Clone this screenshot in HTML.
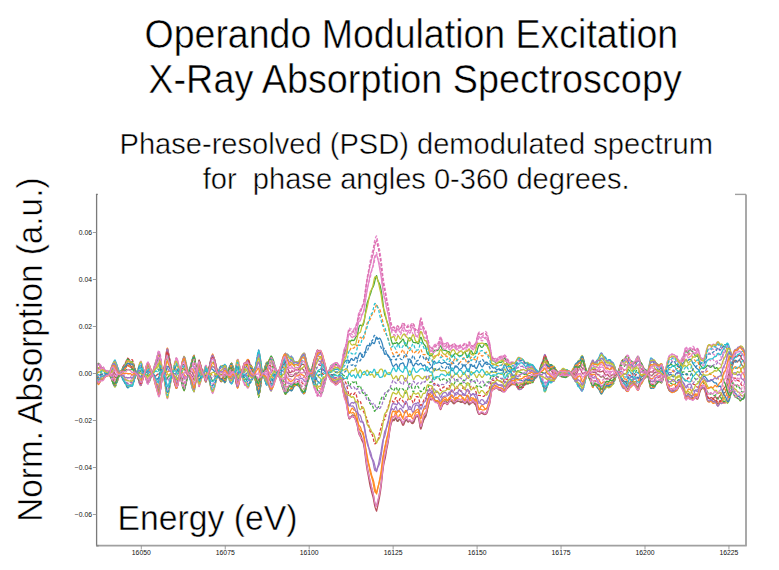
<!DOCTYPE html><html><head><meta charset="utf-8"><style>html,body{margin:0;padding:0;background:#fff;width:779px;height:570px;overflow:hidden}svg{display:block}</style></head><body><svg width="779" height="570" viewBox="0 0 779 570"><rect width="779" height="570" fill="#fff"/><g fill="none" stroke-width="1.25" stroke-linejoin="round" opacity="0.9"><path d="M96.6,378.8 97.1,380.1 97.6,381.4 98.1,382.3 98.6,382.5 99.1,382.1 99.6,381.5 100.1,381.1 100.6,380.9 101.1,380.6 101.6,380.2 102.1,379.8 102.6,379.5 103.1,379.1 103.6,378.5 104.1,377.9 104.6,377.3 105.1,376.9 105.6,376.6 106.1,376.3 106.6,376.1 107.1,375.8 107.6,375.6 108.1,375.3 108.6,375.0 109.1,374.6 109.6,374.0 110.1,373.1 110.6,372.0 111.1,370.9 111.6,370.0 112.1,369.4 112.6,369.3 113.1,369.8 113.6,370.7 114.1,371.9 114.6,373.0 115.1,373.8 115.6,374.4 116.1,374.7 116.6,375.1 117.1,375.3 117.6,375.3 118.1,375.0 118.6,374.7 119.1,374.5 119.6,374.2 120.1,374.0 120.6,373.8 121.1,373.4 121.6,372.9 122.1,372.2 122.6,371.4 123.1,370.6 123.6,369.9 124.1,369.5 124.6,369.1 125.1,368.6 125.6,368.0 126.1,367.1 126.6,366.3 127.1,365.6 127.6,365.2 128.1,365.2 128.6,365.7 129.1,366.2 129.6,366.6 130.1,366.8 130.6,367.1 131.1,367.5 131.6,367.9 132.1,368.1 132.6,368.2 133.1,368.5 133.6,368.9 134.1,369.6 134.6,370.5 135.1,371.4 135.6,372.2 136.1,373.1 136.6,374.0 137.1,375.1 137.6,376.4 138.1,377.8 138.6,379.3 139.1,380.6 139.6,381.9 140.1,382.9 140.6,383.6 141.1,383.9 141.6,382.7 142.1,381.2 142.6,379.7 143.1,378.0 143.6,376.4 144.1,374.8 144.6,373.2 145.1,371.3 145.6,369.1 146.1,367.0 146.6,365.3 147.1,364.2 147.6,363.7 148.1,363.8 148.6,364.9 149.1,366.0 149.6,367.2 150.1,368.5 150.6,369.7 151.1,370.8 151.6,371.8 152.1,372.8 152.6,373.9 153.1,375.1 153.6,376.6 154.1,378.3 154.6,380.2 155.1,382.2 155.6,384.2 156.1,386.1 156.6,388.0 157.1,389.8 157.6,391.5 158.1,393.3 158.6,395.2 159.1,395.8 159.6,394.7 160.1,392.5 160.6,389.1 161.1,385.1 161.6,381.1 162.1,377.5 162.6,374.6 163.1,372.2 163.6,370.1 164.1,367.9 164.6,365.4 165.1,362.6 165.6,359.5 166.1,356.5 166.6,353.9 167.1,352.3 167.6,352.6 168.1,355.0 168.6,357.5 169.1,359.8 169.6,361.8 170.1,363.8 170.6,365.8 171.1,368.2 171.6,370.9 172.1,373.3 172.6,375.4 173.1,377.6 173.6,379.7 174.1,381.6 174.6,383.4 175.1,384.9 175.6,386.5 176.1,388.0 176.6,388.2 177.1,387.1 177.6,385.5 178.1,383.4 178.6,381.0 179.1,378.4 179.6,375.8 180.1,373.4 180.6,371.1 181.1,368.7 181.6,366.7 182.1,365.3 182.6,364.5 183.1,364.3 183.6,364.4 184.1,364.7 184.6,366.0 185.1,367.6 185.6,369.3 186.1,371.1 186.6,372.7 187.1,373.8 187.6,374.3 188.1,374.3 188.6,373.9 189.1,373.5 189.6,373.4 190.1,373.6 190.6,374.2 191.1,375.0 191.6,375.6 192.1,376.2 192.6,376.8 193.1,377.8 193.6,379.0 194.1,380.0 194.6,379.9 195.1,379.4 195.6,378.5 196.1,377.3 196.6,375.4 197.1,372.9 197.6,369.4 198.1,365.3 198.6,361.7 199.1,359.9 199.6,361.2 200.1,363.0 200.6,364.9 201.1,366.8 201.6,368.9 202.1,370.8 202.6,372.5 203.1,374.0 203.6,375.3 204.1,376.9 204.6,378.5 205.1,380.0 205.6,381.1 206.1,380.9 206.6,379.2 207.1,377.2 207.6,375.2 208.1,373.3 208.6,371.3 209.1,369.1 209.6,366.8 210.1,364.2 210.6,361.6 211.1,359.3 211.6,357.6 212.1,356.4 212.6,355.5 213.1,356.2 213.6,357.2 214.1,358.3 214.6,359.9 215.1,361.8 215.6,363.9 216.1,366.0 216.6,368.1 217.1,370.2 217.6,372.2 218.1,374.0 218.6,375.4 219.1,376.8 219.6,377.8 220.1,378.3 220.6,378.5 221.1,378.5 221.6,378.4 222.1,378.3 222.6,377.9 223.1,377.0 223.6,375.8 224.1,374.9 224.6,374.6 225.1,374.8 225.6,375.1 226.1,375.1 226.6,374.8 227.1,374.3 227.6,373.9 228.1,373.7 228.6,373.5 229.1,373.4 229.6,373.4 230.1,373.1 230.6,372.5 231.1,371.6 231.6,370.6 232.1,370.1 232.6,370.0 233.1,370.3 233.6,371.1 234.1,372.3 234.6,373.9 235.1,376.0 235.6,378.6 236.1,381.3 236.6,383.8 237.1,385.7 237.6,387.0 238.1,386.4 238.6,384.7 239.1,382.7 239.6,380.4 240.1,377.9 240.6,375.5 241.1,373.4 241.6,371.6 242.1,370.0 242.6,368.6 243.1,367.0 243.6,365.3 244.1,363.8 244.6,362.9 245.1,362.9 245.6,362.9 246.1,362.5 246.6,361.9 247.1,361.2 247.6,360.9 248.1,361.2 248.6,362.2 249.1,364.3 249.6,366.1 250.1,367.3 250.6,368.0 251.1,368.6 251.6,369.4 252.1,370.6 252.6,371.8 253.1,373.0 253.6,374.0 254.1,375.0 254.6,375.7 255.1,376.1 255.6,376.3 256.1,376.5 256.6,376.9 257.1,377.4 257.6,378.2 258.1,379.1 258.6,380.3 259.1,381.3 259.6,381.9 260.1,381.9 260.6,381.0 261.1,379.1 261.6,376.8 262.1,374.7 262.6,373.3 263.1,372.9 263.6,372.6 264.1,372.3 264.6,371.8 265.1,371.3 265.6,370.9 266.1,370.7 266.6,370.7 267.1,371.3 267.6,372.6 268.1,374.5 268.6,376.6 269.1,378.4 269.6,379.7 270.1,380.8 270.6,381.9 271.1,383.1 271.6,383.7 272.1,384.0 272.6,384.1 273.1,384.0 273.6,383.3 274.1,382.1 274.6,380.5 275.1,379.0 275.6,377.6 276.1,376.5 276.6,375.7 277.1,374.9 277.6,374.0 278.1,372.9 278.6,371.6 279.1,370.1 279.6,368.7 280.1,367.3 280.6,366.0 281.1,365.0 281.6,364.0 282.1,363.0 282.6,362.0 283.1,361.0 283.6,360.2 284.1,359.7 284.6,359.9 285.1,360.8 285.6,362.5 286.1,364.6 286.6,366.3 287.1,367.4 287.6,368.2 288.1,369.2 288.6,370.4 289.1,371.6 289.6,372.5 290.1,372.7 290.6,372.4 291.1,372.1 291.6,371.8 292.1,371.6 292.6,371.5 293.1,371.5 293.6,371.5 294.1,371.2 294.6,370.8 295.1,370.2 295.6,369.9 296.1,369.8 296.6,369.9 297.1,370.0 297.6,370.0 298.1,370.0 298.6,369.6 299.1,369.0 299.6,368.2 300.1,367.1 300.6,366.0 301.1,365.2 301.6,364.7 302.1,364.5 302.6,364.4 303.1,364.3 303.6,364.3 304.1,364.9 304.6,365.8 305.1,367.0 305.6,368.5 306.1,370.0 306.6,371.3 307.1,372.3 307.6,373.2 308.1,374.0 308.6,374.4 309.1,374.5 309.6,374.3 310.1,374.0 310.6,373.6 311.1,373.0 311.6,372.1 312.1,370.7 312.6,368.8 313.1,366.4 313.6,363.9 314.1,361.5 314.6,359.5 315.1,357.7 315.6,355.8 316.1,353.8 316.6,351.9 317.1,350.4 317.6,349.9 318.1,350.5 318.6,351.1 319.1,351.2 319.6,350.7 320.1,350.3 320.6,350.6 321.1,351.9 321.6,354.0 322.1,356.1 322.6,358.0 323.1,359.9 323.6,361.3 324.1,362.6 324.6,363.9 325.1,365.7 325.6,367.8 326.1,370.0 326.6,372.0 327.1,373.5 327.6,374.4 328.1,375.0 328.6,375.7 329.1,376.7 329.6,378.0 330.1,379.3 330.6,380.3 331.1,380.9 331.6,381.1 332.1,381.2 332.6,381.3 333.1,381.6 333.6,381.8 334.1,382.3 334.6,383.1 335.1,383.9 335.6,384.4 336.1,384.6 336.6,384.5 337.1,384.3 337.6,383.9 338.1,383.1 338.6,382.4 339.1,382.0 339.6,381.8 340.1,381.7 340.6,381.5 341.1,381.7 341.6,383.5 342.1,385.8 342.6,388.4 343.1,391.1 343.6,393.7 344.1,395.8 344.6,397.4 345.1,398.7 345.6,400.0 346.1,401.8 346.6,404.3 347.1,407.4 347.6,410.8 348.1,414.5 348.6,417.3 349.1,418.7 349.6,419.0 350.1,418.0 350.6,417.6 351.1,417.3 351.6,417.0 352.1,416.6 352.6,416.5 353.1,416.6 353.6,417.3 354.1,417.5 354.6,417.8 355.1,418.7 355.6,420.2 356.1,421.8 356.6,423.3 357.1,424.8 357.6,427.4 358.1,430.3 358.6,432.8 359.1,434.5 359.6,435.4 360.1,436.2 360.6,437.3 361.1,438.5 361.6,439.7 362.1,440.9 362.6,441.8 363.1,442.7 363.6,444.7 364.1,447.2 364.6,450.6 365.1,454.8 365.6,459.2 366.1,463.2 366.6,466.6 367.1,469.8 367.6,472.5 368.1,475.0 368.6,477.6 369.1,480.4 369.6,483.3 370.1,486.0 370.6,487.8 371.1,489.8 371.6,492.0 372.1,493.9 372.6,495.5 373.1,497.3 373.6,499.8 374.1,502.7 374.6,505.4 375.1,507.4 375.6,508.8 376.1,510.2 376.6,511.2 377.1,508.8 377.6,506.5 378.1,504.3 378.6,502.0 379.1,499.5 379.6,496.8 380.1,493.8 380.6,490.6 381.1,487.0 381.6,482.4 382.1,477.5 382.6,472.9 383.1,468.8 383.6,465.5 384.1,462.9 384.6,460.7 385.1,458.8 385.6,456.2 386.1,453.1 386.6,450.0 387.1,447.4 387.6,445.0 388.1,442.4 388.6,439.1 389.1,435.3 389.6,431.9 390.1,428.7 390.6,426.1 391.1,424.1 391.6,422.5 392.1,421.3 392.6,420.5 393.1,420.3 393.6,420.6 394.1,420.7 394.6,420.1 395.1,419.0 395.6,418.2 396.1,418.6 396.6,419.9 397.1,421.0 397.6,421.3 398.1,420.7 398.6,419.9 399.1,419.4 399.6,419.3 400.1,419.5 400.6,420.2 401.1,421.2 401.6,422.5 402.1,423.8 402.6,424.9 403.1,425.3 403.6,424.9 404.1,423.9 404.6,422.5 405.1,421.3 405.6,420.4 406.1,419.8 406.6,419.9 407.1,420.7 407.6,421.7 408.1,422.1 408.6,421.9 409.1,421.1 409.6,420.7 410.1,420.8 410.6,421.5 411.1,422.4 411.6,423.2 412.1,423.5 412.6,423.5 413.1,423.3 413.6,422.7 414.1,421.7 414.6,420.3 415.1,418.8 415.6,417.7 416.1,417.0 416.6,416.7 417.1,416.4 417.6,416.4 418.1,416.9 418.6,418.4 419.1,421.0 419.6,424.3 420.1,427.3 420.6,429.0 421.1,428.8 421.6,427.1 422.1,424.9 422.6,423.0 423.1,421.6 423.6,420.3 424.1,419.1 424.6,418.1 425.1,417.5 425.6,416.9 426.1,415.0 426.6,412.6 427.1,410.1 427.6,408.0 428.1,406.4 428.6,404.3 429.1,402.2 429.6,400.4 430.1,399.2 430.6,399.0 431.1,399.7 431.6,399.9 432.1,399.7 432.6,399.4 433.1,399.3 433.6,399.7 434.1,400.3 434.6,400.9 435.1,401.4 435.6,401.9 436.1,402.2 436.6,402.4 437.1,402.6 437.6,402.9 438.1,403.5 438.6,404.5 439.1,406.0 439.6,407.7 440.1,409.1 440.6,409.6 441.1,408.9 441.6,407.4 442.1,405.9 442.6,404.9 443.1,404.2 443.6,403.8 444.1,403.5 444.6,403.2 445.1,403.0 445.6,403.1 446.1,403.5 446.6,404.1 447.1,404.6 447.6,404.5 448.1,403.8 448.6,402.8 449.1,401.8 449.6,401.2 450.1,401.0 450.6,401.0 451.1,401.1 451.6,401.4 452.1,401.9 452.6,402.5 453.1,403.2 453.6,403.7 454.1,403.8 454.6,403.5 455.1,402.9 455.6,402.3 456.1,401.9 456.6,401.7 457.1,401.6 457.6,401.5 458.1,401.4 458.6,401.4 459.1,401.4 459.6,401.5 460.1,401.8 460.6,402.2 461.1,402.4 461.6,402.4 462.1,402.1 462.6,401.9 463.1,402.0 463.6,402.4 464.1,403.1 464.6,403.7 465.1,403.8 465.6,403.3 466.1,402.2 466.6,401.1 467.1,400.6 467.6,400.9 468.1,401.9 468.6,403.2 469.1,404.0 469.6,404.1 470.1,403.7 470.6,403.2 471.1,403.1 471.6,403.1 472.1,402.7 472.6,402.1 473.1,401.9 473.6,402.2 474.1,403.1 474.6,404.1 475.1,404.5 475.6,404.5 476.1,405.8 476.6,407.6 477.1,409.8 477.6,411.8 478.1,413.0 478.6,414.0 479.1,414.4 479.6,414.4 480.1,414.0 480.6,413.3 481.1,413.0 481.6,413.1 482.1,413.4 482.6,413.7 483.1,413.9 483.6,414.1 484.1,414.4 484.6,414.5 485.1,414.5 485.6,414.4 486.1,414.2 486.6,413.6 487.1,412.7 487.6,411.2 488.1,409.1 488.6,407.1 489.1,405.6 489.6,404.4 490.1,401.7 490.6,398.1 491.1,394.3 491.6,391.5 492.1,390.5 492.6,389.9 493.1,389.7 493.6,389.7 494.1,389.5 494.6,389.0 495.1,388.6 495.6,388.1 496.1,387.8 496.6,387.8 497.1,388.1 497.6,388.6 498.1,389.1 498.6,389.6 499.1,389.9 499.6,390.0 500.1,390.2 500.6,390.5 501.1,390.7 501.6,391.0 502.1,391.4 502.6,391.7 503.1,391.8 503.6,391.7 504.1,391.5 504.6,391.4 505.1,391.1 505.6,390.7 506.1,390.0 506.6,389.2 507.1,388.5 507.6,387.9 508.1,387.5 508.6,387.1 509.1,386.7 509.6,386.2 510.1,385.7 510.6,385.2 511.1,384.7 511.6,384.2 512.1,383.9 512.6,383.7 513.1,383.7 513.6,384.0 514.1,384.4 514.6,384.5 515.1,384.3 515.6,383.9 516.1,383.8 516.6,384.2 517.1,385.0 517.6,386.0 518.1,386.6 518.6,386.6 519.1,386.2 519.6,385.7 520.1,385.1 520.6,384.8 521.1,384.7 521.6,384.6 522.1,384.6 522.6,384.5 523.1,384.3 523.6,383.6 524.1,382.7 524.6,381.8 525.1,381.0 525.6,380.5 526.1,380.1 526.6,379.8 527.1,379.4 527.6,378.8 528.1,378.3 528.6,378.1 529.1,378.1 529.6,378.2 530.1,378.2 530.6,377.8 531.1,377.4 531.6,376.9 532.1,376.7 532.6,376.7 533.1,376.8 533.6,376.9 534.1,376.9 534.6,376.7 535.1,376.2 535.6,375.8 536.1,375.5 536.6,375.1 537.1,374.7 537.6,374.3 538.1,374.1 538.6,373.9 539.1,373.4 539.6,372.6 540.1,371.3 540.6,369.8 541.1,368.5 541.6,367.4 542.1,366.5 542.6,365.5 543.1,364.3 543.6,362.9 544.1,361.7 544.6,360.8 545.1,361.2 545.6,362.4 546.1,363.8 546.6,365.1 547.1,366.2 547.6,366.9 548.1,367.5 548.6,368.1 549.1,368.7 549.6,369.2 550.1,369.5 550.6,369.9 551.1,370.4 551.6,371.1 552.1,371.9 552.6,372.8 553.1,373.6 553.6,374.3 554.1,374.8 554.6,375.0 555.1,374.8 555.6,374.5 556.1,374.2 556.6,373.8 557.1,373.3 557.6,373.0 558.1,372.7 558.6,372.6 559.1,372.6 559.6,372.7 560.1,372.7 560.6,372.7 561.1,372.8 561.6,372.9 562.1,372.9 562.6,372.9 563.1,372.8 563.6,372.8 564.1,372.8 564.6,372.9 565.1,373.0 565.6,373.2 566.1,373.4 566.6,373.5 567.1,373.2 567.6,372.7 568.1,372.1 568.6,371.7 569.1,371.5 569.6,371.5 570.1,371.5 570.6,371.6 571.1,371.8 571.6,372.2 572.1,372.6 572.6,373.1 573.1,373.6 573.6,374.1 574.1,374.5 574.6,374.9 575.1,375.2 575.6,375.4 576.1,375.0 576.6,374.1 577.1,372.7 577.6,371.4 578.1,370.4 578.6,369.7 579.1,369.2 579.6,368.8 580.1,368.8 580.6,369.3 581.1,370.5 581.6,371.8 582.1,373.0 582.6,373.7 583.1,374.0 583.6,373.7 584.1,373.2 584.6,372.7 585.1,372.4 585.6,372.6 586.1,373.1 586.6,373.8 587.1,374.2 587.6,374.2 588.1,374.0 588.6,373.7 589.1,373.1 589.6,372.3 590.1,371.3 590.6,370.3 591.1,369.5 591.6,369.1 592.1,369.0 592.6,369.1 593.1,369.4 593.6,369.8 594.1,369.9 594.6,369.8 595.1,369.6 595.6,369.8 596.1,370.2 596.6,370.6 597.1,371.0 597.6,371.2 598.1,371.3 598.6,371.5 599.1,371.7 599.6,371.9 600.1,371.9 600.6,371.8 601.1,371.7 601.6,371.6 602.1,371.4 602.6,371.2 603.1,371.3 603.6,371.8 604.1,372.8 604.6,373.9 605.1,374.8 605.6,375.3 606.1,375.3 606.6,375.1 607.1,374.7 607.6,374.6 608.1,375.0 608.6,375.7 609.1,376.4 609.6,376.8 610.1,376.7 610.6,376.2 611.1,375.6 611.6,375.1 612.1,374.9 612.6,374.8 613.1,374.8 613.6,374.8 614.1,374.5 614.6,374.0 615.1,373.4 615.6,372.9 616.1,372.8 616.6,373.1 617.1,373.7 617.6,374.3 618.1,374.7 618.6,375.1 619.1,375.3 619.6,375.9 620.1,376.7 620.6,378.0 621.1,379.2 621.6,380.3 622.1,381.0 622.6,381.3 623.1,381.8 623.6,382.6 624.1,383.4 624.6,384.1 625.1,384.8 625.6,385.5 626.1,386.3 626.6,387.2 627.1,388.1 627.6,388.9 628.1,389.5 628.6,389.7 629.1,389.0 629.6,387.9 630.1,386.8 630.6,385.8 631.1,385.0 631.6,384.4 632.1,384.0 632.6,383.8 633.1,384.1 633.6,384.4 634.1,384.7 634.6,385.0 635.1,385.4 635.6,385.8 636.1,386.4 636.6,387.2 637.1,388.0 637.6,388.7 638.1,388.6 638.6,387.4 639.1,385.6 639.6,383.5 640.1,381.7 640.6,380.4 641.1,379.7 641.6,379.3 642.1,379.0 642.6,378.6 643.1,378.2 643.6,377.8 644.1,377.3 644.6,376.8 645.1,376.3 645.6,375.9 646.1,375.5 646.6,375.0 647.1,374.4 647.6,373.8 648.1,373.1 648.6,372.6 649.1,372.4 649.6,372.3 650.1,372.1 650.6,371.9 651.1,371.9 651.6,372.0 652.1,372.0 652.6,371.8 653.1,371.3 653.6,370.6 654.1,369.8 654.6,369.2 655.1,369.1 655.6,369.3 656.1,369.6 656.6,369.8 657.1,369.8 657.6,369.8 658.1,369.9 658.6,370.0 659.1,370.0 659.6,369.7 660.1,368.9 660.6,368.2 661.1,367.6 661.6,367.3 662.1,367.8 662.6,368.6 663.1,369.8 663.6,371.2 664.1,372.7 664.6,374.2 665.1,375.9 665.6,377.9 666.1,380.2 666.6,382.6 667.1,384.9 667.6,386.8 668.1,388.2 668.6,389.2 669.1,390.0 669.6,390.6 670.1,390.7 670.6,391.1 671.1,391.3 671.6,391.3 672.1,391.1 672.6,390.9 673.1,390.6 673.6,390.6 674.1,390.7 674.6,390.6 675.1,390.2 675.6,389.8 676.1,389.7 676.6,389.6 677.1,389.4 677.6,388.5 678.1,387.3 678.6,385.9 679.1,385.0 679.6,384.8 680.1,385.2 680.6,385.6 681.1,386.8 681.6,387.7 682.1,388.3 682.6,389.0 683.1,389.8 683.6,391.0 684.1,392.8 684.6,395.1 685.1,397.5 685.6,399.1 686.1,399.7 686.6,399.3 687.1,398.1 687.6,397.1 688.1,396.7 688.6,397.2 689.1,397.9 689.6,398.3 690.1,398.2 690.6,398.0 691.1,397.9 691.6,398.1 692.1,398.5 692.6,398.9 693.1,399.1 693.6,399.2 694.1,399.0 694.6,398.4 695.1,397.8 695.6,397.7 696.1,398.0 696.6,398.7 697.1,399.2 697.6,399.1 698.1,398.2 698.6,396.6 699.1,394.3 699.6,392.0 700.1,390.3 700.6,389.4 701.1,389.0 701.6,388.6 702.1,388.0 702.6,387.3 703.1,387.2 703.6,387.7 704.1,388.4 704.6,389.1 705.1,389.9 705.6,391.0 706.1,392.5 706.6,394.1 707.1,395.7 707.6,396.9 708.1,397.8 708.6,398.3 709.1,398.7 709.6,398.8 710.1,398.3 710.6,397.8 711.1,397.5 711.6,397.6 712.1,398.0 712.6,398.4 713.1,398.6 713.6,398.3 714.1,397.7 714.6,397.0 715.1,396.7 715.6,396.9 716.1,397.7 716.6,398.5 717.1,399.0 717.6,398.9 718.1,398.4 718.6,397.7 719.1,396.9 719.6,396.0 720.1,395.4 720.6,395.0 721.1,394.6 721.6,393.8 722.1,392.5 722.6,391.1 723.1,389.7 723.6,388.7 724.1,388.0 724.6,387.5 725.1,386.8 725.6,385.6 726.1,383.9 726.6,382.0 727.1,380.0 727.6,377.9 728.1,375.8 728.6,373.7 729.1,371.6 729.6,369.5 730.1,367.7 730.6,366.1 731.1,364.9 731.6,364.1 732.1,363.4 732.6,362.5 733.1,360.8 733.6,359.4 734.1,358.3 734.6,357.4 735.1,356.7 735.6,356.2 736.1,356.2 736.6,356.5 737.1,356.6 737.6,356.3 738.1,355.8 738.6,355.6 739.1,355.3 739.6,355.1 740.1,355.3 740.6,356.2 741.1,357.4 741.6,358.7 742.1,359.6 742.6,360.0 743.1,360.2 743.6,360.8 744.1,362.3 744.6,364.5 745.1,366.6 745.6,368.1" stroke="#b03a48"/><path d="M96.6,376.9 97.1,377.9 97.6,379.0 98.1,379.7 98.6,379.8 99.1,379.4 99.6,379.0 100.1,378.9 100.6,379.3 101.1,379.5 101.6,379.5 102.1,379.5 102.6,379.3 103.1,379.0 103.6,378.5 104.1,377.8 104.6,377.1 105.1,376.4 105.6,375.9 106.1,375.4 106.6,375.1 107.1,375.0 107.6,375.1 108.1,375.4 108.6,375.5 109.1,375.3 109.6,374.7 110.1,373.8 110.6,372.8 111.1,372.2 111.6,371.8 112.1,371.8 112.6,372.1 113.1,372.7 113.6,373.8 114.1,375.1 114.6,376.4 115.1,377.3 115.6,377.7 116.1,377.7 116.6,377.4 117.1,377.0 117.6,376.5 118.1,376.0 118.6,375.6 119.1,375.2 119.6,374.8 120.1,374.2 120.6,373.7 121.1,372.9 121.6,372.0 122.1,371.0 122.6,370.2 123.1,369.5 123.6,368.8 124.1,368.2 124.6,367.6 125.1,366.9 125.6,366.0 126.1,365.0 126.6,364.1 127.1,363.4 127.6,363.0 128.1,363.1 128.6,363.6 129.1,364.3 129.6,364.8 130.1,365.3 130.6,365.7 131.1,366.1 131.6,366.4 132.1,366.6 132.6,366.6 133.1,367.1 133.6,367.6 134.1,368.3 134.6,369.2 135.1,370.2 135.6,371.1 136.1,372.1 136.6,373.1 137.1,374.3 137.6,376.1 138.1,378.1 138.6,380.1 139.1,382.0 139.6,383.5 140.1,384.5 140.6,385.2 141.1,385.2 141.6,383.5 142.1,381.7 142.6,380.0 143.1,378.4 143.6,377.0 144.1,375.5 144.6,374.0 145.1,372.3 145.6,370.5 146.1,368.7 146.6,367.1 147.1,366.0 147.6,365.4 148.1,365.4 148.6,366.4 149.1,367.3 149.6,368.3 150.1,369.5 150.6,370.8 151.1,372.0 151.6,373.2 152.1,374.2 152.6,374.9 153.1,375.7 153.6,376.9 154.1,378.4 154.6,380.0 155.1,381.5 155.6,382.8 156.1,384.1 156.6,385.3 157.1,386.5 157.6,387.5 158.1,388.7 158.6,390.5 159.1,391.9 159.6,392.2 160.1,391.4 160.6,389.2 161.1,385.8 161.6,382.0 162.1,378.2 162.6,374.9 163.1,372.3 163.6,370.1 164.1,368.0 164.6,365.4 165.1,362.2 165.6,358.4 166.1,354.7 166.6,351.5 167.1,349.3 167.6,349.3 168.1,351.7 168.6,354.2 169.1,356.6 169.6,359.0 170.1,361.4 170.6,364.1 171.1,367.0 171.6,369.9 172.1,372.6 172.6,374.7 173.1,376.9 173.6,379.1 174.1,381.1 174.6,383.0 175.1,384.7 175.6,386.4 176.1,388.0 176.6,388.3 177.1,387.3 177.6,385.8 178.1,383.8 178.6,381.4 179.1,378.9 179.6,376.5 180.1,374.4 180.6,372.5 181.1,370.8 181.6,369.5 182.1,368.8 182.6,368.5 183.1,368.6 183.6,368.8 184.1,369.0 184.6,369.6 185.1,370.4 185.6,371.4 186.1,372.5 186.6,373.6 187.1,374.5 187.6,374.8 188.1,374.6 188.6,373.9 189.1,373.1 189.6,372.4 190.1,371.9 190.6,371.7 191.1,371.8 191.6,372.0 192.1,372.4 192.6,373.1 193.1,374.1 193.6,375.3 194.1,376.4 194.6,376.8 195.1,376.8 195.6,376.5 196.1,375.6 196.6,374.2 197.1,372.1 197.6,369.1 198.1,365.7 198.6,362.5 199.1,360.6 199.6,361.6 200.1,363.0 200.6,364.6 201.1,366.4 201.6,368.3 202.1,370.2 202.6,372.0 203.1,373.5 203.6,375.0 204.1,376.7 204.6,378.7 205.1,380.7 205.6,382.1 206.1,382.1 206.6,380.2 207.1,377.8 207.6,375.2 208.1,373.0 208.6,370.7 209.1,368.3 209.6,365.9 210.1,363.4 210.6,361.0 211.1,358.9 211.6,357.4 212.1,356.4 212.6,355.5 213.1,356.2 213.6,357.1 214.1,358.1 214.6,359.7 215.1,361.7 215.6,364.1 216.1,366.4 216.6,368.5 217.1,370.5 217.6,372.5 218.1,374.2 218.6,375.7 219.1,376.9 219.6,377.9 220.1,378.4 220.6,378.7 221.1,378.9 221.6,379.1 222.1,379.1 222.6,378.8 223.1,378.1 223.6,377.3 224.1,376.9 224.6,377.1 225.1,377.3 225.6,377.2 226.1,376.6 226.6,375.7 227.1,374.6 227.6,373.7 228.1,373.1 228.6,372.4 229.1,371.8 229.6,371.2 230.1,370.4 230.6,369.5 231.1,368.3 231.6,367.1 232.1,366.8 232.6,367.0 233.1,367.9 233.6,369.6 234.1,371.9 234.6,374.4 235.1,377.1 235.6,380.0 236.1,382.7 236.6,385.0 237.1,386.6 237.6,387.6 238.1,386.6 238.6,384.5 239.1,382.3 239.6,380.0 240.1,377.5 240.6,375.1 241.1,373.0 241.6,371.2 242.1,369.6 242.6,368.2 243.1,366.6 243.6,365.0 244.1,363.7 244.6,362.9 245.1,362.9 245.6,362.8 246.1,362.3 246.6,361.4 247.1,360.3 247.6,359.5 248.1,359.6 248.6,360.5 249.1,362.8 249.6,365.0 250.1,366.4 250.6,367.1 251.1,367.4 251.6,367.9 252.1,368.8 252.6,370.1 253.1,371.3 253.6,372.5 254.1,374.0 254.6,375.5 255.1,376.9 255.6,378.2 256.1,379.4 256.6,380.6 257.1,381.9 257.6,383.3 258.1,384.7 258.6,386.2 259.1,386.7 259.6,386.5 260.1,385.6 260.6,383.9 261.1,381.3 261.6,378.3 262.1,375.5 262.6,373.4 263.1,372.5 263.6,371.9 264.1,371.3 264.6,370.7 265.1,369.9 265.6,369.3 266.1,368.9 266.6,368.9 267.1,369.6 267.6,370.8 268.1,372.3 268.6,373.9 269.1,375.2 269.6,376.1 270.1,376.8 270.6,377.7 271.1,378.8 271.6,379.6 272.1,380.2 272.6,380.8 273.1,381.2 273.6,381.2 274.1,380.6 274.6,379.6 275.1,378.3 275.6,377.1 276.1,376.2 276.6,375.6 277.1,375.1 277.6,374.4 278.1,373.6 278.6,372.6 279.1,371.3 279.6,369.9 280.1,368.4 280.6,367.2 281.1,366.4 281.6,366.1 282.1,365.9 282.6,365.6 283.1,364.9 283.6,364.1 284.1,363.6 284.6,363.9 285.1,365.2 285.6,367.3 286.1,369.8 286.6,371.5 287.1,372.5 287.6,372.9 288.1,373.5 288.6,374.5 289.1,375.5 289.6,376.2 290.1,376.4 290.6,376.4 291.1,376.5 291.6,376.6 292.1,376.5 292.6,376.3 293.1,375.9 293.6,375.5 294.1,374.8 294.6,374.1 295.1,373.5 295.6,373.1 296.1,373.0 296.6,373.0 297.1,373.0 297.6,373.0 298.1,372.8 298.6,372.5 299.1,372.1 299.6,371.3 300.1,370.3 300.6,369.3 301.1,368.7 301.6,368.5 302.1,368.6 302.6,369.0 303.1,369.4 303.6,370.0 304.1,370.9 304.6,371.8 305.1,372.8 305.6,373.8 306.1,375.0 306.6,376.2 307.1,377.1 307.6,377.7 308.1,377.7 308.6,377.4 309.1,376.7 309.6,375.7 310.1,374.6 310.6,373.4 311.1,372.1 311.6,370.6 312.1,368.8 312.6,366.6 313.1,364.1 313.6,361.6 314.1,359.5 314.6,358.0 315.1,356.7 315.6,355.3 316.1,353.8 316.6,352.4 317.1,351.4 317.6,351.3 318.1,352.2 318.6,353.0 319.1,353.2 319.6,352.7 320.1,352.2 320.6,352.4 321.1,353.7 321.6,355.7 322.1,357.9 322.6,359.7 323.1,361.5 323.6,362.9 324.1,364.1 324.6,365.4 325.1,367.0 325.6,369.1 326.1,371.2 326.6,373.1 327.1,374.3 327.6,375.0 328.1,375.5 328.6,375.9 329.1,376.5 329.6,377.1 330.1,377.8 330.6,378.4 331.1,378.9 331.6,379.4 332.1,380.0 332.6,380.8 333.1,381.8 333.6,382.3 334.1,382.7 334.6,383.2 335.1,383.6 335.6,383.9 336.1,383.9 336.6,383.9 337.1,383.8 337.6,383.5 338.1,382.7 338.6,381.8 339.1,381.1 339.6,380.6 340.1,380.3 340.6,380.1 341.1,380.2 341.6,381.8 342.1,383.7 342.6,386.2 343.1,388.8 343.6,391.5 344.1,393.7 344.6,395.3 345.1,396.5 345.6,397.7 346.1,399.7 346.6,402.5 347.1,405.9 347.6,409.6 348.1,413.4 348.6,416.3 349.1,417.9 349.6,418.2 350.1,417.2 350.6,416.8 351.1,416.5 351.6,416.0 352.1,415.4 352.6,414.9 353.1,414.8 353.6,415.4 354.1,415.5 354.6,415.6 355.1,416.2 355.6,417.4 356.1,419.0 356.6,420.7 357.1,422.7 357.6,425.6 358.1,428.6 358.6,430.8 359.1,432.1 359.6,432.6 360.1,433.0 360.6,434.0 361.1,435.6 361.6,437.3 362.1,438.9 362.6,439.9 363.1,440.8 363.6,442.5 364.1,444.8 364.6,447.9 365.1,451.5 365.6,455.3 366.1,458.9 366.6,462.3 367.1,465.7 367.6,468.5 368.1,471.1 368.6,473.6 369.1,476.4 369.6,479.4 370.1,482.2 370.6,484.0 371.1,485.9 371.6,487.8 372.1,489.5 372.6,491.2 373.1,493.3 373.6,496.2 374.1,499.4 374.6,502.1 375.1,503.8 375.6,504.7 376.1,505.6 376.6,506.3 377.1,504.2 377.6,502.5 378.1,500.6 378.6,498.3 379.1,495.6 379.6,492.5 380.1,489.4 380.6,486.3 381.1,483.0 381.6,478.7 382.1,474.2 382.6,469.8 383.1,465.8 383.6,462.4 384.1,459.7 384.6,457.4 385.1,455.3 385.6,452.8 386.1,449.9 386.6,447.1 387.1,444.8 387.6,442.7 388.1,440.2 388.6,436.9 389.1,433.0 389.6,429.7 390.1,426.5 390.6,424.0 391.1,422.1 391.6,420.6 392.1,419.5 392.6,419.1 393.1,419.1 393.6,419.6 394.1,419.9 394.6,419.4 395.1,418.5 395.6,417.9 396.1,418.2 396.6,419.5 397.1,420.8 397.6,421.4 398.1,421.1 398.6,420.5 399.1,419.9 399.6,419.4 400.1,419.3 400.6,419.5 401.1,420.1 401.6,421.0 402.1,422.0 402.6,422.7 403.1,423.2 403.6,423.1 404.1,422.5 404.6,421.7 405.1,420.9 405.6,420.3 406.1,419.9 406.6,419.9 407.1,420.4 407.6,421.0 408.1,421.4 408.6,421.0 409.1,420.4 409.6,420.0 410.1,420.2 410.6,420.9 411.1,421.7 411.6,422.3 412.1,422.7 412.6,422.7 413.1,422.5 413.6,421.9 414.1,420.7 414.6,419.0 415.1,417.2 415.6,415.8 416.1,415.2 416.6,415.1 417.1,415.0 417.6,415.0 418.1,415.3 418.6,416.4 419.1,418.7 419.6,422.0 420.1,425.2 420.6,427.2 421.1,427.5 421.6,426.3 422.1,424.6 422.6,422.9 423.1,421.3 423.6,419.5 424.1,417.8 424.6,416.6 425.1,416.2 425.6,416.2 426.1,415.1 426.6,413.4 427.1,411.2 427.6,408.9 428.1,406.7 428.6,403.9 429.1,401.1 429.6,399.0 430.1,398.0 430.6,398.0 431.1,398.9 431.6,399.3 432.1,398.9 432.6,398.3 433.1,397.9 433.6,398.1 434.1,398.7 434.6,399.4 435.1,400.1 435.6,400.7 436.1,401.0 436.6,401.0 437.1,401.0 437.6,401.2 438.1,401.6 438.6,402.3 439.1,403.7 439.6,405.7 440.1,407.5 440.6,408.4 441.1,408.0 441.6,406.6 442.1,404.8 442.6,403.5 443.1,402.6 443.6,402.1 444.1,401.6 444.6,401.2 445.1,400.8 445.6,400.8 446.1,401.2 446.6,402.1 447.1,402.8 447.6,402.9 448.1,402.2 448.6,401.0 449.1,399.9 449.6,399.4 450.1,399.5 450.6,400.0 451.1,400.6 451.6,401.2 452.1,401.8 452.6,402.4 453.1,402.8 453.6,402.9 454.1,402.6 454.6,401.8 455.1,400.8 455.6,400.0 456.1,399.7 456.6,400.0 457.1,400.4 457.6,400.9 458.1,401.2 458.6,401.4 459.1,401.5 459.6,401.6 460.1,401.7 460.6,402.0 461.1,402.1 461.6,401.9 462.1,401.4 462.6,400.9 463.1,400.8 463.6,401.2 464.1,402.0 464.6,402.8 465.1,403.2 465.6,403.1 466.1,402.5 466.6,402.0 467.1,401.8 467.6,402.3 468.1,403.3 468.6,404.4 469.1,404.9 469.6,404.6 470.1,403.7 470.6,402.9 471.1,402.3 471.6,401.8 472.1,401.0 472.6,400.1 473.1,399.7 473.6,400.0 474.1,401.1 474.6,402.3 475.1,403.1 475.6,403.6 476.1,405.3 476.6,407.3 477.1,409.4 477.6,411.3 478.1,412.4 478.6,413.4 479.1,413.7 479.6,413.6 480.1,413.1 480.6,412.5 481.1,412.3 481.6,412.5 482.1,412.9 482.6,413.2 483.1,413.4 483.6,413.5 484.1,413.6 484.6,413.5 485.1,413.4 485.6,413.2 486.1,412.8 486.6,412.1 487.1,411.1 487.6,409.5 488.1,407.3 488.6,405.2 489.1,403.6 489.6,402.1 490.1,399.2 490.6,395.6 491.1,391.8 491.6,389.1 492.1,388.3 492.6,388.2 493.1,388.4 493.6,388.7 494.1,388.7 494.6,388.4 495.1,388.2 495.6,387.8 496.1,387.5 496.6,387.5 497.1,387.7 497.6,388.2 498.1,388.9 498.6,389.6 499.1,389.9 499.6,389.9 500.1,389.7 500.6,389.7 501.1,389.9 501.6,390.3 502.1,390.7 502.6,390.9 503.1,390.6 503.6,390.2 504.1,389.7 504.6,389.5 505.1,389.2 505.6,388.7 506.1,388.1 506.6,387.5 507.1,386.9 507.6,386.6 508.1,386.4 508.6,386.1 509.1,385.8 509.6,385.4 510.1,385.1 510.6,384.9 511.1,384.8 511.6,384.6 512.1,384.6 512.6,384.5 513.1,384.3 513.6,384.3 514.1,384.3 514.6,384.4 515.1,384.6 515.6,384.7 516.1,385.1 516.6,385.8 517.1,386.8 517.6,387.8 518.1,388.4 518.6,388.5 519.1,388.2 519.6,388.0 520.1,387.5 520.6,387.3 521.1,387.1 521.6,386.7 522.1,386.2 522.6,385.5 523.1,384.8 523.6,384.0 524.1,383.4 524.6,383.1 525.1,383.0 525.6,383.0 526.1,382.7 526.6,382.4 527.1,381.8 527.6,381.1 528.1,380.5 528.6,380.1 529.1,380.3 529.6,380.6 530.1,380.7 530.6,380.2 531.1,379.5 531.6,378.8 532.1,378.3 532.6,378.1 533.1,378.1 533.6,378.0 534.1,377.9 534.6,377.5 535.1,377.1 535.6,376.5 536.1,376.1 536.6,375.6 537.1,375.1 537.6,374.7 538.1,374.2 538.6,373.5 539.1,372.5 539.6,371.3 540.1,369.9 540.6,368.5 541.1,367.2 541.6,366.1 542.1,365.1 542.6,363.9 543.1,362.4 543.6,360.7 544.1,359.0 544.6,357.6 545.1,357.8 545.6,358.9 546.1,360.4 546.6,361.8 547.1,363.1 547.6,364.2 548.1,365.2 548.6,366.2 549.1,367.0 549.6,367.7 550.1,368.1 550.6,368.6 551.1,369.2 551.6,369.8 552.1,370.5 552.6,371.2 553.1,371.8 553.6,372.4 554.1,372.9 554.6,373.2 555.1,373.3 555.6,373.2 556.1,372.9 556.6,372.6 557.1,372.3 557.6,372.1 558.1,372.0 558.6,372.3 559.1,372.6 559.6,372.9 560.1,373.1 560.6,373.3 561.1,373.6 561.6,373.9 562.1,374.2 562.6,374.2 563.1,374.1 563.6,373.9 564.1,373.7 564.6,373.5 565.1,373.3 565.6,373.2 566.1,373.2 566.6,373.3 567.1,373.3 567.6,373.3 568.1,373.0 568.6,372.7 569.1,372.4 569.6,372.2 570.1,372.1 570.6,372.0 571.1,372.0 571.6,372.1 572.1,372.3 572.6,372.6 573.1,372.8 573.6,373.0 574.1,373.1 574.6,373.1 575.1,372.9 575.6,372.6 576.1,372.0 576.6,371.0 577.1,369.8 577.6,368.5 578.1,367.4 578.6,366.6 579.1,366.0 579.6,365.6 580.1,365.6 580.6,365.8 581.1,366.4 581.6,367.1 582.1,367.8 582.6,368.4 583.1,368.7 583.6,368.9 584.1,369.0 584.6,369.4 585.1,370.0 585.6,370.8 586.1,371.7 586.6,372.5 587.1,373.0 587.6,373.4 588.1,373.7 588.6,374.0 589.1,374.3 589.6,374.3 590.1,374.0 590.6,373.4 591.1,372.7 591.6,372.2 592.1,372.0 592.6,372.0 593.1,372.2 593.6,372.3 594.1,372.3 594.6,372.1 595.1,372.1 595.6,372.4 596.1,373.0 596.6,373.7 597.1,374.1 597.6,374.3 598.1,374.4 598.6,374.7 599.1,375.2 599.6,375.8 600.1,376.4 600.6,376.9 601.1,377.2 601.6,377.1 602.1,376.7 602.6,376.5 603.1,376.5 603.6,376.8 604.1,377.4 604.6,378.1 605.1,378.7 605.6,379.0 606.1,378.9 606.6,378.5 607.1,378.2 607.6,378.1 608.1,378.4 608.6,378.9 609.1,379.4 609.6,379.7 610.1,379.5 610.6,379.0 611.1,378.5 611.6,377.9 612.1,377.5 612.6,377.4 613.1,377.3 613.6,377.1 614.1,376.6 614.6,375.8 615.1,374.9 615.6,374.2 616.1,374.0 616.6,374.1 617.1,374.5 617.6,374.9 618.1,375.1 618.6,375.1 619.1,375.2 619.6,375.5 620.1,376.0 620.6,376.7 621.1,377.6 621.6,378.4 622.1,379.2 622.6,379.7 623.1,380.1 623.6,380.7 624.1,381.1 624.6,381.4 625.1,381.7 625.6,382.0 626.1,382.7 626.6,383.6 627.1,384.7 627.6,385.7 628.1,386.4 628.6,386.5 629.1,386.0 629.6,385.2 630.1,384.4 630.6,383.5 631.1,382.7 631.6,382.0 632.1,381.5 632.6,381.6 633.1,382.1 633.6,382.7 634.1,383.3 634.6,383.8 635.1,384.3 635.6,384.6 636.1,385.0 636.6,385.6 637.1,386.3 637.6,386.9 638.1,386.8 638.6,385.7 639.1,384.0 639.6,382.0 640.1,379.9 640.6,378.3 641.1,377.2 641.6,376.7 642.1,376.4 642.6,376.2 643.1,375.9 643.6,375.5 644.1,375.1 644.6,374.7 645.1,374.4 645.6,374.1 646.1,373.8 646.6,373.4 647.1,373.0 647.6,372.7 648.1,372.6 648.6,372.8 649.1,373.5 649.6,374.3 650.1,375.1 650.6,375.6 651.1,375.8 651.6,375.7 652.1,375.4 652.6,374.9 653.1,374.4 653.6,373.7 654.1,373.1 654.6,372.6 655.1,372.5 655.6,372.7 656.1,372.8 656.6,372.5 657.1,372.0 657.6,371.7 658.1,371.6 658.6,371.8 659.1,372.1 659.6,372.2 660.1,371.9 660.6,371.4 661.1,370.9 661.6,370.4 662.1,370.4 662.6,370.6 663.1,371.0 663.6,371.7 664.1,372.6 664.6,373.8 665.1,375.3 665.6,377.2 666.1,379.4 666.6,381.8 667.1,384.1 667.6,386.2 668.1,387.9 668.6,389.3 669.1,390.4 669.6,391.1 670.1,391.2 670.6,391.5 671.1,391.9 671.6,392.1 672.1,392.0 672.6,391.7 673.1,391.3 673.6,391.3 674.1,391.6 674.6,391.7 675.1,391.5 675.6,391.1 676.1,390.8 676.6,390.6 677.1,390.1 677.6,389.3 678.1,388.3 678.6,387.2 679.1,386.5 679.6,386.3 680.1,386.3 680.6,386.1 681.1,386.6 681.6,386.7 682.1,386.9 682.6,387.2 683.1,387.9 683.6,389.0 684.1,390.5 684.6,392.5 685.1,394.6 685.6,396.2 686.1,396.7 686.6,396.4 687.1,395.2 687.6,394.1 688.1,393.6 688.6,393.8 689.1,394.4 689.6,394.8 690.1,394.9 690.6,395.0 691.1,395.4 691.6,396.2 692.1,397.0 692.6,397.7 693.1,398.0 693.6,397.9 694.1,397.4 694.6,396.7 695.1,396.1 695.6,396.0 696.1,396.3 696.6,396.9 697.1,397.3 697.6,397.4 698.1,397.2 698.6,396.4 699.1,394.9 699.6,393.0 700.1,391.3 700.6,390.2 701.1,389.6 701.6,389.1 702.1,388.4 702.6,387.6 703.1,387.4 703.6,387.9 704.1,388.7 704.6,389.7 705.1,390.9 705.6,392.6 706.1,394.7 706.6,396.9 707.1,398.8 707.6,400.3 708.1,401.2 708.6,401.6 709.1,401.8 709.6,401.6 710.1,401.1 710.6,400.4 711.1,400.1 711.6,400.2 712.1,400.6 712.6,401.3 713.1,401.8 713.6,401.8 714.1,401.4 714.6,400.9 715.1,400.6 715.6,400.8 716.1,401.6 716.6,402.7 717.1,403.6 717.6,404.0 718.1,403.9 718.6,403.3 719.1,402.4 719.6,401.4 720.1,400.9 720.6,400.7 721.1,400.5 721.6,399.8 722.1,398.4 722.6,396.7 723.1,395.0 723.6,393.7 724.1,392.9 724.6,392.6 725.1,392.3 725.6,391.5 726.1,390.1 726.6,388.4 727.1,386.5 727.6,384.7 728.1,382.6 728.6,380.3 729.1,377.8 729.6,375.3 730.1,372.8 730.6,370.7 731.1,369.0 731.6,367.7 732.1,366.6 732.6,365.4 733.1,363.9 733.6,362.5 734.1,361.6 734.6,360.8 735.1,360.4 735.6,360.3 736.1,360.8 736.6,361.6 737.1,362.1 737.6,361.9 738.1,361.2 738.6,360.6 739.1,360.2 739.6,360.3 740.1,360.9 740.6,362.0 741.1,363.3 741.6,364.5 742.1,365.4 742.6,365.8 743.1,366.2 743.6,367.0 744.1,368.6 744.6,370.9 745.1,373.1 745.6,374.5" stroke="#8c564b"/><path d="M96.6,374.2 97.1,375.3 97.6,376.6 98.1,377.7 98.6,378.3 99.1,378.4 99.6,378.4 100.1,378.3 100.6,378.4 101.1,378.4 101.6,378.3 102.1,378.3 102.6,378.3 103.1,378.0 103.6,377.4 104.1,376.5 104.6,375.7 105.1,375.2 105.6,374.8 106.1,374.5 106.6,374.1 107.1,373.9 107.6,373.8 108.1,374.1 108.6,374.4 109.1,374.7 109.6,374.9 110.1,374.8 110.6,374.6 111.1,374.5 111.6,374.5 112.1,374.8 112.6,375.4 113.1,376.1 113.6,377.1 114.1,378.1 114.6,379.2 115.1,379.9 115.6,379.9 116.1,379.7 116.6,379.4 117.1,379.0 117.6,378.3 118.1,377.4 118.6,376.6 119.1,375.8 119.6,375.1 120.1,374.3 120.6,373.7 121.1,372.8 121.6,371.7 122.1,370.4 122.6,369.1 123.1,367.9 123.6,366.9 124.1,366.3 124.6,365.9 125.1,365.6 125.6,364.9 126.1,364.0 126.6,362.9 127.1,362.0 127.6,361.3 128.1,360.9 128.6,361.2 129.1,361.6 129.6,362.0 130.1,362.5 130.6,363.0 131.1,363.5 131.6,363.8 132.1,364.0 132.6,364.1 133.1,364.9 133.6,365.9 134.1,367.0 134.6,368.1 135.1,369.3 135.6,370.4 136.1,371.5 136.6,372.7 137.1,374.0 137.6,375.7 138.1,377.7 138.6,380.0 139.1,382.1 139.6,383.8 140.1,385.0 140.6,385.6 141.1,385.5 141.6,383.8 142.1,382.0 142.6,380.2 143.1,378.6 143.6,377.1 144.1,375.8 144.6,374.5 145.1,373.2 145.6,371.6 146.1,370.1 146.6,368.8 147.1,368.0 147.6,367.7 148.1,367.9 148.6,368.9 149.1,370.0 149.6,371.1 150.1,372.2 150.6,373.0 151.1,373.5 151.6,373.9 152.1,374.1 152.6,374.3 153.1,374.8 153.6,375.7 154.1,376.9 154.6,378.1 155.1,379.4 155.6,380.6 156.1,381.9 156.6,383.0 157.1,383.8 157.6,384.5 158.1,385.3 158.6,387.1 159.1,388.7 159.6,389.6 160.1,389.5 160.6,387.9 161.1,385.2 161.6,381.9 162.1,378.3 162.6,375.0 163.1,372.3 163.6,370.0 164.1,367.6 164.6,364.9 165.1,361.6 165.6,357.7 166.1,353.8 166.6,350.5 167.1,348.2 167.6,348.2 168.1,350.7 168.6,353.4 169.1,356.2 169.6,359.1 170.1,362.0 170.6,365.1 171.1,368.1 171.6,371.1 172.1,373.7 172.6,375.6 173.1,377.5 173.6,379.3 174.1,381.1 174.6,382.8 175.1,384.6 175.6,386.5 176.1,388.1 176.6,388.2 177.1,386.8 177.6,384.9 178.1,382.6 178.6,380.2 179.1,377.8 179.6,375.6 180.1,374.0 180.6,372.9 181.1,372.2 181.6,371.9 182.1,371.9 182.6,372.4 183.1,373.0 183.6,373.8 184.1,374.5 184.6,375.2 185.1,375.7 185.6,376.2 186.1,376.5 186.6,376.7 187.1,376.7 187.6,376.2 188.1,375.3 188.6,374.1 189.1,372.8 189.6,371.6 190.1,370.6 190.6,369.9 191.1,369.3 191.6,368.9 192.1,368.7 192.6,368.9 193.1,369.6 193.6,370.6 194.1,371.6 194.6,372.6 195.1,373.3 195.6,373.8 196.1,373.9 196.6,373.4 197.1,372.0 197.6,369.7 198.1,366.8 198.6,364.0 199.1,362.2 199.6,362.8 200.1,364.0 200.6,365.4 201.1,367.1 201.6,368.8 202.1,370.4 202.6,371.7 203.1,372.9 203.6,374.0 204.1,375.5 204.6,377.5 205.1,379.5 205.6,381.2 206.1,381.3 206.6,379.5 207.1,377.4 207.6,375.2 208.1,373.2 208.6,371.0 209.1,368.5 209.6,366.0 210.1,363.4 210.6,360.7 211.1,358.3 211.6,356.3 212.1,355.0 212.6,354.0 213.1,354.9 213.6,356.2 214.1,357.7 214.6,359.4 215.1,361.4 215.6,363.6 216.1,365.9 216.6,368.3 217.1,370.8 217.6,373.1 218.1,374.9 218.6,376.3 219.1,377.6 219.6,378.5 220.1,379.1 220.6,379.5 221.1,379.9 221.6,380.2 222.1,380.5 222.6,380.4 223.1,379.9 223.6,379.2 224.1,378.8 224.6,379.1 225.1,379.1 225.6,378.9 226.1,378.1 226.6,376.7 227.1,375.0 227.6,373.5 228.1,372.3 228.6,371.1 229.1,370.1 229.6,369.1 230.1,368.1 230.6,367.2 231.1,366.2 231.6,365.4 232.1,365.8 232.6,366.4 233.1,367.5 233.6,369.2 234.1,371.3 234.6,373.6 235.1,376.2 235.6,379.3 236.1,382.5 236.6,385.4 237.1,387.3 237.6,388.3 238.1,387.2 238.6,385.0 239.1,382.6 239.6,380.2 240.1,377.5 240.6,375.0 241.1,372.9 241.6,371.3 242.1,369.9 242.6,368.7 243.1,367.4 243.6,366.1 244.1,364.8 244.6,363.8 245.1,363.4 245.6,362.8 246.1,362.0 246.6,361.1 247.1,360.1 247.6,359.5 248.1,359.4 248.6,359.9 249.1,361.7 249.6,363.5 250.1,364.9 250.6,365.6 251.1,366.2 251.6,367.0 252.1,368.3 252.6,369.9 253.1,371.6 253.6,373.3 254.1,375.4 254.6,377.4 255.1,379.2 255.6,380.7 256.1,382.1 256.6,383.7 257.1,385.4 257.6,387.2 258.1,388.9 258.6,390.7 259.1,390.6 259.6,389.7 260.1,388.1 260.6,385.5 261.1,382.1 261.6,378.3 262.1,374.8 262.6,372.4 263.1,371.6 263.6,371.1 264.1,370.6 264.6,369.8 265.1,368.6 265.6,367.3 266.1,366.4 266.6,366.2 267.1,366.9 267.6,368.4 268.1,370.2 268.6,371.8 269.1,372.8 269.6,373.2 270.1,373.6 270.6,374.2 271.1,375.1 271.6,376.0 272.1,376.7 272.6,377.4 273.1,378.0 273.6,378.5 274.1,378.5 274.6,378.1 275.1,377.4 275.6,376.8 276.1,376.4 276.6,376.3 277.1,376.0 277.6,375.4 278.1,374.5 278.6,373.4 279.1,372.2 279.6,370.9 280.1,369.8 280.6,368.9 281.1,368.4 281.6,368.1 282.1,367.9 282.6,367.6 283.1,367.3 283.6,367.1 284.1,367.5 284.6,368.8 285.1,370.9 285.6,373.6 286.1,376.0 286.6,377.6 287.1,378.3 287.6,378.6 288.1,378.9 288.6,379.6 289.1,380.4 289.6,380.9 290.1,381.2 290.6,381.3 291.1,381.3 291.6,381.2 292.1,380.9 292.6,380.5 293.1,380.0 293.6,379.5 294.1,378.8 294.6,378.0 295.1,377.1 295.6,376.4 296.1,376.0 296.6,375.9 297.1,375.8 297.6,375.8 298.1,375.5 298.6,375.2 299.1,374.7 299.6,374.2 300.1,373.8 300.6,373.8 301.1,374.1 301.6,374.5 302.1,374.9 302.6,375.1 303.1,375.2 303.6,375.5 304.1,376.0 304.6,376.7 305.1,377.4 305.6,378.0 306.1,378.4 306.6,378.8 307.1,379.1 307.6,379.3 308.1,379.2 308.6,378.7 309.1,377.5 309.6,375.9 310.1,374.1 310.6,372.3 311.1,370.6 311.6,369.0 312.1,367.4 312.6,365.6 313.1,363.6 313.6,361.6 314.1,360.0 314.6,358.8 315.1,358.0 315.6,357.1 316.1,356.1 316.6,354.9 317.1,354.1 317.6,354.1 318.1,355.1 318.6,356.1 319.1,356.8 319.6,356.8 320.1,356.6 320.6,357.0 321.1,358.6 321.6,361.0 322.1,363.4 322.6,365.1 323.1,366.4 323.6,367.0 324.1,367.5 324.6,368.0 325.1,368.8 325.6,370.1 326.1,371.7 326.6,373.1 327.1,374.0 327.6,374.5 328.1,374.7 328.6,375.0 329.1,375.4 329.6,376.0 330.1,376.5 330.6,377.1 331.1,377.6 331.6,378.0 332.1,378.5 332.6,378.9 333.1,379.4 333.6,379.8 334.1,380.3 334.6,380.9 335.1,381.5 335.6,382.0 336.1,382.2 336.6,382.2 337.1,382.1 337.6,381.7 338.1,380.9 338.6,379.9 339.1,379.1 339.6,378.6 340.1,378.4 340.6,378.5 341.1,379.1 341.6,380.8 342.1,382.8 342.6,384.9 343.1,387.2 343.6,389.4 344.1,391.2 344.6,392.5 345.1,393.3 345.6,394.2 346.1,395.6 346.6,397.9 347.1,400.9 347.6,404.4 348.1,408.3 348.6,411.4 349.1,413.1 349.6,413.3 350.1,412.0 350.6,410.8 351.1,409.8 351.6,408.8 352.1,408.2 352.6,408.2 353.1,408.8 353.6,409.8 354.1,410.1 354.6,410.0 355.1,410.1 355.6,410.9 356.1,412.6 356.6,414.7 357.1,417.1 357.6,420.0 358.1,422.6 358.6,424.5 359.1,425.6 359.6,426.0 360.1,426.4 360.6,427.5 361.1,429.0 361.6,430.7 362.1,432.4 362.6,433.7 363.1,434.9 363.6,436.8 364.1,439.2 364.6,441.9 365.1,445.0 365.6,447.9 366.1,450.4 366.6,452.7 367.1,455.4 367.6,458.0 368.1,460.7 368.6,463.5 369.1,466.5 369.6,469.5 370.1,472.1 370.6,473.6 371.1,475.2 371.6,477.0 372.1,478.7 372.6,480.4 373.1,482.6 373.6,485.5 374.1,488.5 374.6,490.9 375.1,492.1 375.6,492.4 376.1,492.6 376.6,492.6 377.1,490.3 377.6,488.5 378.1,486.7 378.6,484.7 379.1,482.2 379.6,479.6 380.1,476.9 380.6,474.2 381.1,471.0 381.6,466.9 382.1,462.6 382.6,458.8 383.1,455.7 383.6,453.4 384.1,451.6 384.6,449.7 385.1,447.6 385.6,444.8 386.1,441.8 386.6,439.0 387.1,436.8 387.6,434.9 388.1,432.8 388.6,430.1 389.1,426.9 389.6,424.2 390.1,421.6 390.6,419.5 391.1,417.9 391.6,416.8 392.1,416.3 392.6,416.3 393.1,416.7 393.6,417.1 394.1,416.7 394.6,415.5 395.1,413.8 395.6,412.7 396.1,412.8 396.6,414.5 397.1,416.4 397.6,417.6 398.1,417.7 398.6,417.0 399.1,415.9 399.6,415.0 400.1,414.5 400.6,414.6 401.1,415.3 401.6,416.3 402.1,417.3 402.6,418.2 403.1,418.9 403.6,419.3 404.1,419.4 404.6,419.0 405.1,418.5 405.6,417.9 406.1,417.2 406.6,416.7 407.1,416.6 407.6,416.8 408.1,416.5 408.6,415.7 409.1,414.6 409.6,413.9 410.1,414.0 410.6,414.7 411.1,415.8 411.6,416.9 412.1,418.0 412.6,418.6 413.1,418.9 413.6,418.5 414.1,417.3 414.6,415.7 415.1,414.0 415.6,412.9 416.1,412.5 416.6,412.3 417.1,412.2 417.6,411.9 418.1,412.0 418.6,412.9 419.1,415.0 419.6,418.1 420.1,421.2 420.6,423.3 421.1,423.6 421.6,422.6 422.1,420.9 422.6,419.2 423.1,417.6 423.6,415.8 424.1,414.2 424.6,413.2 425.1,413.0 425.6,413.3 426.1,412.5 426.6,411.0 427.1,409.0 427.6,407.0 428.1,405.2 428.6,402.8 429.1,400.3 429.6,398.1 430.1,396.7 430.6,396.3 431.1,396.8 431.6,396.9 432.1,396.2 432.6,394.9 433.1,393.7 433.6,393.0 434.1,393.0 434.6,393.5 435.1,394.5 435.6,395.7 436.1,396.6 436.6,397.1 437.1,397.3 437.6,397.5 438.1,397.8 438.6,398.6 439.1,399.9 439.6,401.7 440.1,403.2 440.6,404.0 441.1,403.5 441.6,402.0 442.1,400.4 442.6,399.1 443.1,398.4 443.6,398.0 444.1,397.9 444.6,397.7 445.1,397.6 445.6,397.6 446.1,398.2 446.6,399.2 447.1,400.3 447.6,400.7 448.1,400.1 448.6,398.8 449.1,397.7 449.6,397.2 450.1,397.6 450.6,398.4 451.1,399.3 451.6,400.0 452.1,400.5 452.6,400.8 453.1,400.9 453.6,400.8 454.1,400.3 454.6,399.5 455.1,398.4 455.6,397.6 456.1,397.4 456.6,397.7 457.1,398.1 457.6,398.5 458.1,398.7 458.6,399.0 459.1,399.3 459.6,399.6 460.1,399.9 460.6,400.1 461.1,400.0 461.6,399.4 462.1,398.4 462.6,397.7 463.1,397.6 463.6,398.2 464.1,399.1 464.6,400.1 465.1,400.6 465.6,400.6 466.1,400.1 466.6,399.6 467.1,399.5 467.6,400.0 468.1,400.9 468.6,401.7 469.1,401.7 469.6,400.8 470.1,399.3 470.6,398.0 471.1,397.6 471.6,397.8 472.1,398.0 472.6,398.0 473.1,398.0 473.6,398.5 474.1,399.3 474.6,400.1 475.1,400.6 475.6,400.9 476.1,402.5 476.6,404.4 477.1,406.4 477.6,408.0 478.1,408.8 478.6,409.4 479.1,409.8 479.6,409.7 480.1,409.5 480.6,409.2 481.1,409.2 481.6,409.5 482.1,409.8 482.6,410.0 483.1,410.0 483.6,409.9 484.1,409.8 484.6,409.6 485.1,409.3 485.6,409.1 486.1,408.7 486.6,408.2 487.1,407.6 487.6,406.6 488.1,405.1 488.6,403.4 489.1,401.8 489.6,400.1 490.1,397.1 490.6,393.5 491.1,390.0 491.6,387.7 492.1,387.1 492.6,386.9 493.1,386.8 493.6,386.6 494.1,386.1 494.6,385.6 495.1,385.4 495.6,385.4 496.1,385.7 496.6,386.0 497.1,386.4 497.6,386.8 498.1,387.1 498.6,387.5 499.1,387.6 499.6,387.6 500.1,387.7 500.6,387.8 501.1,388.1 501.6,388.4 502.1,388.7 502.6,388.6 503.1,388.1 503.6,387.3 504.1,386.6 504.6,386.4 505.1,386.3 505.6,386.4 506.1,386.2 506.6,385.8 507.1,385.2 507.6,384.7 508.1,384.4 508.6,384.3 509.1,384.2 509.6,383.9 510.1,383.6 510.6,383.4 511.1,383.5 511.6,383.6 512.1,384.1 512.6,384.5 513.1,384.6 513.6,384.7 514.1,384.6 514.6,384.7 515.1,384.8 515.6,385.1 516.1,385.5 516.6,386.2 517.1,387.0 517.6,388.0 518.1,388.9 518.6,389.3 519.1,389.4 519.6,389.5 520.1,389.3 520.6,389.1 521.1,388.9 521.6,388.5 522.1,388.0 522.6,387.5 523.1,386.9 523.6,386.2 524.1,385.4 524.6,384.7 525.1,384.3 525.6,383.9 526.1,383.6 526.6,383.4 527.1,383.1 527.6,382.8 528.1,382.4 528.6,382.0 529.1,381.8 529.6,381.8 530.1,381.8 530.6,381.4 531.1,380.9 531.6,380.4 532.1,380.1 532.6,379.9 533.1,379.8 533.6,379.5 534.1,379.1 534.6,378.6 535.1,378.1 535.6,377.7 536.1,377.2 536.6,376.6 537.1,375.8 537.6,374.9 538.1,374.1 538.6,373.6 539.1,372.8 539.6,371.8 540.1,370.3 540.6,368.6 541.1,366.9 541.6,365.5 542.1,364.2 542.6,362.7 543.1,361.0 543.6,359.0 544.1,356.9 544.6,355.3 545.1,355.3 545.6,356.3 546.1,357.7 546.6,359.4 547.1,361.1 547.6,362.7 548.1,364.1 548.6,365.3 549.1,366.2 549.6,366.8 550.1,366.9 550.6,367.2 551.1,367.6 551.6,368.2 552.1,369.0 552.6,369.8 553.1,370.6 553.6,371.1 554.1,371.6 554.6,372.1 555.1,372.6 555.6,372.9 556.1,373.1 556.6,373.2 557.1,373.1 557.6,373.2 558.1,373.2 558.6,373.3 559.1,373.3 559.6,373.3 560.1,373.3 560.6,373.4 561.1,373.6 561.6,374.0 562.1,374.3 562.6,374.5 563.1,374.5 563.6,374.3 564.1,374.1 564.6,373.9 565.1,373.9 565.6,374.2 566.1,374.4 566.6,374.3 567.1,373.9 567.6,373.4 568.1,372.9 568.6,372.6 569.1,372.5 569.6,372.6 570.1,372.6 570.6,372.5 571.1,372.3 571.6,372.1 572.1,371.9 572.6,371.8 573.1,371.7 573.6,371.7 574.1,371.7 574.6,371.6 575.1,371.3 575.6,370.9 576.1,370.2 576.6,369.0 577.1,367.5 577.6,365.9 578.1,364.5 578.6,363.6 579.1,363.0 579.6,362.7 580.1,362.8 580.6,363.1 581.1,363.6 581.6,363.9 582.1,364.2 582.6,364.8 583.1,365.2 583.6,365.7 584.1,366.4 584.6,367.3 585.1,368.5 585.6,369.7 586.1,370.9 586.6,372.0 587.1,372.9 587.6,373.6 588.1,374.2 588.6,374.7 589.1,375.0 589.6,375.0 590.1,374.9 590.6,374.7 591.1,374.4 591.6,374.3 592.1,374.3 592.6,374.3 593.1,374.4 593.6,374.4 594.1,374.3 594.6,374.3 595.1,374.7 595.6,375.6 596.1,376.8 596.6,378.0 597.1,378.6 597.6,378.8 598.1,378.9 598.6,379.3 599.1,380.1 599.6,381.1 600.1,382.2 600.6,383.0 601.1,383.5 601.6,383.6 602.1,383.1 602.6,382.5 603.1,382.0 603.6,381.8 604.1,381.9 604.6,382.1 605.1,382.4 605.6,382.4 606.1,382.1 606.6,381.7 607.1,381.4 607.6,381.4 608.1,381.8 608.6,382.3 609.1,382.8 609.6,383.0 610.1,382.9 610.6,382.7 611.1,382.4 611.6,381.9 612.1,381.5 612.6,381.1 613.1,380.5 613.6,379.7 614.1,378.7 614.6,377.5 615.1,376.2 615.6,375.1 616.1,374.3 616.6,373.9 617.1,373.8 617.6,373.8 618.1,373.6 618.6,373.2 619.1,372.8 619.6,372.6 620.1,372.6 620.6,372.9 621.1,373.5 621.6,374.1 622.1,374.7 622.6,375.3 623.1,376.2 623.6,377.3 624.1,378.4 624.6,379.0 625.1,379.1 625.6,379.0 626.1,379.1 626.6,379.7 627.1,380.6 627.6,381.7 628.1,382.7 628.6,383.3 629.1,383.4 629.6,383.0 630.1,382.2 630.6,381.2 631.1,380.3 631.6,379.7 632.1,379.4 632.6,379.7 633.1,380.4 633.6,381.1 634.1,381.6 634.6,381.8 635.1,381.7 635.6,381.5 636.1,381.4 636.6,381.3 637.1,381.3 637.6,381.3 638.1,381.1 638.6,380.3 639.1,379.1 639.6,377.5 640.1,376.1 640.6,375.2 641.1,374.9 641.6,375.0 642.1,375.2 642.6,375.2 643.1,375.0 643.6,374.4 644.1,373.7 644.6,373.1 645.1,372.7 645.6,372.6 646.1,372.9 646.6,373.3 647.1,373.7 647.6,374.2 648.1,374.8 648.6,375.6 649.1,376.4 649.6,377.2 650.1,377.9 650.6,378.5 651.1,378.6 651.6,378.6 652.1,378.5 652.6,378.4 653.1,378.1 653.6,377.6 654.1,376.8 654.6,376.2 655.1,375.8 655.6,375.6 656.1,375.5 656.6,375.1 657.1,374.5 657.6,373.9 658.1,373.6 658.6,373.6 659.1,373.6 659.6,373.4 660.1,372.8 660.6,372.1 661.1,371.5 661.6,371.0 662.1,370.8 662.6,371.0 663.1,371.4 663.6,372.2 664.1,373.3 664.6,374.5 665.1,375.9 665.6,377.5 666.1,379.2 666.6,381.2 667.1,383.2 667.6,385.2 668.1,387.0 668.6,388.5 669.1,389.6 669.6,390.5 670.1,390.7 670.6,391.3 671.1,392.0 671.6,392.5 672.1,392.7 672.6,392.4 673.1,392.1 673.6,392.0 674.1,392.1 674.6,391.8 675.1,391.3 675.6,390.7 676.1,390.3 676.6,390.1 677.1,389.6 677.6,388.6 678.1,387.3 678.6,386.1 679.1,385.4 679.6,385.2 680.1,385.2 680.6,384.9 681.1,385.0 681.6,384.9 682.1,384.9 682.6,385.1 683.1,385.6 683.6,386.3 684.1,387.3 684.6,388.9 685.1,390.9 685.6,392.5 686.1,393.3 686.6,393.0 687.1,391.8 687.6,390.3 688.1,389.4 688.6,389.1 689.1,389.2 689.6,389.3 690.1,389.4 690.6,389.7 691.1,390.6 691.6,391.8 692.1,393.2 692.6,394.3 693.1,395.0 693.6,395.2 694.1,394.9 694.6,394.4 695.1,394.0 695.6,394.2 696.1,394.8 696.6,395.5 697.1,395.7 697.6,395.5 698.1,395.0 698.6,394.0 699.1,392.7 699.6,391.1 700.1,389.8 700.6,388.9 701.1,388.4 701.6,388.1 702.1,387.8 702.6,387.5 703.1,387.8 703.6,388.5 704.1,389.3 704.6,390.2 705.1,391.6 705.6,393.5 706.1,395.9 706.6,398.1 707.1,399.9 707.6,401.1 708.1,401.7 708.6,401.8 709.1,401.9 709.6,401.9 710.1,401.6 710.6,401.3 711.1,401.4 711.6,401.8 712.1,402.4 712.6,403.0 713.1,403.4 713.6,403.4 714.1,403.2 714.6,402.9 715.1,402.5 715.6,402.5 716.1,403.1 716.6,404.1 717.1,405.2 717.6,405.8 718.1,405.7 718.6,405.1 719.1,404.0 719.6,402.8 720.1,402.0 720.6,401.9 721.1,402.0 721.6,401.9 722.1,401.3 722.6,400.4 723.1,399.4 723.6,398.6 724.1,398.0 724.6,397.5 725.1,397.0 725.6,396.3 726.1,395.2 726.6,393.9 727.1,392.6 727.6,391.1 728.1,389.2 728.6,387.0 729.1,384.5 729.6,381.7 730.1,378.7 730.6,376.0 731.1,373.7 731.6,372.1 732.1,370.9 732.6,370.0 733.1,369.0 733.6,368.1 734.1,367.5 734.6,367.0 735.1,366.7 735.6,366.8 736.1,367.3 736.6,368.1 737.1,368.6 737.6,368.4 738.1,367.8 738.6,367.3 739.1,367.0 739.6,367.3 740.1,368.0 740.6,369.2 741.1,370.5 741.6,371.7 742.1,372.7 742.6,373.3 743.1,373.7 743.6,374.1 744.1,375.3 744.6,377.1 745.1,378.9 745.6,380.1" stroke="#ff7f0e"/><path d="M96.6,371.6 97.1,372.6 97.6,373.8 98.1,374.7 98.6,375.1 99.1,375.1 99.6,375.2 100.1,375.6 100.6,376.1 101.1,376.3 101.6,376.3 102.1,376.3 102.6,376.3 103.1,376.4 103.6,376.3 104.1,376.0 104.6,375.5 105.1,375.0 105.6,374.7 106.1,374.5 106.6,374.4 107.1,374.4 107.6,374.5 108.1,374.7 108.6,375.0 109.1,375.2 109.6,375.4 110.1,375.5 110.6,375.4 111.1,375.3 111.6,375.5 112.1,376.0 112.6,377.0 113.1,378.3 113.6,379.8 114.1,381.2 114.6,382.3 115.1,382.9 115.6,382.3 116.1,381.4 116.6,380.4 117.1,379.5 117.6,378.6 118.1,377.5 118.6,376.3 119.1,375.1 119.6,373.7 120.1,372.6 120.6,371.8 121.1,371.0 121.6,370.0 122.1,369.0 122.6,367.9 123.1,366.9 123.6,365.9 124.1,365.1 124.6,364.5 125.1,363.9 125.6,363.1 126.1,362.0 126.6,360.8 127.1,359.7 127.6,358.9 128.1,358.7 128.6,359.2 129.1,359.8 129.6,360.3 130.1,360.9 130.6,361.4 131.1,361.8 131.6,362.0 132.1,362.2 132.6,362.5 133.1,363.6 133.6,365.0 134.1,366.5 134.6,368.0 135.1,369.4 135.6,370.6 136.1,371.8 136.6,373.0 137.1,374.3 137.6,376.1 138.1,378.2 138.6,380.3 139.1,382.3 139.6,383.9 140.1,385.0 140.6,385.4 141.1,385.1 141.6,383.0 142.1,380.8 142.6,378.9 143.1,377.3 143.6,376.0 144.1,375.0 144.6,374.1 145.1,373.5 145.6,372.8 146.1,372.0 146.6,371.3 147.1,370.8 147.6,370.5 148.1,370.6 148.6,371.1 149.1,371.7 149.6,372.3 150.1,372.8 150.6,373.3 151.1,373.7 151.6,373.9 152.1,374.0 152.6,374.0 153.1,374.1 153.6,374.5 154.1,375.2 154.6,376.0 155.1,377.0 155.6,377.9 156.1,378.7 156.6,379.0 157.1,379.1 157.6,379.2 158.1,379.8 158.6,381.6 159.1,384.0 159.6,385.7 160.1,386.4 160.6,385.5 161.1,383.5 161.6,380.8 162.1,378.0 162.6,375.4 163.1,373.2 163.6,371.2 164.1,369.0 164.6,366.5 165.1,363.3 165.6,359.4 166.1,355.3 166.6,351.7 167.1,349.2 167.6,349.0 168.1,351.3 168.6,353.7 169.1,356.2 169.6,358.8 170.1,361.6 170.6,364.7 171.1,367.7 171.6,370.6 172.1,372.9 172.6,374.6 173.1,376.4 173.6,378.0 174.1,379.6 174.6,381.2 175.1,382.9 175.6,384.5 176.1,385.9 176.6,385.7 177.1,384.4 177.6,382.8 178.1,381.1 178.6,379.4 179.1,377.6 179.6,376.0 180.1,374.6 180.6,373.8 181.1,373.5 181.6,373.5 182.1,373.9 182.6,374.7 183.1,376.0 183.6,377.4 184.1,378.7 184.6,379.1 185.1,378.9 185.6,378.6 186.1,378.2 186.6,377.8 187.1,377.1 187.6,376.2 188.1,374.9 188.6,373.5 189.1,372.1 189.6,370.9 190.1,369.7 190.6,368.7 191.1,367.7 191.6,366.7 192.1,366.0 192.6,365.7 193.1,365.9 193.6,366.3 194.1,366.9 194.6,368.3 195.1,369.8 195.6,371.2 196.1,372.3 196.6,372.6 197.1,371.9 197.6,370.3 198.1,368.0 198.6,365.6 199.1,363.9 199.6,364.2 200.1,365.1 200.6,366.3 201.1,367.6 201.6,369.0 202.1,370.3 202.6,371.6 203.1,372.9 203.6,374.1 204.1,375.6 204.6,377.4 205.1,379.2 205.6,380.7 206.1,381.0 206.6,379.5 207.1,377.4 207.6,375.0 208.1,372.7 208.6,370.3 209.1,367.6 209.6,365.0 210.1,362.4 210.6,360.0 211.1,358.0 211.6,356.6 212.1,355.7 212.6,355.1 213.1,356.1 213.6,357.3 214.1,358.5 214.6,359.8 215.1,361.4 215.6,363.5 216.1,365.9 216.6,368.3 217.1,370.8 217.6,373.0 218.1,374.9 218.6,376.6 219.1,378.1 219.6,379.3 220.1,380.0 220.6,380.3 221.1,380.4 221.6,380.7 222.1,380.9 222.6,380.9 223.1,380.6 223.6,380.2 224.1,380.2 224.6,380.8 225.1,380.8 225.6,380.1 226.1,378.7 226.6,376.8 227.1,374.6 227.6,372.8 228.1,371.5 228.6,370.3 229.1,369.1 229.6,367.8 230.1,366.5 230.6,365.3 231.1,364.3 231.6,363.8 232.1,364.7 232.6,365.7 233.1,367.0 233.6,368.8 234.1,370.9 234.6,373.1 235.1,375.7 235.6,378.8 236.1,382.1 236.6,384.7 237.1,386.2 237.6,386.5 238.1,384.7 238.6,382.2 239.1,380.0 239.6,378.1 240.1,376.2 240.6,374.4 241.1,372.8 241.6,371.5 242.1,370.4 242.6,369.3 243.1,368.3 243.6,367.2 244.1,366.2 244.6,365.3 245.1,364.9 245.6,364.3 246.1,363.6 246.6,362.6 247.1,361.6 247.6,360.8 248.1,360.4 248.6,360.5 249.1,361.8 249.6,363.1 250.1,364.2 250.6,364.9 251.1,365.6 251.6,366.4 252.1,367.6 252.6,368.9 253.1,370.3 253.6,371.7 254.1,373.7 254.6,375.8 255.1,378.1 255.6,380.3 256.1,382.5 256.6,384.7 257.1,387.0 257.6,389.4 258.1,391.8 258.6,394.0 259.1,393.7 259.6,392.1 260.1,389.7 260.6,386.4 261.1,382.6 261.6,378.7 262.1,375.3 262.6,372.9 263.1,372.0 263.6,371.0 264.1,369.7 264.6,368.2 265.1,366.8 265.6,365.5 266.1,364.6 266.6,364.1 267.1,364.2 267.6,365.0 268.1,366.1 268.6,367.2 269.1,368.0 269.6,368.5 270.1,369.1 270.6,370.0 271.1,371.1 271.6,372.2 272.1,373.1 272.6,374.0 273.1,374.9 273.6,375.8 274.1,376.3 274.6,376.4 275.1,376.1 275.6,375.8 276.1,375.7 276.6,375.9 277.1,375.9 277.6,375.5 278.1,374.7 278.6,373.8 279.1,372.6 279.6,371.3 280.1,370.2 280.6,369.6 281.1,369.5 281.6,369.8 282.1,370.4 282.6,371.0 283.1,371.5 283.6,371.8 284.1,372.3 284.6,373.4 285.1,375.5 285.6,378.1 286.1,380.4 286.6,382.0 287.1,382.7 287.6,382.8 288.1,382.9 288.6,383.1 289.1,383.3 289.6,383.6 290.1,383.9 290.6,384.4 291.1,384.9 291.6,385.2 292.1,385.0 292.6,384.4 293.1,383.6 293.6,382.8 294.1,381.9 294.6,380.8 295.1,379.9 295.6,379.2 296.1,378.9 296.6,379.0 297.1,379.3 297.6,379.4 298.1,379.3 298.6,379.3 299.1,379.2 299.6,379.0 300.1,378.6 300.6,378.3 301.1,378.2 301.6,378.3 302.1,378.6 302.6,378.9 303.1,379.4 303.6,380.2 304.1,380.8 304.6,381.4 305.1,381.8 305.6,381.8 306.1,381.3 306.6,380.7 307.1,380.1 307.6,379.7 308.1,379.2 308.6,378.4 309.1,377.2 309.6,375.7 310.1,374.0 310.6,372.4 311.1,370.8 311.6,369.3 312.1,367.7 312.6,365.8 313.1,363.8 313.6,362.0 314.1,360.9 314.6,360.3 315.1,360.0 315.6,359.7 316.1,359.2 316.6,358.7 317.1,358.4 317.6,358.8 318.1,359.9 318.6,360.9 319.1,361.4 319.6,361.3 320.1,361.1 320.6,361.5 321.1,363.0 321.6,365.3 322.1,367.5 322.6,369.1 323.1,370.1 323.6,370.5 324.1,370.7 324.6,371.1 325.1,371.7 325.6,372.6 326.1,373.5 326.6,374.3 327.1,374.8 327.6,375.1 328.1,375.5 328.6,375.8 329.1,376.0 329.6,376.3 330.1,376.5 330.6,376.6 331.1,376.7 331.6,376.7 332.1,376.9 332.6,377.3 333.1,377.7 333.6,377.9 334.1,378.2 334.6,378.5 335.1,378.9 335.6,379.3 336.1,379.7 336.6,380.1 337.1,380.2 337.6,380.1 338.1,379.4 338.6,378.6 339.1,378.0 339.6,377.7 340.1,377.5 340.6,377.3 341.1,377.5 341.6,378.5 342.1,379.9 342.6,381.6 343.1,383.3 343.6,385.0 344.1,386.4 344.6,387.4 345.1,388.2 345.6,389.1 346.1,390.5 346.6,392.6 347.1,395.2 347.6,398.1 348.1,401.3 348.6,404.0 349.1,405.5 349.6,405.8 350.1,404.8 350.6,403.9 351.1,403.1 351.6,402.6 352.1,402.5 352.6,402.6 353.1,402.9 353.6,403.3 354.1,402.9 354.6,402.1 355.1,401.8 355.6,402.5 356.1,404.2 356.6,406.5 357.1,408.9 357.6,411.4 358.1,413.3 358.6,414.4 359.1,414.8 359.6,414.8 360.1,415.2 360.6,416.2 361.1,417.8 361.6,419.7 362.1,421.3 362.6,422.2 363.1,422.9 363.6,424.4 364.1,426.6 364.6,429.5 365.1,432.6 365.6,435.2 366.1,437.2 366.6,438.8 367.1,440.8 367.6,442.7 368.1,444.7 368.6,446.9 369.1,449.2 369.6,451.9 370.1,454.3 370.6,455.7 371.1,456.9 371.6,458.0 372.1,459.2 372.6,460.6 373.1,462.5 373.6,465.1 374.1,467.8 374.6,469.8 375.1,470.6 375.6,470.6 376.1,470.5 376.6,470.5 377.1,468.7 377.6,467.3 378.1,465.8 378.6,463.6 379.1,461.0 379.6,458.3 380.1,455.9 380.6,453.7 381.1,451.2 381.6,447.9 382.1,444.6 382.6,441.8 383.1,439.7 383.6,438.5 384.1,437.6 384.6,436.5 385.1,434.9 385.6,432.4 386.1,429.5 386.6,426.7 387.1,424.5 387.6,422.7 388.1,420.9 388.6,418.8 389.1,416.3 389.6,414.3 390.1,412.5 390.6,411.1 391.1,409.9 391.6,409.1 392.1,408.7 392.6,408.9 393.1,409.5 393.6,410.0 394.1,409.8 394.6,408.8 395.1,407.5 395.6,406.5 396.1,406.7 396.6,408.1 397.1,410.0 397.6,411.3 398.1,411.6 398.6,411.0 399.1,410.0 399.6,409.0 400.1,408.4 400.6,408.4 401.1,408.8 401.6,409.5 402.1,410.2 402.6,410.9 403.1,411.6 403.6,412.2 404.1,412.6 404.6,412.8 405.1,412.7 405.6,412.3 406.1,411.7 406.6,411.1 407.1,410.6 407.6,410.1 408.1,409.4 408.6,408.3 409.1,407.1 409.6,406.4 410.1,406.5 410.6,407.2 411.1,408.3 411.6,409.6 412.1,411.0 412.6,412.0 413.1,412.4 413.6,411.9 414.1,410.5 414.6,408.4 415.1,406.5 415.6,405.2 416.1,404.9 416.6,405.1 417.1,405.2 417.6,405.3 418.1,405.6 418.6,406.7 419.1,408.8 419.6,411.5 420.1,414.2 420.6,415.8 421.1,415.8 421.6,414.8 422.1,413.4 422.6,412.0 423.1,410.6 423.6,408.9 424.1,407.3 424.6,406.3 425.1,406.0 425.6,406.4 426.1,406.0 426.6,405.3 427.1,403.9 427.6,402.2 428.1,400.6 428.6,398.3 429.1,395.9 429.6,393.9 430.1,392.7 430.6,392.5 431.1,393.0 431.6,393.1 432.1,392.5 432.6,391.2 433.1,389.9 433.6,389.1 434.1,388.9 434.6,389.3 435.1,390.2 435.6,391.2 436.1,392.1 436.6,392.5 437.1,392.4 437.6,392.3 438.1,392.5 438.6,393.0 439.1,394.0 439.6,395.4 440.1,396.8 440.6,397.5 441.1,397.2 441.6,396.1 442.1,394.8 442.6,393.7 443.1,393.1 443.6,392.8 444.1,392.7 444.6,392.5 445.1,392.4 445.6,392.5 446.1,393.0 446.6,394.0 447.1,394.9 447.6,395.1 448.1,394.3 448.6,393.1 449.1,392.2 449.6,392.1 450.1,392.9 450.6,394.2 451.1,395.6 451.6,396.6 452.1,397.2 452.6,397.3 453.1,397.2 453.6,396.8 454.1,396.3 454.6,395.4 455.1,394.4 455.6,393.3 456.1,392.7 456.6,392.5 457.1,392.6 457.6,392.9 458.1,393.4 458.6,393.9 459.1,394.3 459.6,394.5 460.1,394.8 460.6,395.1 461.1,395.5 461.6,395.5 462.1,394.9 462.6,394.1 463.1,393.6 463.6,393.6 464.1,394.2 464.6,394.9 465.1,395.4 465.6,395.4 466.1,395.3 466.6,395.3 467.1,395.8 467.6,396.8 468.1,398.1 468.6,399.1 469.1,399.4 469.6,398.6 470.1,397.1 470.6,395.7 471.1,394.9 471.6,394.6 472.1,394.3 472.6,393.9 473.1,393.6 473.6,393.9 474.1,394.7 474.6,395.6 475.1,396.4 475.6,397.0 476.1,398.5 476.6,400.1 477.1,401.7 477.6,402.8 478.1,403.0 478.6,403.2 479.1,403.1 479.6,403.1 480.1,403.2 480.6,403.4 481.1,403.8 481.6,404.2 482.1,404.5 482.6,404.6 483.1,404.6 483.6,404.5 484.1,404.1 484.6,403.5 485.1,402.8 485.6,402.2 486.1,401.6 486.6,400.9 487.1,400.1 487.6,399.1 488.1,397.9 488.6,396.7 489.1,395.7 489.6,394.5 490.1,392.3 490.6,389.3 491.1,386.2 491.6,384.0 492.1,383.2 492.6,383.1 493.1,383.2 493.6,383.3 494.1,383.0 494.6,382.6 495.1,382.4 495.6,382.5 496.1,382.7 496.6,383.3 497.1,383.9 497.6,384.5 498.1,384.8 498.6,384.9 499.1,385.0 499.6,385.1 500.1,385.3 500.6,385.5 501.1,385.8 501.6,386.1 502.1,386.2 502.6,386.0 503.1,385.2 503.6,384.1 504.1,383.0 504.6,382.3 505.1,382.1 505.6,382.3 506.1,382.5 506.6,382.5 507.1,382.3 507.6,382.2 508.1,382.1 508.6,382.0 509.1,381.8 509.6,381.6 510.1,381.3 510.6,381.1 511.1,381.3 511.6,381.7 512.1,382.5 512.6,383.2 513.1,383.5 513.6,383.5 514.1,383.5 514.6,383.6 515.1,384.0 515.6,384.7 516.1,385.4 516.6,386.2 517.1,387.1 517.6,388.0 518.1,388.8 518.6,389.4 519.1,389.6 519.6,389.7 520.1,389.4 520.6,389.3 521.1,389.2 521.6,388.8 522.1,388.2 522.6,387.4 523.1,386.6 523.6,385.8 524.1,385.2 524.6,384.7 525.1,384.4 525.6,384.2 526.1,384.1 526.6,384.2 527.1,384.1 527.6,383.8 528.1,383.4 528.6,382.9 529.1,382.7 529.6,382.8 530.1,382.9 530.6,382.6 531.1,382.3 531.6,382.0 532.1,381.8 532.6,381.7 533.1,381.3 533.6,380.6 534.1,379.7 534.6,379.0 535.1,378.5 535.6,378.2 536.1,377.9 536.6,377.5 537.1,376.9 537.6,376.1 538.1,375.0 538.6,373.6 539.1,371.9 539.6,370.0 540.1,368.1 540.6,366.3 541.1,364.7 541.6,363.5 542.1,362.5 542.6,361.4 543.1,359.9 543.6,358.1 544.1,356.1 544.6,354.5 545.1,354.6 545.6,355.7 546.1,357.2 546.6,358.6 547.1,360.0 547.6,361.3 548.1,362.6 548.6,363.7 549.1,364.8 549.6,365.5 550.1,365.6 550.6,365.7 551.1,365.9 551.6,366.3 552.1,366.8 552.6,367.4 553.1,367.9 553.6,368.3 554.1,369.0 554.6,369.7 555.1,370.4 555.6,370.9 556.1,371.2 556.6,371.2 557.1,371.1 557.6,371.3 558.1,371.5 558.6,372.1 559.1,372.8 559.6,373.3 560.1,373.6 560.6,373.8 561.1,374.1 561.6,374.7 562.1,375.3 562.6,375.7 563.1,375.9 563.6,375.9 564.1,375.9 564.6,375.7 565.1,375.4 565.6,375.2 566.1,375.1 566.6,375.0 567.1,375.0 567.6,374.8 568.1,374.4 568.6,374.1 569.1,373.8 569.6,373.7 570.1,373.6 570.6,373.4 571.1,373.1 571.6,372.7 572.1,372.2 572.6,371.7 573.1,371.2 573.6,370.8 574.1,370.4 574.6,370.1 575.1,369.8 575.6,369.2 576.1,368.4 576.6,367.1 577.1,365.5 577.6,363.8 578.1,362.5 578.6,361.6 579.1,361.0 579.6,360.8 580.1,360.6 580.6,360.5 581.1,360.3 581.6,360.0 582.1,360.2 582.6,361.2 583.1,362.2 583.6,363.4 584.1,364.8 584.6,366.3 585.1,367.9 585.6,369.5 586.1,370.7 586.6,371.6 587.1,372.4 587.6,373.1 588.1,373.8 588.6,374.6 589.1,375.3 589.6,375.8 590.1,376.0 590.6,376.2 591.1,376.3 591.6,376.6 592.1,377.1 592.6,377.6 593.1,378.0 593.6,377.8 594.1,377.3 594.6,376.8 595.1,376.6 595.6,377.0 596.1,377.9 596.6,379.2 597.1,380.4 597.6,381.2 598.1,381.9 598.6,382.6 599.1,383.5 599.6,384.6 600.1,385.8 600.6,386.7 601.1,387.1 601.6,387.0 602.1,386.1 602.6,385.5 603.1,385.1 603.6,384.9 604.1,384.8 604.6,384.9 605.1,384.9 605.6,384.8 606.1,384.4 606.6,383.9 607.1,383.6 607.6,383.6 608.1,383.9 608.6,384.4 609.1,384.7 609.6,384.7 610.1,384.4 610.6,384.0 611.1,383.5 611.6,382.8 612.1,382.3 612.6,382.0 613.1,381.7 613.6,381.0 614.1,380.0 614.6,378.7 615.1,377.2 615.6,375.9 616.1,374.9 616.6,374.5 617.1,374.4 617.6,374.2 618.1,373.9 618.6,373.4 619.1,372.8 619.6,372.2 620.1,371.7 620.6,371.3 621.1,371.1 621.6,371.4 622.1,371.9 622.6,372.5 623.1,373.2 623.6,373.9 624.1,374.4 624.6,374.5 625.1,374.2 625.6,373.9 626.1,374.0 626.6,374.7 627.1,375.8 627.6,376.9 628.1,377.9 628.6,378.4 629.1,378.6 629.6,378.4 630.1,377.8 630.6,377.2 631.1,376.7 631.6,376.4 632.1,376.5 632.6,377.1 633.1,378.0 633.6,378.6 634.1,378.9 634.6,378.8 635.1,378.4 635.6,378.1 636.1,377.9 636.6,378.0 637.1,378.4 637.6,378.7 638.1,378.7 638.6,378.0 639.1,376.8 639.6,375.2 640.1,373.7 640.6,372.5 641.1,371.6 641.6,371.2 642.1,371.2 642.6,371.5 643.1,371.8 643.6,372.2 644.1,372.4 644.6,372.4 645.1,372.4 645.6,372.3 646.1,372.5 646.6,372.8 647.1,373.1 647.6,373.7 648.1,374.6 648.6,375.9 649.1,377.3 649.6,378.7 650.1,379.8 650.6,380.9 651.1,381.1 651.6,381.5 652.1,381.7 652.6,381.9 653.1,381.8 653.6,381.3 654.1,380.4 654.6,379.4 655.1,378.5 655.6,377.9 656.1,377.6 656.6,377.3 657.1,376.9 657.6,376.4 658.1,376.1 658.6,376.0 659.1,376.0 659.6,375.8 660.1,375.4 660.6,374.9 661.1,374.4 661.6,373.9 662.1,373.2 662.6,372.5 663.1,372.1 663.6,372.1 664.1,372.6 664.6,373.4 665.1,374.3 665.6,375.4 666.1,376.9 666.6,378.8 667.1,380.9 667.6,383.3 668.1,385.4 668.6,387.2 669.1,388.6 669.6,389.6 670.1,389.8 670.6,390.2 671.1,390.7 671.6,391.2 672.1,391.4 672.6,391.3 673.1,391.1 673.6,390.9 674.1,390.8 674.6,390.3 675.1,389.5 675.6,388.6 676.1,388.1 676.6,387.9 677.1,387.6 677.6,387.0 678.1,386.1 678.6,385.3 679.1,384.8 679.6,384.6 680.1,384.2 680.6,383.3 681.1,382.7 681.6,382.0 682.1,381.6 682.6,381.8 683.1,382.3 683.6,382.9 684.1,383.6 684.6,384.6 685.1,386.0 685.6,387.2 686.1,387.8 686.6,387.6 687.1,386.5 687.6,385.2 688.1,384.4 688.6,384.3 689.1,384.4 689.6,384.2 690.1,383.9 690.6,384.0 691.1,384.8 691.6,386.3 692.1,388.1 692.6,389.7 693.1,390.7 693.6,391.1 694.1,391.1 694.6,390.7 695.1,390.3 695.6,390.3 696.1,390.6 696.6,391.2 697.1,391.6 697.6,391.7 698.1,391.5 698.6,391.1 699.1,390.2 699.6,389.2 700.1,388.4 700.6,388.1 701.1,388.2 701.6,388.1 702.1,387.8 702.6,387.3 703.1,387.4 703.6,387.9 704.1,388.4 704.6,389.2 705.1,390.5 705.6,392.4 706.1,394.7 706.6,396.9 707.1,398.6 707.6,399.9 708.1,400.7 708.6,400.9 709.1,401.0 709.6,400.8 710.1,400.3 710.6,399.8 711.1,399.6 711.6,399.8 712.1,400.4 712.6,401.2 713.1,401.8 713.6,402.0 714.1,401.9 714.6,401.8 715.1,401.8 715.6,402.2 716.1,403.1 716.6,404.4 717.1,405.4 717.6,406.0 718.1,406.0 718.6,405.5 719.1,404.6 719.6,403.6 720.1,403.0 720.6,403.0 721.1,403.4 721.6,403.6 722.1,403.4 722.6,402.9 723.1,402.2 723.6,401.7 724.1,401.3 724.6,401.1 725.1,401.0 725.6,400.8 726.1,400.3 726.6,399.5 727.1,398.5 727.6,397.2 728.1,395.4 728.6,393.2 729.1,390.6 729.6,387.6 730.1,384.5 730.6,381.6 731.1,378.9 731.6,376.8 732.1,375.2 732.6,374.2 733.1,373.5 733.6,373.1 734.1,372.9 734.6,372.8 735.1,372.7 735.6,372.8 736.1,373.2 736.6,374.0 737.1,374.9 737.6,375.3 738.1,375.0 738.6,374.5 739.1,374.2 739.6,374.2 740.1,374.9 740.6,375.9 741.1,377.2 741.6,378.4 742.1,379.2 742.6,379.6 743.1,379.7 743.6,379.8 744.1,380.6 744.6,382.3 745.1,384.1 745.6,385.5" stroke="#9467bd"/><path d="M96.6,370.2 97.1,370.9 97.6,371.6 98.1,372.0 98.6,372.3 99.1,372.6 99.6,373.2 100.1,373.9 100.6,374.6 101.1,374.9 101.6,374.8 102.1,374.6 102.6,374.4 103.1,374.4 103.6,374.4 104.1,374.2 104.6,374.0 105.1,373.8 105.6,373.6 106.1,373.5 106.6,373.4 107.1,373.3 107.6,373.3 108.1,373.6 108.6,374.1 109.1,374.8 109.6,375.4 110.1,376.0 110.6,376.3 111.1,376.6 111.6,377.1 112.1,377.9 112.6,379.0 113.1,380.4 113.6,381.8 114.1,382.9 114.6,383.7 115.1,384.0 115.6,383.2 116.1,382.5 116.6,381.9 117.1,381.2 117.6,380.4 118.1,379.2 118.6,377.8 119.1,376.4 119.6,375.0 120.1,373.8 120.6,372.8 121.1,371.6 121.6,370.3 122.1,369.0 122.6,367.9 123.1,366.9 123.6,366.0 124.1,365.2 124.6,364.4 125.1,363.6 125.6,362.6 126.1,361.3 126.6,359.9 127.1,358.8 127.6,358.2 128.1,358.3 128.6,358.9 129.1,359.4 129.6,359.7 130.1,359.8 130.6,359.9 131.1,359.8 131.6,359.7 132.1,359.7 132.6,360.1 133.1,361.6 133.6,363.4 134.1,365.3 134.6,367.2 135.1,369.1 135.6,370.7 136.1,372.2 136.6,373.5 137.1,374.7 137.6,376.2 138.1,377.7 138.6,379.3 139.1,380.8 139.6,382.0 140.1,383.0 140.6,383.6 141.1,383.5 141.6,381.8 142.1,380.2 142.6,378.6 143.1,377.2 143.6,375.9 144.1,374.8 144.6,374.0 145.1,373.5 145.6,373.1 146.1,372.8 146.6,372.7 147.1,372.7 147.6,373.0 148.1,373.4 148.6,373.9 149.1,374.2 149.6,374.5 150.1,374.7 150.6,374.8 151.1,374.8 151.6,374.6 152.1,374.4 152.6,374.0 153.1,373.9 153.6,374.0 154.1,374.4 154.6,374.8 155.1,375.3 155.6,375.6 156.1,375.6 156.6,375.3 157.1,374.7 157.6,374.2 158.1,374.3 158.6,375.7 159.1,378.2 159.6,380.7 160.1,382.2 160.6,382.3 161.1,381.1 161.6,379.3 162.1,377.2 162.6,375.2 163.1,373.4 163.6,371.6 164.1,369.5 164.6,367.2 165.1,364.5 165.6,361.2 166.1,357.6 166.6,354.2 167.1,351.7 167.6,351.3 168.1,353.3 168.6,355.5 169.1,357.7 169.6,359.9 170.1,362.1 170.6,364.5 171.1,367.0 171.6,369.7 172.1,372.1 172.6,373.9 173.1,375.7 173.6,377.5 174.1,379.1 174.6,380.6 175.1,382.0 175.6,383.0 176.1,383.5 176.6,382.6 177.1,380.8 177.6,379.2 178.1,377.8 178.6,376.9 179.1,376.1 179.6,375.4 180.1,375.0 180.6,375.2 181.1,375.8 181.6,376.7 182.1,377.8 182.6,379.1 183.1,380.5 183.6,381.8 184.1,383.0 184.6,382.8 185.1,382.2 185.6,381.5 186.1,380.7 186.6,379.7 187.1,378.5 187.6,377.0 188.1,375.2 188.6,373.3 189.1,371.4 189.6,369.7 190.1,368.0 190.6,366.6 191.1,365.3 191.6,364.2 192.1,363.1 192.6,362.3 193.1,361.9 193.6,361.7 194.1,361.9 194.6,363.7 195.1,365.9 195.6,368.4 196.1,370.6 196.6,372.1 197.1,372.4 197.6,371.7 198.1,370.3 198.6,368.3 199.1,366.6 199.6,366.2 200.1,366.4 200.6,367.0 201.1,367.9 201.6,369.1 202.1,370.4 202.6,371.9 203.1,373.2 203.6,374.4 204.1,375.7 204.6,377.2 205.1,378.6 205.6,379.7 206.1,379.7 206.6,378.2 207.1,376.2 207.6,373.9 208.1,371.9 208.6,369.8 209.1,367.5 209.6,365.5 210.1,363.6 210.6,361.9 211.1,360.5 211.6,359.3 212.1,358.4 212.6,357.5 213.1,358.2 213.6,359.3 214.1,360.6 214.6,362.1 215.1,363.8 215.6,365.6 216.1,367.3 216.6,368.9 217.1,370.5 217.6,372.2 218.1,373.8 218.6,375.5 219.1,377.4 219.6,379.1 220.1,380.4 220.6,381.3 221.1,381.7 221.6,382.0 222.1,381.9 222.6,381.7 223.1,381.2 223.6,380.7 224.1,380.7 224.6,381.4 225.1,381.4 225.6,380.6 226.1,379.4 226.6,377.6 227.1,375.7 227.6,373.9 228.1,372.4 228.6,370.8 229.1,369.1 229.6,367.4 230.1,365.9 230.6,364.7 231.1,363.7 231.6,363.1 232.1,364.0 232.6,365.0 233.1,366.3 233.6,368.1 234.1,370.4 234.6,372.7 235.1,375.3 235.6,378.1 236.1,380.9 236.6,383.0 237.1,384.1 237.6,384.0 238.1,382.4 238.6,380.4 239.1,378.9 239.6,377.6 240.1,376.2 240.6,374.6 241.1,373.2 241.6,372.2 242.1,371.4 242.6,370.8 243.1,370.1 243.6,369.4 244.1,368.6 244.6,367.8 245.1,367.1 245.6,366.2 246.1,365.2 246.6,364.1 247.1,363.0 247.6,361.9 248.1,361.1 248.6,360.7 249.1,361.6 249.6,362.7 250.1,363.9 250.6,364.8 251.1,365.5 251.6,366.4 252.1,367.6 252.6,369.1 253.1,370.8 253.6,372.6 254.1,374.6 254.6,376.7 255.1,378.8 255.6,381.0 256.1,383.4 256.6,386.0 257.1,388.7 257.6,391.4 258.1,393.9 258.6,395.9 259.1,395.0 259.6,392.7 260.1,389.8 260.6,386.4 261.1,382.7 261.6,379.0 262.1,375.6 262.6,373.2 263.1,372.3 263.6,371.3 264.1,370.1 264.6,368.5 265.1,366.7 265.6,364.9 266.1,363.5 266.6,362.8 267.1,362.7 267.6,363.2 268.1,364.0 268.6,364.6 269.1,365.1 269.6,365.3 270.1,365.6 270.6,366.0 271.1,366.6 271.6,367.8 272.1,369.0 272.6,370.3 273.1,371.6 273.6,373.0 274.1,374.1 274.6,374.6 275.1,374.4 275.6,374.1 276.1,374.0 276.6,374.2 277.1,374.7 277.6,374.9 278.1,374.7 278.6,374.3 279.1,373.5 279.6,372.6 280.1,372.1 280.6,372.1 281.1,372.6 281.6,373.7 282.1,374.8 282.6,375.7 283.1,376.4 283.6,376.8 284.1,377.5 284.6,378.8 285.1,380.9 285.6,383.4 286.1,385.3 286.6,386.5 287.1,386.9 287.6,386.9 288.1,386.9 288.6,386.9 289.1,386.8 289.6,386.7 290.1,386.9 290.6,387.3 291.1,387.9 291.6,388.3 292.1,388.2 292.6,387.6 293.1,386.7 293.6,385.7 294.1,384.6 294.6,383.6 295.1,382.8 295.6,382.2 296.1,382.0 296.6,382.0 297.1,381.9 297.6,381.7 298.1,381.2 298.6,381.1 299.1,380.9 299.6,380.8 300.1,380.9 300.6,381.2 301.1,381.6 301.6,382.2 302.1,382.8 302.6,383.4 303.1,384.0 303.6,384.7 304.1,385.1 304.6,385.4 305.1,385.5 305.6,385.1 306.1,384.2 306.6,383.2 307.1,382.2 307.6,381.2 308.1,380.1 308.6,378.8 309.1,377.3 309.6,375.7 310.1,374.1 310.6,372.8 311.1,371.5 311.6,370.1 312.1,368.6 312.6,366.8 313.1,365.2 313.6,364.0 314.1,363.5 314.6,363.7 315.1,364.1 315.6,364.2 316.1,363.8 316.6,363.2 317.1,362.7 317.6,362.9 318.1,363.7 318.6,364.6 319.1,365.1 319.6,365.2 320.1,365.2 320.6,366.0 321.1,367.8 321.6,370.4 322.1,372.6 322.6,374.0 323.1,374.4 323.6,374.3 324.1,373.9 324.6,373.7 325.1,373.7 325.6,373.8 326.1,373.9 326.6,374.0 327.1,374.0 327.6,374.0 328.1,374.2 328.6,374.5 329.1,374.8 329.6,374.9 330.1,374.9 330.6,374.8 331.1,374.6 331.6,374.5 332.1,374.7 332.6,375.1 333.1,375.8 333.6,376.3 334.1,376.8 334.6,377.1 335.1,377.4 335.6,377.6 336.1,377.8 336.6,377.9 337.1,378.0 337.6,378.0 338.1,377.6 338.6,377.0 339.1,376.5 339.6,376.1 340.1,375.9 340.6,375.6 341.1,375.4 341.6,375.9 342.1,376.5 342.6,377.3 343.1,378.2 343.6,379.2 344.1,380.1 344.6,380.9 345.1,381.7 345.6,382.5 346.1,383.6 346.6,385.1 347.1,387.0 347.6,389.2 348.1,391.8 348.6,394.0 349.1,395.3 349.6,395.6 350.1,394.8 350.6,394.1 351.1,393.6 351.6,393.3 352.1,393.3 352.6,393.6 353.1,394.0 353.6,394.4 354.1,394.1 354.6,393.3 355.1,392.7 355.6,392.9 356.1,394.1 356.6,396.1 357.1,398.2 357.6,400.2 358.1,401.5 358.6,402.0 359.1,401.8 359.6,401.2 360.1,401.1 360.6,402.0 361.1,403.9 361.6,406.3 362.1,408.5 362.6,409.8 363.1,410.6 363.6,411.6 364.1,412.9 364.6,414.2 365.1,415.4 365.6,416.2 366.1,416.9 366.6,417.7 367.1,419.3 367.6,421.1 368.1,423.0 368.6,424.9 369.1,427.0 369.6,429.3 370.1,431.3 370.6,432.4 371.1,433.1 371.6,433.8 372.1,434.6 372.6,435.8 373.1,437.6 373.6,439.9 374.1,442.1 374.6,443.6 375.1,443.8 375.6,443.1 376.1,442.5 376.6,442.2 377.1,441.1 377.6,440.5 378.1,439.4 378.6,437.5 379.1,435.0 379.6,432.5 380.1,430.6 380.6,429.1 381.1,427.7 381.6,425.6 382.1,423.5 382.6,421.7 383.1,420.6 383.6,420.2 384.1,420.1 384.6,419.7 385.1,418.5 385.6,416.4 386.1,414.0 386.6,411.9 387.1,410.2 387.6,408.8 388.1,407.3 388.6,405.5 389.1,403.6 389.6,402.0 390.1,400.8 390.6,400.0 391.1,399.8 391.6,400.0 392.1,400.6 392.6,401.3 393.1,402.0 393.6,402.2 394.1,401.7 394.6,400.5 395.1,399.0 395.6,397.8 396.1,397.6 396.6,398.7 397.1,400.5 397.6,402.0 398.1,402.5 398.6,401.9 399.1,400.7 399.6,399.4 400.1,398.5 400.6,398.3 401.1,398.7 401.6,399.3 402.1,400.0 402.6,400.7 403.1,401.5 403.6,402.4 404.1,403.4 404.6,404.1 405.1,404.2 405.6,403.7 406.1,402.8 406.6,401.8 407.1,401.0 407.6,400.1 408.1,399.0 408.6,397.7 409.1,396.6 409.6,396.0 410.1,396.1 410.6,396.6 411.1,397.5 411.6,398.8 412.1,400.4 412.6,401.8 413.1,402.9 413.6,403.0 414.1,402.0 414.6,400.2 415.1,398.4 415.6,397.2 416.1,396.7 416.6,396.6 417.1,396.6 417.6,396.7 418.1,397.1 418.6,398.0 419.1,399.7 419.6,401.9 420.1,404.0 420.6,405.3 421.1,405.4 421.6,404.6 422.1,403.6 422.6,402.8 423.1,401.9 423.6,400.6 424.1,399.3 424.6,398.2 425.1,398.0 425.6,398.5 426.1,398.8 426.6,398.9 427.1,398.0 427.6,396.5 428.1,394.8 428.6,392.6 429.1,390.4 429.6,388.8 430.1,388.1 430.6,388.2 431.1,388.8 431.6,389.0 432.1,388.2 432.6,386.7 433.1,385.1 433.6,383.9 434.1,383.4 434.6,383.6 435.1,384.2 435.6,384.9 436.1,385.4 436.6,385.5 437.1,385.3 437.6,385.3 438.1,385.4 438.6,385.9 439.1,386.8 439.6,388.2 440.1,389.6 440.6,390.4 441.1,390.5 441.6,389.7 442.1,388.8 442.6,388.0 443.1,387.4 443.6,387.1 444.1,386.9 444.6,386.8 445.1,386.8 445.6,387.0 446.1,387.5 446.6,388.3 447.1,388.8 447.6,388.8 448.1,387.8 448.6,386.5 449.1,385.6 449.6,385.7 450.1,386.8 450.6,388.5 451.1,390.1 451.6,391.3 452.1,391.9 452.6,391.9 453.1,391.7 453.6,391.2 454.1,390.5 454.6,389.6 455.1,388.4 455.6,387.3 456.1,386.6 456.6,386.4 457.1,386.8 457.6,387.6 458.1,388.5 458.6,389.4 459.1,390.1 459.6,390.5 460.1,390.8 460.6,391.2 461.1,391.4 461.6,391.0 462.1,389.8 462.6,388.5 463.1,387.4 463.6,387.1 464.1,387.4 464.6,388.3 465.1,389.2 465.6,389.8 466.1,390.2 466.6,390.6 467.1,391.2 467.6,392.0 468.1,392.9 468.6,393.3 469.1,392.9 469.6,391.4 470.1,389.3 470.6,387.3 471.1,386.2 471.6,386.0 472.1,386.3 472.6,386.7 473.1,387.1 473.6,387.8 474.1,388.8 474.6,389.8 475.1,390.5 475.6,391.0 476.1,392.3 476.6,393.7 477.1,394.7 477.6,395.3 478.1,395.3 478.6,395.4 479.1,395.4 479.6,395.5 480.1,395.6 480.6,395.5 481.1,395.6 481.6,395.8 482.1,396.1 482.6,396.3 483.1,396.4 483.6,396.3 484.1,396.1 484.6,395.7 485.1,395.0 485.6,394.3 486.1,393.4 486.6,392.7 487.1,392.1 487.6,391.7 488.1,391.0 488.6,390.0 489.1,388.9 489.6,387.6 490.1,385.5 490.6,383.1 491.1,381.0 491.6,379.8 492.1,379.8 492.6,380.2 493.1,380.6 493.6,380.5 494.1,380.0 494.6,379.2 495.1,378.5 495.6,378.2 496.1,378.4 496.6,379.0 497.1,379.7 497.6,380.3 498.1,380.4 498.6,380.4 499.1,380.5 499.6,380.8 500.1,381.2 500.6,381.6 501.1,382.0 501.6,382.5 502.1,382.9 502.6,382.7 503.1,381.9 503.6,380.5 504.1,379.1 504.6,378.3 505.1,378.2 505.6,378.6 506.1,379.2 506.6,379.5 507.1,379.6 507.6,379.6 508.1,379.7 508.6,379.8 509.1,379.8 509.6,379.7 510.1,379.5 510.6,379.5 511.1,379.8 511.6,380.2 512.1,380.8 512.6,381.3 513.1,381.5 513.6,381.5 514.1,381.7 514.6,382.1 515.1,382.8 515.6,383.8 516.1,384.7 516.6,385.4 517.1,386.0 517.6,386.6 518.1,387.3 518.6,387.9 519.1,388.2 519.6,388.2 520.1,387.7 520.6,387.3 521.1,387.2 521.6,387.3 522.1,387.4 522.6,387.5 523.1,387.4 523.6,387.1 524.1,386.3 524.6,385.4 525.1,384.6 525.6,383.9 526.1,383.7 526.6,383.8 527.1,384.1 527.6,384.2 528.1,383.9 528.6,383.3 529.1,382.8 529.6,382.8 530.1,383.1 530.6,383.1 531.1,383.0 531.6,382.7 532.1,382.3 532.6,382.0 533.1,381.5 533.6,380.8 534.1,379.9 534.6,379.1 535.1,378.3 535.6,377.6 536.1,376.9 536.6,376.2 537.1,375.5 537.6,374.9 538.1,374.2 538.6,373.4 539.1,372.0 539.6,370.3 540.1,368.4 540.6,366.5 541.1,365.0 541.6,363.7 542.1,362.7 542.6,361.5 543.1,360.1 543.6,358.4 544.1,356.7 544.6,355.3 545.1,355.5 545.6,356.6 546.1,357.8 546.6,359.1 547.1,360.3 547.6,361.5 548.1,362.8 548.6,363.9 549.1,364.8 549.6,365.2 550.1,365.0 550.6,364.7 551.1,364.7 551.6,365.0 552.1,365.5 552.6,366.2 553.1,366.8 553.6,367.4 554.1,368.1 554.6,368.9 555.1,369.6 555.6,370.2 556.1,370.6 556.6,371.0 557.1,371.4 557.6,371.9 558.1,372.3 558.6,372.8 559.1,373.6 559.6,374.2 560.1,374.6 560.6,374.9 561.1,375.2 561.6,375.6 562.1,376.0 562.6,376.0 563.1,375.9 563.6,375.6 564.1,375.5 564.6,375.4 565.1,375.4 565.6,375.4 566.1,375.4 566.6,375.3 567.1,375.2 567.6,374.9 568.1,374.5 568.6,374.1 569.1,373.7 569.6,373.3 570.1,373.0 570.6,372.8 571.1,372.5 571.6,372.1 572.1,371.6 572.6,371.0 573.1,370.3 573.6,369.5 574.1,368.7 574.6,367.9 575.1,367.3 575.6,366.8 576.1,366.2 576.6,365.4 577.1,364.2 577.6,362.8 578.1,361.6 578.6,360.7 579.1,360.3 579.6,360.0 580.1,359.6 580.6,359.1 581.1,358.4 581.6,357.7 582.1,357.6 582.6,358.4 583.1,359.4 583.6,360.7 584.1,362.2 584.6,364.0 585.1,366.0 585.6,367.9 586.1,369.6 586.6,371.2 587.1,372.6 587.6,373.8 588.1,374.9 588.6,376.1 589.1,377.2 589.6,378.0 590.1,378.5 590.6,378.7 591.1,379.1 591.6,379.7 592.1,380.5 592.6,381.2 593.1,381.5 593.6,381.2 594.1,380.8 594.6,380.5 595.1,380.6 595.6,381.2 596.1,382.0 596.6,383.1 597.1,383.9 597.6,384.3 598.1,384.6 598.6,385.1 599.1,385.9 599.6,387.2 600.1,388.5 600.6,389.8 601.1,390.5 601.6,390.7 602.1,389.9 602.6,389.2 603.1,388.5 603.6,388.0 604.1,387.7 604.6,387.7 605.1,387.8 605.6,387.6 606.1,386.9 606.6,386.3 607.1,385.9 607.6,385.8 608.1,386.2 608.6,386.6 609.1,386.9 609.6,387.0 610.1,386.7 610.6,386.2 611.1,385.5 611.6,384.5 612.1,383.9 612.6,383.3 613.1,382.6 613.6,381.6 614.1,380.4 614.6,379.0 615.1,377.7 615.6,376.5 616.1,375.5 616.6,374.8 617.1,374.2 617.6,373.5 618.1,372.7 618.6,371.8 619.1,370.9 619.6,370.0 620.1,369.0 620.6,368.1 621.1,367.6 621.6,367.5 622.1,367.8 622.6,368.3 623.1,368.9 623.6,369.6 624.1,370.1 624.6,370.2 625.1,369.6 625.6,369.0 626.1,368.9 626.6,369.6 627.1,370.8 627.6,372.3 628.1,373.5 628.6,374.5 629.1,375.3 629.6,375.6 630.1,375.4 630.6,374.8 631.1,373.9 631.6,373.2 632.1,373.1 632.6,373.7 633.1,374.8 633.6,375.9 634.1,376.5 634.6,376.5 635.1,376.1 635.6,375.3 636.1,374.7 636.6,374.2 637.1,374.0 637.6,373.8 638.1,373.3 638.6,372.5 639.1,371.6 639.6,370.7 640.1,370.1 640.6,369.6 641.1,369.2 641.6,369.2 642.1,369.4 642.6,369.8 643.1,370.2 643.6,370.5 644.1,370.6 644.6,370.4 645.1,370.4 645.6,370.7 646.1,371.3 646.6,372.3 647.1,373.2 647.6,374.3 648.1,375.8 648.6,377.3 649.1,378.8 649.6,380.5 650.1,382.4 650.6,384.2 651.1,384.7 651.6,385.0 652.1,384.9 652.6,384.6 653.1,384.3 653.6,383.8 654.1,383.1 654.6,382.1 655.1,381.1 655.6,380.4 656.1,379.8 656.6,379.3 657.1,378.7 657.6,378.1 658.1,377.6 658.6,377.3 659.1,377.1 659.6,377.0 660.1,376.8 660.6,376.6 661.1,376.4 661.6,376.0 662.1,375.2 662.6,374.4 663.1,373.9 663.6,373.8 664.1,373.9 664.6,374.2 665.1,374.7 665.6,375.4 666.1,376.4 666.6,377.8 667.1,379.5 667.6,381.4 668.1,383.4 668.6,385.2 669.1,386.6 669.6,387.5 670.1,387.8 670.6,388.1 671.1,388.6 671.6,389.0 672.1,389.3 672.6,389.4 673.1,389.1 673.6,388.8 674.1,388.6 674.6,388.1 675.1,387.5 675.6,386.7 676.1,386.1 676.6,385.5 677.1,384.8 677.6,383.9 678.1,383.0 678.6,382.5 679.1,382.3 679.6,382.1 680.1,381.6 680.6,380.4 681.1,379.4 681.6,378.4 682.1,377.7 682.6,377.5 683.1,377.6 683.6,378.0 684.1,378.5 684.6,379.1 685.1,380.0 685.6,380.6 686.1,380.9 686.6,380.6 687.1,379.6 687.6,378.5 688.1,377.9 688.6,377.8 689.1,378.0 689.6,378.0 690.1,377.9 690.6,378.0 691.1,378.8 691.6,380.1 692.1,381.7 692.6,383.0 693.1,383.9 693.6,384.3 694.1,384.5 694.6,384.5 695.1,384.7 695.6,385.2 696.1,386.0 696.6,386.7 697.1,387.0 697.6,387.0 698.1,387.0 698.6,386.9 699.1,386.6 699.6,386.0 700.1,385.7 700.6,385.7 701.1,385.9 701.6,385.9 702.1,385.7 702.6,385.4 703.1,385.5 703.6,386.0 704.1,386.4 704.6,387.1 705.1,388.1 705.6,389.6 706.1,391.4 706.6,393.2 707.1,394.8 707.6,396.1 708.1,397.1 708.6,397.7 709.1,398.2 709.6,398.5 710.1,398.6 710.6,398.4 711.1,398.2 711.6,398.2 712.1,398.5 712.6,398.9 713.1,399.4 713.6,399.6 714.1,399.6 714.6,399.4 715.1,399.2 715.6,399.1 716.1,399.6 716.6,400.6 717.1,401.7 717.6,402.4 718.1,402.5 718.6,402.2 719.1,401.6 719.6,401.0 720.1,400.7 720.6,401.1 721.1,401.9 721.6,402.6 722.1,403.0 722.6,403.0 723.1,402.9 723.6,402.8 724.1,402.8 724.6,402.8 725.1,402.9 725.6,403.0 726.1,403.1 726.6,403.1 727.1,402.8 727.6,402.0 728.1,400.4 728.6,398.3 729.1,395.9 729.6,393.2 730.1,390.3 730.6,387.4 731.1,384.5 731.6,382.0 732.1,380.1 732.6,378.8 733.1,378.2 733.6,378.0 734.1,378.0 734.6,378.2 735.1,378.2 735.6,378.2 736.1,378.5 736.6,379.2 737.1,380.0 737.6,380.5 738.1,380.7 738.6,380.7 739.1,381.1 739.6,381.8 740.1,382.8 740.6,383.7 741.1,384.4 741.6,385.1 742.1,385.7 742.6,386.0 743.1,386.1 743.6,386.1 744.1,386.6 744.6,387.7 745.1,388.9 745.6,389.8" stroke="#d62728" stroke-dasharray="3.2,1.8"/><path d="M96.6,368.3 97.1,368.4 97.6,368.5 98.1,368.6 98.6,368.8 99.1,369.3 99.6,370.2 100.1,371.4 100.6,372.4 101.1,373.0 101.6,373.0 102.1,372.9 102.6,372.7 103.1,372.6 103.6,372.5 104.1,372.4 104.6,372.5 105.1,372.7 105.6,372.9 106.1,372.9 106.6,372.7 107.1,372.4 107.6,372.1 108.1,372.1 108.6,372.7 109.1,373.5 109.6,374.5 110.1,375.3 110.6,376.0 111.1,376.6 111.6,377.3 112.1,378.4 112.6,379.8 113.1,381.4 113.6,383.1 114.1,384.6 114.6,386.0 115.1,386.8 115.6,386.1 116.1,385.1 116.6,383.8 117.1,382.4 117.6,380.9 118.1,379.3 118.6,377.6 119.1,375.7 119.6,374.0 120.1,372.6 120.6,371.8 121.1,370.9 121.6,370.1 122.1,369.2 122.6,368.3 123.1,367.5 123.6,366.7 124.1,365.9 124.6,365.2 125.1,364.5 125.6,363.5 126.1,362.2 126.6,360.8 127.1,359.7 127.6,359.2 128.1,359.2 128.6,359.9 129.1,360.6 129.6,361.2 130.1,361.8 130.6,362.1 131.1,362.1 131.6,361.9 132.1,361.7 132.6,361.8 133.1,363.1 133.6,364.8 134.1,366.6 134.6,368.3 135.1,369.9 135.6,371.3 136.1,372.5 136.6,373.8 137.1,375.0 137.6,376.5 138.1,377.9 138.6,379.2 139.1,380.2 139.6,380.9 140.1,381.4 140.6,381.5 141.1,380.8 141.6,379.0 142.1,377.3 142.6,375.9 143.1,375.0 143.6,374.6 144.1,374.4 144.6,374.2 145.1,374.2 145.6,374.1 146.1,374.2 146.6,374.3 147.1,374.6 147.6,375.1 148.1,375.8 148.6,376.2 149.1,376.6 149.6,376.7 150.1,376.5 150.6,376.2 151.1,375.6 151.6,374.9 152.1,374.3 152.6,373.5 153.1,373.0 153.6,372.5 154.1,372.1 154.6,371.7 155.1,371.5 155.6,371.3 156.1,370.9 156.6,370.4 157.1,369.7 157.6,369.0 158.1,369.0 158.6,370.1 159.1,372.6 159.6,375.4 160.1,377.4 160.6,378.3 161.1,378.2 161.6,377.4 162.1,376.2 162.6,374.8 163.1,373.6 163.6,372.4 164.1,371.1 164.6,369.6 165.1,367.6 165.6,365.1 166.1,362.0 166.6,359.0 167.1,356.5 167.6,355.7 168.1,357.0 168.6,358.5 169.1,360.2 169.6,362.1 170.1,364.1 170.6,366.2 171.1,368.2 171.6,370.2 172.1,371.9 172.6,373.3 173.1,374.7 173.6,376.0 174.1,377.2 174.6,378.1 175.1,378.8 175.6,379.4 176.1,379.7 176.6,379.1 177.1,378.0 177.6,377.0 178.1,376.3 178.6,375.9 179.1,375.6 179.6,375.4 180.1,375.2 180.6,375.5 181.1,376.5 181.6,377.9 182.1,379.5 182.6,381.3 183.1,382.9 183.6,384.5 184.1,385.8 184.6,385.5 185.1,384.6 185.6,383.5 186.1,382.3 186.6,380.9 187.1,379.3 187.6,377.6 188.1,375.7 188.6,373.9 189.1,372.0 189.6,370.2 190.1,368.4 190.6,366.5 191.1,364.5 191.6,362.5 192.1,360.6 192.6,359.3 193.1,358.7 193.6,358.5 194.1,358.8 194.6,361.0 195.1,363.4 195.6,366.1 196.1,368.8 196.6,371.0 197.1,372.3 197.6,372.9 198.1,372.7 198.6,371.7 199.1,370.3 199.6,369.5 200.1,369.2 200.6,369.4 201.1,369.8 201.6,370.3 202.1,371.0 202.6,371.9 203.1,372.8 203.6,373.8 204.1,375.2 204.6,376.7 205.1,378.1 205.6,379.1 206.1,379.3 206.6,378.2 207.1,376.5 207.6,374.6 208.1,372.7 208.6,370.7 209.1,368.6 209.6,366.6 210.1,364.9 210.6,363.5 211.1,362.4 211.6,361.6 212.1,361.2 212.6,361.0 213.1,362.0 213.6,363.3 214.1,364.4 214.6,365.4 215.1,366.4 215.6,367.4 216.1,368.5 216.6,369.7 217.1,371.0 217.6,372.5 218.1,373.8 218.6,375.2 219.1,376.8 219.6,378.3 220.1,379.5 220.6,380.3 221.1,380.8 221.6,381.0 222.1,380.9 222.6,380.6 223.1,380.2 223.6,380.2 224.1,380.7 224.6,381.9 225.1,382.2 225.6,381.7 226.1,380.4 226.6,378.4 227.1,376.1 227.6,373.9 228.1,372.1 228.6,370.3 229.1,368.4 229.6,366.8 230.1,365.3 230.6,364.2 231.1,363.5 231.6,363.2 232.1,364.2 232.6,365.1 233.1,366.3 233.6,368.1 234.1,370.4 234.6,372.6 235.1,374.9 235.6,377.5 236.1,379.8 236.6,381.5 237.1,382.2 237.6,381.9 238.1,380.2 238.6,378.4 239.1,377.2 239.6,376.2 240.1,375.2 240.6,374.2 241.1,373.2 241.6,372.4 242.1,371.8 242.6,371.4 243.1,371.2 243.6,370.9 244.1,370.3 244.6,369.5 245.1,368.7 245.6,367.8 246.1,366.9 246.6,366.2 247.1,365.3 247.6,364.5 248.1,363.8 248.6,363.5 249.1,364.2 249.6,365.0 250.1,365.6 250.6,366.0 251.1,366.1 251.6,366.4 252.1,367.0 252.6,368.2 253.1,369.7 253.6,371.3 254.1,373.4 254.6,375.8 255.1,378.4 255.6,381.2 256.1,384.2 256.6,387.2 257.1,390.0 257.6,392.7 258.1,395.3 258.6,397.4 259.1,396.3 259.6,393.7 260.1,390.3 260.6,386.5 261.1,382.5 261.6,378.8 262.1,375.6 262.6,373.2 263.1,372.2 263.6,371.1 264.1,369.7 264.6,368.1 265.1,366.5 265.6,364.9 266.1,363.4 266.6,362.4 267.1,362.0 267.6,362.0 268.1,362.4 268.6,362.8 269.1,363.0 269.6,362.9 270.1,362.7 270.6,362.5 271.1,362.8 271.6,363.9 272.1,365.3 272.6,366.6 273.1,367.9 273.6,369.3 274.1,370.6 274.6,371.5 275.1,371.9 275.6,372.2 276.1,372.8 276.6,373.7 277.1,374.6 277.6,375.0 278.1,375.1 278.6,375.0 279.1,374.6 279.6,374.1 280.1,373.8 280.6,374.0 281.1,374.8 281.6,376.1 282.1,377.6 282.6,379.0 283.1,380.2 283.6,381.1 284.1,382.0 284.6,383.3 285.1,385.2 285.6,387.3 286.1,388.7 286.6,389.4 287.1,389.5 287.6,389.2 288.1,388.9 288.6,388.7 289.1,388.5 289.6,388.7 290.1,389.1 290.6,389.7 291.1,390.1 291.6,390.1 292.1,389.5 292.6,388.5 293.1,387.4 293.6,386.4 294.1,385.6 294.6,384.9 295.1,384.4 295.6,384.0 296.1,383.9 296.6,383.9 297.1,383.7 297.6,383.4 298.1,382.9 298.6,382.9 299.1,383.0 299.6,383.3 300.1,384.0 300.6,384.9 301.1,385.8 301.6,386.6 302.1,387.2 302.6,387.7 303.1,388.2 303.6,388.9 304.1,389.0 304.6,388.9 305.1,388.4 305.6,387.4 306.1,386.1 306.6,384.8 307.1,383.5 307.6,382.2 308.1,380.7 308.6,379.0 309.1,377.3 309.6,375.3 310.1,373.4 310.6,371.5 311.1,369.8 311.6,368.3 312.1,367.1 312.6,365.9 313.1,365.0 313.6,364.4 314.1,364.6 314.6,365.3 315.1,366.3 315.6,367.2 316.1,367.8 316.6,368.2 317.1,368.6 317.6,369.4 318.1,370.4 318.6,371.2 319.1,371.7 319.6,371.7 320.1,371.6 320.6,372.1 321.1,373.6 321.6,375.6 322.1,377.6 322.6,378.6 323.1,378.5 323.6,377.8 324.1,377.0 324.6,376.2 325.1,375.7 325.6,375.3 326.1,375.0 326.6,374.7 327.1,374.4 327.6,374.2 328.1,374.0 328.6,373.7 329.1,373.5 329.6,373.1 330.1,372.6 330.6,372.2 331.1,371.9 331.6,371.8 332.1,372.0 332.6,372.4 333.1,373.0 333.6,373.6 334.1,374.2 334.6,374.6 335.1,374.9 335.6,375.0 336.1,375.2 336.6,375.5 337.1,375.7 337.6,375.8 338.1,375.6 338.6,375.2 339.1,374.6 339.6,374.2 340.1,373.9 340.6,373.8 341.1,373.9 341.6,374.1 342.1,374.4 342.6,374.6 343.1,375.0 343.6,375.3 344.1,375.7 344.6,375.9 345.1,375.9 345.6,375.8 346.1,375.9 346.6,376.6 347.1,377.9 347.6,379.8 348.1,382.2 348.6,384.4 349.1,385.7 349.6,385.9 350.1,385.0 350.6,384.0 351.1,383.0 351.6,382.2 352.1,381.9 352.6,382.0 353.1,382.3 353.6,382.6 354.1,382.4 354.6,381.7 355.1,381.0 355.6,380.9 356.1,381.9 356.6,383.6 357.1,385.4 357.6,386.7 358.1,387.1 358.6,386.7 359.1,386.2 359.6,385.6 360.1,385.7 360.6,386.6 361.1,388.2 361.6,390.2 362.1,391.9 362.6,392.8 363.1,393.1 363.6,393.5 364.1,394.2 364.6,395.0 365.1,395.5 365.6,395.4 366.1,395.0 366.6,394.7 367.1,395.1 367.6,396.0 368.1,397.2 368.6,398.6 369.1,400.3 369.6,402.2 370.1,403.7 370.6,404.3 371.1,404.5 371.6,404.6 372.1,405.1 372.6,406.0 373.1,407.4 373.6,409.1 374.1,410.6 374.6,411.3 375.1,410.8 375.6,409.7 376.1,408.6 376.6,408.0 377.1,407.6 377.6,407.7 378.1,407.5 378.6,406.7 379.1,405.0 379.6,403.2 380.1,401.6 380.6,400.3 381.1,399.1 381.6,397.8 382.1,396.7 382.6,396.3 383.1,396.6 383.6,397.7 384.1,398.8 384.6,399.2 385.1,398.5 385.6,396.9 386.1,394.9 386.6,393.2 387.1,392.0 387.6,391.2 388.1,390.7 388.6,390.2 389.1,389.5 389.6,388.8 390.1,388.3 390.6,388.0 391.1,388.2 391.6,388.6 392.1,389.3 392.6,390.2 393.1,390.7 393.6,390.8 394.1,390.2 394.6,389.1 395.1,387.9 395.6,387.1 396.1,387.0 396.6,388.0 397.1,389.6 397.6,390.9 398.1,391.4 398.6,390.8 399.1,389.7 399.6,388.8 400.1,388.3 400.6,388.3 401.1,388.6 401.6,388.9 402.1,388.8 402.6,388.8 403.1,389.0 403.6,389.9 404.1,391.2 404.6,392.3 405.1,393.1 405.6,393.2 406.1,392.7 406.6,391.9 407.1,390.7 407.6,389.2 408.1,387.3 408.6,385.4 409.1,384.0 409.6,383.5 410.1,383.7 410.6,384.6 411.1,385.8 411.6,387.3 412.1,389.0 412.6,390.7 413.1,391.8 413.6,391.8 414.1,390.8 414.6,389.1 415.1,387.3 415.6,386.1 416.1,385.6 416.6,385.5 417.1,385.7 417.6,386.1 418.1,386.7 418.6,387.5 419.1,388.6 419.6,389.9 420.1,391.0 420.6,391.6 421.1,391.6 421.6,391.4 422.1,391.2 422.6,390.9 423.1,390.3 423.6,389.2 424.1,388.1 424.6,387.5 425.1,387.8 425.6,388.9 426.1,390.0 426.6,390.7 427.1,390.4 427.6,389.3 428.1,387.9 428.6,386.2 429.1,384.4 429.6,382.9 430.1,382.1 430.6,381.9 431.1,382.1 431.6,381.9 432.1,380.9 432.6,379.3 433.1,377.6 433.6,376.4 434.1,376.1 434.6,376.5 435.1,377.2 435.6,377.8 436.1,378.0 436.6,377.8 437.1,377.6 437.6,377.5 438.1,377.5 438.6,377.9 439.1,378.5 439.6,379.3 440.1,380.2 440.6,380.9 441.1,381.0 441.6,380.7 442.1,380.0 442.6,379.4 443.1,379.0 443.6,378.9 444.1,378.9 444.6,378.8 445.1,378.7 445.6,378.8 446.1,379.2 446.6,380.1 447.1,381.0 447.6,381.4 448.1,380.9 448.6,379.8 449.1,378.9 449.6,378.8 450.1,379.9 450.6,381.5 451.1,383.2 451.6,384.5 452.1,385.1 452.6,385.2 453.1,385.1 453.6,384.7 454.1,384.0 454.6,383.0 455.1,381.8 455.6,380.7 456.1,379.9 456.6,379.6 457.1,379.9 457.6,380.5 458.1,381.4 458.6,382.3 459.1,383.0 459.6,383.2 460.1,383.3 460.6,383.4 461.1,383.5 461.6,383.3 462.1,382.6 462.6,381.6 463.1,380.6 463.6,380.0 464.1,380.0 464.6,380.7 465.1,381.8 465.6,382.8 466.1,383.6 466.6,384.3 467.1,385.0 467.6,385.7 468.1,386.2 468.6,386.4 469.1,386.0 469.6,384.6 470.1,382.7 470.6,380.9 471.1,379.9 471.6,379.7 472.1,379.9 472.6,380.1 473.1,380.2 473.6,380.4 474.1,380.9 474.6,381.6 475.1,382.4 475.6,383.4 476.1,384.8 476.6,386.1 477.1,386.7 477.6,386.5 478.1,385.8 478.6,385.3 479.1,385.3 479.6,385.7 480.1,386.4 480.6,387.0 481.1,387.3 481.6,387.3 482.1,387.3 482.6,387.1 483.1,386.8 483.6,386.3 484.1,385.7 484.6,384.9 485.1,384.2 485.6,383.6 486.1,382.9 486.6,382.4 487.1,382.1 487.6,382.1 488.1,382.2 488.6,381.9 489.1,381.3 489.6,380.4 490.1,379.0 490.6,377.4 491.1,375.9 491.6,375.1 492.1,375.2 492.6,375.7 493.1,376.2 493.6,376.4 494.1,376.2 494.6,375.8 495.1,375.6 495.6,375.6 496.1,375.7 496.6,376.0 497.1,376.4 497.6,376.7 498.1,376.9 498.6,377.1 499.1,377.3 499.6,377.6 500.1,377.9 500.6,378.2 501.1,378.6 501.6,379.0 502.1,379.1 502.6,378.5 503.1,377.4 503.6,375.8 504.1,374.5 504.6,373.7 505.1,373.7 505.6,374.1 506.1,374.8 506.6,375.5 507.1,375.9 507.6,376.1 508.1,376.1 508.6,376.2 509.1,376.2 509.6,376.2 510.1,376.1 510.6,376.3 511.1,376.8 511.6,377.5 512.1,378.4 512.6,378.9 513.1,379.0 513.6,378.7 514.1,378.6 514.6,379.0 515.1,380.1 515.6,381.5 516.1,383.0 516.6,384.1 517.1,384.9 517.6,385.6 518.1,386.4 518.6,387.1 519.1,387.5 519.6,387.6 520.1,387.4 520.6,387.3 521.1,387.2 521.6,387.0 522.1,386.7 522.6,386.2 523.1,385.7 523.6,385.2 524.1,384.5 524.6,383.7 525.1,383.0 525.6,382.4 526.1,382.3 526.6,382.7 527.1,383.3 527.6,383.8 528.1,384.0 528.6,383.7 529.1,383.3 529.6,383.0 530.1,382.9 530.6,382.7 531.1,382.6 531.6,382.6 532.1,382.7 532.6,382.7 533.1,382.2 533.6,381.3 534.1,380.1 534.6,378.9 535.1,377.8 535.6,377.0 536.1,376.3 536.6,375.8 537.1,375.4 537.6,374.9 538.1,374.2 538.6,373.3 539.1,372.0 539.6,370.5 540.1,368.8 540.6,367.1 541.1,365.5 541.6,364.3 542.1,363.5 542.6,362.8 543.1,361.8 543.6,360.6 544.1,359.2 544.6,357.8 545.1,357.6 545.6,358.0 546.1,358.5 546.6,359.1 547.1,359.8 547.6,360.9 548.1,362.2 548.6,363.6 549.1,364.7 549.6,365.2 550.1,365.0 550.6,364.7 551.1,364.6 551.6,364.8 552.1,365.2 552.6,365.6 553.1,366.0 553.6,366.1 554.1,366.6 554.6,367.5 555.1,368.8 555.6,370.1 556.1,371.2 556.6,372.0 557.1,372.6 557.6,373.3 558.1,373.8 558.6,374.4 559.1,374.9 559.6,375.4 560.1,375.6 560.6,375.9 561.1,376.2 561.6,376.6 562.1,376.9 562.6,377.1 563.1,377.2 563.6,377.2 564.1,377.2 564.6,377.1 565.1,376.9 565.6,376.7 566.1,376.5 566.6,376.4 567.1,376.2 567.6,375.9 568.1,375.4 568.6,374.8 569.1,374.3 569.6,373.8 570.1,373.4 570.6,373.0 571.1,372.5 571.6,371.8 572.1,371.2 572.6,370.5 573.1,369.9 573.6,369.2 574.1,368.5 574.6,367.7 575.1,366.7 575.6,365.8 576.1,365.0 576.6,364.2 577.1,363.2 577.6,362.2 578.1,361.3 578.6,360.6 579.1,360.0 579.6,359.5 580.1,358.9 580.6,358.1 581.1,357.1 581.6,356.1 582.1,355.8 582.6,356.7 583.1,358.0 583.6,359.7 584.1,361.7 584.6,363.8 585.1,366.0 585.6,368.0 586.1,369.7 586.6,371.0 587.1,372.2 587.6,373.4 588.1,374.9 588.6,376.6 589.1,378.2 589.6,379.4 590.1,380.0 590.6,380.4 591.1,381.0 591.6,381.9 592.1,382.9 592.6,383.9 593.1,384.4 593.6,383.9 594.1,383.4 594.6,383.1 595.1,383.1 595.6,383.5 596.1,384.1 596.6,385.0 597.1,385.4 597.6,385.4 598.1,385.5 598.6,386.1 599.1,387.2 599.6,388.8 600.1,390.6 600.6,392.1 601.1,392.8 601.6,392.9 602.1,391.9 602.6,391.1 603.1,390.6 603.6,390.2 604.1,389.8 604.6,389.5 605.1,389.0 605.6,388.2 606.1,387.1 606.6,386.3 607.1,386.0 607.6,386.2 608.1,386.6 608.6,387.0 609.1,387.0 609.6,386.7 610.1,386.5 610.6,386.2 611.1,385.9 611.6,385.4 612.1,384.9 612.6,384.6 613.1,384.2 613.6,383.6 614.1,382.6 614.6,381.2 615.1,379.5 615.6,377.7 616.1,376.1 616.6,374.9 617.1,374.0 617.6,373.1 618.1,372.2 618.6,371.1 619.1,369.8 619.6,368.6 620.1,367.4 620.6,366.4 621.1,365.7 621.6,365.3 622.1,365.1 622.6,365.3 623.1,365.6 623.6,366.0 624.1,366.3 624.6,366.1 625.1,365.1 625.6,364.1 626.1,363.5 626.6,363.8 627.1,365.1 627.6,366.7 628.1,368.3 628.6,369.6 629.1,370.5 629.6,371.0 630.1,371.1 630.6,370.8 631.1,370.4 631.6,370.0 632.1,369.9 632.6,370.4 633.1,371.2 633.6,372.2 634.1,372.9 634.6,373.1 635.1,372.8 635.6,372.1 636.1,371.2 636.6,370.4 637.1,369.8 637.6,369.4 638.1,369.0 638.6,368.7 639.1,368.2 639.6,367.7 640.1,367.2 640.6,366.9 641.1,366.9 641.6,367.3 642.1,368.1 642.6,369.1 643.1,370.0 643.6,370.6 644.1,370.9 644.6,370.6 645.1,370.2 645.6,370.0 646.1,370.3 646.6,371.1 647.1,372.3 647.6,373.9 648.1,376.0 648.6,378.3 649.1,380.5 649.6,382.8 650.1,385.1 650.6,387.0 651.1,387.3 651.6,387.2 652.1,386.8 652.6,386.2 653.1,385.8 653.6,385.4 654.1,384.8 654.6,384.1 655.1,383.3 655.6,382.5 656.1,381.7 656.6,381.2 657.1,380.7 657.6,380.3 658.1,380.0 658.6,379.8 659.1,379.7 659.6,379.5 660.1,379.3 660.6,378.9 661.1,378.6 661.6,378.1 662.1,377.1 662.6,376.1 663.1,375.2 663.6,374.5 664.1,374.2 664.6,374.1 665.1,374.1 665.6,374.3 666.1,374.8 666.6,375.6 667.1,377.0 667.6,378.8 668.1,380.5 668.6,382.0 669.1,383.0 669.6,383.4 670.1,383.2 670.6,383.1 671.1,383.2 671.6,383.6 672.1,384.1 672.6,384.5 673.1,384.8 673.6,385.0 674.1,385.0 674.6,384.6 675.1,383.9 675.6,383.0 676.1,382.3 676.6,381.7 677.1,381.1 677.6,380.4 678.1,379.8 678.6,379.6 679.1,379.7 679.6,379.6 680.1,379.0 680.6,377.6 681.1,375.9 681.6,374.1 682.1,372.8 682.6,372.1 683.1,371.8 683.6,371.9 684.1,372.0 684.6,372.4 685.1,373.0 685.6,373.9 686.1,374.6 686.6,374.8 687.1,374.2 687.6,373.1 688.1,372.1 688.6,371.6 689.1,371.3 689.6,371.3 690.1,371.3 690.6,371.4 691.1,372.0 691.6,373.1 692.1,374.4 692.6,375.7 693.1,376.7 693.6,377.4 694.1,377.8 694.6,378.1 695.1,378.6 695.6,379.4 696.1,380.3 696.6,381.0 697.1,381.4 697.6,381.6 698.1,381.9 698.6,382.1 699.1,382.1 699.6,381.9 700.1,381.8 700.6,381.8 701.1,381.9 701.6,381.9 702.1,381.9 702.6,382.0 703.1,382.5 703.6,383.3 704.1,383.8 704.6,384.3 705.1,385.0 705.6,386.2 706.1,387.7 706.6,389.3 707.1,390.7 707.6,392.0 708.1,393.1 708.6,393.7 709.1,394.2 709.6,394.4 710.1,394.2 710.6,393.9 711.1,393.5 711.6,393.4 712.1,393.6 712.6,394.2 713.1,394.9 713.6,395.4 714.1,395.6 714.6,395.5 715.1,395.2 715.6,394.9 716.1,395.1 716.6,396.0 717.1,397.2 717.6,398.3 718.1,398.9 718.6,398.9 719.1,398.4 719.6,397.5 720.1,397.0 720.6,397.2 721.1,398.1 721.6,399.2 722.1,400.1 722.6,400.8 723.1,401.1 723.6,401.4 724.1,401.5 724.6,401.6 725.1,401.7 725.6,402.0 726.1,402.5 726.6,402.9 727.1,403.3 727.6,403.0 728.1,402.0 728.6,400.4 729.1,398.4 729.6,396.1 730.1,393.6 730.6,391.0 731.1,388.3 731.6,385.8 732.1,384.0 732.6,382.8 733.1,382.9 733.6,383.4 734.1,384.0 734.6,384.4 735.1,384.7 735.6,384.9 736.1,385.5 736.6,386.4 737.1,387.4 737.6,387.9 738.1,387.7 738.6,387.1 739.1,387.1 739.6,387.7 740.1,388.7 740.6,389.8 741.1,390.7 741.6,391.4 742.1,391.8 742.6,392.0 743.1,391.8 743.6,391.4 744.1,391.5 744.6,392.1 745.1,393.0 745.6,393.6" stroke="#2ca02c" stroke-dasharray="3.2,1.8"/><path d="M96.6,367.2 97.1,367.4 97.6,367.5 98.1,367.6 98.6,367.5 99.1,367.7 99.6,368.1 100.1,368.8 100.6,369.5 101.1,370.0 101.6,370.2 102.1,370.3 102.6,370.5 103.1,370.8 103.6,371.1 104.1,371.4 104.6,371.6 105.1,371.9 105.6,372.3 106.1,372.7 106.6,373.0 107.1,373.0 107.6,372.9 108.1,372.9 108.6,373.3 109.1,373.9 109.6,374.7 110.1,375.5 110.6,376.3 111.1,377.4 111.6,378.7 112.1,380.2 112.6,381.9 113.1,383.6 113.6,385.0 114.1,386.1 114.6,386.8 115.1,386.9 115.6,385.6 116.1,384.0 116.6,382.3 117.1,380.7 117.6,379.2 118.1,377.7 118.6,376.3 119.1,374.8 119.6,373.4 120.1,372.2 120.6,371.4 121.1,370.6 121.6,369.9 122.1,369.3 122.6,368.8 123.1,368.2 123.6,367.5 124.1,366.7 124.6,366.0 125.1,365.3 125.6,364.5 126.1,363.4 126.6,362.2 127.1,361.3 127.6,360.8 128.1,360.6 128.6,360.9 129.1,361.1 129.6,361.4 130.1,361.6 130.6,361.9 131.1,362.0 131.6,362.0 132.1,362.2 132.6,362.8 133.1,364.3 133.6,365.9 134.1,367.4 134.6,368.7 135.1,370.0 135.6,371.2 136.1,372.4 136.6,373.5 137.1,374.4 137.6,375.6 138.1,376.8 138.6,378.0 139.1,378.9 139.6,379.4 140.1,379.4 140.6,379.0 141.1,378.1 141.6,376.4 142.1,375.1 142.6,374.3 143.1,373.8 143.6,373.6 144.1,373.5 144.6,373.6 145.1,374.1 145.6,375.0 146.1,376.1 146.6,377.1 147.1,377.9 147.6,378.6 148.1,379.0 148.6,378.7 149.1,378.4 149.6,378.0 150.1,377.4 150.6,376.5 151.1,375.5 151.6,374.5 152.1,373.5 152.6,372.6 153.1,371.9 153.6,371.3 154.1,370.9 154.6,370.4 155.1,369.9 155.6,369.2 156.1,368.1 156.6,366.8 157.1,365.2 157.6,363.8 158.1,363.1 158.6,363.6 159.1,365.9 159.6,369.0 160.1,371.7 160.6,373.7 161.1,375.0 161.6,375.5 162.1,375.4 162.6,375.1 163.1,374.5 163.6,373.7 164.1,372.8 164.6,371.6 165.1,370.1 165.6,368.0 166.1,365.5 166.6,362.8 167.1,360.7 167.6,359.8 168.1,360.6 168.6,361.9 169.1,363.6 169.6,365.6 170.1,367.6 170.6,369.4 171.1,370.9 171.6,372.1 172.1,373.1 172.6,373.7 173.1,374.3 173.6,375.0 174.1,375.6 174.6,376.3 175.1,376.9 175.6,377.2 176.1,377.0 176.6,375.9 177.1,374.5 177.6,373.3 178.1,372.8 178.6,372.9 179.1,373.5 179.6,374.3 180.1,375.1 180.6,376.6 181.1,378.5 181.6,380.6 182.1,382.4 182.6,384.0 183.1,385.4 183.6,386.8 184.1,388.1 184.6,387.7 185.1,386.5 185.6,385.0 186.1,383.2 186.6,381.1 187.1,379.0 187.6,376.9 188.1,374.8 188.6,372.9 189.1,371.1 189.6,369.4 190.1,367.7 190.6,365.9 191.1,364.0 191.6,362.1 192.1,360.2 192.6,358.6 193.1,357.3 193.6,356.4 194.1,356.1 194.6,358.3 195.1,361.3 195.6,364.7 196.1,368.3 196.6,371.4 197.1,373.5 197.6,374.7 198.1,375.2 198.6,374.8 199.1,373.5 199.6,372.1 200.1,371.3 200.6,371.0 201.1,371.1 201.6,371.5 202.1,372.1 202.6,372.7 203.1,373.4 203.6,374.0 204.1,374.7 204.6,375.4 205.1,376.1 205.6,376.7 206.1,376.9 206.6,376.1 207.1,375.0 207.6,373.7 208.1,372.4 208.6,371.0 209.1,369.4 209.6,368.0 210.1,367.0 210.6,366.5 211.1,366.3 211.6,366.3 212.1,366.1 212.6,365.9 213.1,366.4 213.6,367.0 214.1,367.5 214.6,367.9 215.1,368.4 215.6,368.9 216.1,369.7 216.6,370.6 217.1,371.6 217.6,372.6 218.1,373.6 218.6,374.8 219.1,376.2 219.6,377.7 220.1,379.1 220.6,380.1 221.1,380.6 221.6,380.9 222.1,380.8 222.6,380.7 223.1,380.7 223.6,381.0 224.1,381.7 224.6,382.8 225.1,382.7 225.6,381.6 226.1,379.7 226.6,377.3 227.1,374.5 227.6,372.2 228.1,370.5 228.6,369.0 229.1,367.8 229.6,366.6 230.1,365.7 230.6,364.9 231.1,364.4 231.6,364.1 232.1,365.1 232.6,365.9 233.1,366.8 233.6,368.3 234.1,370.2 234.6,372.1 235.1,374.0 235.6,375.8 236.1,377.2 236.6,378.0 237.1,377.9 237.6,377.0 238.1,375.3 238.6,373.7 239.1,372.9 239.6,372.5 240.1,372.3 240.6,372.1 241.1,372.0 241.6,371.8 242.1,371.7 242.6,371.9 243.1,372.3 243.6,372.7 244.1,372.7 244.6,372.3 245.1,371.6 245.6,370.9 246.1,370.3 246.6,369.8 247.1,369.2 247.6,368.3 248.1,367.2 248.6,366.1 249.1,365.7 249.6,365.6 250.1,365.8 250.6,366.0 251.1,366.3 251.6,366.6 252.1,367.3 252.6,368.6 253.1,370.3 253.6,372.4 254.1,374.7 254.6,377.0 255.1,379.3 255.6,381.5 256.1,383.9 256.6,386.4 257.1,389.0 257.6,391.6 258.1,394.0 258.6,395.8 259.1,394.5 259.6,391.6 260.1,388.2 260.6,384.6 261.1,381.0 261.6,377.6 262.1,374.6 262.6,372.3 263.1,371.5 263.6,370.7 264.1,369.7 264.6,368.4 265.1,366.9 265.6,365.4 266.1,364.0 266.6,363.1 267.1,362.5 267.6,362.3 268.1,362.0 268.6,361.6 269.1,361.0 269.6,360.4 270.1,359.8 270.6,359.6 271.1,359.8 271.6,361.0 272.1,362.5 272.6,363.8 273.1,365.2 273.6,366.6 274.1,368.0 274.6,369.3 275.1,370.1 275.6,370.9 276.1,371.6 276.6,372.5 277.1,373.5 277.6,374.3 278.1,375.1 278.6,375.8 279.1,376.3 279.6,376.5 280.1,376.7 280.6,377.1 281.1,378.0 281.6,379.3 282.1,381.0 282.6,382.7 283.1,384.2 283.6,385.3 284.1,386.4 284.6,387.8 285.1,389.7 285.6,391.5 286.1,392.3 286.6,392.4 287.1,392.1 287.6,391.6 288.1,391.2 288.6,390.7 289.1,390.2 289.6,389.8 290.1,389.9 290.6,390.3 291.1,390.6 291.6,390.6 292.1,390.1 292.6,389.2 293.1,388.3 293.6,387.3 294.1,386.6 294.6,386.0 295.1,385.7 295.6,385.5 296.1,385.4 296.6,385.2 297.1,385.0 297.6,384.5 298.1,384.1 298.6,384.5 299.1,385.0 299.6,385.7 300.1,386.6 300.6,387.6 301.1,388.5 301.6,389.3 302.1,390.0 302.6,390.6 303.1,391.4 303.6,392.4 304.1,392.6 304.6,392.4 305.1,391.6 305.6,389.9 306.1,387.6 306.6,385.5 307.1,383.7 307.6,382.4 308.1,381.2 308.6,379.8 309.1,378.2 309.6,376.3 310.1,374.4 310.6,372.6 311.1,371.0 311.6,369.7 312.1,368.7 312.6,368.0 313.1,367.7 313.6,367.8 314.1,368.6 314.6,369.7 315.1,371.2 315.6,372.6 316.1,373.8 316.6,374.5 317.1,375.1 317.6,375.5 318.1,376.1 318.6,376.8 319.1,377.3 319.6,377.7 320.1,378.0 320.6,378.6 321.1,379.8 321.6,381.3 322.1,382.5 322.6,383.0 323.1,382.2 323.6,381.1 324.1,379.9 324.6,378.9 325.1,378.0 325.6,377.1 326.1,376.0 326.6,374.9 327.1,373.8 327.6,373.2 328.1,372.9 328.6,372.4 329.1,371.9 329.6,371.5 330.1,371.2 330.6,371.0 331.1,370.7 331.6,370.5 332.1,370.3 332.6,370.3 333.1,370.5 333.6,370.8 334.1,371.0 334.6,371.3 335.1,371.5 335.6,371.9 336.1,372.4 336.6,372.7 337.1,372.9 337.6,372.9 338.1,372.6 338.6,372.3 339.1,371.9 339.6,371.6 340.1,371.5 340.6,371.5 341.1,371.4 341.6,371.1 342.1,370.7 342.6,370.4 343.1,370.1 343.6,370.0 344.1,369.8 344.6,369.6 345.1,369.3 345.6,368.9 346.1,368.7 346.6,368.8 347.1,369.4 347.6,370.3 348.1,371.5 348.6,372.7 349.1,373.5 349.6,373.7 350.1,373.1 350.6,372.2 351.1,371.2 351.6,370.6 352.1,370.3 352.6,370.4 353.1,370.7 353.6,370.7 354.1,370.4 354.6,369.5 355.1,368.5 355.6,368.1 356.1,368.9 356.6,370.7 357.1,372.5 357.6,373.6 358.1,373.6 358.6,372.7 359.1,371.5 359.6,370.5 360.1,370.0 360.6,370.2 361.1,371.1 361.6,372.5 362.1,373.7 362.6,374.3 363.1,374.5 363.6,374.5 364.1,374.5 364.6,374.3 365.1,373.7 365.6,372.6 366.1,371.3 366.6,370.5 367.1,370.2 367.6,370.6 368.1,371.3 368.6,372.2 369.1,373.3 369.6,374.4 370.1,375.1 370.6,375.0 371.1,374.5 371.6,374.1 372.1,374.1 372.6,374.5 373.1,375.4 373.6,376.5 374.1,377.3 374.6,377.3 375.1,376.2 375.6,374.6 376.1,373.0 376.6,372.3 377.1,372.4 377.6,372.9 378.1,373.1 378.6,372.4 379.1,371.3 379.6,370.2 380.1,369.5 380.6,369.2 381.1,369.1 381.6,369.1 382.1,369.5 382.6,370.4 383.1,372.1 383.6,374.1 384.1,375.9 384.6,376.7 385.1,376.3 385.6,375.2 386.1,374.1 386.6,373.5 387.1,373.1 387.6,373.0 388.1,373.0 388.6,372.8 389.1,372.7 389.6,372.7 390.1,373.1 390.6,373.7 391.1,374.5 391.6,375.5 392.1,376.6 392.6,377.8 393.1,378.6 393.6,378.8 394.1,378.5 394.6,377.8 395.1,377.1 395.6,376.3 396.1,375.9 396.6,376.3 397.1,377.7 397.6,379.4 398.1,380.5 398.6,380.4 399.1,379.3 399.6,377.8 400.1,376.5 400.6,375.8 401.1,375.5 401.6,375.4 402.1,375.5 402.6,375.6 403.1,376.1 403.6,377.2 404.1,378.7 404.6,380.1 405.1,381.0 405.6,381.2 406.1,380.8 406.6,379.9 407.1,378.6 407.6,376.9 408.1,374.9 408.6,372.9 409.1,371.4 409.6,370.8 410.1,371.0 410.6,371.7 411.1,372.8 411.6,374.2 412.1,375.9 412.6,377.6 413.1,378.9 413.6,379.5 414.1,379.2 414.6,378.3 415.1,377.2 415.6,376.4 416.1,376.0 416.6,375.8 417.1,375.7 417.6,375.7 418.1,375.6 418.6,375.7 419.1,375.9 419.6,376.4 420.1,377.0 420.6,377.5 421.1,378.0 421.6,378.3 422.1,378.7 422.6,378.9 423.1,378.7 423.6,377.9 424.1,376.9 424.6,376.3 425.1,376.3 425.6,377.1 426.1,378.4 426.6,379.7 427.1,380.2 427.6,379.8 428.1,379.0 428.6,377.9 429.1,376.8 429.6,375.9 430.1,375.5 430.6,375.5 431.1,375.7 431.6,375.6 432.1,374.7 432.6,373.0 433.1,370.9 433.6,369.3 434.1,368.5 434.6,368.6 435.1,369.2 435.6,369.8 436.1,370.2 436.6,370.3 437.1,370.1 437.6,369.8 438.1,369.5 438.6,369.3 439.1,369.3 439.6,369.6 440.1,370.1 440.6,370.5 441.1,370.7 441.6,370.8 442.1,370.8 442.6,370.7 443.1,370.6 443.6,370.5 444.1,370.5 444.6,370.6 445.1,370.7 445.6,371.1 446.1,371.7 446.6,372.6 447.1,373.4 447.6,373.7 448.1,373.2 448.6,372.4 449.1,371.9 449.6,372.1 450.1,373.3 450.6,375.0 451.1,376.6 451.6,377.6 452.1,377.7 452.6,377.4 453.1,376.7 453.6,376.0 454.1,375.4 454.6,374.7 455.1,374.0 455.6,373.5 456.1,373.2 456.6,373.3 457.1,373.7 457.6,374.3 458.1,375.3 458.6,376.4 459.1,377.2 459.6,377.4 460.1,377.3 460.6,377.0 461.1,376.7 461.6,376.1 462.1,375.1 462.6,373.8 463.1,372.8 463.6,372.3 464.1,372.4 464.6,373.1 465.1,374.0 465.6,374.9 466.1,375.8 466.6,376.7 467.1,377.4 467.6,378.1 468.1,378.5 468.6,378.4 469.1,377.7 469.6,376.2 470.1,374.4 470.6,372.7 471.1,371.7 471.6,371.8 472.1,372.5 472.6,373.1 473.1,373.4 473.6,373.5 474.1,373.8 474.6,374.3 475.1,375.2 475.6,376.1 476.1,377.1 476.6,377.7 477.1,377.5 477.6,376.6 478.1,375.5 478.6,374.6 479.1,374.2 479.6,374.4 480.1,375.0 480.6,375.8 481.1,376.5 481.6,377.1 482.1,377.4 482.6,377.2 483.1,376.6 483.6,375.8 484.1,374.9 484.6,374.0 485.1,373.3 485.6,372.6 486.1,371.9 486.6,371.3 487.1,371.3 487.6,372.0 488.1,372.9 488.6,373.6 489.1,373.8 489.6,373.5 490.1,373.0 490.6,372.2 491.1,371.6 491.6,371.3 492.1,371.4 492.6,371.9 493.1,372.3 493.6,372.4 494.1,372.3 494.6,372.2 495.1,372.2 495.6,372.4 496.1,372.8 496.6,373.2 497.1,373.6 497.6,373.8 498.1,373.7 498.6,373.4 499.1,373.3 499.6,373.4 500.1,373.8 500.6,374.1 501.1,374.3 501.6,374.4 502.1,374.2 502.6,373.5 503.1,372.3 503.6,370.8 504.1,369.5 504.6,368.8 505.1,369.1 505.6,370.0 506.1,371.1 506.6,372.1 507.1,372.8 507.6,373.2 508.1,373.5 508.6,373.8 509.1,373.9 509.6,373.8 510.1,373.9 510.6,374.2 511.1,375.0 511.6,375.9 512.1,376.9 512.6,377.5 513.1,377.6 513.6,377.2 514.1,377.0 514.6,377.3 515.1,378.4 515.6,380.0 516.1,381.4 516.6,382.3 517.1,382.7 517.6,383.0 518.1,383.4 518.6,383.9 519.1,384.1 519.6,384.1 520.1,383.8 520.6,383.6 521.1,383.7 521.6,383.8 522.1,383.7 522.6,383.4 523.1,383.0 523.6,382.4 524.1,381.8 524.6,381.1 525.1,380.5 525.6,380.1 526.1,379.9 526.6,380.4 527.1,381.2 527.6,382.0 528.1,382.5 528.6,382.4 529.1,382.0 529.6,381.9 530.1,382.2 530.6,382.3 531.1,382.3 531.6,382.0 532.1,381.6 532.6,381.1 533.1,380.4 533.6,379.6 534.1,378.7 534.6,377.9 535.1,377.3 535.6,376.7 536.1,376.1 536.6,375.4 537.1,374.8 537.6,374.3 538.1,374.0 538.6,373.6 539.1,372.7 539.6,371.7 540.1,370.3 540.6,368.9 541.1,367.5 541.6,366.6 542.1,365.9 542.6,365.4 543.1,364.7 543.6,363.7 544.1,362.5 544.6,361.4 545.1,361.3 545.6,361.8 546.1,362.3 546.6,362.7 547.1,363.1 547.6,363.8 548.1,364.7 548.6,365.6 549.1,366.3 549.6,366.5 550.1,366.2 550.6,366.0 551.1,366.0 551.6,366.2 552.1,366.4 552.6,366.4 553.1,366.3 553.6,366.1 554.1,366.4 554.6,367.1 555.1,368.0 555.6,369.0 556.1,369.8 556.6,370.5 557.1,371.2 557.6,372.0 558.1,372.6 558.6,373.3 559.1,374.1 559.6,374.8 560.1,375.3 560.6,375.6 561.1,375.9 561.6,376.2 562.1,376.6 562.6,376.9 563.1,377.0 563.6,376.9 564.1,376.9 564.6,376.9 565.1,376.9 565.6,376.9 566.1,376.9 566.6,376.9 567.1,376.8 567.6,376.4 568.1,375.7 568.6,374.9 569.1,374.4 569.6,374.0 570.1,373.7 570.6,373.2 571.1,372.5 571.6,371.6 572.1,370.6 572.6,369.6 573.1,368.6 573.6,367.7 574.1,366.7 574.6,365.8 575.1,365.1 575.6,364.8 576.1,364.6 576.6,364.1 577.1,363.3 577.6,362.2 578.1,361.2 578.6,360.6 579.1,360.3 579.6,360.1 580.1,359.6 580.6,358.8 581.1,357.5 581.6,356.1 582.1,355.4 582.6,356.1 583.1,357.4 583.6,359.2 584.1,361.3 584.6,363.6 585.1,365.8 585.6,367.8 586.1,369.6 586.6,371.2 587.1,372.6 587.6,373.8 588.1,374.9 588.6,376.3 589.1,377.8 589.6,379.2 590.1,380.4 590.6,381.5 591.1,382.7 591.6,383.9 592.1,385.0 592.6,385.8 593.1,386.1 593.6,385.5 594.1,384.8 594.6,384.4 595.1,384.4 595.6,384.7 596.1,385.2 596.6,386.2 597.1,386.9 597.6,387.5 598.1,388.0 598.6,388.6 599.1,389.4 599.6,390.6 600.1,391.9 600.6,393.1 601.1,393.9 601.6,394.0 602.1,393.1 602.6,392.2 603.1,391.3 603.6,390.5 604.1,389.8 604.6,389.3 605.1,389.0 605.6,388.4 606.1,387.6 606.6,387.1 607.1,386.9 607.6,387.2 608.1,387.6 608.6,387.8 609.1,387.8 609.6,387.5 610.1,387.3 610.6,387.0 611.1,386.5 611.6,385.8 612.1,385.1 612.6,384.4 613.1,383.6 613.6,382.6 614.1,381.2 614.6,379.8 615.1,378.5 615.6,377.3 616.1,376.3 616.6,375.5 617.1,374.6 617.6,373.8 618.1,372.7 618.6,371.4 619.1,369.9 619.6,368.2 620.1,366.6 620.6,365.1 621.1,363.9 621.6,363.0 622.1,362.6 622.6,362.5 623.1,362.7 623.6,362.9 624.1,363.3 624.6,363.3 625.1,362.7 625.6,361.8 626.1,361.3 626.6,361.3 627.1,362.1 627.6,363.2 628.1,364.4 628.6,365.8 629.1,367.0 629.6,367.8 630.1,367.8 630.6,367.4 631.1,366.8 631.6,366.6 632.1,367.0 632.6,367.8 633.1,368.8 633.6,369.8 634.1,370.4 634.6,370.3 635.1,369.6 635.6,368.5 636.1,367.4 636.6,366.4 637.1,365.8 637.6,365.2 638.1,364.8 638.6,364.6 639.1,364.5 639.6,364.7 640.1,365.0 640.6,365.3 641.1,365.6 641.6,366.0 642.1,366.6 642.6,367.4 643.1,368.2 643.6,369.1 644.1,369.7 644.6,370.0 645.1,370.0 645.6,370.2 646.1,370.7 646.6,371.6 647.1,372.7 647.6,374.1 648.1,376.2 648.6,378.6 649.1,381.3 649.6,383.9 650.1,386.4 650.6,388.3 651.1,388.5 651.6,388.2 652.1,387.7 652.6,387.3 653.1,387.1 653.6,387.0 654.1,386.8 654.6,386.2 655.1,385.4 655.6,384.6 656.1,383.8 656.6,383.1 657.1,382.5 657.6,381.9 658.1,381.5 658.6,381.3 659.1,381.2 659.6,381.1 660.1,381.0 660.6,380.8 661.1,380.4 661.6,380.0 662.1,378.7 662.6,377.4 663.1,376.1 663.6,375.1 664.1,374.5 664.6,374.2 665.1,374.0 665.6,373.9 666.1,373.8 666.6,374.0 667.1,374.7 667.6,375.6 668.1,376.8 668.6,377.9 669.1,378.8 669.6,379.1 670.1,379.0 670.6,379.0 671.1,379.3 671.6,379.8 672.1,380.5 672.6,381.1 673.1,381.5 673.6,381.6 674.1,381.3 674.6,380.6 675.1,379.6 675.6,378.6 676.1,377.9 676.6,377.3 677.1,376.7 677.6,376.2 678.1,375.8 678.6,375.8 679.1,376.0 679.6,375.9 680.1,375.2 680.6,373.6 681.1,371.6 681.6,369.5 682.1,368.0 682.6,367.2 683.1,366.8 683.6,366.5 684.1,366.0 684.6,365.6 685.1,365.5 685.6,365.9 686.1,366.4 686.6,366.5 687.1,366.2 687.6,365.5 688.1,365.0 688.6,364.6 689.1,364.3 689.6,364.1 690.1,364.0 690.6,364.3 691.1,365.3 691.6,366.6 692.1,368.0 692.6,369.2 693.1,370.0 693.6,370.6 694.1,371.1 694.6,371.6 695.1,372.3 695.6,373.0 696.1,373.8 696.6,374.3 697.1,374.6 697.6,374.9 698.1,375.4 698.6,376.2 699.1,376.9 699.6,377.3 700.1,377.5 700.6,377.7 701.1,378.0 701.6,378.5 702.1,379.0 702.6,379.5 703.1,380.0 703.6,380.3 704.1,380.2 704.6,380.3 705.1,380.9 705.6,381.9 706.1,383.1 706.6,384.3 707.1,385.4 707.6,386.4 708.1,387.2 708.6,387.6 709.1,387.8 709.6,387.7 710.1,387.6 710.6,387.5 711.1,387.5 711.6,387.7 712.1,387.9 712.6,388.4 713.1,389.0 713.6,389.6 714.1,390.2 714.6,390.5 715.1,390.5 715.6,390.3 716.1,390.3 716.6,390.8 717.1,391.8 717.6,392.7 718.1,393.3 718.6,393.5 719.1,393.3 719.6,392.7 720.1,392.4 720.6,392.7 721.1,393.6 721.6,394.8 722.1,395.8 722.6,396.7 723.1,397.4 723.6,398.0 724.1,398.5 724.6,398.9 725.1,399.5 725.6,400.3 726.1,401.3 726.6,402.2 727.1,402.9 727.6,403.0 728.1,402.3 728.6,401.2 729.1,399.8 729.6,398.1 730.1,396.2 730.6,394.2 731.1,391.9 731.6,389.6 732.1,387.8 732.6,386.6 733.1,386.8 733.6,387.4 734.1,388.1 734.6,388.8 735.1,389.2 735.6,389.4 736.1,389.7 736.6,390.3 737.1,391.2 737.6,391.9 738.1,392.2 738.6,392.1 739.1,392.4 739.6,393.1 740.1,394.0 740.6,394.7 741.1,395.1 741.6,395.5 742.1,395.9 742.6,396.1 743.1,395.9 743.6,395.3 744.1,394.8 744.6,394.6 745.1,394.6 745.6,394.8" stroke="#bcbd22"/><path d="M96.6,365.7 97.1,365.4 97.6,365.0 98.1,364.5 98.6,364.3 99.1,364.8 99.6,365.7 100.1,366.7 100.6,367.5 101.1,368.1 101.6,368.4 102.1,368.6 102.6,368.9 103.1,369.3 103.6,369.9 104.1,370.4 104.6,370.8 105.1,371.1 105.6,371.4 106.1,371.7 106.6,371.9 107.1,372.0 107.6,372.0 108.1,372.2 108.6,372.6 109.1,373.4 109.6,374.5 110.1,375.6 110.6,376.7 111.1,377.8 111.6,379.0 112.1,380.4 112.6,382.1 113.1,383.6 113.6,384.7 114.1,385.4 114.6,385.7 115.1,385.7 115.6,384.6 116.1,383.3 116.6,382.0 117.1,380.5 117.6,378.9 118.1,377.4 118.6,376.0 119.1,374.7 119.6,373.6 120.1,372.6 120.6,371.9 121.1,371.2 121.6,370.7 122.1,370.2 122.6,369.6 123.1,368.8 123.6,368.1 124.1,367.4 124.6,366.9 125.1,366.5 125.6,366.1 126.1,365.4 126.6,364.6 127.1,363.9 127.6,363.5 128.1,363.3 128.6,363.4 129.1,363.5 129.6,363.6 130.1,363.9 130.6,364.2 131.1,364.3 131.6,364.0 132.1,363.9 132.6,364.3 133.1,365.7 133.6,367.2 134.1,368.5 134.6,369.5 135.1,370.4 135.6,371.2 136.1,372.1 136.6,373.0 137.1,373.8 137.6,374.7 138.1,375.5 138.6,376.2 139.1,376.7 139.6,376.9 140.1,377.0 140.6,376.7 141.1,376.0 141.6,374.9 142.1,374.0 142.6,373.4 143.1,373.2 143.6,373.5 144.1,374.2 144.6,375.0 145.1,376.2 145.6,377.5 146.1,378.8 146.6,379.8 147.1,380.5 147.6,381.0 148.1,381.4 148.6,381.0 149.1,380.5 149.6,379.8 150.1,378.8 150.6,377.8 151.1,376.8 151.6,375.8 152.1,374.9 152.6,373.8 153.1,372.5 153.6,371.1 154.1,369.5 154.6,368.2 155.1,367.1 155.6,366.1 156.1,364.9 156.6,363.5 157.1,361.7 157.6,359.9 158.1,358.7 158.6,358.4 159.1,360.1 159.6,363.3 160.1,366.4 160.6,369.3 161.1,371.4 161.6,372.8 162.1,373.5 162.6,373.8 163.1,373.8 163.6,373.7 164.1,373.7 164.6,373.7 165.1,373.4 165.6,372.5 166.1,371.0 166.6,369.2 167.1,367.5 167.6,366.4 168.1,366.3 168.6,366.6 169.1,367.3 169.6,368.3 170.1,369.4 170.6,370.3 171.1,370.9 171.6,371.5 172.1,372.1 172.6,372.6 173.1,373.1 173.6,373.4 174.1,373.7 174.6,373.9 175.1,374.0 175.6,373.8 176.1,372.9 176.6,371.7 177.1,370.5 177.6,369.8 178.1,370.0 178.6,371.0 179.1,372.4 179.6,373.8 180.1,374.9 180.6,376.5 181.1,378.7 181.6,380.9 182.1,383.0 182.6,384.9 183.1,386.7 183.6,388.4 184.1,389.9 184.6,389.1 185.1,387.5 185.6,385.5 186.1,383.4 186.6,381.1 187.1,378.9 187.6,376.8 188.1,374.9 188.6,373.1 189.1,371.4 189.6,369.5 190.1,367.6 190.6,365.7 191.1,363.8 191.6,361.8 192.1,360.0 192.6,358.3 193.1,357.0 193.6,355.8 194.1,355.2 194.6,357.3 195.1,360.0 195.6,363.3 196.1,366.9 196.6,370.4 197.1,373.0 197.6,375.0 198.1,376.3 198.6,376.5 199.1,375.8 199.6,374.4 200.1,373.5 200.6,372.9 201.1,372.6 201.6,372.4 202.1,372.3 202.6,372.3 203.1,372.6 203.6,372.9 204.1,373.6 204.6,374.3 205.1,375.0 205.6,375.5 206.1,375.7 206.6,375.5 207.1,374.9 207.6,374.2 208.1,373.6 208.6,372.8 209.1,371.8 209.6,370.7 210.1,369.7 210.6,369.1 211.1,368.9 211.6,368.9 212.1,369.1 212.6,369.3 213.1,369.9 213.6,370.6 214.1,371.1 214.6,371.3 215.1,371.2 215.6,370.9 216.1,370.8 216.6,371.0 217.1,371.7 217.6,372.7 218.1,374.0 218.6,375.4 219.1,376.9 219.6,378.0 220.1,378.7 220.6,379.0 221.1,379.2 221.6,379.4 222.1,379.6 222.6,379.9 223.1,380.3 223.6,380.8 224.1,381.5 224.6,382.5 225.1,382.2 225.6,381.0 226.1,379.3 226.6,377.3 227.1,375.1 227.6,373.1 228.1,371.4 228.6,369.7 229.1,368.0 229.6,366.5 230.1,365.3 230.6,364.6 231.1,364.3 231.6,364.5 232.1,365.9 232.6,367.2 233.1,368.3 233.6,369.6 234.1,370.8 234.6,371.8 235.1,372.7 235.6,373.9 236.1,375.1 236.6,375.9 237.1,375.8 237.6,374.9 238.1,373.4 238.6,372.3 239.1,371.8 239.6,371.8 240.1,372.0 240.6,372.1 241.1,372.2 241.6,372.5 242.1,373.0 242.6,373.8 243.1,374.8 243.6,375.6 244.1,375.9 244.6,375.6 245.1,375.0 245.6,374.3 246.1,373.8 246.6,373.5 247.1,373.1 247.6,372.2 248.1,370.9 248.6,369.3 249.1,368.3 249.6,367.8 250.1,367.8 250.6,368.1 251.1,368.3 251.6,368.4 252.1,368.5 252.6,369.1 253.1,370.2 253.6,371.6 254.1,373.5 254.6,375.5 255.1,377.6 255.6,379.9 256.1,382.4 256.6,384.8 257.1,387.4 257.6,389.9 258.1,392.2 258.6,394.0 259.1,392.7 259.6,389.8 260.1,386.2 260.6,382.7 261.1,379.7 261.6,377.2 262.1,375.1 262.6,373.4 263.1,372.7 263.6,371.9 264.1,370.9 264.6,369.7 265.1,368.3 265.6,366.6 266.1,365.0 266.6,363.9 267.1,363.2 267.6,362.7 268.1,362.2 268.6,361.6 269.1,360.8 269.6,360.0 270.1,359.3 270.6,358.6 271.1,358.2 271.6,358.9 272.1,360.0 272.6,361.2 273.1,362.7 273.6,364.6 274.1,366.7 274.6,368.3 275.1,369.3 275.6,370.0 276.1,370.8 276.6,371.9 277.1,373.0 277.6,374.0 278.1,374.8 278.6,375.6 279.1,376.3 279.6,377.0 280.1,377.8 280.6,378.8 281.1,380.2 281.6,381.8 282.1,383.5 282.6,385.1 283.1,386.5 283.6,387.7 284.1,388.9 284.6,390.4 285.1,391.9 285.6,393.1 286.1,393.2 286.6,392.9 287.1,392.5 287.6,392.1 288.1,391.5 288.6,390.8 289.1,390.1 289.6,389.7 290.1,389.8 290.6,390.3 291.1,390.8 291.6,390.9 292.1,390.4 292.6,389.4 293.1,388.4 293.6,387.3 294.1,386.3 294.6,385.5 295.1,385.0 295.6,384.8 296.1,384.8 296.6,385.0 297.1,385.3 297.6,385.6 298.1,385.7 298.6,386.1 299.1,386.6 299.6,387.3 300.1,388.3 300.6,389.6 301.1,390.8 301.6,391.7 302.1,392.4 302.6,392.9 303.1,393.3 303.6,393.8 304.1,393.6 304.6,393.1 305.1,392.2 305.6,390.5 306.1,388.3 306.6,385.9 307.1,383.8 307.6,381.9 308.1,380.2 308.6,378.5 309.1,376.8 309.6,375.1 310.1,373.5 310.6,372.1 311.1,370.9 311.6,370.0 312.1,369.4 312.6,369.2 313.1,369.6 313.6,370.6 314.1,372.1 314.6,373.8 315.1,375.6 315.6,377.3 316.1,378.6 316.6,379.7 317.1,380.5 317.6,381.2 318.1,381.6 318.6,382.0 319.1,382.5 319.6,382.9 320.1,383.3 320.6,383.8 321.1,384.5 321.6,385.5 322.1,386.3 322.6,386.5 323.1,385.5 323.6,383.9 324.1,382.3 324.6,380.6 325.1,379.0 325.6,377.5 326.1,376.2 326.6,375.0 327.1,374.0 327.6,373.2 328.1,372.6 328.6,371.9 329.1,371.0 329.6,370.1 330.1,369.1 330.6,368.2 331.1,367.7 331.6,367.5 332.1,367.6 332.6,368.0 333.1,368.5 333.6,369.0 334.1,369.4 334.6,369.5 335.1,369.3 335.6,369.2 336.1,369.2 336.6,369.3 337.1,369.3 337.6,369.2 338.1,369.1 338.6,369.1 339.1,369.2 339.6,369.4 340.1,369.7 340.6,369.9 341.1,369.9 341.6,369.1 342.1,367.9 342.6,366.5 343.1,365.1 343.6,363.8 344.1,362.8 344.6,362.0 345.1,361.4 345.6,361.0 346.1,360.6 346.6,360.4 347.1,360.1 347.6,360.1 348.1,360.2 348.6,360.8 349.1,361.3 349.6,361.3 350.1,360.9 350.6,359.9 351.1,358.9 351.6,358.6 352.1,358.9 352.6,359.6 353.1,360.3 353.6,360.4 354.1,360.1 354.6,359.2 355.1,358.0 355.6,357.3 356.1,357.4 356.6,358.3 357.1,359.0 357.6,358.7 358.1,357.4 358.6,355.8 359.1,354.4 359.6,353.4 360.1,352.9 360.6,353.1 361.1,354.0 361.6,355.5 362.1,356.7 362.6,357.4 363.1,357.4 363.6,356.9 364.1,356.1 364.6,354.9 365.1,353.1 365.6,350.7 366.1,348.5 366.6,346.7 367.1,345.7 367.6,345.4 368.1,345.5 368.6,345.6 369.1,345.8 369.6,346.0 370.1,345.9 370.6,345.3 371.1,344.2 371.6,343.1 372.1,342.5 372.6,342.5 373.1,342.9 373.6,343.5 374.1,343.6 374.6,343.0 375.1,341.6 375.6,339.7 376.1,338.0 376.6,337.1 377.1,337.7 377.6,338.5 378.1,339.0 378.6,338.8 379.1,338.4 379.6,338.2 380.1,338.7 380.6,339.5 381.1,340.5 381.6,341.7 382.1,343.1 382.6,345.0 383.1,347.5 383.6,350.3 384.1,352.8 384.6,354.2 385.1,354.4 385.6,354.0 386.1,353.7 386.6,353.8 387.1,354.2 387.6,354.7 388.1,355.3 388.6,356.1 389.1,356.9 389.6,357.7 390.1,358.8 390.6,360.2 391.1,361.6 391.6,363.1 392.1,364.5 392.6,365.7 393.1,366.3 393.6,366.3 394.1,365.9 394.6,365.4 395.1,364.9 395.6,364.4 396.1,364.0 396.6,364.2 397.1,365.2 397.6,366.7 398.1,367.8 398.6,367.7 399.1,366.5 399.6,365.1 400.1,364.1 400.6,363.6 401.1,363.6 401.6,363.5 402.1,363.2 402.6,362.9 403.1,362.9 403.6,363.6 404.1,365.0 404.6,366.5 405.1,367.6 405.6,368.2 406.1,368.1 406.6,367.4 407.1,366.0 407.6,364.1 408.1,362.1 408.6,360.3 409.1,359.3 409.6,359.0 410.1,359.3 410.6,360.0 411.1,361.0 411.6,362.2 412.1,363.7 412.6,365.0 413.1,365.9 413.6,366.1 414.1,365.5 414.6,364.5 415.1,363.7 415.6,363.2 416.1,363.1 416.6,363.4 417.1,363.9 417.6,364.5 418.1,364.9 418.6,364.9 419.1,364.5 419.6,363.9 420.1,363.5 420.6,363.3 421.1,363.5 421.6,364.2 422.1,365.1 422.6,365.8 423.1,366.0 423.6,365.6 424.1,365.1 424.6,364.8 425.1,365.2 425.6,366.1 426.1,367.9 426.6,369.8 427.1,370.8 427.6,370.9 428.1,370.5 428.6,369.9 429.1,369.3 429.6,368.8 430.1,368.4 430.6,368.1 431.1,367.8 431.6,367.5 432.1,366.7 432.6,365.1 433.1,363.3 433.6,361.8 434.1,361.1 434.6,361.4 435.1,362.2 435.6,362.8 436.1,363.2 436.6,363.2 437.1,363.0 437.6,362.8 438.1,362.6 438.6,362.4 439.1,362.3 439.6,362.3 440.1,362.5 440.6,362.9 441.1,363.3 441.6,363.6 442.1,363.5 442.6,363.2 443.1,362.9 443.6,362.7 444.1,362.5 444.6,362.4 445.1,362.4 445.6,362.5 446.1,362.8 446.6,363.4 447.1,364.1 447.6,364.5 448.1,364.4 448.6,364.0 449.1,363.9 449.6,364.4 450.1,365.7 450.6,367.5 451.1,369.1 451.6,370.2 452.1,370.7 452.6,370.7 453.1,370.2 453.6,369.4 454.1,368.4 454.6,367.4 455.1,366.6 455.6,366.1 456.1,366.0 456.6,366.2 457.1,366.6 457.6,367.2 458.1,368.0 458.6,368.9 459.1,369.4 459.6,369.5 460.1,369.2 460.6,368.9 461.1,368.6 461.6,368.2 462.1,367.5 462.6,366.5 463.1,365.5 463.6,364.9 464.1,364.8 464.6,365.1 465.1,365.7 465.6,366.6 466.1,367.7 466.6,369.0 467.1,370.2 467.6,371.2 468.1,371.6 468.6,371.3 469.1,370.3 469.6,368.7 470.1,366.8 470.6,365.2 471.1,364.4 471.6,364.7 472.1,365.5 472.6,366.3 473.1,366.5 473.6,366.4 474.1,366.4 474.6,366.6 475.1,367.3 475.6,368.1 476.1,368.5 476.6,368.4 477.1,367.7 477.6,366.6 478.1,365.3 478.6,364.2 479.1,363.5 479.6,363.3 480.1,363.9 480.6,364.8 481.1,365.8 481.6,366.4 482.1,366.8 482.6,366.6 483.1,365.9 483.6,365.0 484.1,364.0 484.6,363.1 485.1,362.6 485.6,362.3 486.1,362.1 486.6,362.1 487.1,362.4 487.6,363.0 488.1,363.7 488.6,364.1 489.1,364.1 489.6,364.0 490.1,364.4 490.6,365.1 491.1,365.9 491.6,366.6 492.1,367.1 492.6,367.6 493.1,368.0 493.6,368.0 494.1,367.9 494.6,367.9 495.1,368.1 495.6,368.6 496.1,369.1 496.6,369.6 497.1,369.8 497.6,369.7 498.1,369.3 498.6,368.9 499.1,368.8 499.6,369.3 500.1,369.9 500.6,370.3 501.1,370.5 501.6,370.4 502.1,370.1 502.6,369.3 503.1,368.1 503.6,366.6 504.1,365.3 504.6,364.4 505.1,364.4 505.6,365.1 506.1,366.2 506.6,367.6 507.1,368.9 507.6,369.8 508.1,370.5 508.6,371.1 509.1,371.4 509.6,371.6 510.1,371.6 510.6,371.7 511.1,372.3 511.6,373.2 512.1,374.3 512.6,375.1 513.1,375.4 513.6,375.3 514.1,375.0 514.6,375.1 515.1,375.9 515.6,377.1 516.1,378.1 516.6,378.6 517.1,378.7 517.6,378.6 518.1,378.8 518.6,379.4 519.1,379.9 519.6,380.2 520.1,380.1 520.6,380.1 521.1,380.2 521.6,380.4 522.1,380.6 522.6,380.8 523.1,381.0 523.6,381.1 524.1,381.0 524.6,380.6 525.1,380.0 525.6,379.4 526.1,379.2 526.6,379.4 527.1,379.9 527.6,380.4 528.1,380.4 528.6,380.1 529.1,379.6 529.6,379.6 530.1,380.0 530.6,380.5 531.1,380.8 531.6,380.9 532.1,380.8 532.6,380.5 533.1,380.0 533.6,379.3 534.1,378.5 534.6,377.8 535.1,377.2 535.6,376.6 536.1,376.1 536.6,375.5 537.1,375.1 537.6,374.8 538.1,374.5 538.6,374.0 539.1,373.1 539.6,372.0 540.1,370.7 540.6,369.4 541.1,368.2 541.6,367.5 542.1,367.2 542.6,367.0 543.1,366.6 543.6,366.0 544.1,365.4 544.6,364.7 545.1,364.8 545.6,365.1 546.1,365.2 546.6,365.1 547.1,365.1 547.6,365.4 548.1,365.9 548.6,366.5 549.1,366.8 549.6,366.7 550.1,366.1 550.6,365.6 551.1,365.4 551.6,365.7 552.1,366.2 552.6,366.7 553.1,367.0 553.6,367.0 554.1,367.1 554.6,367.7 555.1,368.4 555.6,369.3 556.1,370.1 556.6,371.0 557.1,372.1 557.6,373.3 558.1,374.0 558.6,374.6 559.1,375.1 559.6,375.4 560.1,375.8 560.6,376.0 561.1,376.2 561.6,376.4 562.1,376.6 562.6,376.8 563.1,377.0 563.6,377.2 564.1,377.4 564.6,377.5 565.1,377.4 565.6,377.1 566.1,376.9 566.6,376.7 567.1,376.4 567.6,376.1 568.1,375.7 568.6,375.3 569.1,374.9 569.6,374.5 570.1,374.1 570.6,373.5 571.1,372.9 571.6,372.1 572.1,371.4 572.6,370.7 573.1,369.9 573.6,368.9 574.1,367.7 574.6,366.3 575.1,364.9 575.6,363.9 576.1,363.4 576.6,363.1 577.1,362.7 577.6,362.2 578.1,361.7 578.6,361.3 579.1,361.2 579.6,361.2 580.1,360.9 580.6,360.1 581.1,358.8 581.6,357.3 582.1,356.3 582.6,356.6 583.1,357.6 583.6,359.4 584.1,361.7 584.6,364.3 585.1,366.8 585.6,368.9 586.1,370.5 586.6,371.8 587.1,372.9 587.6,373.9 588.1,375.0 588.6,376.3 589.1,377.6 589.6,378.7 590.1,379.6 590.6,380.6 591.1,381.9 591.6,383.5 592.1,385.1 592.6,386.3 593.1,386.6 593.6,385.9 594.1,385.2 594.6,385.0 595.1,385.1 595.6,385.4 596.1,385.8 596.6,386.7 597.1,387.4 597.6,388.1 598.1,388.6 598.6,389.2 599.1,389.8 599.6,390.7 600.1,391.9 600.6,393.0 601.1,393.6 601.6,393.8 602.1,393.0 602.6,392.3 603.1,391.5 603.6,390.5 604.1,389.3 604.6,388.2 605.1,387.3 605.6,386.6 606.1,385.8 606.6,385.4 607.1,385.4 607.6,385.6 608.1,385.8 608.6,385.7 609.1,385.4 609.6,385.1 610.1,384.8 610.6,384.7 611.1,384.5 611.6,384.1 612.1,383.6 612.6,383.3 613.1,382.8 613.6,382.0 614.1,381.0 614.6,379.9 615.1,378.6 615.6,377.4 616.1,376.2 616.6,375.1 617.1,374.0 617.6,372.8 618.1,371.4 618.6,370.0 619.1,368.7 619.6,367.4 620.1,366.0 620.6,364.5 621.1,363.1 621.6,362.1 622.1,361.5 622.6,361.2 623.1,361.1 623.6,361.0 624.1,361.0 624.6,360.8 625.1,360.1 625.6,359.3 626.1,358.8 626.6,358.8 627.1,359.3 627.6,360.1 628.1,360.9 628.6,362.0 629.1,363.3 629.6,364.4 630.1,364.9 630.6,364.9 631.1,364.8 631.6,364.9 632.1,365.2 632.6,365.8 633.1,366.4 633.6,367.1 634.1,367.4 634.6,367.2 635.1,366.5 635.6,365.3 636.1,364.0 636.6,362.9 637.1,362.0 637.6,361.3 638.1,360.9 638.6,361.0 639.1,361.4 639.6,362.1 640.1,362.7 640.6,363.2 641.1,363.5 641.6,364.0 642.1,364.8 642.6,365.9 643.1,367.0 643.6,368.0 644.1,368.7 644.6,369.2 645.1,369.4 645.6,369.7 646.1,370.3 646.6,371.2 647.1,372.4 647.6,374.0 648.1,376.4 648.6,378.9 649.1,381.4 649.6,383.8 650.1,386.1 650.6,388.0 651.1,388.3 651.6,388.3 652.1,388.1 652.6,388.1 653.1,388.2 653.6,388.3 654.1,388.0 654.6,387.3 655.1,386.2 655.6,385.0 656.1,383.9 656.6,383.0 657.1,382.3 657.6,381.6 658.1,381.1 658.6,380.7 659.1,380.7 659.6,380.8 660.1,381.2 660.6,381.5 661.1,381.8 661.6,381.7 662.1,380.8 662.6,379.5 663.1,378.3 663.6,377.1 664.1,376.1 664.6,375.1 665.1,374.0 665.6,372.8 666.1,371.7 666.6,371.0 667.1,371.0 667.6,371.7 668.1,372.8 668.6,374.0 669.1,374.9 669.6,375.1 670.1,374.7 670.6,374.4 671.1,374.4 671.6,374.9 672.1,375.7 672.6,376.4 673.1,376.9 673.6,376.9 674.1,376.6 674.6,375.9 675.1,375.1 675.6,374.2 676.1,373.4 676.6,372.9 677.1,372.5 677.6,372.3 678.1,372.4 678.6,372.8 679.1,373.2 679.6,373.2 680.1,372.2 680.6,370.5 681.1,368.2 681.6,366.0 682.1,364.4 682.6,363.6 683.1,363.1 683.6,362.7 684.1,361.9 684.6,360.9 685.1,360.2 685.6,360.0 686.1,360.4 686.6,360.8 687.1,361.0 687.6,360.7 688.1,360.3 688.6,359.9 689.1,359.7 689.6,359.4 690.1,359.3 690.6,359.3 691.1,359.7 691.6,360.5 692.1,361.6 692.6,362.6 693.1,363.6 693.6,364.4 694.1,365.1 694.6,365.7 695.1,366.2 695.6,366.9 696.1,367.6 696.6,368.2 697.1,368.6 697.6,368.9 698.1,369.4 698.6,370.1 699.1,370.9 699.6,371.9 700.1,372.9 700.6,373.9 701.1,374.5 701.6,374.9 702.1,375.1 702.6,375.5 703.1,375.9 703.6,376.3 704.1,376.4 704.6,376.4 705.1,376.7 705.6,377.3 706.1,378.0 706.6,378.7 707.1,379.4 707.6,380.0 708.1,380.5 708.6,380.9 709.1,381.0 709.6,381.1 710.1,381.0 710.6,380.7 711.1,380.5 711.6,380.4 712.1,380.5 712.6,380.9 713.1,381.4 713.6,382.0 714.1,382.5 714.6,382.8 715.1,382.9 715.6,382.8 716.1,382.9 716.6,383.6 717.1,384.7 717.6,385.7 718.1,386.4 718.6,386.6 719.1,386.4 719.6,386.1 720.1,386.0 720.6,386.6 721.1,387.7 721.6,389.1 722.1,390.3 722.6,391.3 723.1,392.4 723.6,393.5 724.1,394.5 724.6,395.4 725.1,396.3 725.6,397.2 726.1,398.3 726.6,399.5 727.1,400.7 727.6,401.6 728.1,401.8 728.6,401.5 729.1,400.6 729.6,399.2 730.1,397.3 730.6,395.2 731.1,392.9 731.6,390.7 732.1,389.0 732.6,388.2 733.1,389.0 733.6,390.1 734.1,391.3 734.6,392.4 735.1,393.1 735.6,393.6 736.1,394.0 736.6,394.6 737.1,395.5 737.6,396.3 738.1,396.6 738.6,396.3 739.1,396.4 739.6,397.0 740.1,397.7 740.6,398.2 741.1,398.4 741.6,398.6 742.1,398.9 742.6,399.1 743.1,399.1 743.6,398.6 744.1,397.9 744.6,397.2 745.1,396.9 745.6,396.7" stroke="#1f77b4"/><path d="M96.6,365.8 97.1,365.0 97.6,364.3 98.1,363.6 98.6,363.5 99.1,364.1 99.6,365.3 100.1,366.6 100.6,367.7 101.1,368.6 101.6,369.1 102.1,369.3 102.6,369.5 103.1,369.7 103.6,370.1 104.1,370.6 104.6,370.9 105.1,371.2 105.6,371.6 106.1,372.0 106.6,372.4 107.1,372.7 107.6,372.7 108.1,372.6 108.6,372.8 109.1,373.5 109.6,374.7 110.1,376.2 110.6,377.6 111.1,378.8 111.6,379.8 112.1,380.9 112.6,381.9 113.1,382.9 113.6,383.8 114.1,384.4 114.6,384.8 115.1,384.7 115.6,383.4 116.1,381.9 116.6,380.3 117.1,378.9 117.6,377.7 118.1,376.7 118.6,375.7 119.1,374.6 119.6,373.5 120.1,372.6 120.6,371.9 121.1,371.4 121.6,371.0 122.1,370.7 122.6,370.4 123.1,370.0 123.6,369.5 124.1,369.1 124.6,368.7 125.1,368.3 125.6,368.0 126.1,367.4 126.6,366.8 127.1,366.2 127.6,366.0 128.1,365.9 128.6,366.1 129.1,366.1 129.6,366.3 130.1,366.6 130.6,366.8 131.1,366.6 131.6,366.2 132.1,366.0 132.6,366.2 133.1,367.5 133.6,369.0 134.1,370.4 134.6,371.4 135.1,372.1 135.6,372.7 136.1,373.0 136.6,373.3 137.1,373.6 137.6,373.9 138.1,374.1 138.6,374.1 139.1,373.8 139.6,373.5 140.1,373.1 140.6,372.5 141.1,371.8 141.6,371.2 142.1,371.1 142.6,371.3 143.1,371.9 143.6,372.8 144.1,373.7 144.6,374.6 145.1,375.8 145.6,377.3 146.1,378.8 146.6,380.1 147.1,381.0 147.6,381.6 148.1,381.9 148.6,381.2 149.1,380.6 149.6,379.9 150.1,379.1 150.6,378.0 151.1,376.9 151.6,375.6 152.1,374.3 152.6,372.9 153.1,371.6 153.6,370.2 154.1,368.7 154.6,367.2 155.1,365.7 155.6,364.2 156.1,362.6 156.6,360.8 157.1,359.0 157.6,357.2 158.1,355.9 158.6,355.4 159.1,356.8 159.6,359.7 160.1,362.8 160.6,365.9 161.1,368.6 161.6,370.7 162.1,372.2 162.6,373.2 163.1,374.1 163.6,374.8 164.1,375.6 164.6,376.3 165.1,376.8 165.6,376.6 166.1,375.7 166.6,374.3 167.1,372.9 167.6,371.8 168.1,371.2 168.6,371.0 169.1,371.4 169.6,372.1 170.1,372.8 170.6,373.2 171.1,373.3 171.6,373.2 172.1,373.1 172.6,373.0 173.1,372.8 173.6,372.5 174.1,372.1 174.6,371.6 175.1,371.1 175.6,370.2 176.1,368.8 176.6,367.5 177.1,366.7 177.6,366.5 178.1,367.2 178.6,368.7 179.1,370.6 179.6,372.7 180.1,374.7 180.6,376.9 181.1,379.5 181.6,381.9 182.1,384.0 182.6,385.9 183.1,387.7 183.6,389.3 184.1,390.6 184.6,389.6 185.1,387.7 185.6,385.4 186.1,383.0 186.6,380.5 187.1,378.3 187.6,376.3 188.1,374.6 188.6,372.9 189.1,371.3 189.6,369.8 190.1,368.3 190.6,366.7 191.1,365.0 191.6,363.1 192.1,361.1 192.6,359.2 193.1,357.5 193.6,356.0 194.1,355.5 194.6,357.7 195.1,360.5 195.6,363.9 196.1,367.5 196.6,371.0 197.1,374.0 197.6,376.7 198.1,378.8 198.6,379.9 199.1,379.7 199.6,378.1 200.1,376.7 200.6,375.6 201.1,374.7 201.6,373.9 202.1,373.2 202.6,372.6 203.1,372.2 203.6,371.8 204.1,371.5 204.6,371.4 205.1,371.4 205.6,371.8 206.1,372.3 206.6,372.7 207.1,372.9 207.6,372.8 208.1,372.6 208.6,372.4 209.1,372.1 209.6,372.1 210.1,372.4 210.6,373.1 211.1,374.0 211.6,374.7 212.1,375.1 212.6,375.3 213.1,375.3 213.6,375.2 214.1,375.1 214.6,374.8 215.1,374.3 215.6,373.7 216.1,373.3 216.6,373.3 217.1,373.4 217.6,373.8 218.1,374.2 218.6,374.6 219.1,375.1 219.6,375.6 220.1,375.9 220.6,376.2 221.1,376.3 221.6,376.3 222.1,376.3 222.6,376.4 223.1,376.9 223.6,377.9 224.1,379.2 224.6,380.5 225.1,380.5 225.6,379.6 226.1,378.1 226.6,376.1 227.1,374.1 227.6,372.3 228.1,371.0 228.6,369.6 229.1,368.2 229.6,367.0 230.1,366.0 230.6,365.4 231.1,365.4 231.6,366.0 232.1,367.5 232.6,368.7 233.1,369.7 233.6,370.6 234.1,371.5 234.6,372.2 235.1,372.7 235.6,373.3 236.1,373.6 236.6,373.4 237.1,372.5 237.6,371.0 238.1,369.6 238.6,368.9 239.1,369.2 239.6,370.0 240.1,371.2 240.6,372.2 241.1,373.0 241.6,373.7 242.1,374.3 242.6,375.1 243.1,376.1 243.6,377.0 244.1,377.6 244.6,377.6 245.1,377.0 245.6,376.3 246.1,375.9 246.6,375.7 247.1,375.6 247.6,375.1 248.1,374.2 248.6,372.9 249.1,371.6 249.6,370.7 250.1,369.9 250.6,369.5 251.1,369.1 251.6,369.0 252.1,369.1 252.6,369.6 253.1,370.5 253.6,371.7 254.1,373.2 254.6,374.9 255.1,376.7 255.6,378.6 256.1,380.5 256.6,382.5 257.1,384.5 257.6,386.5 258.1,388.1 258.6,389.1 259.1,387.5 259.6,384.8 260.1,382.1 260.6,379.6 261.1,377.5 261.6,375.7 262.1,374.1 262.6,372.7 263.1,372.1 263.6,371.3 264.1,370.5 264.6,369.7 265.1,368.9 265.6,367.9 266.1,366.7 266.6,365.6 267.1,364.6 267.6,363.5 268.1,362.3 268.6,360.9 269.1,359.6 269.6,358.5 270.1,357.7 270.6,357.1 271.1,356.8 271.6,357.8 272.1,358.9 272.6,360.1 273.1,361.4 273.6,363.1 274.1,365.0 274.6,366.7 275.1,367.9 275.6,368.9 276.1,370.0 276.6,371.2 277.1,372.4 277.6,373.5 278.1,374.7 278.6,376.0 279.1,377.4 279.6,378.6 280.1,379.8 280.6,381.1 281.1,382.5 281.6,384.1 282.1,385.8 282.6,387.5 283.1,389.0 283.6,390.2 284.1,391.4 284.6,392.6 285.1,393.8 285.6,394.4 286.1,393.9 286.6,393.0 287.1,392.2 287.6,391.3 288.1,390.4 288.6,389.4 289.1,388.4 289.6,387.8 290.1,388.0 290.6,388.5 291.1,388.9 291.6,388.8 292.1,388.3 292.6,387.5 293.1,386.6 293.6,385.9 294.1,385.5 294.6,385.4 295.1,385.4 295.6,385.6 296.1,385.7 296.6,385.7 297.1,385.5 297.6,385.3 298.1,385.0 298.6,385.4 299.1,385.9 299.6,386.6 300.1,387.5 300.6,388.6 301.1,389.7 301.6,390.5 302.1,391.2 302.6,391.9 303.1,392.7 303.6,393.6 304.1,393.5 304.6,392.9 305.1,391.7 305.6,389.6 306.1,386.9 306.6,384.3 307.1,382.1 307.6,380.2 308.1,378.5 308.6,377.1 309.1,375.7 309.6,374.6 310.1,373.5 310.6,372.4 311.1,371.5 311.6,370.8 312.1,370.5 312.6,370.8 313.1,371.8 313.6,373.3 314.1,375.1 314.6,377.1 315.1,379.0 315.6,380.7 316.1,382.2 316.6,383.5 317.1,384.8 317.6,385.8 318.1,386.5 318.6,387.2 319.1,387.8 319.6,388.3 320.1,388.7 320.6,389.1 321.1,389.6 321.6,390.0 322.1,390.1 322.6,389.7 323.1,388.2 323.6,386.4 324.1,384.7 324.6,383.1 325.1,381.4 325.6,379.7 326.1,377.8 326.6,375.9 327.1,374.2 327.6,373.1 328.1,372.4 328.6,371.8 329.1,371.1 329.6,370.2 330.1,369.1 330.6,368.2 331.1,367.5 331.6,367.0 332.1,366.8 332.6,366.6 333.1,366.5 333.6,366.7 334.1,366.9 334.6,366.9 335.1,366.7 335.6,366.6 336.1,366.5 336.6,366.6 337.1,366.8 337.6,367.1 338.1,367.6 338.6,368.0 339.1,368.3 339.6,368.5 340.1,368.8 340.6,368.9 341.1,368.8 341.6,367.6 342.1,366.0 342.6,364.2 343.1,362.2 343.6,360.2 344.1,358.4 344.6,356.9 345.1,355.9 345.6,354.9 346.1,354.0 346.6,353.1 347.1,352.1 347.6,351.4 348.1,350.9 348.6,350.7 349.1,350.6 349.6,350.3 350.1,349.9 350.6,348.9 351.1,348.0 351.6,347.5 352.1,347.6 352.6,348.0 353.1,348.3 353.6,348.2 354.1,347.9 354.6,347.1 355.1,346.1 355.6,345.2 356.1,345.0 356.6,345.5 357.1,346.0 357.6,345.3 358.1,343.6 358.6,341.6 359.1,339.8 359.6,338.5 360.1,337.6 360.6,337.2 361.1,337.5 361.6,338.3 362.1,339.0 362.6,339.5 363.1,339.4 363.6,338.6 364.1,337.6 364.6,336.1 365.1,333.9 365.6,331.1 366.1,328.2 366.6,325.6 367.1,323.5 367.6,322.2 368.1,321.5 368.6,321.0 369.1,320.6 369.6,320.1 370.1,319.3 370.6,318.5 371.1,317.0 371.6,315.4 372.1,314.4 372.6,313.9 373.1,313.8 373.6,313.5 374.1,312.6 374.6,311.1 375.1,309.2 375.6,307.2 376.1,305.3 376.6,304.1 377.1,305.3 377.6,306.7 378.1,307.8 378.6,308.2 379.1,308.4 379.6,308.9 380.1,310.2 380.6,312.1 381.1,314.0 381.6,316.1 382.1,318.2 382.6,320.7 383.1,323.7 383.6,327.2 384.1,330.3 384.6,332.3 385.1,333.1 385.6,333.6 386.1,334.2 386.6,335.0 387.1,336.0 387.6,337.1 388.1,338.4 388.6,340.2 389.1,342.2 389.6,344.0 390.1,345.8 390.6,347.6 391.1,349.2 391.6,350.7 392.1,352.1 392.6,353.4 393.1,354.1 393.6,354.2 394.1,353.9 394.6,353.7 395.1,353.5 395.6,353.0 396.1,352.4 396.6,351.9 397.1,352.4 397.6,353.8 398.1,355.2 398.6,355.7 399.1,355.2 399.6,354.2 400.1,353.3 400.6,352.7 401.1,352.4 401.6,351.7 402.1,350.7 402.6,349.7 403.1,349.5 403.6,350.4 404.1,352.3 404.6,354.4 405.1,356.0 405.6,356.8 406.1,356.7 406.6,355.8 407.1,354.2 407.6,352.2 408.1,350.2 408.6,348.8 409.1,348.0 409.6,347.7 410.1,347.8 410.6,348.0 411.1,348.5 411.6,349.5 412.1,350.8 412.6,352.2 413.1,353.2 413.6,353.5 414.1,353.2 414.6,352.6 415.1,352.1 415.6,351.7 416.1,351.5 416.6,351.6 417.1,352.0 417.6,352.5 418.1,353.0 418.6,352.9 419.1,352.1 419.6,350.9 420.1,349.8 420.6,349.4 421.1,349.8 421.6,351.0 422.1,352.5 422.6,353.8 423.1,354.5 423.6,354.7 424.1,354.6 424.6,354.5 425.1,354.7 425.6,355.4 426.1,357.2 426.6,359.4 427.1,361.0 427.6,362.0 428.1,362.4 428.6,362.7 429.1,362.8 429.6,362.7 430.1,362.5 430.6,362.2 431.1,361.8 431.6,361.5 432.1,361.0 432.6,360.1 433.1,358.8 433.6,357.4 434.1,356.4 434.6,355.9 435.1,355.9 435.6,356.0 436.1,356.2 436.6,356.4 437.1,356.4 437.6,356.2 438.1,355.8 438.6,355.2 439.1,354.5 439.6,353.7 440.1,353.4 440.6,353.6 441.1,354.3 441.6,355.3 442.1,356.0 442.6,356.4 443.1,356.6 443.6,356.7 444.1,356.7 444.6,356.5 445.1,356.1 445.6,355.9 446.1,355.9 446.6,356.2 447.1,356.8 447.6,357.2 448.1,357.4 448.6,357.3 449.1,357.4 449.6,358.0 450.1,359.2 450.6,361.0 451.1,362.6 451.6,363.7 452.1,363.9 452.6,363.3 453.1,362.4 453.6,361.1 454.1,359.8 454.6,358.7 455.1,358.0 455.6,358.0 456.1,358.5 456.6,359.4 457.1,360.3 457.6,361.2 458.1,362.0 458.6,362.6 459.1,362.9 459.6,362.8 460.1,362.2 460.6,361.7 461.1,361.2 461.6,360.7 462.1,360.1 462.6,359.2 463.1,358.4 463.6,357.8 464.1,357.6 464.6,357.9 465.1,358.7 465.6,360.0 466.1,361.4 466.6,362.7 467.1,363.4 467.6,363.4 468.1,362.9 468.6,362.1 469.1,361.2 469.6,360.2 470.1,359.1 470.6,357.9 471.1,357.2 471.6,357.3 472.1,357.9 472.6,358.6 473.1,359.0 473.6,359.1 474.1,359.0 474.6,359.2 475.1,359.7 475.6,360.5 476.1,360.6 476.6,360.2 477.1,359.1 477.6,357.5 478.1,355.8 478.6,354.2 479.1,353.1 479.6,353.0 480.1,353.6 480.6,354.6 481.1,355.4 481.6,355.9 482.1,356.1 482.6,356.0 483.1,355.5 483.6,354.8 484.1,354.1 484.6,353.5 485.1,353.0 485.6,352.6 486.1,352.3 486.6,352.2 487.1,352.7 487.6,353.7 488.1,355.0 488.6,355.9 489.1,356.2 489.6,356.4 490.1,357.4 490.6,358.9 491.1,360.7 491.6,362.2 492.1,363.1 492.6,363.9 493.1,364.3 493.6,364.4 494.1,364.2 494.6,364.2 495.1,364.3 495.6,364.7 496.1,365.1 496.6,365.4 497.1,365.7 497.6,365.8 498.1,365.8 498.6,365.8 499.1,365.9 499.6,366.0 500.1,366.0 500.6,365.7 501.1,365.4 501.6,365.1 502.1,364.7 502.6,363.9 503.1,362.9 503.6,361.7 504.1,360.7 504.6,360.3 505.1,360.7 505.6,361.8 506.1,363.2 506.6,364.6 507.1,365.8 507.6,366.5 508.1,367.0 508.6,367.5 509.1,367.8 509.6,368.0 510.1,367.9 510.6,368.0 511.1,368.3 511.6,369.1 512.1,370.0 512.6,370.9 513.1,371.4 513.6,371.4 514.1,371.2 514.6,371.4 515.1,372.2 515.6,373.3 516.1,374.2 516.6,374.4 517.1,373.9 517.6,373.4 518.1,373.4 518.6,374.0 519.1,374.9 519.6,375.7 520.1,376.2 520.6,376.4 521.1,376.6 521.6,376.7 522.1,376.8 522.6,376.9 523.1,377.1 523.6,377.2 524.1,377.1 524.6,376.7 525.1,376.2 525.6,375.8 526.1,375.9 526.6,376.4 527.1,377.0 527.6,377.6 528.1,377.8 528.6,377.7 529.1,377.4 529.6,377.4 530.1,377.9 530.6,378.5 531.1,378.9 531.6,379.1 532.1,379.0 532.6,378.7 533.1,378.2 533.6,377.5 534.1,376.9 534.6,376.5 535.1,376.3 535.6,376.0 536.1,375.6 536.6,375.1 537.1,374.5 537.6,374.2 538.1,374.0 538.6,373.8 539.1,373.5 539.6,373.0 540.1,372.4 540.6,371.8 541.1,371.2 541.6,370.8 542.1,370.6 542.6,370.5 543.1,370.3 543.6,369.9 544.1,369.2 544.6,368.5 545.1,368.3 545.6,368.4 546.1,368.5 546.6,368.4 547.1,368.2 547.6,368.1 548.1,368.1 548.6,368.1 549.1,368.1 549.6,368.0 550.1,367.5 550.6,367.1 551.1,366.8 551.6,366.7 552.1,366.7 552.6,366.8 553.1,366.8 553.6,366.7 554.1,366.8 554.6,367.3 555.1,368.1 555.6,369.2 556.1,370.3 556.6,371.4 557.1,372.3 557.6,373.1 558.1,373.6 558.6,374.0 559.1,374.4 559.6,375.0 560.1,375.6 560.6,376.2 561.1,376.6 561.6,376.7 562.1,376.8 562.6,376.7 563.1,376.7 563.6,376.5 564.1,376.3 564.6,376.2 565.1,376.2 565.6,376.2 566.1,376.2 566.6,376.3 567.1,376.2 567.6,376.1 568.1,376.0 568.6,375.9 569.1,375.6 569.6,375.2 570.1,374.5 570.6,373.7 571.1,372.7 571.6,371.5 572.1,370.5 572.6,369.7 573.1,369.0 573.6,368.4 574.1,367.7 574.6,366.8 575.1,365.9 575.6,365.3 576.1,365.1 576.6,365.1 577.1,365.1 577.6,364.9 578.1,364.4 578.6,363.8 579.1,363.4 579.6,363.0 580.1,362.5 580.6,361.8 581.1,360.8 581.6,359.6 582.1,358.7 582.6,359.0 583.1,359.8 583.6,361.1 584.1,362.9 584.6,364.9 585.1,366.8 585.6,368.4 586.1,369.8 586.6,371.2 587.1,372.6 587.6,374.0 588.1,375.2 588.6,376.4 589.1,377.6 589.6,378.9 590.1,380.2 590.6,381.7 591.1,383.3 591.6,385.0 592.1,386.5 592.6,387.3 593.1,387.5 593.6,386.5 594.1,385.6 594.6,385.0 595.1,384.9 595.6,385.1 596.1,385.3 596.6,386.0 597.1,386.5 597.6,387.0 598.1,387.6 598.6,388.1 599.1,388.7 599.6,389.5 600.1,390.6 600.6,391.7 601.1,392.3 601.6,392.4 602.1,391.4 602.6,390.4 603.1,389.5 603.6,388.6 604.1,387.6 604.6,386.8 605.1,386.1 605.6,385.5 606.1,384.8 606.6,384.4 607.1,384.3 607.6,384.5 608.1,384.5 608.6,384.3 609.1,383.8 609.6,383.4 610.1,383.3 610.6,383.5 611.1,383.7 611.6,383.5 612.1,383.3 612.6,382.8 613.1,382.1 613.6,381.2 614.1,380.3 614.6,379.5 615.1,378.6 615.6,377.7 616.1,376.6 616.6,375.5 617.1,374.3 617.6,373.1 618.1,371.6 618.6,370.2 619.1,368.7 619.6,367.2 620.1,365.5 620.6,363.7 621.1,362.2 621.6,361.1 622.1,360.4 622.6,360.0 623.1,359.6 623.6,359.2 624.1,359.2 624.6,358.9 625.1,358.2 625.6,357.3 626.1,356.6 626.6,356.4 627.1,356.8 627.6,357.5 628.1,358.2 628.6,359.0 629.1,360.2 629.6,361.3 630.1,362.2 630.6,362.6 631.1,362.8 631.6,363.1 632.1,363.5 632.6,363.9 633.1,364.2 633.6,364.3 634.1,364.2 634.6,363.9 635.1,363.3 635.6,362.4 636.1,361.4 636.6,360.4 637.1,359.5 637.6,358.8 638.1,358.7 638.6,359.1 639.1,359.7 639.6,360.6 640.1,361.4 640.6,362.2 641.1,362.9 641.6,363.7 642.1,364.6 642.6,365.7 643.1,366.7 643.6,367.7 644.1,368.4 644.6,368.9 645.1,369.4 645.6,370.1 646.1,371.0 646.6,372.1 647.1,373.2 647.6,374.5 648.1,376.5 648.6,378.6 649.1,380.8 649.6,383.2 650.1,385.5 650.6,387.5 651.1,387.7 651.6,387.6 652.1,387.3 652.6,387.1 653.1,387.2 653.6,387.3 654.1,387.3 654.6,387.0 655.1,386.3 655.6,385.4 656.1,384.6 656.6,383.8 657.1,383.0 657.6,382.3 658.1,381.8 658.6,381.5 659.1,381.4 659.6,381.7 660.1,382.1 660.6,382.5 661.1,382.8 661.6,382.7 662.1,381.6 662.6,380.2 663.1,378.6 663.6,377.0 664.1,375.5 664.6,373.9 665.1,372.3 665.6,370.7 666.1,369.2 666.6,368.2 667.1,367.8 667.6,368.0 668.1,368.5 668.6,369.1 669.1,369.6 669.6,369.7 670.1,369.7 670.6,369.6 671.1,369.6 671.6,370.0 672.1,370.6 672.6,371.3 673.1,371.8 673.6,371.9 674.1,371.6 674.6,371.0 675.1,370.3 675.6,369.7 676.1,369.2 676.6,368.7 677.1,368.5 677.6,368.6 678.1,369.1 678.6,369.9 679.1,370.5 679.6,370.5 680.1,369.7 680.6,368.2 681.1,366.0 681.6,364.0 682.1,362.5 682.6,361.4 683.1,360.4 683.6,359.3 684.1,357.9 684.6,356.4 685.1,355.2 685.6,354.8 686.1,354.9 686.6,355.1 687.1,355.3 687.6,355.3 688.1,355.1 688.6,354.8 689.1,354.5 689.6,354.0 690.1,353.7 690.6,353.7 691.1,354.1 691.6,355.0 692.1,356.1 692.6,357.0 693.1,357.7 693.6,358.3 694.1,359.0 694.6,359.8 695.1,360.7 695.6,361.3 696.1,361.7 696.6,361.6 697.1,361.3 697.6,361.5 698.1,362.3 698.6,363.9 699.1,365.8 699.6,367.6 700.1,369.1 700.6,370.0 701.1,370.7 701.6,371.2 702.1,371.8 702.6,372.5 703.1,372.9 703.6,373.0 704.1,372.6 704.6,372.2 705.1,372.2 705.6,372.2 706.1,372.1 706.6,371.7 707.1,371.3 707.6,371.2 708.1,371.6 708.6,372.3 709.1,373.0 709.6,373.7 710.1,374.2 710.6,374.5 711.1,374.4 711.6,374.3 712.1,374.4 712.6,374.6 713.1,375.0 713.6,375.6 714.1,376.2 714.6,376.6 715.1,376.7 715.6,376.4 716.1,376.0 716.6,376.1 717.1,376.7 717.6,377.6 718.1,378.4 718.6,379.1 719.1,379.3 719.6,379.1 720.1,378.9 720.6,379.3 721.1,380.3 721.6,381.8 722.1,383.5 722.6,385.0 723.1,386.3 723.6,387.3 724.1,388.1 724.6,388.7 725.1,389.6 725.6,390.8 726.1,392.3 726.6,394.0 727.1,395.6 727.6,396.8 728.1,397.4 728.6,397.6 729.1,397.6 729.6,397.2 730.1,396.3 730.6,395.0 731.1,393.3 731.6,391.6 732.1,390.6 732.6,390.4 733.1,391.7 733.6,393.2 734.1,394.4 734.6,395.3 735.1,395.8 735.6,396.0 736.1,396.2 736.6,396.6 737.1,397.2 737.6,397.9 738.1,398.2 738.6,398.3 739.1,398.8 739.6,399.7 740.1,400.6 740.6,400.9 741.1,400.7 741.6,400.1 742.1,399.6 742.6,399.2 743.1,398.6 743.6,397.9 744.1,397.0 744.6,396.3 745.1,395.8 745.6,395.6" stroke="#ff7f0e" stroke-dasharray="3.2,1.8"/><path d="M96.6,365.2 97.1,364.6 97.6,364.0 98.1,363.5 98.6,363.3 99.1,363.7 99.6,364.5 100.1,365.5 100.6,366.2 101.1,366.9 101.6,367.3 102.1,367.5 102.6,367.6 103.1,367.9 103.6,368.4 104.1,369.2 104.6,369.9 105.1,370.5 105.6,371.0 106.1,371.2 106.6,371.4 107.1,371.4 107.6,371.5 108.1,371.8 108.6,372.4 109.1,373.4 109.6,374.6 110.1,375.9 110.6,377.2 111.1,378.4 111.6,379.6 112.1,380.7 112.6,382.0 113.1,383.1 113.6,383.8 114.1,384.0 114.6,383.8 115.1,383.4 115.6,382.2 116.1,380.9 116.6,379.5 117.1,378.3 117.6,377.3 118.1,376.3 118.6,375.4 119.1,374.5 119.6,373.6 120.1,372.9 120.6,372.4 121.1,372.1 121.6,372.1 122.1,372.2 122.6,372.2 123.1,372.1 123.6,371.7 124.1,371.2 124.6,370.7 125.1,370.4 125.6,370.2 126.1,369.9 126.6,369.7 127.1,369.5 127.6,369.5 128.1,369.6 128.6,369.7 129.1,369.8 129.6,369.9 130.1,370.1 130.6,370.1 131.1,369.7 131.6,369.1 132.1,368.8 132.6,369.1 133.1,370.1 133.6,371.1 134.1,371.9 134.6,372.3 135.1,372.7 135.6,373.0 136.1,373.4 136.6,373.6 137.1,373.6 137.6,373.4 138.1,373.2 138.6,372.9 139.1,372.7 139.6,372.3 140.1,371.8 140.6,370.9 141.1,369.9 141.6,369.4 142.1,369.4 142.6,369.9 143.1,370.8 143.6,371.9 144.1,373.0 144.6,374.2 145.1,375.8 145.6,377.5 146.1,379.3 146.6,380.8 147.1,382.0 147.6,382.8 148.1,383.2 148.6,382.6 149.1,382.0 149.6,381.3 150.1,380.2 150.6,378.7 151.1,377.1 151.6,375.5 152.1,374.0 152.6,372.4 153.1,370.7 153.6,368.9 154.1,367.0 154.6,365.3 155.1,363.7 155.6,362.3 156.1,360.6 156.6,358.8 157.1,356.8 157.6,354.8 158.1,353.3 158.6,352.2 159.1,353.1 159.6,355.7 160.1,358.9 160.6,362.5 161.1,366.1 161.6,369.2 162.1,371.6 162.6,373.4 163.1,374.7 163.6,375.8 164.1,376.9 164.6,378.0 165.1,379.1 165.6,379.7 166.1,379.7 166.6,379.3 167.1,378.7 167.6,377.9 168.1,376.8 168.6,376.2 169.1,375.9 169.6,375.8 170.1,375.6 170.6,375.2 171.1,374.6 171.6,374.0 172.1,373.4 172.6,372.8 173.1,372.0 173.6,371.0 174.1,369.9 174.6,369.0 175.1,368.0 175.6,366.9 176.1,365.4 176.6,364.4 177.1,364.0 177.6,364.3 178.1,365.3 178.6,367.1 179.1,369.5 179.6,372.1 180.1,374.5 180.6,377.1 181.1,380.0 181.6,382.7 182.1,385.0 182.6,387.0 183.1,388.6 183.6,389.8 184.1,390.7 184.6,389.3 185.1,387.2 185.6,384.7 186.1,382.2 186.6,379.8 187.1,377.7 187.6,375.9 188.1,374.3 188.6,373.0 189.1,371.8 189.6,370.6 190.1,369.3 190.6,367.9 191.1,366.4 191.6,364.9 192.1,363.4 192.6,361.6 193.1,359.7 193.6,357.8 194.1,356.7 194.6,358.3 195.1,360.8 195.6,364.0 196.1,367.6 196.6,371.3 197.1,374.5 197.6,377.7 198.1,380.4 198.6,382.3 199.1,382.5 199.6,380.7 200.1,379.1 200.6,377.7 201.1,376.5 201.6,375.3 202.1,374.4 202.6,373.8 203.1,373.3 203.6,372.8 204.1,372.2 204.6,371.6 205.1,371.1 205.6,370.9 206.1,371.2 206.6,371.9 207.1,372.4 207.6,372.7 208.1,372.9 208.6,373.2 209.1,373.6 209.6,374.3 210.1,375.2 210.6,376.5 211.1,377.8 211.6,379.0 212.1,380.0 212.6,380.8 213.1,380.9 213.6,380.6 214.1,380.0 214.6,378.9 215.1,377.5 215.6,376.0 216.1,374.8 216.6,374.0 217.1,373.6 217.6,373.5 218.1,373.6 218.6,373.7 219.1,373.9 219.6,374.1 220.1,374.2 220.6,374.3 221.1,374.3 221.6,374.3 222.1,374.3 222.6,374.5 223.1,375.1 223.6,376.1 224.1,377.3 224.6,378.6 225.1,378.8 225.6,378.2 226.1,377.0 226.6,375.5 227.1,373.9 227.6,372.4 228.1,371.2 228.6,370.1 229.1,369.2 229.6,368.5 230.1,368.1 230.6,368.0 231.1,368.2 231.6,368.8 232.1,369.9 232.6,370.7 233.1,371.3 233.6,371.9 234.1,372.3 234.6,372.5 235.1,372.2 235.6,371.6 236.1,370.7 236.6,369.5 237.1,368.1 237.6,366.6 238.1,365.9 238.6,366.2 239.1,367.1 239.6,368.6 240.1,370.4 240.6,372.0 241.1,373.3 241.6,374.2 242.1,375.1 242.6,376.2 243.1,377.5 243.6,378.9 244.1,379.9 244.6,380.0 245.1,379.4 245.6,378.9 246.1,378.8 246.6,379.1 247.1,379.3 247.6,378.9 248.1,377.7 248.6,375.9 249.1,373.9 249.6,372.5 250.1,371.8 250.6,371.6 251.1,371.5 251.6,371.2 252.1,371.0 252.6,371.0 253.1,371.4 253.6,372.1 254.1,372.8 254.6,373.8 255.1,374.9 255.6,376.3 256.1,377.8 256.6,379.3 257.1,380.8 257.6,382.3 258.1,383.4 258.6,383.8 259.1,382.1 259.6,379.6 260.1,377.1 260.6,375.2 261.1,374.0 261.6,373.2 262.1,372.7 262.6,372.1 263.1,371.9 263.6,371.5 264.1,370.9 264.6,370.3 265.1,369.7 265.6,369.0 266.1,368.2 266.6,367.5 267.1,366.6 267.6,365.5 268.1,364.1 268.6,362.5 269.1,360.9 269.6,359.4 270.1,358.0 270.6,356.8 271.1,356.0 271.6,356.5 272.1,357.4 272.6,358.3 273.1,359.4 273.6,360.8 274.1,362.6 274.6,364.5 275.1,366.2 275.6,367.7 276.1,369.2 276.6,370.5 277.1,371.8 277.6,373.1 278.1,374.3 278.6,375.7 279.1,377.1 279.6,378.4 280.1,379.8 280.6,381.3 281.1,382.8 281.6,384.5 282.1,386.2 282.6,387.8 283.1,389.1 283.6,390.4 284.1,391.8 284.6,393.0 285.1,394.0 285.6,394.2 286.1,393.2 286.6,392.1 287.1,391.0 287.6,390.0 288.1,388.9 288.6,387.6 289.1,386.3 289.6,385.7 290.1,385.8 290.6,386.4 291.1,387.0 291.6,387.0 292.1,386.6 292.6,385.9 293.1,385.1 293.6,384.5 294.1,384.1 294.6,384.0 295.1,384.2 295.6,384.5 296.1,384.6 296.6,384.6 297.1,384.5 297.6,384.1 298.1,383.7 298.6,383.9 299.1,384.5 299.6,385.6 300.1,386.9 300.6,388.2 301.1,389.3 301.6,390.1 302.1,390.7 302.6,391.3 303.1,391.8 303.6,392.4 304.1,392.0 304.6,391.1 305.1,389.8 305.6,387.7 306.1,385.1 306.6,382.6 307.1,380.5 307.6,379.0 308.1,377.7 308.6,376.5 309.1,375.5 309.6,374.5 310.1,373.6 310.6,372.7 311.1,372.2 311.6,371.9 312.1,372.1 312.6,372.9 313.1,374.4 313.6,376.3 314.1,378.4 314.6,380.4 315.1,382.3 315.6,384.2 316.1,386.0 316.6,387.8 317.1,389.4 317.6,390.3 318.1,390.7 318.6,391.1 319.1,391.7 319.6,392.5 320.1,393.2 320.6,393.6 321.1,393.5 321.6,393.2 322.1,392.7 322.6,391.9 323.1,390.1 323.6,388.1 324.1,386.2 324.6,384.3 325.1,382.2 325.6,380.1 326.1,377.9 326.6,375.9 327.1,374.1 327.6,372.9 328.1,372.0 328.6,371.2 329.1,370.1 329.6,368.9 330.1,367.5 330.6,366.4 331.1,365.6 331.6,365.2 332.1,365.0 332.6,364.8 333.1,364.7 333.6,365.0 334.1,365.2 334.6,365.1 335.1,364.9 335.6,364.6 336.1,364.7 336.6,364.9 337.1,365.3 337.6,365.8 338.1,366.4 338.6,366.9 339.1,367.3 339.6,367.6 340.1,367.7 340.6,367.8 341.1,367.5 341.6,366.0 342.1,364.0 342.6,361.7 343.1,359.3 343.6,357.0 344.1,354.9 344.6,353.3 345.1,351.9 345.6,350.5 346.1,349.1 346.6,347.4 347.1,345.6 347.6,344.0 348.1,342.4 348.6,341.5 349.1,341.2 349.6,341.2 350.1,341.7 350.6,341.3 351.1,340.6 351.6,340.2 352.1,340.2 352.6,340.4 353.1,340.6 353.6,340.4 354.1,340.2 354.6,339.7 355.1,338.6 355.6,337.3 356.1,336.6 356.6,336.3 357.1,335.8 357.6,333.9 358.1,331.3 358.6,328.7 359.1,326.8 359.6,325.8 360.1,325.3 360.6,325.1 361.1,325.3 361.6,325.7 362.1,325.9 362.6,325.8 363.1,325.1 363.6,323.5 364.1,321.5 364.6,318.9 365.1,315.7 365.6,312.2 366.1,308.8 366.6,305.8 367.1,303.3 367.6,301.7 368.1,300.3 368.6,299.1 369.1,297.8 369.6,296.4 370.1,294.9 370.6,293.6 371.1,291.9 371.6,290.0 372.1,288.6 372.6,287.7 373.1,286.9 373.6,285.7 374.1,284.0 374.6,282.0 375.1,279.9 375.6,278.0 376.1,276.4 376.6,275.6 377.1,277.6 377.6,279.6 378.1,281.2 378.6,282.2 379.1,282.9 379.6,284.0 380.1,285.5 380.6,287.6 381.1,290.0 381.6,293.1 382.1,296.4 382.6,300.0 383.1,304.0 383.6,308.0 384.1,311.7 384.6,314.3 385.1,315.8 385.6,317.1 386.1,318.5 386.6,320.2 387.1,321.7 387.6,323.2 388.1,324.8 388.6,326.9 389.1,329.3 389.6,331.7 390.1,334.4 390.6,337.0 391.1,339.4 391.6,341.4 392.1,342.9 392.6,343.9 393.1,344.2 393.6,343.8 394.1,343.3 394.6,343.1 395.1,343.3 395.6,343.4 396.1,343.0 396.6,342.5 397.1,342.5 397.6,343.2 398.1,344.0 398.6,344.2 399.1,343.7 399.6,343.1 400.1,342.5 400.6,342.0 401.1,341.5 401.6,340.8 402.1,340.0 402.6,339.3 403.1,339.2 403.6,339.9 404.1,341.5 404.6,343.3 405.1,344.7 405.6,345.7 406.1,346.0 406.6,345.4 407.1,344.0 407.6,342.0 408.1,340.0 408.6,338.6 409.1,338.0 409.6,337.9 410.1,338.0 410.6,338.2 411.1,338.5 411.6,339.1 412.1,340.1 412.6,341.3 413.1,342.1 413.6,342.4 414.1,342.5 414.6,342.6 415.1,342.7 415.6,342.8 416.1,342.7 416.6,342.7 417.1,342.9 417.6,343.4 418.1,343.7 418.6,343.4 419.1,342.2 419.6,340.3 420.1,338.5 420.6,337.3 421.1,337.4 421.6,338.6 422.1,340.2 422.6,341.8 423.1,342.9 423.6,343.8 424.1,344.4 424.6,345.0 425.1,345.6 425.6,346.4 426.1,348.4 426.6,350.9 427.1,352.8 427.6,353.9 428.1,354.2 428.6,354.6 429.1,355.1 429.6,355.5 430.1,355.8 430.6,355.9 431.1,355.7 431.6,355.6 432.1,355.4 432.6,354.7 433.1,353.4 433.6,351.9 434.1,350.8 434.6,350.3 435.1,350.3 435.6,350.4 436.1,350.6 436.6,350.7 437.1,350.7 437.6,350.5 438.1,350.1 438.6,349.4 439.1,348.2 439.6,346.9 440.1,346.0 440.6,345.8 441.1,346.6 441.6,348.0 442.1,349.3 442.6,350.0 443.1,350.2 443.6,350.2 444.1,350.2 444.6,350.3 445.1,350.5 445.6,350.6 446.1,350.7 446.6,350.9 447.1,351.2 447.6,351.5 448.1,351.7 448.6,351.7 449.1,351.8 449.6,352.2 450.1,353.3 450.6,354.7 451.1,356.1 451.6,356.9 452.1,357.0 452.6,356.6 453.1,355.9 453.6,355.1 454.1,354.4 454.6,353.8 455.1,353.5 455.6,353.4 456.1,353.6 456.6,353.8 457.1,354.2 457.6,354.7 458.1,355.2 458.6,355.7 459.1,355.9 459.6,355.9 460.1,355.8 460.6,355.6 461.1,355.5 461.6,355.4 462.1,355.1 462.6,354.4 463.1,353.6 463.6,352.9 464.1,352.4 464.6,352.2 465.1,352.4 465.6,353.3 466.1,354.7 466.6,356.1 467.1,357.2 467.6,357.5 468.1,356.9 468.6,355.5 469.1,354.0 469.6,352.8 470.1,351.8 470.6,351.1 471.1,350.8 471.6,351.3 472.1,352.3 472.6,353.4 473.1,354.0 473.6,354.0 474.1,353.6 474.6,353.2 475.1,353.3 475.6,353.7 476.1,353.3 476.6,352.3 477.1,350.7 477.6,348.9 478.1,347.2 478.6,345.7 479.1,344.8 479.6,344.9 480.1,345.5 480.6,346.5 481.1,347.0 481.6,347.3 482.1,347.3 482.6,347.0 483.1,346.3 483.6,345.5 484.1,344.6 484.6,344.0 485.1,343.7 485.6,343.6 486.1,343.6 486.6,344.0 487.1,344.8 487.6,346.1 488.1,347.8 488.6,349.2 489.1,350.0 489.6,350.8 490.1,352.5 490.6,354.8 491.1,357.3 491.6,359.2 492.1,360.0 492.6,360.6 493.1,360.9 493.6,361.0 494.1,361.2 494.6,361.6 495.1,362.1 495.6,362.7 496.1,363.2 496.6,363.4 497.1,363.5 497.6,363.3 498.1,362.9 498.6,362.4 499.1,362.2 499.6,362.3 500.1,362.4 500.6,362.5 501.1,362.4 501.6,362.2 502.1,361.7 502.6,360.9 503.1,359.9 503.6,359.0 504.1,358.3 504.6,358.0 505.1,358.5 505.6,359.4 506.1,360.7 506.6,362.1 507.1,363.2 507.6,364.2 508.1,364.9 508.6,365.5 509.1,366.1 509.6,366.5 510.1,366.7 510.6,366.9 511.1,367.4 511.6,368.0 512.1,368.6 512.6,369.1 513.1,369.2 513.6,368.9 514.1,368.7 514.6,368.9 515.1,369.6 515.6,370.7 516.1,371.6 516.6,371.8 517.1,371.4 517.6,370.8 518.1,370.7 518.6,371.1 519.1,371.7 519.6,372.1 520.1,372.3 520.6,372.4 521.1,372.6 521.6,372.8 522.1,373.1 522.6,373.3 523.1,373.7 523.6,374.0 524.1,374.3 524.6,374.3 525.1,374.2 525.6,373.9 526.1,373.9 526.6,374.1 527.1,374.7 527.6,375.4 528.1,376.0 528.6,376.1 529.1,375.8 529.6,375.6 530.1,375.8 530.6,376.4 531.1,377.0 531.6,377.2 532.1,376.9 532.6,376.2 533.1,375.3 533.6,374.5 534.1,374.0 534.6,373.8 535.1,373.9 535.6,374.1 536.1,374.1 536.6,374.0 537.1,373.9 537.6,373.7 538.1,373.4 538.6,373.0 539.1,372.4 539.6,372.0 540.1,371.9 540.6,372.0 541.1,372.2 541.6,372.4 542.1,372.5 542.6,372.7 543.1,372.9 543.6,373.2 544.1,373.4 544.6,373.5 545.1,373.5 545.6,373.1 546.1,372.4 546.6,371.6 547.1,371.0 547.6,370.7 548.1,370.9 548.6,371.1 549.1,371.1 549.6,370.8 550.1,370.1 550.6,369.5 551.1,369.0 551.6,368.8 552.1,368.8 552.6,369.0 553.1,369.0 553.6,368.8 554.1,368.7 554.6,368.9 555.1,369.3 555.6,369.9 556.1,370.5 556.6,371.3 557.1,372.1 557.6,373.0 558.1,373.6 558.6,374.2 559.1,374.8 559.6,375.3 560.1,375.7 560.6,375.9 561.1,376.2 561.6,376.4 562.1,376.5 562.6,376.6 563.1,376.6 563.6,376.6 564.1,376.9 564.6,377.2 565.1,377.5 565.6,377.5 566.1,377.3 566.6,377.0 567.1,376.6 567.6,376.1 568.1,375.5 568.6,375.0 569.1,374.4 569.6,373.9 570.1,373.5 570.6,373.2 571.1,372.8 571.6,372.3 572.1,371.9 572.6,371.5 573.1,371.0 573.6,370.4 574.1,369.4 574.6,368.3 575.1,367.4 575.6,366.8 576.1,366.7 576.6,366.9 577.1,367.0 577.6,367.1 578.1,367.1 578.6,367.2 579.1,367.3 579.6,367.1 580.1,366.3 580.6,364.9 581.1,363.1 581.6,361.2 582.1,360.1 582.6,360.3 583.1,361.3 583.6,362.9 584.1,364.7 584.6,366.5 585.1,368.0 585.6,369.3 586.1,370.3 586.6,371.1 587.1,372.0 587.6,373.0 588.1,374.1 588.6,375.4 589.1,376.7 589.6,378.1 590.1,379.6 590.6,381.1 591.1,382.6 591.6,384.0 592.1,385.1 592.6,385.6 593.1,385.6 593.6,384.8 594.1,384.2 594.6,383.9 595.1,383.8 595.6,383.8 596.1,383.9 596.6,384.2 597.1,384.5 597.6,384.7 598.1,385.0 598.6,385.1 599.1,385.4 599.6,386.1 600.1,387.0 600.6,388.1 601.1,388.8 601.6,389.2 602.1,388.7 602.6,388.0 603.1,387.2 603.6,386.3 604.1,385.3 604.6,384.3 605.1,383.3 605.6,382.4 606.1,381.7 606.6,381.3 607.1,381.4 607.6,381.7 608.1,381.9 608.6,381.7 609.1,381.2 609.6,380.7 610.1,380.4 610.6,380.4 611.1,380.6 611.6,380.6 612.1,380.4 612.6,380.1 613.1,379.7 613.6,379.2 614.1,378.7 614.6,378.3 615.1,377.7 615.6,377.2 616.1,376.5 616.6,375.7 617.1,374.7 617.6,373.5 618.1,372.1 618.6,370.7 619.1,369.4 619.6,368.0 620.1,366.6 620.6,364.9 621.1,363.3 621.6,361.8 622.1,360.8 622.6,360.1 623.1,359.7 623.6,359.4 624.1,359.4 624.6,359.2 625.1,358.5 625.6,357.5 626.1,356.6 626.6,356.0 627.1,355.8 627.6,356.0 628.1,356.2 628.6,356.9 629.1,358.1 629.6,359.3 630.1,360.2 630.6,360.7 631.1,360.9 631.6,361.1 632.1,361.5 632.6,362.0 633.1,362.5 633.6,363.0 634.1,363.3 634.6,362.9 635.1,361.9 635.6,360.7 636.1,359.4 636.6,358.3 637.1,357.3 637.6,356.5 638.1,356.3 638.6,357.0 639.1,358.1 639.6,359.5 640.1,361.0 640.6,362.1 641.1,362.8 641.6,363.5 642.1,364.4 642.6,365.6 643.1,367.0 643.6,368.2 644.1,369.1 644.6,369.6 645.1,369.7 645.6,370.0 646.1,370.6 646.6,371.7 647.1,373.0 647.6,374.6 648.1,376.7 648.6,378.6 649.1,380.3 649.6,381.8 650.1,383.3 650.6,384.9 651.1,385.2 651.6,385.6 652.1,385.7 652.6,385.8 653.1,386.0 653.6,386.2 654.1,386.3 654.6,386.0 655.1,385.4 655.6,384.6 656.1,383.9 656.6,383.4 657.1,383.2 657.6,382.9 658.1,382.4 658.6,381.8 659.1,381.4 659.6,381.3 660.1,381.7 660.6,382.2 661.1,382.6 661.6,382.9 662.1,382.2 662.6,381.0 663.1,379.5 663.6,377.9 664.1,376.3 664.6,374.7 665.1,373.0 665.6,371.1 666.1,369.2 666.6,367.5 667.1,366.4 667.6,365.8 668.1,365.7 668.6,365.7 669.1,365.6 669.6,365.2 670.1,364.7 670.6,364.2 671.1,364.1 671.6,364.4 672.1,365.1 672.6,365.8 673.1,366.3 673.6,366.3 674.1,366.0 674.6,365.6 675.1,365.2 675.6,365.0 676.1,364.7 676.6,364.5 677.1,364.6 677.6,365.0 678.1,365.7 678.6,366.6 679.1,367.3 679.6,367.3 680.1,366.5 680.6,365.0 681.1,362.8 681.6,360.8 682.1,359.2 682.6,358.0 683.1,357.0 683.6,355.9 684.1,354.7 684.6,353.3 685.1,351.9 685.6,351.2 686.1,351.2 686.6,351.7 687.1,352.3 687.6,352.6 688.1,352.3 688.6,351.5 689.1,350.4 689.6,349.7 690.1,349.5 690.6,349.8 691.1,350.4 691.6,351.0 692.1,351.4 692.6,351.8 693.1,352.2 693.6,352.7 694.1,353.6 694.6,354.6 695.1,355.6 695.6,356.1 696.1,356.4 696.6,356.2 697.1,355.8 697.6,355.9 698.1,356.8 698.6,358.4 699.1,360.6 699.6,362.7 700.1,364.4 700.6,365.5 701.1,366.2 701.6,366.7 702.1,367.4 702.6,368.2 703.1,368.7 703.6,368.7 704.1,368.3 704.6,367.9 705.1,367.6 705.6,367.3 706.1,366.8 706.6,366.1 707.1,365.6 707.6,365.4 708.1,365.5 708.6,365.9 709.1,366.3 709.6,366.7 710.1,367.2 710.6,367.3 711.1,367.1 711.6,366.5 712.1,365.9 712.6,365.5 713.1,365.6 713.6,366.1 714.1,367.1 714.6,368.1 715.1,368.6 715.6,368.5 716.1,367.9 716.6,367.6 717.1,367.8 717.6,368.4 718.1,369.2 718.6,369.9 719.1,370.4 719.6,370.9 720.1,371.3 720.6,372.0 721.1,373.0 721.6,374.4 722.1,376.0 722.6,377.7 723.1,379.4 723.6,380.9 724.1,381.9 724.6,382.7 725.1,383.6 725.6,384.9 726.1,386.6 726.6,388.7 727.1,390.6 727.6,392.3 728.1,393.4 728.6,394.3 729.1,395.0 729.6,395.3 730.1,395.2 730.6,394.6 731.1,393.5 731.6,392.1 732.1,391.2 732.6,391.1 733.1,392.6 733.6,394.1 734.1,395.4 734.6,396.3 735.1,397.0 735.6,397.3 736.1,397.5 736.6,397.7 737.1,398.0 737.6,398.4 738.1,398.7 738.6,398.7 739.1,399.1 739.6,399.9 740.1,400.6 740.6,400.7 741.1,400.2 741.6,399.6 742.1,399.2 742.6,399.1 743.1,398.9 743.6,398.3 744.1,397.1 744.6,395.5 745.1,394.1 745.6,393.1" stroke="#2ca02c"/><path d="M96.6,366.0 97.1,365.1 97.6,364.1 98.1,363.1 98.6,362.7 99.1,363.1 99.6,363.9 100.1,364.9 100.6,365.6 101.1,366.1 101.6,366.5 102.1,366.7 102.6,366.9 103.1,367.3 103.6,367.9 104.1,368.7 104.6,369.5 105.1,370.1 105.6,370.5 106.1,370.8 106.6,370.8 107.1,370.7 107.6,370.5 108.1,370.7 108.6,371.3 109.1,372.2 109.6,373.5 110.1,375.0 110.6,376.5 111.1,377.8 111.6,378.9 112.1,379.8 112.6,380.6 113.1,381.3 113.6,381.5 114.1,381.3 114.6,380.9 115.1,380.3 115.6,379.0 116.1,377.7 116.6,376.6 117.1,375.7 117.6,375.1 118.1,374.7 118.6,374.1 119.1,373.4 119.6,372.6 120.1,371.9 120.6,371.5 121.1,371.5 121.6,371.9 122.1,372.5 122.6,373.2 123.1,373.7 123.6,374.0 124.1,374.1 124.6,374.0 125.1,373.8 125.6,373.8 126.1,373.8 126.6,373.9 127.1,374.0 127.6,374.1 128.1,374.2 128.6,374.0 129.1,373.8 129.6,373.6 130.1,373.5 130.6,373.4 131.1,373.0 131.6,372.6 132.1,372.3 132.6,372.4 133.1,372.9 133.6,373.4 134.1,373.6 134.6,373.6 135.1,373.5 135.6,373.4 136.1,373.2 136.6,372.8 137.1,372.3 137.6,371.5 138.1,370.8 138.6,370.1 139.1,369.5 139.6,368.8 140.1,368.1 140.6,367.3 141.1,366.4 141.6,366.5 142.1,367.1 142.6,368.1 143.1,369.6 143.6,371.1 144.1,372.7 144.6,374.3 145.1,376.0 145.6,377.8 146.1,379.8 146.6,381.6 147.1,383.0 147.6,384.0 148.1,384.2 148.6,383.1 149.1,381.9 149.6,380.6 150.1,379.1 150.6,377.6 151.1,376.2 151.6,375.1 152.1,374.0 152.6,372.8 153.1,371.4 153.6,369.6 154.1,367.5 154.6,365.5 155.1,363.7 155.6,361.9 156.1,359.9 156.6,357.6 157.1,355.4 157.6,353.4 158.1,351.8 158.6,350.5 159.1,351.1 159.6,353.4 160.1,356.5 160.6,360.2 161.1,364.0 161.6,367.6 162.1,370.5 162.6,372.9 163.1,374.7 163.6,376.4 164.1,378.1 164.6,380.0 165.1,382.1 165.6,383.9 166.1,385.3 166.6,386.0 167.1,386.1 167.6,385.3 168.1,383.6 168.6,382.2 169.1,381.2 169.6,380.4 170.1,379.4 170.6,378.2 171.1,376.8 171.6,375.3 172.1,373.9 172.6,372.7 173.1,371.2 173.6,369.6 174.1,368.0 174.6,366.6 175.1,365.4 175.6,364.1 176.1,362.5 176.6,361.7 177.1,361.7 177.6,362.3 178.1,363.6 178.6,365.6 179.1,368.2 179.6,371.0 180.1,373.5 180.6,376.3 181.1,379.4 181.6,382.1 182.1,384.4 182.6,386.1 183.1,387.3 183.6,388.1 184.1,388.7 184.6,387.3 185.1,385.4 185.6,383.1 186.1,380.8 186.6,378.5 187.1,376.6 187.6,375.1 188.1,374.0 188.6,373.3 189.1,372.6 189.6,371.9 190.1,370.9 190.6,369.7 191.1,368.3 191.6,366.9 192.1,365.4 192.6,363.8 193.1,362.1 193.6,360.3 194.1,359.2 194.6,360.1 195.1,361.7 195.6,364.0 196.1,366.9 196.6,370.4 197.1,373.8 197.6,377.5 198.1,380.9 198.6,383.4 199.1,384.0 199.6,382.0 200.1,380.1 200.6,378.5 201.1,376.8 201.6,375.3 202.1,373.9 202.6,372.8 203.1,372.0 203.6,371.4 204.1,370.7 204.6,370.1 205.1,369.4 205.6,369.0 206.1,369.1 206.6,369.9 207.1,370.7 207.6,371.5 208.1,372.3 208.6,373.4 209.1,374.6 209.6,376.0 210.1,377.5 210.6,379.2 211.1,380.9 211.6,382.3 212.1,383.3 212.6,384.1 213.1,383.8 213.6,383.3 214.1,382.5 214.6,381.2 215.1,379.6 215.6,377.8 216.1,376.4 216.6,375.5 217.1,374.9 217.6,374.5 218.1,374.1 218.6,373.6 219.1,373.3 219.6,373.1 220.1,373.0 220.6,372.8 221.1,372.6 221.6,372.4 222.1,372.4 222.6,372.9 223.1,373.9 223.6,375.2 224.1,376.5 224.6,377.4 225.1,377.4 225.6,377.0 226.1,376.3 226.6,375.6 227.1,374.8 227.6,373.9 228.1,373.1 228.6,372.2 229.1,371.3 229.6,370.6 230.1,370.0 230.6,369.8 231.1,370.2 231.6,371.1 232.1,372.4 232.6,373.3 233.1,373.6 233.6,373.4 234.1,373.0 234.6,372.2 235.1,371.1 235.6,370.0 236.1,368.8 236.6,367.4 237.1,365.8 237.6,364.1 238.1,363.4 238.6,364.0 239.1,365.3 239.6,367.3 240.1,369.6 240.6,371.8 241.1,373.6 241.6,375.1 242.1,376.4 242.6,377.8 243.1,379.4 243.6,381.0 244.1,382.2 244.6,382.8 245.1,382.4 245.6,382.0 246.1,382.0 246.6,382.3 247.1,382.5 247.6,382.2 248.1,381.2 248.6,379.5 249.1,377.3 249.6,375.5 250.1,374.3 250.6,373.7 251.1,373.4 251.6,373.0 252.1,372.6 252.6,372.4 253.1,372.4 253.6,372.6 254.1,372.8 254.6,373.1 255.1,373.6 255.6,374.4 256.1,375.3 256.6,376.3 257.1,377.3 257.6,378.2 258.1,378.9 258.6,379.0 259.1,377.6 259.6,375.7 260.1,373.9 260.6,372.7 261.1,372.3 261.6,372.6 262.1,372.8 262.6,372.8 263.1,372.7 263.6,372.3 264.1,371.8 264.6,371.4 265.1,371.1 265.6,370.8 266.1,370.5 266.6,370.0 267.1,369.2 267.6,368.0 268.1,366.5 268.6,364.8 269.1,363.2 269.6,361.6 270.1,360.1 270.6,358.7 271.1,357.6 271.6,357.9 272.1,358.8 272.6,359.8 273.1,360.9 273.6,362.2 274.1,363.8 274.6,365.3 275.1,366.7 275.6,367.8 276.1,368.9 276.6,370.0 277.1,371.2 277.6,372.4 278.1,373.7 278.6,375.1 279.1,376.6 279.6,378.0 280.1,379.5 280.6,380.9 281.1,382.2 281.6,383.7 282.1,385.3 282.6,387.1 283.1,388.9 283.6,390.4 284.1,391.6 284.6,392.5 285.1,392.7 285.6,392.2 286.1,390.6 286.6,389.1 287.1,387.9 287.6,387.1 288.1,386.3 288.6,385.2 289.1,384.1 289.6,383.2 290.1,383.0 290.6,383.2 291.1,383.4 291.6,383.3 292.1,382.9 292.6,382.4 293.1,381.9 293.6,381.6 294.1,381.7 294.6,382.0 295.1,382.3 295.6,382.4 296.1,382.3 296.6,382.0 297.1,381.7 297.6,381.4 298.1,381.2 298.6,381.5 299.1,382.1 299.6,383.1 300.1,384.4 300.6,385.9 301.1,387.2 301.6,388.1 302.1,388.6 302.6,388.9 303.1,389.1 303.6,389.4 304.1,389.0 304.6,388.3 305.1,387.2 305.6,385.4 306.1,383.1 306.6,380.9 307.1,379.1 307.6,377.6 308.1,376.2 308.6,375.0 309.1,374.0 309.6,373.4 310.1,373.0 310.6,372.8 311.1,372.7 311.6,372.6 312.1,372.9 312.6,373.9 313.1,375.7 313.6,378.2 314.1,381.0 314.6,383.6 315.1,386.1 315.6,388.4 316.1,390.6 316.6,392.4 317.1,393.9 317.6,394.6 318.1,394.5 318.6,394.5 319.1,394.7 319.6,395.0 320.1,395.2 320.6,395.0 321.1,394.4 321.6,393.6 322.1,392.8 322.6,391.9 323.1,390.0 323.6,388.1 324.1,386.2 324.6,384.4 325.1,382.3 325.6,380.0 326.1,377.6 326.6,375.4 327.1,373.7 327.6,372.7 328.1,372.2 328.6,371.7 329.1,371.1 329.6,370.2 330.1,369.1 330.6,367.7 331.1,366.5 331.6,365.7 332.1,365.2 332.6,364.9 333.1,364.7 333.6,364.8 334.1,364.6 334.6,364.1 335.1,363.4 335.6,362.9 336.1,362.9 336.6,363.2 337.1,363.6 337.6,364.0 338.1,364.7 338.6,365.2 339.1,365.6 339.6,366.0 340.1,366.4 340.6,366.8 341.1,366.6 341.6,364.8 342.1,362.4 342.6,359.6 343.1,356.7 343.6,353.8 344.1,351.4 344.6,349.7 345.1,348.5 345.6,347.4 346.1,346.1 346.6,344.2 347.1,341.8 347.6,339.1 348.1,336.4 348.6,334.5 349.1,333.6 349.6,333.3 350.1,333.9 350.6,333.7 351.1,333.6 351.6,333.9 352.1,334.4 352.6,334.9 353.1,335.1 353.6,334.6 354.1,334.2 354.6,333.5 355.1,332.3 355.6,331.0 356.1,330.1 356.6,329.6 357.1,328.9 357.6,326.6 358.1,323.5 358.6,320.6 359.1,318.4 359.6,317.2 360.1,316.4 360.6,315.6 361.1,315.1 361.6,314.9 362.1,314.6 362.6,314.3 363.1,313.5 363.6,311.8 364.1,309.7 364.6,306.9 365.1,303.3 365.6,299.3 366.1,295.4 366.6,292.0 367.1,289.0 367.6,286.8 368.1,285.1 368.6,283.4 369.1,281.7 369.6,279.9 370.1,277.8 370.6,276.0 371.1,273.7 371.6,271.3 372.1,269.4 372.6,267.9 373.1,266.6 373.6,264.8 374.1,262.6 374.6,260.1 375.1,257.7 375.6,255.6 376.1,253.6 376.6,252.6 377.1,255.0 377.6,257.3 378.1,259.2 378.6,261.0 379.1,262.8 379.6,265.0 380.1,267.7 380.6,270.6 381.1,273.6 381.6,277.3 382.1,281.2 382.6,285.5 383.1,289.8 383.6,293.8 384.1,297.2 384.6,299.7 385.1,301.4 385.6,303.2 386.1,305.4 386.6,307.9 387.1,310.1 387.6,312.1 388.1,314.1 388.6,316.6 389.1,319.5 389.6,322.2 390.1,325.0 390.6,327.5 391.1,329.7 391.6,331.5 392.1,333.2 392.6,334.3 393.1,334.9 393.6,334.7 394.1,334.6 394.6,334.9 395.1,335.6 395.6,336.0 396.1,335.6 396.6,334.7 397.1,334.3 397.6,334.8 398.1,335.7 398.6,336.3 399.1,336.2 399.6,335.8 400.1,335.2 400.6,334.5 401.1,333.7 401.6,332.5 402.1,331.3 402.6,330.3 403.1,330.0 403.6,330.8 404.1,332.4 404.6,334.3 405.1,335.7 405.6,336.5 406.1,336.5 406.6,335.7 407.1,334.3 407.6,332.5 408.1,331.1 408.6,330.3 409.1,330.2 409.6,330.3 410.1,330.3 410.6,330.3 411.1,330.5 411.6,331.1 412.1,332.1 412.6,333.2 413.1,334.1 413.6,334.6 414.1,334.9 414.6,335.3 415.1,335.8 415.6,336.2 416.1,336.4 416.6,336.5 417.1,336.7 417.6,337.0 418.1,337.0 418.6,336.2 419.1,334.5 419.6,332.2 420.1,330.1 420.6,328.8 421.1,329.0 421.6,330.3 422.1,332.3 422.6,334.1 423.1,335.5 423.6,336.7 424.1,337.3 424.6,337.7 425.1,337.8 425.6,338.2 426.1,340.2 426.6,342.9 427.1,345.5 427.6,347.5 428.1,348.8 428.6,350.1 429.1,351.3 429.6,352.3 430.1,352.8 430.6,352.8 431.1,352.1 431.6,351.6 432.1,351.1 432.6,350.2 433.1,349.1 433.6,348.0 434.1,347.2 434.6,346.9 435.1,346.9 435.6,346.8 436.1,346.9 436.6,347.0 437.1,346.9 437.6,346.7 438.1,346.1 438.6,345.3 439.1,344.2 439.6,342.7 440.1,341.5 440.6,341.1 441.1,341.6 441.6,342.8 442.1,344.1 442.6,345.1 443.1,345.7 443.6,346.1 444.1,346.3 444.6,346.6 445.1,346.8 445.6,347.0 446.1,347.1 446.6,347.0 447.1,347.0 447.6,347.0 448.1,347.1 448.6,347.2 449.1,347.5 449.6,347.9 450.1,348.6 450.6,349.5 451.1,350.3 451.6,350.6 452.1,350.5 452.6,350.1 453.1,349.7 453.6,349.1 454.1,348.6 454.6,348.1 455.1,347.8 455.6,347.7 456.1,347.8 456.6,348.0 457.1,348.4 457.6,349.0 458.1,349.8 458.6,350.7 459.1,351.3 459.6,351.6 460.1,351.3 460.6,350.7 461.1,350.1 461.6,349.7 462.1,349.6 462.6,349.4 463.1,349.1 463.6,348.6 464.1,348.1 464.6,347.6 465.1,347.6 465.6,348.1 466.1,349.3 466.6,350.6 467.1,351.5 467.6,351.8 468.1,351.3 468.6,350.5 469.1,349.6 469.6,349.0 470.1,348.4 470.6,347.9 471.1,347.5 471.6,347.7 472.1,348.6 472.6,349.4 473.1,349.8 473.6,349.5 474.1,348.6 474.6,347.9 475.1,347.7 475.6,348.0 476.1,347.3 476.6,345.8 477.1,343.7 477.6,341.5 478.1,339.8 478.6,338.4 479.1,337.8 479.6,337.9 480.1,338.5 480.6,339.5 481.1,340.2 481.6,340.6 482.1,340.8 482.6,340.7 483.1,340.4 483.6,339.9 484.1,339.2 484.6,338.5 485.1,337.8 485.6,337.4 486.1,337.2 486.6,337.5 487.1,338.5 487.6,340.3 488.1,342.6 488.6,344.4 489.1,345.7 489.6,346.5 490.1,348.6 490.6,351.4 491.1,354.4 491.6,356.8 492.1,357.8 492.6,358.3 493.1,358.5 493.6,358.5 494.1,358.7 494.6,359.2 495.1,359.8 495.6,360.5 496.1,361.0 496.6,361.3 497.1,361.2 497.6,360.7 498.1,359.9 498.6,359.2 499.1,358.9 499.6,359.0 500.1,359.3 500.6,359.4 501.1,359.4 501.6,359.1 502.1,358.6 502.6,357.8 503.1,356.9 503.6,356.2 504.1,355.5 504.6,355.2 505.1,355.6 505.6,356.4 506.1,357.6 506.6,358.9 507.1,360.1 507.6,361.0 508.1,361.8 508.6,362.4 509.1,363.0 509.6,363.3 510.1,363.5 510.6,363.5 511.1,363.8 511.6,364.5 512.1,365.2 512.6,365.9 513.1,366.3 513.6,366.2 514.1,366.0 514.6,366.1 515.1,366.7 515.6,367.4 516.1,367.9 516.6,368.0 517.1,367.6 517.6,367.1 518.1,367.0 518.6,367.4 519.1,368.1 519.6,368.7 520.1,369.1 520.6,369.2 521.1,369.5 521.6,369.7 522.1,369.9 522.6,370.1 523.1,370.3 523.6,370.7 524.1,371.0 524.6,371.1 525.1,370.9 525.6,370.8 526.1,370.8 526.6,371.1 527.1,371.8 527.6,372.6 528.1,373.2 528.6,373.4 529.1,373.1 529.6,372.9 530.1,373.0 530.6,373.5 531.1,374.0 531.6,374.4 532.1,374.6 532.6,374.4 533.1,374.1 533.6,373.7 534.1,373.3 534.6,373.1 535.1,373.1 535.6,373.0 536.1,372.9 536.6,372.7 537.1,372.8 537.6,373.0 538.1,373.3 538.6,373.5 539.1,373.7 539.6,374.0 540.1,374.2 540.6,374.6 541.1,374.9 541.6,375.3 542.1,375.7 542.6,376.2 543.1,376.9 543.6,377.6 544.1,378.2 544.6,378.4 545.1,378.1 545.6,377.3 546.1,376.2 546.6,375.1 547.1,374.2 547.6,373.7 548.1,373.4 548.6,373.3 549.1,373.1 549.6,372.7 550.1,372.1 550.6,371.5 551.1,371.0 551.6,370.6 552.1,370.4 552.6,370.2 553.1,369.9 553.6,369.5 554.1,369.3 554.6,369.4 555.1,370.0 555.6,370.7 556.1,371.4 556.6,372.2 557.1,373.0 557.6,373.8 558.1,374.4 558.6,374.9 559.1,375.2 559.6,375.6 560.1,375.9 560.6,376.2 561.1,376.3 561.6,376.3 562.1,376.1 562.6,376.0 563.1,375.8 563.6,375.5 564.1,375.3 564.6,375.4 565.1,375.6 565.6,375.9 566.1,376.1 566.6,376.1 567.1,376.0 567.6,375.9 568.1,375.7 568.6,375.6 569.1,375.4 569.6,375.1 570.1,374.6 570.6,374.0 571.1,373.2 571.6,372.4 572.1,371.9 572.6,371.5 573.1,371.1 573.6,370.6 574.1,370.0 574.6,369.3 575.1,368.6 575.6,368.3 576.1,368.4 576.6,368.9 577.1,369.5 577.6,369.8 578.1,369.7 578.6,369.6 579.1,369.5 579.6,369.5 580.1,369.1 580.6,368.1 581.1,366.7 581.6,365.2 582.1,364.3 582.6,364.6 583.1,365.5 583.6,366.8 584.1,368.1 584.6,369.3 585.1,370.2 585.6,370.8 586.1,371.4 586.6,372.0 587.1,372.8 587.6,373.6 588.1,374.4 588.6,375.2 589.1,376.1 589.6,377.3 590.1,378.8 590.6,380.5 591.1,382.1 591.6,383.5 592.1,384.3 592.6,384.5 593.1,384.1 593.6,383.0 594.1,382.3 594.6,382.0 595.1,381.8 595.6,381.7 596.1,381.4 596.6,381.6 597.1,381.8 597.6,382.2 598.1,382.6 598.6,382.9 599.1,383.2 599.6,383.6 600.1,384.3 600.6,385.0 601.1,385.4 601.6,385.6 602.1,385.1 602.6,384.5 603.1,383.9 603.6,383.1 604.1,382.2 604.6,381.3 605.1,380.6 605.6,380.0 606.1,379.6 606.6,379.5 607.1,379.5 607.6,379.4 608.1,379.1 608.6,378.3 609.1,377.4 609.6,376.8 610.1,376.7 610.6,376.9 611.1,377.3 611.6,377.4 612.1,377.5 612.6,377.6 613.1,377.6 613.6,377.6 614.1,377.5 614.6,377.2 615.1,376.9 615.6,376.5 616.1,376.2 616.6,375.7 617.1,374.9 617.6,373.8 618.1,372.4 618.6,371.0 619.1,369.5 619.6,368.1 620.1,366.5 620.6,364.9 621.1,363.4 621.6,362.1 622.1,361.2 622.6,360.7 623.1,360.3 623.6,359.9 624.1,359.6 624.6,359.1 625.1,358.3 625.6,357.3 626.1,356.3 626.6,355.6 627.1,355.2 627.6,355.2 628.1,355.3 628.6,356.0 629.1,357.3 629.6,358.7 630.1,360.1 630.6,361.1 631.1,361.8 631.6,362.3 632.1,362.8 632.6,363.0 633.1,362.9 633.6,362.9 634.1,362.7 634.6,362.2 635.1,361.4 635.6,360.2 636.1,359.0 636.6,357.9 637.1,356.9 637.6,356.2 638.1,356.1 638.6,356.9 639.1,358.4 639.6,360.2 640.1,362.0 640.6,363.4 641.1,364.2 641.6,364.8 642.1,365.5 642.6,366.3 643.1,367.4 643.6,368.5 644.1,369.4 644.6,370.1 645.1,370.5 645.6,370.7 646.1,371.2 646.6,371.9 647.1,372.9 647.6,374.1 648.1,375.7 648.6,377.2 649.1,378.6 649.6,380.0 650.1,381.6 650.6,383.0 651.1,383.3 651.6,383.5 652.1,383.6 652.6,383.7 653.1,383.8 653.6,384.0 654.1,384.2 654.6,384.1 655.1,383.7 655.6,383.1 656.1,382.4 656.6,381.8 657.1,381.3 657.6,380.8 658.1,380.4 658.6,380.1 659.1,380.0 659.6,380.5 660.1,381.2 660.6,382.0 661.1,382.5 661.6,382.7 662.1,381.8 662.6,380.6 663.1,379.1 663.6,377.5 664.1,375.8 664.6,374.0 665.1,372.2 665.6,370.2 666.1,368.1 666.6,366.2 667.1,364.8 667.6,364.0 668.1,363.4 668.6,362.8 669.1,362.0 669.6,361.2 670.1,360.6 670.6,360.2 671.1,360.1 671.6,360.5 672.1,361.1 672.6,361.7 673.1,362.0 673.6,362.1 674.1,361.9 674.6,361.8 675.1,361.8 675.6,361.6 676.1,361.3 676.6,361.0 677.1,361.2 677.6,361.9 678.1,363.2 678.6,364.6 679.1,365.5 679.6,365.6 680.1,364.9 680.6,363.8 681.1,361.9 681.6,360.3 682.1,359.0 682.6,357.8 683.1,356.6 683.6,355.1 684.1,353.3 684.6,351.2 685.1,349.2 685.6,348.1 686.1,348.0 686.6,348.4 687.1,349.2 687.6,349.8 688.1,349.9 688.6,349.4 689.1,348.7 689.6,348.1 690.1,347.8 690.6,348.0 691.1,348.3 691.6,348.5 692.1,348.7 692.6,348.7 693.1,348.8 693.6,349.2 694.1,350.0 694.6,351.2 695.1,352.3 695.6,352.9 696.1,353.2 696.6,353.1 697.1,353.0 697.6,353.2 698.1,353.9 698.6,355.4 699.1,357.3 699.6,359.3 700.1,361.0 700.6,362.1 701.1,362.8 701.6,363.4 702.1,364.2 702.6,365.1 703.1,365.5 703.6,365.3 704.1,364.8 704.6,364.1 705.1,363.5 705.6,362.7 706.1,361.8 706.6,360.7 707.1,359.8 707.6,359.2 708.1,359.1 708.6,359.3 709.1,359.4 709.6,359.8 710.1,360.3 710.6,360.6 711.1,360.3 711.6,359.6 712.1,359.0 712.6,358.8 713.1,359.3 713.6,360.2 714.1,361.2 714.6,362.0 715.1,362.2 715.6,361.9 716.1,361.3 716.6,360.9 717.1,360.9 717.6,361.2 718.1,361.7 718.6,362.4 719.1,363.1 719.6,363.7 720.1,364.1 720.6,364.5 721.1,365.3 721.6,366.5 722.1,368.2 722.6,370.1 723.1,371.8 723.6,373.0 724.1,373.7 724.6,374.2 725.1,375.0 725.6,376.5 726.1,378.7 726.6,381.3 727.1,383.7 727.6,385.6 728.1,387.2 728.6,388.5 729.1,389.6 729.6,390.5 730.1,391.2 730.6,391.4 731.1,391.2 731.6,390.7 732.1,390.4 732.6,390.5 733.1,392.2 733.6,393.8 734.1,395.2 734.6,396.2 735.1,396.8 735.6,397.0 736.1,396.9 736.6,396.7 737.1,396.9 737.6,397.3 738.1,397.8 738.6,397.9 739.1,398.3 739.6,398.8 740.1,399.2 740.6,398.9 741.1,398.2 741.6,397.3 742.1,396.7 742.6,396.3 743.1,395.8 743.6,395.0 744.1,393.5 744.6,391.7 745.1,390.2 745.6,389.3" stroke="#e377c2" stroke-dasharray="3.2,1.8"/><path d="M96.6,367.5 97.1,366.4 97.6,365.1 98.1,364.0 98.6,363.6 99.1,363.9 99.6,364.6 100.1,365.1 100.6,365.3 101.1,365.6 101.6,365.8 102.1,366.1 102.6,366.5 103.1,367.1 103.6,367.8 104.1,368.6 104.6,369.3 105.1,370.0 105.6,370.6 106.1,371.1 106.6,371.3 107.1,371.3 107.6,371.3 108.1,371.5 108.6,371.9 109.1,372.7 109.6,373.7 110.1,374.9 110.6,376.1 111.1,377.2 111.6,378.0 112.1,378.6 112.6,378.9 113.1,378.9 113.6,378.6 114.1,378.2 114.6,377.7 115.1,377.2 115.6,376.3 116.1,375.3 116.6,374.2 117.1,373.3 117.6,372.7 118.1,372.3 118.6,372.2 119.1,372.2 119.6,372.4 120.1,372.7 120.6,373.1 121.1,373.7 121.6,374.3 122.1,374.9 122.6,375.3 123.1,375.4 123.6,375.3 124.1,375.2 124.6,375.3 125.1,375.7 125.6,376.3 126.1,377.0 126.6,377.6 127.1,377.9 127.6,378.1 128.1,378.0 128.6,377.6 129.1,377.3 129.6,377.0 130.1,376.8 130.6,376.5 131.1,375.9 131.6,375.2 132.1,374.8 132.6,375.0 133.1,375.4 133.6,375.8 134.1,375.8 134.6,375.4 135.1,374.8 135.6,374.3 136.1,373.8 136.6,373.2 137.1,372.4 137.6,371.5 138.1,370.3 138.6,369.1 139.1,367.8 139.6,366.6 140.1,365.5 140.6,364.5 141.1,363.9 141.6,364.6 142.1,365.5 142.6,366.7 143.1,368.2 143.6,370.0 144.1,371.8 144.6,373.6 145.1,375.4 145.6,377.2 146.1,379.0 146.6,380.7 147.1,382.1 147.6,383.1 148.1,383.5 148.6,382.4 149.1,381.2 149.6,379.8 150.1,378.3 150.6,376.7 151.1,375.2 151.6,373.9 152.1,372.9 152.6,371.9 153.1,370.8 153.6,369.3 154.1,367.6 154.6,365.8 155.1,364.1 155.6,362.3 156.1,360.4 156.6,358.4 157.1,356.4 157.6,354.6 158.1,353.0 158.6,351.4 159.1,351.3 159.6,352.8 160.1,355.2 160.6,358.7 161.1,362.6 161.6,366.5 162.1,369.9 162.6,372.7 163.1,374.7 163.6,376.4 164.1,378.1 164.6,380.1 165.1,382.5 165.6,385.0 166.1,387.5 166.6,389.5 167.1,390.8 167.6,390.6 168.1,388.5 168.6,386.5 169.1,384.6 169.6,383.0 170.1,381.4 170.6,379.7 171.1,377.8 171.6,375.7 172.1,373.7 172.6,372.0 173.1,370.1 173.6,368.2 174.1,366.4 174.6,364.7 175.1,363.0 175.6,361.3 176.1,359.3 176.6,358.5 177.1,358.9 177.6,360.0 178.1,361.9 178.6,364.5 179.1,367.5 179.6,370.5 180.1,373.1 180.6,375.5 181.1,378.0 181.6,380.3 182.1,382.2 182.6,383.7 183.1,384.8 183.6,385.5 184.1,385.9 184.6,384.9 185.1,383.2 185.6,381.2 186.1,379.0 186.6,376.8 187.1,375.0 187.6,373.8 188.1,373.2 188.6,372.9 189.1,372.7 189.6,372.4 190.1,371.9 190.6,371.3 191.1,370.4 191.6,369.5 192.1,368.5 192.6,367.3 193.1,365.9 193.6,364.4 194.1,363.3 194.6,363.9 195.1,365.0 195.6,366.6 196.1,368.8 196.6,371.5 197.1,374.6 197.6,378.2 198.1,381.7 198.6,384.4 199.1,385.3 199.6,383.5 200.1,381.7 200.6,380.2 201.1,378.8 201.6,377.2 202.1,375.6 202.6,374.0 203.1,372.6 203.6,371.3 204.1,370.2 204.6,369.0 205.1,367.9 205.6,367.1 206.1,367.3 206.6,368.8 207.1,370.4 207.6,372.0 208.1,373.5 208.6,375.0 209.1,376.6 209.6,378.4 210.1,380.4 210.6,382.6 211.1,384.5 211.6,386.0 212.1,387.1 212.6,388.0 213.1,387.6 213.6,386.8 214.1,385.9 214.6,384.6 215.1,382.9 215.6,380.8 216.1,378.8 216.6,377.0 217.1,375.6 217.6,374.4 218.1,373.5 218.6,372.7 219.1,371.9 219.6,371.2 220.1,370.7 220.6,370.5 221.1,370.5 221.6,370.5 222.1,370.6 222.6,371.0 223.1,371.8 223.6,373.0 224.1,374.1 224.6,374.8 225.1,374.7 225.6,374.1 226.1,373.6 226.6,373.2 227.1,372.9 227.6,372.6 228.1,372.4 228.6,372.2 229.1,372.2 229.6,372.3 230.1,372.4 230.6,372.7 231.1,373.2 231.6,374.0 232.1,374.8 232.6,375.3 233.1,375.2 233.6,374.7 234.1,373.8 234.6,372.6 235.1,371.0 235.6,369.1 236.1,367.0 236.6,364.8 237.1,362.9 237.6,361.3 238.1,361.3 238.6,362.6 239.1,364.5 239.6,366.8 240.1,369.4 240.6,371.9 241.1,374.2 241.6,376.0 242.1,377.5 242.6,378.8 243.1,380.1 243.6,381.5 244.1,382.8 244.6,383.6 245.1,383.6 245.6,383.5 246.1,383.7 246.6,384.2 247.1,384.7 247.6,384.6 248.1,383.8 248.6,382.1 249.1,379.6 249.6,377.4 250.1,376.2 250.6,375.7 251.1,375.6 251.6,375.3 252.1,374.6 252.6,373.7 253.1,373.2 253.6,372.9 254.1,372.7 254.6,372.5 255.1,372.6 255.6,372.7 256.1,373.1 256.6,373.3 257.1,373.5 257.6,373.6 258.1,373.3 258.6,372.5 259.1,371.1 259.6,369.6 260.1,368.5 260.6,368.4 261.1,369.2 261.6,370.5 262.1,371.7 262.6,372.5 263.1,372.7 263.6,372.9 264.1,373.2 264.6,373.6 265.1,373.9 265.6,374.1 266.1,374.0 266.6,373.5 267.1,372.7 267.6,371.2 268.1,369.3 268.6,367.2 269.1,365.2 269.6,363.6 270.1,362.2 270.6,361.0 271.1,360.0 271.6,360.0 272.1,360.4 272.6,360.9 273.1,361.4 273.6,362.4 274.1,363.7 274.6,365.2 275.1,366.6 275.6,367.9 276.1,369.0 276.6,369.9 277.1,370.8 277.6,371.9 278.1,373.3 278.6,375.0 279.1,376.8 279.6,378.6 280.1,380.2 280.6,381.6 281.1,382.9 281.6,384.0 282.1,385.3 282.6,386.7 283.1,388.0 283.6,389.1 284.1,390.0 284.6,390.3 285.1,389.9 285.6,388.7 286.1,386.6 286.6,384.9 287.1,383.6 287.6,382.7 288.1,381.8 288.6,380.7 289.1,379.5 289.6,378.8 290.1,378.7 290.6,379.0 291.1,379.3 291.6,379.4 292.1,379.5 292.6,379.6 293.1,379.5 293.6,379.4 294.1,379.4 294.6,379.5 295.1,379.6 295.6,379.7 296.1,379.5 296.6,379.4 297.1,379.4 297.6,379.6 298.1,379.9 298.6,380.5 299.1,381.1 299.6,381.9 300.1,383.0 300.6,384.2 301.1,385.2 301.6,385.8 302.1,386.1 302.6,386.4 303.1,386.7 303.6,386.9 304.1,386.3 304.6,385.4 305.1,384.2 305.6,382.5 306.1,380.6 306.6,378.6 307.1,377.0 307.6,375.7 308.1,374.6 308.6,373.6 309.1,372.9 309.6,372.4 310.1,372.2 310.6,372.2 311.1,372.7 311.6,373.5 312.1,374.7 312.6,376.6 313.1,379.0 313.6,381.7 314.1,384.2 314.6,386.3 315.1,388.2 315.6,389.9 316.1,391.7 316.6,393.4 317.1,394.9 317.6,395.6 318.1,395.4 318.6,395.2 319.1,395.4 319.6,396.1 320.1,396.8 320.6,397.0 321.1,396.3 321.6,394.9 322.1,393.2 322.6,391.4 323.1,389.2 323.6,387.4 324.1,385.8 324.6,384.1 325.1,382.2 325.6,379.8 326.1,377.3 326.6,374.9 327.1,373.0 327.6,371.8 328.1,371.2 328.6,370.6 329.1,370.0 329.6,369.0 330.1,367.8 330.6,366.5 331.1,365.6 331.6,365.1 332.1,364.7 332.6,364.3 333.1,363.8 333.6,363.5 334.1,363.3 334.6,363.1 335.1,362.9 335.6,362.8 336.1,362.8 336.6,363.0 337.1,363.3 337.6,363.7 338.1,364.5 338.6,365.1 339.1,365.4 339.6,365.4 340.1,365.5 340.6,365.6 341.1,365.2 341.6,363.2 342.1,360.6 342.6,357.7 343.1,354.8 343.6,352.1 344.1,349.8 344.6,348.1 345.1,346.8 345.6,345.5 346.1,343.7 346.6,341.1 347.1,338.1 347.6,335.1 348.1,332.2 348.6,330.4 349.1,329.8 349.6,329.9 350.1,330.9 350.6,331.0 351.1,330.8 351.6,330.9 352.1,331.1 352.6,331.2 353.1,331.0 353.6,330.2 354.1,329.8 354.6,329.2 355.1,328.2 355.6,326.8 356.1,325.6 356.6,324.7 357.1,323.5 357.6,320.9 358.1,317.9 358.6,315.3 359.1,313.4 359.6,312.5 360.1,311.7 360.6,310.6 361.1,309.5 361.6,308.5 362.1,307.6 362.6,306.8 363.1,305.8 363.6,303.8 364.1,301.4 364.6,298.3 365.1,294.5 365.6,290.4 366.1,286.5 366.6,283.0 367.1,279.8 367.6,277.2 368.1,275.0 368.6,272.8 369.1,270.5 369.6,268.1 370.1,265.7 370.6,264.0 371.1,261.8 371.6,259.6 372.1,257.7 372.6,256.4 373.1,254.9 373.6,252.9 374.1,250.2 374.6,247.2 375.1,244.7 375.6,242.6 376.1,240.7 376.6,239.7 377.1,242.1 377.6,244.4 378.1,246.6 378.6,248.7 379.1,250.9 379.6,253.5 380.1,256.5 380.6,259.7 381.1,263.3 381.6,267.7 382.1,272.2 382.6,276.5 383.1,280.6 383.6,284.2 384.1,287.3 384.6,289.8 385.1,291.8 385.6,294.3 386.1,297.3 386.6,300.3 387.1,302.8 387.6,305.1 388.1,307.5 388.6,310.6 389.1,314.1 389.6,317.3 390.1,320.5 390.6,323.3 391.1,325.6 391.6,327.4 392.1,328.8 392.6,329.6 393.1,329.9 393.6,329.7 394.1,329.6 394.6,330.1 395.1,330.9 395.6,331.2 396.1,330.6 396.6,329.2 397.1,328.4 397.6,328.4 398.1,329.1 398.6,329.6 399.1,329.6 399.6,329.5 400.1,329.2 400.6,328.9 401.1,328.3 401.6,327.2 402.1,326.0 402.6,324.9 403.1,324.5 403.6,325.2 404.1,326.6 404.6,328.4 405.1,329.9 405.6,330.8 406.1,331.2 406.6,330.7 407.1,329.4 407.6,327.8 408.1,326.6 408.6,326.2 409.1,326.5 409.6,326.7 410.1,326.6 410.6,326.1 411.1,325.5 411.6,325.1 412.1,325.2 412.6,325.7 413.1,326.3 413.6,327.0 414.1,327.9 414.6,328.9 415.1,330.0 415.6,330.7 416.1,331.1 416.6,331.4 417.1,331.9 417.6,332.5 418.1,332.6 418.6,331.6 419.1,329.1 419.6,325.8 420.1,322.7 420.6,320.9 421.1,321.1 421.6,322.9 422.1,325.2 422.6,327.2 423.1,328.6 423.6,329.8 424.1,330.6 424.6,331.3 425.1,331.8 425.6,332.4 426.1,334.5 426.6,337.0 427.1,339.5 427.6,341.6 428.1,343.4 428.6,345.6 429.1,347.7 429.6,349.3 430.1,349.9 430.6,349.8 431.1,348.9 431.6,348.4 432.1,348.1 432.6,347.8 433.1,347.1 433.6,346.2 434.1,345.2 434.6,344.6 435.1,344.4 435.6,344.4 436.1,344.4 436.6,344.5 437.1,344.3 437.6,343.9 438.1,343.3 438.6,342.3 439.1,340.9 439.6,339.1 440.1,337.6 440.6,337.1 441.1,337.8 441.6,339.4 442.1,341.0 442.6,342.2 443.1,342.9 443.6,343.3 444.1,343.5 444.6,343.6 445.1,343.6 445.6,343.6 446.1,343.4 446.6,343.2 447.1,343.1 447.6,343.2 448.1,343.7 448.6,344.4 449.1,345.2 449.6,346.0 450.1,346.8 450.6,347.6 451.1,348.0 451.6,348.1 452.1,347.9 452.6,347.5 453.1,346.9 453.6,346.3 454.1,345.6 454.6,345.2 455.1,345.0 455.6,345.1 456.1,345.3 456.6,345.6 457.1,345.9 457.6,346.4 458.1,347.0 458.6,347.6 459.1,348.0 459.6,348.1 460.1,347.9 460.6,347.5 461.1,347.2 461.6,347.0 462.1,346.7 462.6,346.2 463.1,345.5 463.6,344.8 464.1,344.0 464.6,343.5 465.1,343.6 465.6,344.2 466.1,345.5 466.6,346.8 467.1,347.6 467.6,347.6 468.1,346.8 468.6,345.6 469.1,344.5 469.6,344.1 470.1,344.3 470.6,344.5 471.1,344.6 471.6,344.8 472.1,345.3 472.6,345.9 473.1,346.2 473.6,346.0 474.1,345.4 474.6,344.8 475.1,344.6 475.6,344.8 476.1,343.5 476.6,341.6 477.1,339.0 477.6,336.5 478.1,335.0 478.6,334.0 479.1,333.7 479.6,334.1 480.1,335.0 480.6,336.0 481.1,336.5 481.6,336.5 482.1,336.3 482.6,336.0 483.1,335.5 483.6,334.9 484.1,334.4 484.6,334.1 485.1,334.2 485.6,334.4 486.1,334.7 486.6,335.0 487.1,335.6 487.6,336.8 488.1,338.7 488.6,340.6 489.1,342.2 489.6,343.8 490.1,346.8 490.6,350.5 491.1,354.2 491.6,356.8 492.1,357.8 492.6,358.3 493.1,358.4 493.6,358.3 494.1,358.5 494.6,359.0 495.1,359.4 495.6,359.8 496.1,359.8 496.6,359.6 497.1,359.1 497.6,358.5 498.1,357.9 498.6,357.3 499.1,357.2 499.6,357.3 500.1,357.5 500.6,357.5 501.1,357.3 501.6,356.9 502.1,356.3 502.6,355.8 503.1,355.5 503.6,355.3 504.1,355.1 504.6,355.0 505.1,355.3 505.6,355.9 506.1,356.9 506.6,358.0 507.1,359.0 507.6,359.8 508.1,360.5 508.6,361.1 509.1,361.6 509.6,362.0 510.1,362.3 510.6,362.7 511.1,363.2 511.6,364.0 512.1,364.7 512.6,365.2 513.1,365.3 513.6,365.0 514.1,364.5 514.6,364.3 515.1,364.5 515.6,365.0 516.1,365.2 516.6,364.9 517.1,364.3 517.6,363.6 518.1,363.4 518.6,363.7 519.1,364.4 519.6,364.9 520.1,365.2 520.6,365.3 521.1,365.4 521.6,365.7 522.1,366.1 522.6,366.5 523.1,366.9 523.6,367.5 524.1,368.1 524.6,368.5 525.1,368.7 525.6,368.6 526.1,368.5 526.6,368.6 527.1,369.0 527.6,369.9 528.1,370.7 528.6,371.3 529.1,371.3 529.6,371.1 530.1,371.1 530.6,371.3 531.1,371.6 531.6,371.8 532.1,371.8 532.6,371.8 533.1,371.7 533.6,371.7 534.1,371.7 534.6,371.7 535.1,371.8 535.6,371.9 536.1,372.1 536.6,372.3 537.1,372.5 537.6,372.6 538.1,372.9 538.6,373.2 539.1,373.7 539.6,374.3 540.1,374.9 540.6,375.5 541.1,376.1 541.6,376.6 542.1,377.3 542.6,378.2 543.1,379.4 543.6,380.7 544.1,381.9 544.6,382.8 545.1,382.5 545.6,381.6 546.1,380.4 546.6,379.1 547.1,378.0 547.6,377.3 548.1,376.9 548.6,376.6 549.1,376.0 549.6,375.2 550.1,374.4 550.6,373.8 551.1,373.3 551.6,373.0 552.1,372.7 552.6,372.3 553.1,371.7 553.6,371.0 554.1,370.4 554.6,370.2 555.1,370.4 555.6,370.9 556.1,371.6 556.6,372.3 557.1,373.2 557.6,373.9 558.1,374.5 558.6,374.8 559.1,375.1 559.6,375.2 560.1,375.3 560.6,375.4 561.1,375.4 561.6,375.3 562.1,375.2 562.6,375.2 563.1,375.3 563.6,375.4 564.1,375.5 564.6,375.7 565.1,375.6 565.6,375.5 566.1,375.3 566.6,375.3 567.1,375.5 567.6,375.8 568.1,375.9 568.6,375.9 569.1,375.7 569.6,375.5 570.1,375.2 570.6,374.9 571.1,374.4 571.6,373.6 572.1,372.7 572.6,371.9 573.1,371.3 573.6,370.7 574.1,370.0 574.6,369.4 575.1,368.9 575.6,368.8 576.1,369.2 576.6,370.2 577.1,371.3 577.6,372.3 578.1,373.1 578.6,373.6 579.1,373.9 579.6,374.0 580.1,373.7 580.6,373.0 581.1,371.9 581.6,370.6 582.1,369.7 582.6,369.6 583.1,370.0 583.6,370.7 584.1,371.3 584.6,371.8 585.1,372.0 585.6,372.1 586.1,372.3 586.6,372.7 587.1,373.2 587.6,373.7 588.1,374.1 588.6,374.4 589.1,374.9 589.6,375.8 590.1,377.1 590.6,378.8 591.1,380.5 591.6,381.8 592.1,382.5 592.6,382.6 593.1,382.1 593.6,381.3 594.1,380.8 594.6,380.8 595.1,381.0 595.6,380.9 596.1,380.5 596.6,380.2 597.1,380.1 597.6,380.1 598.1,380.2 598.6,380.0 599.1,379.8 599.6,379.6 600.1,379.5 600.6,379.6 601.1,379.6 601.6,379.8 602.1,379.9 602.6,380.1 603.1,380.0 603.6,379.4 604.1,378.5 604.6,377.6 605.1,376.6 605.6,375.8 606.1,375.3 606.6,375.2 607.1,375.4 607.6,375.6 608.1,375.3 608.6,374.6 609.1,373.9 609.6,373.6 610.1,373.8 610.6,374.3 611.1,374.7 611.6,374.9 612.1,374.8 612.6,374.4 613.1,374.0 613.6,373.7 614.1,373.7 614.6,373.9 615.1,374.3 615.6,374.6 616.1,374.7 616.6,374.3 617.1,373.5 617.6,372.6 618.1,371.6 618.6,370.7 619.1,369.9 619.6,368.9 620.1,367.7 620.6,366.3 621.1,364.8 621.6,363.3 622.1,362.1 622.6,361.2 623.1,360.6 623.6,359.9 624.1,359.6 624.6,359.5 625.1,359.4 625.6,359.1 626.1,358.6 626.6,357.8 627.1,357.0 627.6,356.3 628.1,355.9 628.6,356.3 629.1,357.5 629.6,358.9 630.1,360.2 630.6,361.2 631.1,361.8 631.6,362.2 632.1,362.5 632.6,362.5 633.1,362.1 633.6,361.9 634.1,361.7 634.6,361.4 635.1,360.8 635.6,360.1 636.1,359.2 636.6,358.3 637.1,357.3 637.6,356.5 638.1,356.5 638.6,357.6 639.1,359.4 639.6,361.4 640.1,363.2 640.6,364.3 641.1,364.9 641.6,365.4 642.1,366.1 642.6,367.1 643.1,368.2 643.6,369.2 644.1,370.0 644.6,370.5 645.1,370.8 645.6,371.1 646.1,371.5 646.6,372.1 647.1,372.6 647.6,373.2 648.1,374.1 648.6,375.0 649.1,376.1 649.6,377.2 650.1,378.3 650.6,379.1 651.1,379.2 651.6,379.3 652.1,379.6 652.6,380.1 653.1,380.7 653.6,381.2 654.1,381.6 654.6,381.6 655.1,381.3 655.6,380.8 656.1,380.5 656.6,380.4 657.1,380.4 657.6,380.3 658.1,380.0 658.6,379.6 659.1,379.4 659.6,379.6 660.1,380.3 660.6,381.0 661.1,381.5 661.6,381.6 662.1,380.7 662.6,379.4 663.1,378.1 663.6,376.7 664.1,375.2 664.6,373.7 665.1,372.0 665.6,370.1 666.1,368.1 666.6,366.2 667.1,364.3 667.6,362.7 668.1,361.5 668.6,360.7 669.1,360.0 669.6,359.4 670.1,359.1 670.6,358.5 671.1,357.8 671.6,357.5 672.1,357.6 672.6,358.1 673.1,358.6 673.6,359.0 674.1,358.9 674.6,358.9 675.1,358.8 675.6,358.7 676.1,358.5 676.6,358.4 677.1,358.6 677.6,359.3 678.1,360.6 678.6,361.9 679.1,362.9 679.6,363.0 680.1,362.4 680.6,361.5 681.1,359.9 681.6,358.7 682.1,357.9 682.6,357.2 683.1,356.4 683.6,355.2 684.1,353.5 684.6,351.2 685.1,348.8 685.6,347.1 686.1,346.7 686.6,347.2 687.1,348.5 687.6,349.7 688.1,350.1 688.6,349.7 689.1,348.9 689.6,348.3 690.1,348.2 690.6,348.3 691.1,348.3 691.6,348.2 692.1,347.9 692.6,347.8 693.1,347.8 693.6,348.0 694.1,348.5 694.6,349.3 695.1,350.0 695.6,350.3 696.1,350.3 696.6,349.8 697.1,349.5 697.6,349.8 698.1,350.8 698.6,352.6 699.1,354.8 699.6,356.9 700.1,358.4 700.6,359.3 701.1,359.7 701.6,360.2 702.1,361.0 702.6,362.0 703.1,362.2 703.6,361.8 704.1,361.1 704.6,360.3 705.1,359.5 705.6,358.5 706.1,357.3 706.6,355.9 707.1,354.6 707.6,353.7 708.1,353.2 708.6,353.0 709.1,352.9 709.6,353.0 710.1,353.4 710.6,353.8 711.1,353.9 711.6,353.8 712.1,353.6 712.6,353.7 713.1,353.9 713.6,354.3 714.1,354.8 714.6,355.1 715.1,355.2 715.6,354.8 716.1,354.2 716.6,353.7 717.1,353.6 717.6,353.9 718.1,354.3 718.6,354.8 719.1,355.3 719.6,355.7 720.1,355.9 720.6,356.3 721.1,357.1 721.6,358.3 722.1,360.0 722.6,361.8 723.1,363.5 723.6,365.0 724.1,366.1 724.6,367.0 725.1,368.0 725.6,369.4 726.1,371.5 726.6,373.9 727.1,376.4 727.6,378.7 728.1,380.7 728.6,382.5 729.1,384.1 729.6,385.5 730.1,386.8 730.6,387.5 731.1,387.7 731.6,387.6 732.1,387.7 732.6,388.2 733.1,389.9 733.6,391.4 734.1,392.6 734.6,393.6 735.1,394.2 735.6,394.6 736.1,394.5 736.6,394.3 737.1,394.3 737.6,394.7 738.1,395.1 738.6,395.2 739.1,395.4 739.6,395.7 740.1,395.8 740.6,395.4 741.1,394.6 741.6,393.7 742.1,393.0 742.6,392.6 743.1,392.2 743.6,391.4 744.1,389.8 744.6,387.6 745.1,385.6 745.6,384.2" stroke="#e377c2" stroke-dasharray="3.2,1.8"/><path d="M96.6,368.1 97.1,366.8 97.6,365.5 98.1,364.6 98.6,364.4 99.1,364.9 99.6,365.7 100.1,366.3 100.6,366.5 101.1,366.6 101.6,366.6 102.1,366.5 102.6,366.4 103.1,366.6 103.6,367.3 104.1,368.2 104.6,369.1 105.1,369.6 105.6,369.9 106.1,370.1 106.6,370.4 107.1,370.7 107.6,371.2 108.1,371.5 108.6,371.9 109.1,372.3 109.6,372.8 110.1,373.5 110.6,374.4 111.1,375.2 111.6,376.0 112.1,376.7 112.6,377.1 113.1,377.0 113.6,376.3 114.1,375.2 114.6,374.0 115.1,373.0 115.6,372.3 116.1,371.7 116.6,371.2 117.1,370.9 117.6,371.0 118.1,371.4 118.6,371.8 119.1,372.1 119.6,372.5 120.1,372.8 120.6,373.0 121.1,373.4 121.6,374.0 122.1,374.8 122.6,375.5 123.1,376.1 123.6,376.5 124.1,376.9 124.6,377.1 125.1,377.4 125.6,377.9 126.1,378.5 126.6,379.2 127.1,379.8 127.6,380.4 128.1,380.6 128.6,380.4 129.1,380.2 129.6,380.2 130.1,380.1 130.6,379.9 131.1,379.3 131.6,378.6 132.1,378.2 132.6,378.2 133.1,378.2 133.6,378.1 134.1,377.7 134.6,377.0 135.1,376.3 135.6,375.7 136.1,375.0 136.6,374.2 137.1,373.1 137.6,371.6 138.1,369.8 138.6,368.1 139.1,366.6 139.6,365.4 140.1,364.5 140.6,363.6 141.1,363.1 141.6,364.1 142.1,365.3 142.6,366.8 143.1,368.4 143.6,370.0 144.1,371.6 144.6,373.3 145.1,375.3 145.6,377.7 146.1,380.0 146.6,381.9 147.1,383.1 147.6,383.7 148.1,383.8 148.6,382.6 149.1,381.4 149.6,380.1 150.1,378.6 150.6,377.2 151.1,375.9 151.6,374.8 152.1,373.8 152.6,372.8 153.1,371.6 153.6,370.1 154.1,368.3 154.6,366.4 155.1,364.5 155.6,362.6 156.1,360.7 156.6,358.9 157.1,357.4 157.6,356.0 158.1,354.6 158.6,352.7 159.1,351.6 159.6,351.9 160.1,353.3 160.6,356.2 161.1,360.3 161.6,364.7 162.1,368.8 162.6,372.3 163.1,375.0 163.6,377.4 164.1,379.7 164.6,382.2 165.1,385.0 165.6,388.1 166.1,391.1 166.6,393.7 167.1,395.4 167.6,395.1 168.1,392.7 168.6,390.2 169.1,388.0 169.6,385.8 170.1,383.6 170.6,381.3 171.1,378.8 171.6,376.2 172.1,373.9 172.6,371.9 173.1,369.7 173.6,367.5 174.1,365.4 174.6,363.7 175.1,362.1 175.6,360.5 176.1,358.8 176.6,358.3 177.1,359.0 177.6,360.3 178.1,362.2 178.6,364.6 179.1,367.4 179.6,370.2 180.1,372.7 180.6,374.9 181.1,377.1 181.6,379.1 182.1,380.6 182.6,381.6 183.1,382.2 183.6,382.5 184.1,382.5 184.6,381.3 185.1,379.8 185.6,378.1 186.1,376.4 186.6,374.8 187.1,373.6 187.6,372.9 188.1,372.7 188.6,372.9 189.1,373.0 189.6,373.1 190.1,373.1 190.6,372.8 191.1,372.5 191.6,372.1 192.1,371.5 192.6,370.7 193.1,369.5 193.6,368.1 194.1,367.0 194.6,367.1 195.1,367.6 195.6,368.6 196.1,370.1 196.6,372.2 197.1,374.8 197.6,378.2 198.1,381.9 198.6,385.1 199.1,386.6 199.6,385.2 200.1,383.5 200.6,381.8 201.1,380.1 201.6,378.2 202.1,376.5 202.6,375.0 203.1,373.8 203.6,372.7 204.1,371.2 204.6,369.3 205.1,367.3 205.6,365.7 206.1,365.6 206.6,367.3 207.1,369.4 207.6,371.5 208.1,373.4 208.6,375.3 209.1,377.4 209.6,379.8 210.1,382.2 210.6,384.6 211.1,386.7 211.6,388.4 212.1,389.6 212.6,390.7 213.1,390.1 213.6,389.0 214.1,387.8 214.6,386.2 215.1,384.2 215.6,382.0 216.1,379.7 216.6,377.6 217.1,375.6 217.6,373.9 218.1,372.6 218.6,371.7 219.1,371.0 219.6,370.4 220.1,370.0 220.6,369.6 221.1,369.2 221.6,368.9 222.1,368.8 222.6,369.1 223.1,369.9 223.6,371.1 224.1,372.2 224.6,372.6 225.1,372.6 225.6,372.4 226.1,372.4 226.6,372.6 227.1,372.9 227.6,373.3 228.1,373.5 228.6,373.6 229.1,373.8 229.6,374.0 230.1,374.4 230.6,374.9 231.1,375.6 231.6,376.6 232.1,377.0 232.6,377.1 233.1,376.6 233.6,375.6 234.1,374.3 234.6,372.8 235.1,370.8 235.6,368.4 236.1,365.8 236.6,363.1 237.1,360.9 237.6,359.3 238.1,359.7 238.6,361.6 239.1,363.7 239.6,366.2 240.1,368.8 240.6,371.5 241.1,373.7 241.6,375.5 242.1,377.2 242.6,378.8 243.1,380.6 243.6,382.5 244.1,384.1 244.6,385.1 245.1,385.0 245.6,385.0 246.1,385.3 246.6,385.9 247.1,386.6 247.6,386.8 248.1,386.1 248.6,384.6 249.1,382.1 249.6,379.9 250.1,378.4 250.6,377.6 251.1,376.9 251.6,376.2 252.1,375.3 252.6,374.4 253.1,373.6 253.6,373.0 254.1,372.2 254.6,371.5 255.1,370.8 255.6,370.4 256.1,369.9 256.6,369.4 257.1,368.6 257.6,367.9 258.1,367.1 258.6,366.1 259.1,365.6 259.6,365.1 260.1,364.9 260.6,365.5 261.1,367.0 261.6,369.1 262.1,371.2 262.6,372.6 263.1,373.1 263.6,373.4 264.1,373.7 264.6,374.2 265.1,374.9 265.6,375.4 266.1,375.7 266.6,375.4 267.1,374.5 267.6,373.0 268.1,371.0 268.6,369.1 269.1,367.4 269.6,366.2 270.1,365.2 270.6,364.2 271.1,363.3 271.6,363.1 272.1,363.1 272.6,363.0 273.1,363.0 273.6,363.5 274.1,364.6 274.6,366.1 275.1,367.6 275.6,368.9 276.1,370.0 276.6,370.9 277.1,371.7 277.6,372.6 278.1,373.6 278.6,374.8 279.1,376.1 279.6,377.6 280.1,379.1 280.6,380.5 281.1,381.7 281.6,382.8 282.1,383.9 282.6,384.9 283.1,385.9 283.6,386.8 284.1,387.2 284.6,387.0 285.1,386.0 285.6,384.2 286.1,381.9 286.6,380.1 287.1,378.9 287.6,377.9 288.1,376.9 288.6,375.7 289.1,374.7 289.6,374.2 290.1,374.3 290.6,374.6 291.1,374.7 291.6,374.7 292.1,374.5 292.6,374.4 293.1,374.2 293.6,374.1 294.1,374.4 294.6,375.0 295.1,376.0 295.6,376.8 296.1,377.2 296.6,377.2 297.1,376.9 297.6,376.7 298.1,376.7 298.6,377.0 299.1,377.5 299.6,378.1 300.1,378.9 300.6,379.7 301.1,380.4 301.6,381.0 302.1,381.5 302.6,381.9 303.1,382.2 303.6,382.2 304.1,381.4 304.6,380.4 305.1,379.2 305.6,377.8 306.1,376.3 306.6,374.9 307.1,373.7 307.6,372.9 308.1,372.3 308.6,372.1 309.1,372.1 309.6,372.5 310.1,373.1 310.6,373.7 311.1,374.4 311.6,375.5 312.1,377.0 312.6,379.1 313.1,381.7 313.6,384.2 314.1,386.3 314.6,388.0 315.1,389.5 315.6,391.2 316.1,393.0 316.6,394.6 317.1,395.9 317.6,396.3 318.1,395.6 318.6,395.1 319.1,395.2 319.6,395.8 320.1,396.5 320.6,396.7 321.1,395.7 321.6,394.0 322.1,392.1 322.6,390.2 323.1,388.0 323.6,386.2 324.1,384.7 324.6,383.3 325.1,381.8 325.6,379.8 326.1,377.5 326.6,375.2 327.1,373.3 327.6,371.9 328.1,370.9 328.6,370.2 329.1,369.6 329.6,368.8 330.1,368.0 330.6,367.1 331.1,366.3 331.6,365.6 332.1,365.2 332.6,364.7 333.1,364.3 333.6,364.1 334.1,363.8 334.6,363.5 335.1,363.1 335.6,362.9 336.1,362.8 336.6,362.9 337.1,363.0 337.6,363.4 338.1,364.2 338.6,365.0 339.1,365.5 339.6,365.8 340.1,366.2 340.6,366.5 341.1,366.2 341.6,364.2 342.1,361.5 342.6,358.5 343.1,355.4 343.6,352.6 344.1,350.4 344.6,348.8 345.1,347.6 345.6,346.3 346.1,344.4 346.6,341.8 347.1,338.6 347.6,335.3 348.1,331.9 348.6,329.5 349.1,328.3 349.6,328.2 350.1,329.1 350.6,329.2 351.1,328.9 351.6,329.0 352.1,329.3 352.6,329.7 353.1,329.8 353.6,329.2 354.1,328.9 354.6,328.4 355.1,327.5 355.6,326.1 356.1,324.7 356.6,323.5 357.1,322.0 357.6,319.1 358.1,316.0 358.6,313.3 359.1,311.6 359.6,310.9 360.1,310.3 360.6,309.4 361.1,308.2 361.6,307.1 362.1,305.9 362.6,305.0 363.1,304.0 363.6,301.9 364.1,299.3 364.6,295.9 365.1,292.0 365.6,288.0 366.1,284.4 366.6,281.2 367.1,278.0 367.6,275.2 368.1,272.6 368.6,270.0 369.1,267.3 369.6,264.4 370.1,261.5 370.6,259.5 371.1,257.1 371.6,254.7 372.1,252.6 372.6,251.0 373.1,249.1 373.6,246.7 374.1,243.6 374.6,240.8 375.1,238.8 375.6,237.6 376.1,236.5 376.6,235.9 377.1,238.5 377.6,240.7 378.1,242.7 378.6,244.8 379.1,247.2 379.6,249.9 380.1,252.9 380.6,256.1 381.1,259.6 381.6,264.0 382.1,268.6 382.6,273.1 383.1,277.2 383.6,280.7 384.1,283.7 384.6,286.3 385.1,288.5 385.6,291.3 386.1,294.7 386.6,297.9 387.1,300.6 387.6,302.8 388.1,305.1 388.6,308.1 389.1,311.7 389.6,314.9 390.1,318.1 390.6,320.7 391.1,322.7 391.6,324.4 392.1,325.8 392.6,326.6 393.1,327.0 393.6,326.9 394.1,326.9 394.6,327.6 395.1,328.6 395.6,329.2 396.1,328.7 396.6,327.3 397.1,326.1 397.6,325.9 398.1,326.6 398.6,327.5 399.1,328.2 399.6,328.5 400.1,328.4 400.6,327.8 401.1,326.8 401.6,325.5 402.1,324.1 402.6,323.1 403.1,322.5 403.6,322.6 404.1,323.4 404.6,324.6 405.1,325.7 405.6,326.6 406.1,327.1 406.6,327.0 407.1,326.4 407.6,325.5 408.1,325.0 408.6,325.2 409.1,325.8 409.6,326.2 410.1,325.9 410.6,325.2 411.1,324.3 411.6,323.6 412.1,323.3 412.6,323.4 413.1,323.7 413.6,324.4 414.1,325.4 414.6,326.8 415.1,328.3 415.6,329.2 416.1,329.6 416.6,329.8 417.1,330.0 417.6,330.3 418.1,330.2 418.6,329.0 419.1,326.6 419.6,323.4 420.1,320.2 420.6,318.2 421.1,317.9 421.6,319.3 422.1,321.4 422.6,323.5 423.1,325.3 423.6,327.0 424.1,328.5 424.6,329.6 425.1,330.3 425.6,330.8 426.1,332.7 426.6,334.9 427.1,337.1 427.6,338.9 428.1,340.3 428.6,342.2 429.1,344.3 429.6,346.1 430.1,347.1 430.6,347.3 431.1,346.7 431.6,346.4 432.1,346.6 432.6,346.8 433.1,346.8 433.6,346.5 434.1,346.1 434.6,345.6 435.1,345.1 435.6,344.6 436.1,344.4 436.6,344.3 437.1,344.1 437.6,343.8 438.1,343.1 438.6,342.2 439.1,340.8 439.6,339.0 440.1,337.3 440.6,336.6 441.1,337.2 441.6,338.9 442.1,340.8 442.6,342.3 443.1,343.3 443.6,343.7 444.1,344.0 444.6,344.1 445.1,344.3 445.6,344.2 446.1,343.8 446.6,343.2 447.1,342.7 447.6,342.7 448.1,343.2 448.6,344.0 449.1,344.7 449.6,345.2 450.1,345.6 450.6,345.8 451.1,345.9 451.6,345.7 452.1,345.3 452.6,344.7 453.1,344.1 453.6,343.7 454.1,343.7 454.6,343.9 455.1,344.5 455.6,345.1 456.1,345.6 456.6,346.0 457.1,346.1 457.6,346.1 458.1,346.0 458.6,345.8 459.1,345.7 459.6,345.5 460.1,345.1 460.6,344.8 461.1,344.5 461.6,344.6 462.1,344.9 462.6,345.1 463.1,345.0 463.6,344.4 464.1,343.7 464.6,343.0 465.1,342.7 465.6,343.1 466.1,344.1 466.6,345.1 467.1,345.7 467.6,345.5 468.1,344.6 468.6,343.6 469.1,343.0 469.6,343.2 470.1,343.8 470.6,344.5 471.1,344.8 471.6,345.2 472.1,345.7 472.6,346.2 473.1,346.4 473.6,346.0 474.1,345.3 474.6,344.6 475.1,344.3 475.6,344.1 476.1,342.5 476.6,340.2 477.1,337.7 477.6,335.4 478.1,334.0 478.6,332.7 479.1,332.2 479.6,332.2 480.1,332.7 480.6,333.5 481.1,333.8 481.6,333.8 482.1,333.6 482.6,333.3 483.1,333.0 483.6,332.6 484.1,332.1 484.6,331.6 485.1,331.4 485.6,331.5 486.1,331.9 486.6,332.5 487.1,333.6 487.6,335.2 488.1,337.4 488.6,339.4 489.1,341.0 489.6,342.5 490.1,345.5 490.6,349.2 491.1,353.1 491.6,355.8 492.1,356.6 492.6,357.1 493.1,357.2 493.6,357.2 494.1,357.4 494.6,357.9 495.1,358.2 495.6,358.5 496.1,358.8 496.6,358.9 497.1,358.8 497.6,358.5 498.1,358.1 498.6,357.5 499.1,357.1 499.6,356.7 500.1,356.5 500.6,356.3 501.1,356.2 501.6,356.1 502.1,355.8 502.6,355.5 503.1,355.4 503.6,355.5 504.1,355.7 504.6,355.8 505.1,356.0 505.6,356.3 506.1,356.9 506.6,357.6 507.1,358.3 507.6,359.0 508.1,359.6 508.6,360.3 509.1,361.1 509.6,361.7 510.1,362.1 510.6,362.2 511.1,362.2 511.6,362.4 512.1,362.6 512.6,363.1 513.1,363.3 513.6,363.3 514.1,363.0 514.6,362.8 515.1,362.9 515.6,363.4 516.1,363.9 516.6,364.0 517.1,363.4 517.6,362.3 518.1,361.2 518.6,360.6 519.1,360.5 519.6,360.7 520.1,361.2 520.6,361.5 521.1,361.9 521.6,362.3 522.1,362.6 522.6,362.9 523.1,363.2 523.6,363.7 524.1,364.2 524.6,364.6 525.1,364.9 525.6,365.2 526.1,365.6 526.6,366.0 527.1,366.6 527.6,367.3 528.1,367.8 528.6,368.2 529.1,368.4 529.6,368.5 530.1,368.7 530.6,369.2 531.1,369.5 531.6,369.6 532.1,369.6 532.6,369.4 533.1,369.3 533.6,369.3 534.1,369.6 534.6,370.1 535.1,370.8 535.6,371.5 536.1,371.9 536.6,372.2 537.1,372.5 537.6,372.9 538.1,373.5 538.6,374.2 539.1,375.0 539.6,375.9 540.1,377.0 540.6,378.2 541.1,379.3 541.6,380.2 542.1,380.9 542.6,381.7 543.1,382.8 543.6,384.1 544.1,385.3 544.6,386.3 545.1,386.0 545.6,385.1 546.1,383.9 546.6,382.7 547.1,381.6 547.6,380.7 548.1,379.8 548.6,378.9 549.1,378.0 549.6,377.2 550.1,376.6 550.6,376.2 551.1,375.9 551.6,375.5 552.1,375.2 552.6,374.7 553.1,374.2 553.6,373.5 554.1,372.7 554.6,372.1 555.1,371.7 555.6,371.5 556.1,371.6 556.6,371.9 557.1,372.5 557.6,373.2 558.1,373.7 558.6,374.0 559.1,374.2 559.6,374.2 560.1,374.3 560.6,374.4 561.1,374.3 561.6,374.2 562.1,374.1 562.6,374.1 563.1,374.2 563.6,374.3 564.1,374.4 564.6,374.6 565.1,374.7 565.6,374.7 566.1,374.5 566.6,374.4 567.1,374.2 567.6,374.2 568.1,374.2 568.6,374.4 569.1,374.5 569.6,374.7 570.1,374.6 570.6,374.5 571.1,374.1 571.6,373.6 572.1,373.1 572.6,372.7 573.1,372.4 573.6,372.2 574.1,371.8 574.6,371.4 575.1,371.2 575.6,371.3 576.1,372.0 576.6,373.3 577.1,374.9 577.6,376.2 578.1,376.9 578.6,377.3 579.1,377.5 579.6,377.7 580.1,377.5 580.6,377.0 581.1,376.0 581.6,374.9 582.1,373.8 582.6,373.0 583.1,372.7 583.6,372.9 584.1,373.3 584.6,373.6 585.1,373.8 585.6,373.8 586.1,373.6 586.6,373.4 587.1,373.3 587.6,373.3 588.1,373.3 588.6,373.5 589.1,373.8 589.6,374.4 590.1,375.4 590.6,376.6 591.1,377.7 591.6,378.6 592.1,379.1 592.6,379.3 593.1,379.1 593.6,378.6 594.1,378.3 594.6,378.1 595.1,377.8 595.6,377.3 596.1,376.6 596.6,375.9 597.1,375.5 597.6,375.4 598.1,375.4 598.6,375.3 599.1,375.1 599.6,374.8 600.1,374.5 600.6,374.5 601.1,374.7 601.6,375.1 602.1,375.6 602.6,375.8 603.1,375.7 603.6,375.3 604.1,374.5 604.6,373.6 605.1,372.7 605.6,372.2 606.1,372.1 606.6,372.4 607.1,372.9 607.6,373.2 608.1,373.1 608.6,372.6 609.1,371.9 609.6,371.4 610.1,371.2 610.6,371.5 611.1,371.9 611.6,372.3 612.1,372.4 612.6,372.3 613.1,372.3 613.6,372.5 614.1,372.8 614.6,373.2 615.1,373.6 615.6,374.0 616.1,374.2 616.6,374.3 617.1,374.0 617.6,373.5 618.1,372.8 618.6,372.2 619.1,371.6 619.6,370.9 620.1,370.0 620.6,368.9 621.1,367.7 621.6,366.6 622.1,365.8 622.6,365.2 623.1,364.6 623.6,363.8 624.1,363.2 624.6,362.7 625.1,362.1 625.6,361.5 626.1,360.6 626.6,359.8 627.1,359.0 627.6,358.5 628.1,358.3 628.6,358.5 629.1,359.2 629.6,360.1 630.1,360.9 630.6,361.7 631.1,362.4 631.6,363.0 632.1,363.7 632.6,363.9 633.1,363.6 633.6,363.3 634.1,363.0 634.6,362.7 635.1,362.4 635.6,361.8 636.1,360.9 636.6,359.8 637.1,358.8 637.6,358.1 638.1,358.1 638.6,359.3 639.1,361.1 639.6,363.2 640.1,365.1 640.6,366.3 641.1,366.8 641.6,367.1 642.1,367.4 642.6,368.0 643.1,368.7 643.6,369.5 644.1,370.3 644.6,371.1 645.1,371.8 645.6,372.5 646.1,373.1 646.6,373.8 647.1,374.3 647.6,374.6 648.1,375.0 648.6,375.0 649.1,375.0 649.6,375.0 650.1,375.1 650.6,375.3 651.1,375.2 651.6,375.3 652.1,375.6 652.6,376.0 653.1,376.5 653.6,377.1 654.1,377.7 654.6,378.3 655.1,378.5 655.6,378.4 656.1,378.2 656.6,378.0 657.1,377.7 657.6,377.3 658.1,376.8 658.6,376.3 659.1,376.3 659.6,376.8 660.1,377.8 660.6,378.8 661.1,379.7 661.6,380.3 662.1,380.0 662.6,379.3 663.1,378.2 663.6,377.0 664.1,375.8 664.6,374.4 665.1,372.7 665.6,370.6 666.1,368.1 666.6,365.5 667.1,363.1 667.6,361.0 668.1,359.4 668.6,358.2 669.1,357.2 669.6,356.4 670.1,356.2 670.6,355.9 671.1,355.8 671.6,355.9 672.1,356.3 672.6,356.9 673.1,357.3 673.6,357.2 674.1,356.8 674.6,356.4 675.1,356.4 675.6,356.6 676.1,356.7 676.6,357.0 677.1,357.6 677.6,358.7 678.1,360.1 678.6,361.3 679.1,361.9 679.6,362.0 680.1,361.6 680.6,361.2 681.1,360.2 681.6,359.4 682.1,358.7 682.6,357.8 683.1,356.8 683.6,355.5 684.1,353.8 684.6,351.8 685.1,349.7 685.6,348.4 686.1,348.1 686.6,348.8 687.1,350.1 687.6,351.5 688.1,352.1 688.6,351.7 689.1,350.7 689.6,349.7 690.1,348.9 690.6,348.4 691.1,347.9 691.6,347.3 692.1,346.8 692.6,346.4 693.1,346.3 693.6,346.7 694.1,347.5 694.6,348.5 695.1,349.5 695.6,349.8 696.1,349.6 696.6,348.9 697.1,348.3 697.6,348.3 698.1,349.0 698.6,350.4 699.1,352.6 699.6,354.9 700.1,356.8 700.6,357.8 701.1,358.1 701.6,358.2 702.1,358.5 702.6,359.1 703.1,359.2 703.6,358.7 704.1,358.2 704.6,357.6 705.1,356.9 705.6,355.8 706.1,354.4 706.6,352.8 707.1,351.3 707.6,350.2 708.1,349.5 708.6,349.2 709.1,349.0 709.6,349.0 710.1,349.4 710.6,349.8 711.1,349.8 711.6,349.6 712.1,349.2 712.6,349.0 713.1,349.0 713.6,349.4 714.1,349.9 714.6,350.4 715.1,350.4 715.6,350.0 716.1,349.0 716.6,348.0 717.1,347.4 717.6,347.5 718.1,348.0 718.6,348.8 719.1,349.7 719.6,350.6 720.1,351.1 720.6,351.3 721.1,351.6 721.6,352.3 722.1,353.5 722.6,355.3 723.1,357.1 723.6,358.6 724.1,359.7 724.6,360.5 725.1,361.3 725.6,362.6 726.1,364.3 726.6,366.4 727.1,368.6 727.6,370.7 728.1,372.8 728.6,374.9 729.1,376.9 729.6,378.8 730.1,380.4 730.6,381.9 731.1,383.0 731.6,383.8 732.1,384.5 732.6,385.2 733.1,386.7 733.6,388.2 734.1,389.4 734.6,390.3 735.1,391.0 735.6,391.3 736.1,391.1 736.6,390.9 737.1,390.9 737.6,391.4 738.1,392.0 738.6,392.3 739.1,392.7 739.6,392.8 740.1,392.5 740.6,391.6 741.1,390.2 741.6,388.7 742.1,387.5 742.6,386.7 743.1,386.2 743.6,385.6 744.1,384.3 744.6,382.4 745.1,380.4 745.6,379.0" stroke="#e377c2" stroke-dasharray="3.2,1.8"/><path d="M96.6,370.2 97.1,369.4 97.6,368.3 98.1,367.4 98.6,367.0 99.1,367.0 99.6,367.2 100.1,367.3 100.6,367.1 101.1,367.3 101.6,367.6 102.1,368.0 102.6,368.4 103.1,368.8 103.6,369.2 104.1,369.6 104.6,369.9 105.1,370.2 105.6,370.4 106.1,370.8 106.6,371.1 107.1,371.3 107.6,371.3 108.1,371.0 108.6,371.0 109.1,371.4 109.6,372.2 110.1,373.2 110.6,374.1 111.1,374.8 111.6,375.0 112.1,374.9 112.6,374.4 113.1,373.6 113.6,372.5 114.1,371.3 114.6,370.3 115.1,369.6 115.6,369.5 116.1,369.6 116.6,369.9 117.1,370.2 117.6,370.7 118.1,371.2 118.6,371.7 119.1,372.1 119.6,372.6 120.1,373.3 120.6,374.1 121.1,375.3 121.6,376.5 122.1,377.6 122.6,378.6 123.1,379.2 123.6,379.7 124.1,379.9 124.6,379.9 125.1,380.0 125.6,380.4 126.1,381.2 126.6,382.3 127.1,383.2 127.6,383.6 128.1,383.5 128.6,382.8 129.1,382.3 129.6,382.0 130.1,382.0 130.6,381.9 131.1,381.6 131.6,381.1 132.1,380.7 132.6,380.5 133.1,379.9 133.6,379.1 134.1,378.2 134.6,377.1 135.1,376.1 135.6,375.2 136.1,374.4 136.6,373.5 137.1,372.5 137.6,371.2 138.1,369.6 138.6,367.8 139.1,365.8 139.6,364.1 140.1,362.6 140.6,361.8 141.1,361.8 141.6,363.6 142.1,365.3 142.6,366.9 143.1,368.3 143.6,369.9 144.1,371.5 144.6,373.3 145.1,375.1 145.6,377.0 146.1,378.8 146.6,380.4 147.1,381.5 147.6,382.1 148.1,382.0 148.6,380.9 149.1,379.8 149.6,378.6 150.1,377.4 150.6,376.2 151.1,375.1 151.6,374.2 152.1,373.3 152.6,372.6 153.1,371.5 153.6,370.2 154.1,368.6 154.6,367.0 155.1,365.4 155.6,363.9 156.1,362.4 156.6,361.0 157.1,359.8 157.6,358.8 158.1,357.5 158.6,355.7 159.1,354.5 159.6,354.4 160.1,355.5 160.6,357.8 161.1,361.1 161.6,364.8 162.1,368.4 162.6,371.6 163.1,374.4 163.6,377.0 164.1,379.6 164.6,382.5 165.1,385.7 165.6,389.2 166.1,392.7 166.6,395.7 167.1,397.7 167.6,397.3 168.1,394.5 168.6,391.6 169.1,388.9 169.6,386.6 170.1,384.4 170.6,382.2 171.1,379.7 171.6,376.8 172.1,373.9 172.6,371.5 173.1,369.0 173.6,366.6 174.1,364.5 174.6,362.6 175.1,360.8 175.6,359.2 176.1,357.8 176.6,358.0 177.1,359.5 177.6,361.5 178.1,363.8 178.6,366.3 179.1,368.9 179.6,371.3 180.1,373.4 180.6,375.1 181.1,376.7 181.6,377.9 182.1,378.6 182.6,378.9 183.1,378.8 183.6,378.6 184.1,378.1 184.6,377.2 185.1,376.0 185.6,374.8 186.1,373.6 186.6,372.6 187.1,372.0 187.6,372.0 188.1,372.6 188.6,373.5 189.1,374.4 189.6,375.1 190.1,375.5 190.6,375.6 191.1,375.5 191.6,375.5 192.1,375.4 192.6,375.1 193.1,374.3 193.6,373.3 194.1,372.2 194.6,371.7 195.1,371.4 195.6,371.4 196.1,371.9 196.6,373.0 197.1,374.9 197.6,377.8 198.1,381.4 198.6,384.7 199.1,386.5 199.6,385.5 200.1,383.9 200.6,382.1 201.1,380.1 201.6,378.0 202.1,376.2 202.6,374.7 203.1,373.5 203.6,372.3 204.1,370.8 204.6,368.9 205.1,367.0 205.6,365.6 206.1,365.7 206.6,367.6 207.1,369.9 207.6,372.2 208.1,374.3 208.6,376.5 209.1,378.9 209.6,381.4 210.1,384.1 210.6,387.0 211.1,389.4 211.6,391.2 212.1,392.2 212.6,392.9 213.1,391.7 213.6,390.2 214.1,388.6 214.6,386.8 215.1,384.7 215.6,382.5 216.1,380.5 216.6,378.7 217.1,376.9 217.6,375.2 218.1,373.6 218.6,372.1 219.1,370.6 219.6,369.2 220.1,368.1 220.6,367.3 221.1,366.9 221.6,366.7 222.1,366.8 222.6,367.2 223.1,368.0 223.6,368.8 224.1,369.4 224.6,369.4 225.1,369.4 225.6,369.8 226.1,370.7 226.6,371.9 227.1,373.0 227.6,373.8 228.1,374.2 228.6,374.4 229.1,374.7 229.6,375.0 230.1,375.5 230.6,376.5 231.1,377.9 231.6,379.4 232.1,380.0 232.6,380.0 233.1,379.2 233.6,377.8 234.1,375.8 234.6,373.7 235.1,371.2 235.6,368.2 236.1,365.1 236.6,362.2 237.1,360.1 237.6,358.8 238.1,359.5 238.6,361.5 239.1,363.6 239.6,365.9 240.1,368.4 240.6,370.9 241.1,373.0 241.6,374.6 242.1,376.1 242.6,377.6 243.1,379.4 243.6,381.5 244.1,383.4 244.6,384.6 245.1,385.0 245.6,385.3 246.1,385.8 246.6,386.5 247.1,387.2 247.6,387.4 248.1,387.1 248.6,386.2 249.1,384.1 249.6,382.1 250.1,380.5 250.6,379.6 251.1,379.1 251.6,378.7 252.1,378.0 252.6,377.1 253.1,376.1 253.6,374.8 254.1,373.2 254.6,371.4 255.1,369.9 255.6,368.6 256.1,367.4 256.6,366.3 257.1,365.1 257.6,363.9 258.1,362.5 258.6,360.8 259.1,360.4 259.6,360.5 260.1,361.4 260.6,363.3 261.1,365.9 261.6,369.0 262.1,371.7 262.6,373.6 263.1,374.3 263.6,374.9 264.1,375.5 264.6,376.4 265.1,377.3 265.6,378.0 266.1,378.4 266.6,378.2 267.1,377.5 267.6,376.2 268.1,374.4 268.6,372.6 269.1,371.1 269.6,370.1 270.1,369.3 270.6,368.3 271.1,367.2 271.6,366.4 272.1,365.8 272.6,365.3 273.1,365.0 273.6,365.1 274.1,365.8 274.6,367.0 275.1,368.2 275.6,369.4 276.1,370.2 276.6,370.7 277.1,371.2 277.6,371.9 278.1,372.7 278.6,373.8 279.1,375.3 279.6,377.0 280.1,378.6 280.6,379.7 281.1,380.5 281.6,381.0 282.1,381.5 282.6,382.2 283.1,383.0 283.6,383.7 284.1,384.0 284.6,383.4 285.1,381.8 285.6,379.5 286.1,377.1 286.6,375.4 287.1,374.3 287.6,373.5 288.1,372.6 288.6,371.6 289.1,370.6 289.6,370.1 290.1,370.1 290.6,370.2 291.1,370.2 291.6,370.3 292.1,370.6 292.6,370.9 293.1,371.2 293.6,371.6 294.1,372.1 294.6,372.9 295.1,373.7 295.6,374.4 296.1,374.6 296.6,374.6 297.1,374.5 297.6,374.3 298.1,374.2 298.6,374.3 299.1,374.5 299.6,375.1 300.1,375.9 300.6,376.7 301.1,377.1 301.6,377.3 302.1,377.4 302.6,377.5 303.1,377.5 303.6,377.3 304.1,376.7 304.6,375.8 305.1,374.9 305.6,373.9 306.1,372.9 306.6,371.9 307.1,371.0 307.6,370.6 308.1,370.5 308.6,370.9 309.1,371.6 309.6,372.7 310.1,374.0 310.6,375.1 311.1,376.2 311.6,377.2 312.1,378.5 312.6,380.3 313.1,382.5 313.6,384.8 314.1,386.7 314.6,388.2 315.1,389.4 315.6,390.8 316.1,392.3 316.6,393.9 317.1,395.1 317.6,395.3 318.1,394.5 318.6,393.7 319.1,393.5 319.6,393.8 320.1,394.3 320.6,394.0 321.1,392.5 321.6,390.2 322.1,387.8 322.6,385.7 323.1,383.8 323.6,382.6 324.1,381.9 324.6,381.2 325.1,380.1 325.6,378.4 326.1,376.4 326.6,374.5 327.1,373.1 327.6,372.4 328.1,372.0 328.6,371.8 329.1,371.3 329.6,370.5 330.1,369.6 330.6,368.7 331.1,368.1 331.6,367.7 332.1,367.3 332.6,366.7 333.1,365.8 333.6,365.1 334.1,364.5 334.6,363.9 335.1,363.4 335.6,363.1 336.1,362.9 336.6,362.9 337.1,362.9 337.6,363.2 338.1,364.1 338.6,365.0 339.1,365.8 339.6,366.6 340.1,367.3 340.6,367.8 341.1,367.5 341.6,365.5 342.1,362.8 342.6,359.7 343.1,356.6 343.6,353.9 344.1,351.8 344.6,350.3 345.1,349.2 345.6,348.1 346.1,346.4 346.6,343.8 347.1,340.6 347.6,337.3 348.1,333.9 348.6,331.5 349.1,330.5 349.6,330.4 350.1,331.5 350.6,331.8 351.1,331.8 351.6,332.0 352.1,332.1 352.6,332.2 353.1,332.1 353.6,331.6 354.1,331.8 354.6,331.9 355.1,331.1 355.6,329.5 356.1,327.6 356.6,325.7 357.1,323.8 357.6,321.1 358.1,318.5 358.6,316.4 359.1,315.1 359.6,314.5 360.1,313.8 360.6,312.5 361.1,310.7 361.6,308.8 362.1,307.0 362.6,305.7 363.1,304.7 363.6,302.8 364.1,300.4 364.6,297.3 365.1,293.7 365.6,290.0 366.1,286.7 366.6,283.7 367.1,280.6 367.6,277.9 368.1,275.3 368.6,272.8 369.1,270.0 369.6,267.1 370.1,264.4 370.6,262.8 371.1,261.0 371.6,259.0 372.1,257.1 372.6,255.1 373.1,252.6 373.6,249.6 374.1,246.4 374.6,244.0 375.1,242.8 375.6,242.3 376.1,241.8 376.6,241.3 377.1,243.6 377.6,245.4 378.1,247.3 378.6,249.5 379.1,252.1 379.6,255.1 380.1,258.2 380.6,261.5 381.1,265.1 381.6,269.6 382.1,274.1 382.6,278.3 383.1,281.9 383.6,285.0 384.1,287.7 384.6,290.2 385.1,292.4 385.6,295.2 386.1,298.2 386.6,301.0 387.1,303.2 387.6,305.2 388.1,307.4 388.6,310.3 389.1,313.7 389.6,316.8 390.1,319.9 390.6,322.5 391.1,324.4 391.6,325.8 392.1,326.7 392.6,327.2 393.1,327.4 393.6,327.3 394.1,327.7 394.6,328.8 395.1,330.1 395.6,330.8 396.1,330.3 396.6,328.4 397.1,326.6 397.6,325.7 398.1,326.0 398.6,326.8 399.1,327.6 399.6,328.2 400.1,328.3 400.6,327.9 401.1,327.0 401.6,325.9 402.1,324.9 402.6,324.2 403.1,323.7 403.6,323.8 404.1,324.3 404.6,325.0 405.1,325.7 405.6,326.4 406.1,327.0 406.6,327.3 407.1,327.1 407.6,326.7 408.1,326.6 408.6,327.1 409.1,327.9 409.6,328.4 410.1,328.1 410.6,327.2 411.1,326.1 411.6,325.0 412.1,324.2 412.6,323.8 413.1,323.8 413.6,324.3 414.1,325.6 414.6,327.4 415.1,329.3 415.6,330.6 416.1,331.1 416.6,331.1 417.1,330.9 417.6,330.8 418.1,330.5 418.6,329.4 419.1,327.1 419.6,323.9 420.1,321.0 420.6,319.3 421.1,319.6 421.6,321.2 422.1,323.2 422.6,324.9 423.1,326.3 423.6,327.8 424.1,329.1 424.6,330.2 425.1,330.7 425.6,330.8 426.1,332.2 426.6,334.1 427.1,336.4 427.6,338.6 428.1,340.5 428.6,342.9 429.1,345.4 429.6,347.2 430.1,348.2 430.6,348.3 431.1,347.6 431.6,347.5 432.1,348.0 432.6,348.7 433.1,349.0 433.6,348.8 434.1,348.1 434.6,347.3 435.1,346.5 435.6,345.9 436.1,345.5 436.6,345.4 437.1,345.4 437.6,345.3 438.1,345.0 438.6,344.3 439.1,343.0 439.6,341.1 440.1,339.5 440.6,338.7 441.1,339.3 441.6,341.0 442.1,342.9 442.6,344.4 443.1,345.4 443.6,345.9 444.1,346.2 444.6,346.2 445.1,346.1 445.6,345.9 446.1,345.3 446.6,344.4 447.1,343.6 447.6,343.6 448.1,344.3 448.6,345.5 449.1,346.5 449.6,347.0 450.1,346.9 450.6,346.5 451.1,346.0 451.6,345.5 452.1,345.0 452.6,344.6 453.1,344.2 453.6,343.9 454.1,343.9 454.6,344.2 455.1,345.0 455.6,345.9 456.1,346.7 456.6,347.2 457.1,347.4 457.6,347.3 458.1,347.0 458.6,346.6 459.1,346.2 459.6,345.9 460.1,345.5 460.6,345.1 461.1,344.7 461.6,344.7 462.1,345.1 462.6,345.6 463.1,345.8 463.6,345.5 464.1,344.8 464.6,344.2 465.1,343.8 465.6,344.1 466.1,344.8 466.6,345.5 467.1,345.7 467.6,345.3 468.1,344.2 468.6,342.8 469.1,341.9 469.6,342.1 470.1,343.1 470.6,344.3 471.1,345.2 471.6,345.8 472.1,346.4 472.6,346.9 473.1,347.0 473.6,346.4 474.1,345.3 474.6,344.3 475.1,343.9 475.6,343.8 476.1,342.3 476.6,340.2 477.1,337.8 477.6,335.7 478.1,334.4 478.6,333.5 479.1,333.2 479.6,333.3 480.1,333.7 480.6,334.3 481.1,334.4 481.6,334.1 482.1,333.9 482.6,333.7 483.1,333.7 483.6,333.6 484.1,333.5 484.6,333.4 485.1,333.5 485.6,333.7 486.1,334.2 486.6,334.9 487.1,335.8 487.6,337.0 488.1,338.8 488.6,340.5 489.1,342.1 489.6,343.6 490.1,346.4 490.6,349.9 491.1,353.5 491.6,356.2 492.1,357.4 492.6,358.1 493.1,358.4 493.6,358.5 494.1,358.9 494.6,359.6 495.1,360.2 495.6,360.7 496.1,360.8 496.6,360.5 497.1,359.9 497.6,359.1 498.1,358.4 498.6,357.7 499.1,357.3 499.6,357.0 500.1,357.0 500.6,357.2 501.1,357.3 501.6,357.2 502.1,356.7 502.6,356.3 503.1,356.2 503.6,356.6 504.1,357.1 504.6,357.4 505.1,357.6 505.6,357.8 506.1,358.1 506.6,358.8 507.1,359.7 507.6,360.4 508.1,361.0 508.6,361.3 509.1,361.5 509.6,361.8 510.1,362.1 510.6,362.3 511.1,362.4 511.6,362.4 512.1,362.2 512.6,362.2 513.1,362.2 513.6,362.1 514.1,362.0 514.6,361.9 515.1,361.9 515.6,361.7 516.1,361.4 516.6,360.8 517.1,360.0 517.6,359.2 518.1,358.8 518.6,358.8 519.1,359.1 519.6,359.4 520.1,359.8 520.6,360.0 521.1,360.3 521.6,360.7 522.1,360.9 522.6,361.1 523.1,361.3 523.6,361.8 524.1,362.6 524.6,363.5 525.1,364.2 525.6,364.7 526.1,365.0 526.6,365.1 527.1,365.4 527.6,365.9 528.1,366.5 528.6,366.8 529.1,366.8 529.6,366.5 530.1,366.4 530.6,366.8 531.1,367.3 531.6,367.6 532.1,367.7 532.6,367.5 533.1,367.3 533.6,367.5 534.1,367.9 534.6,368.7 535.1,369.7 535.6,370.6 536.1,371.3 536.6,371.7 537.1,371.9 537.6,372.1 538.1,372.3 538.6,372.9 539.1,374.0 539.6,375.4 540.1,377.0 540.6,378.6 541.1,380.0 541.6,381.2 542.1,382.3 542.6,383.5 543.1,384.8 543.6,386.3 544.1,387.8 544.6,389.2 545.1,389.1 545.6,388.2 546.1,386.8 546.6,385.2 547.1,383.5 547.6,382.1 548.1,380.8 548.6,379.9 549.1,379.1 549.6,378.5 550.1,378.1 550.6,377.6 551.1,377.1 551.6,376.5 552.1,375.9 552.6,375.4 553.1,374.9 553.6,374.4 554.1,373.9 554.6,373.5 555.1,373.2 555.6,373.0 556.1,373.0 556.6,373.3 557.1,373.7 557.6,374.0 558.1,374.1 558.6,374.0 559.1,373.9 559.6,373.8 560.1,373.7 560.6,373.5 561.1,373.2 561.6,372.9 562.1,372.6 562.6,372.6 563.1,372.8 563.6,373.1 564.1,373.6 564.6,374.1 565.1,374.4 565.6,374.5 566.1,374.3 566.6,374.0 567.1,373.9 567.6,374.0 568.1,374.3 568.6,374.6 569.1,374.9 569.6,375.0 570.1,375.0 570.6,374.9 571.1,374.7 571.6,374.5 572.1,374.3 572.6,374.1 573.1,373.9 573.6,373.7 574.1,373.5 574.6,373.4 575.1,373.5 575.6,373.9 576.1,374.6 576.6,375.8 577.1,377.3 577.6,378.8 578.1,379.9 578.6,380.6 579.1,380.9 579.6,381.0 580.1,380.8 580.6,380.3 581.1,379.8 581.6,379.3 582.1,378.8 582.6,378.3 583.1,377.9 583.6,377.6 584.1,377.1 584.6,376.6 585.1,375.9 585.6,375.2 586.1,374.7 586.6,374.3 587.1,374.0 587.6,373.8 588.1,373.4 588.6,373.1 589.1,372.8 589.6,373.0 590.1,373.7 590.6,374.7 591.1,375.5 591.6,376.0 592.1,376.0 592.6,375.6 593.1,375.1 593.6,374.7 594.1,374.6 594.6,374.7 595.1,374.7 595.6,374.3 596.1,373.4 596.6,372.5 597.1,371.9 597.6,371.7 598.1,371.6 598.6,371.3 599.1,370.7 599.6,370.1 600.1,369.7 600.6,369.6 601.1,369.8 601.6,370.2 602.1,370.6 602.6,370.9 603.1,370.7 603.6,370.3 604.1,369.6 604.6,368.8 605.1,368.0 605.6,367.4 606.1,367.1 606.6,367.3 607.1,367.6 607.6,367.8 608.1,367.8 608.6,367.5 609.1,367.2 609.6,367.2 610.1,367.7 610.6,368.3 611.1,368.8 611.6,369.2 612.1,369.2 612.6,369.1 613.1,369.1 613.6,369.4 614.1,369.9 614.6,370.7 615.1,371.5 615.6,372.2 616.1,372.7 616.6,372.9 617.1,372.9 617.6,372.8 618.1,372.7 618.6,372.7 619.1,372.6 619.6,372.4 620.1,371.8 620.6,371.0 621.1,370.1 621.6,369.2 622.1,368.4 622.6,367.8 623.1,367.0 623.6,366.1 624.1,365.5 624.6,365.1 625.1,365.0 625.6,364.9 626.1,364.5 626.6,363.7 627.1,362.7 627.6,361.6 628.1,360.9 628.6,360.8 629.1,361.6 629.6,362.9 630.1,364.2 630.6,365.3 631.1,366.0 631.6,366.3 632.1,366.2 632.6,365.7 633.1,364.8 633.6,363.9 634.1,363.2 634.6,362.7 635.1,362.4 635.6,362.2 636.1,361.9 636.6,361.6 637.1,361.1 637.6,360.8 638.1,361.0 638.6,362.0 639.1,363.6 639.6,365.4 640.1,367.1 640.6,368.2 641.1,368.8 641.6,368.9 642.1,369.0 642.6,369.3 643.1,369.9 643.6,370.7 644.1,371.5 644.6,372.3 645.1,372.9 645.6,373.3 646.1,373.5 646.6,373.5 647.1,373.4 647.6,373.2 648.1,372.8 648.6,372.4 649.1,371.9 649.6,371.5 650.1,371.1 650.6,370.8 651.1,370.6 651.6,370.6 652.1,370.9 652.6,371.5 653.1,372.3 653.6,373.3 654.1,374.4 654.6,375.1 655.1,375.4 655.6,375.4 656.1,375.3 656.6,375.5 657.1,375.9 657.6,376.2 658.1,376.3 658.6,376.1 659.1,375.9 659.6,375.9 660.1,376.2 660.6,376.9 661.1,377.5 661.6,378.2 662.1,378.3 662.6,378.1 663.1,377.4 663.6,376.5 664.1,375.4 664.6,374.0 665.1,372.3 665.6,370.2 666.1,367.8 666.6,365.3 667.1,363.0 667.6,360.8 668.1,359.0 668.6,357.5 669.1,356.4 669.6,355.6 670.1,355.4 670.6,355.0 671.1,354.5 671.6,354.2 672.1,354.1 672.6,354.3 673.1,354.5 673.6,354.7 674.1,354.7 674.6,355.0 675.1,355.5 675.6,355.9 676.1,356.0 676.6,356.0 677.1,356.2 677.6,357.1 678.1,358.4 678.6,359.8 679.1,360.7 679.6,361.2 680.1,361.2 680.6,361.4 681.1,361.0 681.6,360.8 682.1,360.6 682.6,360.2 683.1,359.5 683.6,358.6 684.1,357.2 684.6,355.2 685.1,352.9 685.6,351.2 686.1,350.4 686.6,350.8 687.1,352.1 687.6,353.5 688.1,354.1 688.6,353.9 689.1,353.2 689.6,352.6 690.1,352.3 690.6,352.2 691.1,351.8 691.6,351.0 692.1,350.0 692.6,349.1 693.1,348.4 693.6,348.3 694.1,348.7 694.6,349.6 695.1,350.4 695.6,350.6 696.1,350.3 696.6,349.5 697.1,348.9 697.6,348.8 698.1,349.3 698.6,350.4 699.1,352.1 699.6,354.1 700.1,355.8 700.6,356.9 701.1,357.7 701.6,358.2 702.1,358.7 702.6,359.0 703.1,358.6 703.6,357.7 704.1,356.9 704.6,356.0 705.1,355.0 705.6,353.6 706.1,351.7 706.6,349.5 707.1,347.7 707.6,346.4 708.1,345.7 708.6,345.6 709.1,345.6 709.6,346.0 710.1,346.7 710.6,347.4 711.1,347.6 711.6,347.3 712.1,346.5 712.6,345.8 713.1,345.3 713.6,345.1 714.1,345.5 714.6,346.0 715.1,346.4 715.6,346.4 716.1,345.7 716.6,344.6 717.1,343.7 717.6,343.3 718.1,343.6 718.6,344.5 719.1,345.7 719.6,346.8 720.1,347.4 720.6,347.5 721.1,347.6 721.6,348.3 722.1,349.5 722.6,351.0 723.1,352.3 723.6,353.0 724.1,353.2 724.6,353.2 725.1,353.5 725.6,354.5 726.1,356.1 726.6,358.2 727.1,360.3 727.6,362.5 728.1,364.7 728.6,367.1 729.1,369.6 729.6,372.3 730.1,374.9 730.6,377.2 731.1,378.9 731.6,380.0 732.1,380.8 732.6,381.6 733.1,382.8 733.6,384.0 734.1,384.8 734.6,385.3 735.1,385.7 735.6,385.8 736.1,385.6 736.6,385.1 737.1,384.7 737.6,384.9 738.1,385.3 738.6,385.6 739.1,385.9 739.6,385.9 740.1,385.5 740.6,384.5 741.1,383.3 741.6,382.1 742.1,381.1 742.6,380.6 743.1,380.5 743.6,380.0 744.1,378.8 744.6,376.8 745.1,374.7 745.6,373.3" stroke="#d65f9f" stroke-dasharray="3.2,1.8"/><path d="M96.6,372.9 97.1,372.0 97.6,370.9 98.1,370.1 98.6,369.7 99.1,369.7 99.6,369.6 100.1,369.3 100.6,368.7 101.1,368.3 101.6,368.2 102.1,368.3 102.6,368.4 103.1,368.8 103.6,369.4 104.1,370.2 104.6,371.1 105.1,371.7 105.6,372.1 106.1,372.4 106.6,372.6 107.1,372.8 107.6,372.9 108.1,372.8 108.6,372.8 109.1,372.9 109.6,373.2 110.1,373.5 110.6,373.9 111.1,374.1 111.6,374.1 112.1,373.7 112.6,372.8 113.1,371.6 113.6,370.1 114.1,368.6 114.6,367.3 115.1,366.6 115.6,366.7 116.1,367.1 116.6,367.7 117.1,368.3 117.6,369.1 118.1,369.9 118.6,370.8 119.1,371.7 119.6,372.8 120.1,373.8 120.6,374.7 121.1,375.6 121.6,376.7 122.1,377.8 122.6,379.0 123.1,380.1 123.6,381.0 124.1,381.6 124.6,382.1 125.1,382.6 125.6,383.2 126.1,384.0 126.6,384.8 127.1,385.4 127.6,385.7 128.1,385.7 128.6,385.2 129.1,384.9 129.6,384.8 130.1,384.7 130.6,384.4 131.1,384.1 131.6,383.6 132.1,383.2 132.6,382.8 133.1,381.8 133.6,380.7 134.1,379.6 134.6,378.4 135.1,377.2 135.6,376.0 136.1,375.0 136.6,373.9 137.1,372.8 137.6,371.3 138.1,369.5 138.6,367.4 139.1,365.4 139.6,363.5 140.1,362.2 140.6,361.3 141.1,361.2 141.6,362.9 142.1,364.6 142.6,366.4 143.1,368.0 143.6,369.6 144.1,371.1 144.6,372.4 145.1,373.8 145.6,375.4 146.1,377.2 146.6,378.7 147.1,379.7 147.6,380.0 148.1,379.6 148.6,378.4 149.1,377.4 149.6,376.5 150.1,375.6 150.6,374.9 151.1,374.4 151.6,373.9 152.1,373.5 152.6,373.1 153.1,372.5 153.6,371.6 154.1,370.5 154.6,369.2 155.1,367.8 155.6,366.5 156.1,365.2 156.6,364.1 157.1,363.4 157.6,362.8 158.1,361.9 158.6,360.1 159.1,358.3 159.6,357.4 160.1,357.7 160.6,359.5 161.1,362.3 161.6,365.5 162.1,368.8 162.6,371.7 163.1,374.1 163.6,376.3 164.1,378.8 164.6,381.6 165.1,385.0 165.6,388.9 166.1,392.8 166.6,396.3 167.1,398.6 167.6,398.6 168.1,395.9 168.6,393.2 169.1,390.7 169.6,388.3 170.1,385.7 170.6,382.9 171.1,380.0 171.6,377.1 172.1,374.5 172.6,372.4 173.1,370.3 173.6,368.2 174.1,366.2 174.6,364.3 175.1,362.4 175.6,360.5 176.1,358.8 176.6,358.9 177.1,360.4 177.6,362.3 178.1,364.4 178.6,366.6 179.1,368.6 179.6,370.5 180.1,372.2 180.6,373.5 181.1,374.7 181.6,375.5 182.1,375.8 182.6,375.6 183.1,375.0 183.6,374.1 184.1,373.1 184.6,372.3 185.1,371.7 185.6,371.3 186.1,371.0 186.6,371.1 187.1,371.6 187.6,372.3 188.1,373.2 188.6,374.1 189.1,374.9 189.6,375.7 190.1,376.3 190.6,376.8 191.1,377.1 191.6,377.4 192.1,377.6 192.6,377.7 193.1,377.4 193.6,377.0 194.1,376.3 194.6,375.5 195.1,374.7 195.6,374.0 196.1,373.6 196.6,373.9 197.1,375.1 197.6,377.5 198.1,380.5 198.6,383.5 199.1,385.4 199.6,384.7 200.1,383.5 200.6,381.9 201.1,380.2 201.6,378.4 202.1,376.7 202.6,375.1 203.1,373.8 203.6,372.4 204.1,370.8 204.6,368.9 205.1,367.0 205.6,365.4 206.1,365.3 206.6,367.0 207.1,369.3 207.6,371.7 208.1,374.0 208.6,376.5 209.1,379.1 209.6,381.6 210.1,384.2 210.6,386.7 211.1,389.1 211.6,391.0 212.1,392.5 212.6,393.5 213.1,392.6 213.6,391.2 214.1,389.6 214.6,387.7 215.1,385.5 215.6,383.2 216.1,380.8 216.6,378.5 217.1,376.3 217.6,374.3 218.1,372.7 218.6,371.2 219.1,369.8 219.6,368.6 220.1,367.7 220.6,367.0 221.1,366.6 221.6,366.5 222.1,366.6 222.6,367.2 223.1,368.0 223.6,368.6 224.1,368.6 224.6,367.8 225.1,367.4 225.6,367.4 226.1,368.2 226.6,369.6 227.1,371.3 227.6,372.8 228.1,373.9 228.6,374.9 229.1,375.7 229.6,376.5 230.1,377.4 230.6,378.4 231.1,379.5 231.6,380.6 232.1,380.6 232.6,380.2 233.1,379.4 233.6,377.9 234.1,376.0 234.6,373.8 235.1,371.2 235.6,368.0 236.1,364.8 236.6,362.1 237.1,360.2 237.6,359.3 238.1,360.4 238.6,362.5 239.1,364.7 239.6,367.1 240.1,369.8 240.6,372.3 241.1,374.3 241.6,375.9 242.1,377.1 242.6,378.2 243.1,379.4 243.6,380.8 244.1,382.4 244.6,383.6 245.1,384.1 245.6,384.7 246.1,385.5 246.6,386.5 247.1,387.5 247.6,388.1 248.1,388.1 248.6,387.4 249.1,385.5 249.6,383.7 250.1,382.3 250.6,381.4 251.1,380.5 251.6,379.5 252.1,378.1 252.6,376.6 253.1,375.2 253.6,373.9 254.1,372.5 254.6,370.8 255.1,369.0 255.6,367.2 256.1,365.4 256.6,363.6 257.1,361.8 257.6,360.1 258.1,358.3 258.6,356.4 259.1,356.2 259.6,357.0 260.1,358.5 260.6,361.1 261.1,364.6 261.6,368.4 262.1,371.9 262.6,374.4 263.1,375.4 263.6,376.2 264.1,376.9 264.6,377.7 265.1,378.7 265.6,379.8 266.1,380.8 266.6,381.2 267.1,380.9 267.6,379.8 268.1,378.2 268.6,376.5 269.1,375.2 269.6,374.3 270.1,373.5 270.6,372.6 271.1,371.5 271.6,370.6 272.1,369.9 272.6,369.4 273.1,368.9 273.6,368.5 274.1,368.5 274.6,368.9 275.1,369.6 275.6,370.5 276.1,371.2 276.6,371.5 277.1,371.7 277.6,372.0 278.1,372.8 278.6,373.8 279.1,375.0 279.6,376.4 280.1,377.5 280.6,378.3 281.1,378.6 281.6,378.7 282.1,378.7 282.6,378.8 283.1,379.1 283.6,379.5 284.1,379.4 284.6,378.6 285.1,376.7 285.6,374.2 286.1,371.7 286.6,370.0 287.1,369.0 287.6,368.3 288.1,367.6 288.6,366.7 289.1,366.0 289.6,365.6 290.1,365.6 290.6,365.6 291.1,365.8 291.6,366.2 292.1,366.9 292.6,367.6 293.1,368.2 293.6,368.6 294.1,369.0 294.6,369.6 295.1,370.1 295.6,370.4 296.1,370.5 296.6,370.5 297.1,370.4 297.6,370.4 298.1,370.6 298.6,370.9 299.1,371.3 299.6,371.8 300.1,372.3 300.6,372.7 301.1,372.9 301.6,372.9 302.1,372.9 302.6,372.8 303.1,372.6 303.6,372.1 304.1,371.5 304.6,370.8 305.1,370.2 305.6,369.7 306.1,369.3 306.6,369.1 307.1,369.1 307.6,369.1 308.1,369.3 308.6,369.7 309.1,370.5 309.6,371.6 310.1,372.9 310.6,374.1 311.1,375.5 311.6,377.1 312.1,378.9 312.6,381.1 313.1,383.7 313.6,386.1 314.1,388.0 314.6,389.2 315.1,390.0 315.6,390.8 316.1,391.7 316.6,392.6 317.1,393.2 317.6,392.9 318.1,391.7 318.6,390.8 319.1,390.6 319.6,391.1 320.1,391.7 320.6,391.4 321.1,389.8 321.6,387.1 322.1,384.3 322.6,382.1 323.1,380.3 323.6,379.4 324.1,378.9 324.6,378.4 325.1,377.6 325.6,376.4 326.1,375.0 326.6,373.8 327.1,372.9 327.6,372.5 328.1,372.2 328.6,371.8 329.1,371.4 329.6,371.0 330.1,370.4 330.6,369.8 331.1,369.4 331.6,369.1 332.1,368.6 332.6,367.7 333.1,366.7 333.6,366.0 334.1,365.5 334.6,365.3 335.1,365.3 335.6,365.5 336.1,365.6 336.6,365.7 337.1,365.7 337.6,365.8 338.1,366.3 338.6,366.9 339.1,367.3 339.6,367.6 340.1,367.8 340.6,367.9 341.1,367.6 341.6,366.0 342.1,364.2 342.6,362.1 343.1,360.0 343.6,358.2 344.1,356.7 344.6,355.6 345.1,354.6 345.6,353.3 346.1,351.2 346.6,348.3 347.1,344.8 347.6,341.2 348.1,337.6 348.6,335.0 349.1,333.7 349.6,333.7 350.1,335.0 350.6,335.8 351.1,336.5 351.6,337.1 352.1,337.5 352.6,337.5 353.1,337.1 353.6,336.3 354.1,336.2 354.6,336.5 355.1,336.3 355.6,335.4 356.1,333.8 356.6,331.7 357.1,329.3 357.6,326.4 358.1,323.8 358.6,322.1 359.1,321.3 359.6,321.2 360.1,320.9 360.6,319.8 361.1,318.0 361.6,316.1 362.1,314.3 362.6,313.3 363.1,312.6 363.6,311.0 364.1,308.7 364.6,305.8 365.1,302.5 365.6,299.3 366.1,296.4 366.6,293.7 367.1,290.9 367.6,288.2 368.1,285.7 368.6,283.1 369.1,280.4 369.6,277.5 370.1,274.9 370.6,273.4 371.1,271.9 371.6,270.3 372.1,268.7 372.6,267.0 373.1,264.9 373.6,262.2 374.1,259.2 374.6,256.7 375.1,255.5 375.6,255.2 376.1,255.0 376.6,254.7 377.1,256.8 377.6,258.4 378.1,260.1 378.6,262.5 379.1,265.4 379.6,268.4 380.1,271.2 380.6,273.7 381.1,276.4 381.6,280.1 382.1,284.0 382.6,287.9 383.1,291.2 383.6,293.7 384.1,295.7 384.6,297.5 385.1,299.4 385.6,302.0 386.1,304.9 386.6,307.7 387.1,309.9 387.6,311.8 388.1,313.8 388.6,316.5 389.1,319.7 389.6,322.6 390.1,325.3 390.6,327.5 391.1,329.1 391.6,330.1 392.1,330.7 392.6,330.7 393.1,330.4 393.6,329.9 394.1,329.9 394.6,330.7 395.1,331.8 395.6,332.7 396.1,332.6 396.6,331.4 397.1,330.0 397.6,329.2 398.1,329.3 398.6,330.0 399.1,331.0 399.6,331.9 400.1,332.3 400.6,332.1 401.1,331.3 401.6,330.3 402.1,329.2 402.6,328.3 403.1,327.8 403.6,327.7 404.1,328.0 404.6,328.7 405.1,329.6 405.6,330.4 406.1,331.0 406.6,331.2 407.1,331.0 407.6,330.6 408.1,330.8 408.6,331.6 409.1,332.6 409.6,333.2 410.1,333.0 410.6,332.0 411.1,330.5 411.6,328.9 412.1,327.7 412.6,327.1 413.1,327.2 413.6,328.0 414.1,329.5 414.6,331.5 415.1,333.5 415.6,334.9 416.1,335.7 416.6,336.1 417.1,336.2 417.6,336.1 418.1,335.5 418.6,334.1 419.1,331.7 419.6,328.6 420.1,325.7 420.6,324.0 421.1,323.9 421.6,324.9 422.1,326.3 422.6,327.6 423.1,328.9 423.6,330.6 424.1,332.2 424.6,333.5 425.1,333.8 425.6,333.6 426.1,334.3 426.6,335.5 427.1,337.5 427.6,339.9 428.1,342.2 428.6,344.9 429.1,347.6 429.6,349.7 430.1,350.9 430.6,351.3 431.1,350.7 431.6,350.5 432.1,351.0 432.6,351.8 433.1,352.4 433.6,352.6 434.1,352.4 434.6,351.9 435.1,351.3 435.6,350.5 436.1,350.0 436.6,349.7 437.1,349.5 437.6,349.4 438.1,349.0 438.6,348.2 439.1,347.0 439.6,345.2 440.1,343.5 440.6,342.6 441.1,343.0 441.6,344.4 442.1,346.1 442.6,347.4 443.1,348.2 443.6,348.6 444.1,349.0 444.6,349.3 445.1,349.5 445.6,349.2 446.1,348.3 446.6,347.1 447.1,346.1 447.6,346.0 448.1,346.8 448.6,348.2 449.1,349.4 449.6,349.9 450.1,349.7 450.6,349.1 451.1,348.3 451.6,347.5 452.1,347.0 452.6,346.5 453.1,346.1 453.6,346.0 454.1,346.1 454.6,346.7 455.1,347.6 455.6,348.7 456.1,349.5 456.6,349.8 457.1,349.6 457.6,349.1 458.1,348.4 458.6,347.7 459.1,347.2 459.6,346.9 460.1,346.6 460.6,346.4 461.1,346.3 461.6,346.7 462.1,347.6 462.6,348.6 463.1,349.3 463.6,349.3 464.1,348.8 464.6,348.1 465.1,347.5 465.6,347.2 466.1,347.3 466.6,347.5 467.1,347.5 467.6,347.0 468.1,346.1 468.6,345.1 469.1,344.6 469.6,345.1 470.1,346.2 470.6,347.4 471.1,348.0 471.6,348.3 472.1,348.8 472.6,349.3 473.1,349.7 473.6,349.4 474.1,348.3 474.6,347.1 475.1,346.3 475.6,345.6 476.1,343.8 476.6,341.5 477.1,339.2 477.6,337.5 478.1,336.9 478.6,336.5 479.1,336.7 479.6,337.1 480.1,337.6 480.6,338.2 481.1,338.3 481.6,337.9 482.1,337.4 482.6,337.1 483.1,337.1 483.6,337.2 484.1,337.6 484.6,337.9 485.1,338.3 485.6,338.6 486.1,338.9 486.6,339.4 487.1,340.0 487.6,341.0 488.1,342.5 488.6,344.0 489.1,345.3 489.6,346.8 490.1,349.7 490.6,353.2 491.1,356.7 491.6,359.1 492.1,359.9 492.6,360.1 493.1,360.1 493.6,360.2 494.1,360.5 494.6,361.1 495.1,361.6 495.6,361.8 496.1,361.7 496.6,361.4 497.1,360.9 497.6,360.5 498.1,360.1 498.6,359.6 499.1,359.2 499.6,358.8 500.1,358.4 500.6,358.0 501.1,357.7 501.6,357.5 502.1,357.4 502.6,357.8 503.1,358.5 503.6,359.5 504.1,360.2 504.6,360.5 505.1,360.7 505.6,360.7 506.1,361.1 506.6,361.6 507.1,362.2 507.6,362.6 508.1,362.6 508.6,362.4 509.1,362.3 509.6,362.6 510.1,362.9 510.6,363.2 511.1,363.4 511.6,363.5 512.1,363.4 512.6,363.4 513.1,363.5 513.6,363.4 514.1,363.2 514.6,362.9 515.1,362.4 515.6,361.8 516.1,361.0 516.6,360.1 517.1,359.2 517.6,358.3 518.1,357.6 518.6,357.3 519.1,357.4 519.6,357.6 520.1,357.9 520.6,358.0 521.1,358.2 521.6,358.6 522.1,359.3 522.6,360.0 523.1,360.6 523.6,361.3 524.1,361.9 524.6,362.6 525.1,363.1 525.6,363.3 526.1,363.4 526.6,363.2 527.1,363.2 527.6,363.5 528.1,364.1 528.6,364.7 529.1,365.2 529.6,365.3 530.1,365.3 530.6,365.7 531.1,366.2 531.6,366.6 532.1,366.7 532.6,366.5 533.1,366.4 533.6,366.5 534.1,366.9 534.6,367.6 535.1,368.4 535.6,369.3 536.1,370.1 536.6,370.9 537.1,371.6 537.6,372.3 538.1,372.9 538.6,373.5 539.1,374.4 539.6,375.6 540.1,377.2 540.6,379.0 541.1,380.7 541.6,382.2 542.1,383.5 542.6,384.7 543.1,386.0 543.6,387.6 544.1,389.3 544.6,390.7 545.1,390.5 545.6,389.4 546.1,387.9 546.6,386.5 547.1,385.1 547.6,384.0 548.1,383.0 548.6,382.3 549.1,381.7 549.6,381.3 550.1,381.2 550.6,380.9 551.1,380.4 551.6,379.6 552.1,378.8 552.6,378.0 553.1,377.3 553.6,376.7 554.1,375.9 554.6,375.3 555.1,374.8 555.6,374.6 556.1,374.5 556.6,374.5 557.1,374.6 557.6,374.6 558.1,374.6 558.6,374.3 559.1,373.8 559.6,373.5 560.1,373.4 560.6,373.4 561.1,373.3 561.6,373.0 562.1,372.8 562.6,372.6 563.1,372.5 563.6,372.5 564.1,372.7 564.6,372.8 565.1,372.9 565.6,372.9 566.1,372.8 566.6,372.5 567.1,372.4 567.6,372.4 568.1,372.6 568.6,372.9 569.1,373.3 569.6,373.7 570.1,374.2 570.6,374.7 571.1,375.1 571.6,375.4 572.1,375.6 572.6,375.8 573.1,376.0 573.6,376.1 574.1,376.2 574.6,376.1 575.1,376.1 575.6,376.2 576.1,376.9 576.6,378.1 577.1,379.7 577.6,381.4 578.1,382.7 578.6,383.5 579.1,384.0 579.6,384.4 580.1,384.6 580.6,384.6 581.1,384.4 581.6,383.9 582.1,383.1 582.6,382.0 583.1,381.3 583.6,380.9 584.1,380.5 584.6,379.9 585.1,378.9 585.6,377.5 586.1,376.0 586.6,374.6 587.1,373.6 587.6,372.9 588.1,372.4 588.6,371.8 589.1,371.5 589.6,371.5 590.1,371.9 590.6,372.6 591.1,372.9 591.6,372.7 592.1,372.0 592.6,371.3 593.1,370.8 593.6,370.9 594.1,371.3 594.6,371.7 595.1,371.7 595.6,371.3 596.1,370.6 596.6,369.8 597.1,369.3 597.6,369.3 598.1,369.2 598.6,368.7 599.1,367.6 599.6,366.3 600.1,365.0 600.6,364.2 601.1,363.9 601.6,364.0 602.1,364.8 602.6,365.4 603.1,365.7 603.6,365.7 604.1,365.5 604.6,364.9 605.1,364.5 605.6,364.4 606.1,364.9 606.6,365.6 607.1,366.1 607.6,366.2 608.1,365.8 608.6,365.1 609.1,364.6 609.6,364.5 610.1,365.0 610.6,365.7 611.1,366.6 611.6,367.3 612.1,367.7 612.6,367.8 613.1,368.0 613.6,368.3 614.1,368.8 614.6,369.5 615.1,370.4 615.6,371.4 616.1,372.3 616.6,372.7 617.1,372.9 617.6,373.0 618.1,373.3 618.6,373.8 619.1,374.3 619.6,374.7 620.1,374.9 620.6,374.9 621.1,374.5 621.6,373.9 622.1,373.1 622.6,372.2 623.1,371.2 623.6,370.2 624.1,369.6 624.6,369.5 625.1,369.7 625.6,369.7 626.1,369.3 626.6,368.3 627.1,367.0 627.6,365.8 628.1,364.8 628.6,364.4 629.1,364.6 629.6,365.3 630.1,366.1 630.6,366.9 631.1,367.5 631.6,368.0 632.1,368.3 632.6,368.1 633.1,367.5 633.6,366.9 634.1,366.3 634.6,365.9 635.1,365.7 635.6,365.8 636.1,365.8 636.6,365.5 637.1,365.0 637.6,364.6 638.1,364.6 638.6,365.5 639.1,366.9 639.6,368.6 640.1,370.2 640.6,371.3 641.1,371.9 641.6,372.1 642.1,372.3 642.6,372.6 643.1,373.0 643.6,373.5 644.1,373.9 644.6,374.2 645.1,374.4 645.6,374.5 646.1,374.3 646.6,374.0 647.1,373.5 647.6,373.1 648.1,372.6 648.6,372.0 649.1,371.3 649.6,370.3 650.1,369.3 650.6,368.3 651.1,368.0 651.6,367.9 652.1,367.9 652.6,368.1 653.1,368.4 653.6,368.8 654.1,369.6 654.6,370.5 655.1,371.1 655.6,371.4 656.1,371.6 656.6,371.9 657.1,372.4 657.6,372.8 658.1,373.0 658.6,372.9 659.1,372.8 659.6,372.9 660.1,373.5 660.6,374.3 661.1,375.1 661.6,375.8 662.1,376.2 662.6,376.2 663.1,375.7 663.6,375.0 664.1,374.1 664.6,373.0 665.1,371.7 665.6,370.2 666.1,368.3 666.6,366.3 667.1,364.0 667.6,361.6 668.1,359.4 668.6,357.5 669.1,356.1 669.6,355.2 670.1,355.2 670.6,355.0 671.1,354.7 671.6,354.3 672.1,354.2 672.6,354.3 673.1,354.4 673.6,354.5 674.1,354.5 674.6,355.0 675.1,355.8 675.6,356.7 676.1,357.4 676.6,357.8 677.1,358.2 677.6,359.0 678.1,359.9 678.6,360.6 679.1,361.0 679.6,361.0 680.1,360.8 680.6,361.0 681.1,360.8 681.6,361.1 682.1,361.4 682.6,361.7 683.1,361.5 683.6,361.0 684.1,359.9 684.6,358.3 685.1,356.4 685.6,355.0 686.1,354.3 686.6,354.6 687.1,355.6 687.6,357.0 688.1,357.8 688.6,357.8 689.1,357.3 689.6,356.9 690.1,356.7 690.6,356.5 691.1,355.9 691.6,355.0 692.1,353.9 692.6,353.0 693.1,352.6 693.6,352.6 694.1,353.0 694.6,353.6 695.1,353.9 695.6,353.5 696.1,352.7 696.6,351.6 697.1,350.8 697.6,350.6 698.1,350.8 698.6,351.8 699.1,353.4 699.6,355.4 700.1,357.0 700.6,357.9 701.1,358.3 701.6,358.5 702.1,358.8 702.6,359.3 703.1,359.1 703.6,358.5 704.1,357.8 704.6,357.0 705.1,355.8 705.6,354.1 706.1,352.0 706.6,349.9 707.1,348.1 707.6,346.8 708.1,345.8 708.6,345.4 709.1,344.9 709.6,344.7 710.1,344.9 710.6,345.2 711.1,345.4 711.6,345.3 712.1,344.9 712.6,344.5 713.1,344.2 713.6,344.1 714.1,344.4 714.6,344.8 715.1,344.9 715.6,344.6 716.1,343.9 716.6,342.9 717.1,342.1 717.6,341.8 718.1,342.0 718.6,342.6 719.1,343.6 719.6,344.8 720.1,345.5 720.6,345.6 721.1,345.5 721.6,345.5 722.1,346.1 722.6,347.0 723.1,348.0 723.6,348.7 724.1,349.3 724.6,349.8 725.1,350.2 725.6,351.0 726.1,352.0 726.6,353.2 727.1,354.4 727.6,355.7 728.1,357.5 728.6,359.8 729.1,362.5 729.6,365.6 730.1,368.7 730.6,371.5 731.1,373.8 731.6,375.4 732.1,376.5 732.6,377.2 733.1,378.1 733.6,379.0 734.1,379.8 734.6,380.4 735.1,380.9 735.6,381.0 736.1,380.5 736.6,379.4 737.1,378.5 737.6,378.1 738.1,378.4 738.6,378.8 739.1,379.1 739.6,379.0 740.1,378.4 740.6,377.3 741.1,375.9 741.6,374.5 742.1,373.4 742.6,373.0 743.1,372.9 743.6,372.8 744.1,372.0 744.6,370.4 745.1,368.6 745.6,367.5" stroke="#e377c2"/><path d="M96.6,373.9 97.1,373.3 97.6,372.6 98.1,372.2 98.6,372.1 99.1,372.2 99.6,372.0 100.1,371.6 100.6,371.0 101.1,370.6 101.6,370.4 102.1,370.3 102.6,370.2 103.1,370.2 103.6,370.3 104.1,370.6 104.6,371.0 105.1,371.4 105.6,371.9 106.1,372.2 106.6,372.6 107.1,372.8 107.6,372.9 108.1,372.7 108.6,372.4 109.1,372.1 109.6,372.0 110.1,372.1 110.6,372.3 111.1,372.4 111.6,372.2 112.1,371.7 112.6,370.7 113.1,369.4 113.6,367.8 114.1,366.2 114.6,364.9 115.1,364.2 115.6,364.6 116.1,365.3 116.6,366.2 117.1,367.2 117.6,368.4 118.1,369.7 118.6,371.0 119.1,372.2 119.6,373.3 120.1,374.2 120.6,374.8 121.1,375.5 121.6,376.5 122.1,377.5 122.6,378.5 123.1,379.5 123.6,380.4 124.1,381.3 124.6,382.0 125.1,382.6 125.6,383.6 126.1,384.9 126.6,386.2 127.1,387.2 127.6,387.6 128.1,387.4 128.6,386.7 129.1,386.1 129.6,385.7 130.1,385.6 130.6,385.4 131.1,385.2 131.6,385.1 132.1,384.8 132.6,384.5 133.1,383.3 133.6,381.9 134.1,380.4 134.6,378.9 135.1,377.4 135.6,376.1 136.1,374.8 136.6,373.7 137.1,372.4 137.6,370.8 138.1,368.9 138.6,367.0 139.1,365.1 139.6,363.6 140.1,362.4 140.6,361.8 141.1,361.9 141.6,363.8 142.1,365.9 142.6,367.8 143.1,369.5 143.6,370.8 144.1,371.8 144.6,372.5 145.1,373.2 145.6,374.2 146.1,375.4 146.6,376.4 147.1,376.9 147.6,377.1 148.1,376.9 148.6,376.3 149.1,375.7 149.6,375.2 150.1,374.5 150.6,373.9 151.1,373.4 151.6,373.1 152.1,373.0 152.6,372.9 153.1,372.7 153.6,372.1 154.1,371.2 154.6,370.3 155.1,369.4 155.6,368.7 156.1,368.2 156.6,367.7 157.1,367.4 157.6,367.1 158.1,366.5 158.6,364.9 159.1,362.9 159.6,361.5 160.1,361.1 160.6,362.1 161.1,364.2 161.6,366.9 162.1,369.6 162.6,372.1 163.1,374.2 163.6,376.1 164.1,378.2 164.6,380.7 165.1,383.7 165.6,387.3 166.1,391.2 166.6,394.7 167.1,397.4 167.6,397.8 168.1,395.7 168.6,393.3 169.1,390.8 169.6,388.2 170.1,385.4 170.6,382.5 171.1,379.7 171.6,377.1 172.1,374.9 172.6,372.9 173.1,370.6 173.6,368.2 174.1,366.0 174.6,364.3 175.1,363.0 175.6,361.9 176.1,361.2 176.6,361.8 177.1,363.2 177.6,364.8 178.1,366.4 178.6,368.0 179.1,369.6 179.6,371.1 180.1,372.2 180.6,372.8 181.1,372.8 181.6,372.6 182.1,372.0 182.6,371.1 183.1,370.0 183.6,369.0 184.1,368.2 184.6,368.2 185.1,368.5 185.6,369.0 186.1,369.4 186.6,370.0 187.1,370.7 187.6,371.6 188.1,372.8 188.6,374.0 189.1,375.3 189.6,376.5 190.1,377.7 190.6,378.8 191.1,379.8 191.6,380.9 192.1,381.9 192.6,382.4 193.1,382.3 193.6,381.8 194.1,380.9 194.6,379.2 195.1,377.6 195.6,376.1 196.1,374.9 196.6,374.4 197.1,375.1 197.6,376.9 198.1,379.5 198.6,382.3 199.1,384.2 199.6,383.9 200.1,382.8 200.6,381.3 201.1,379.7 201.6,378.1 202.1,376.6 202.6,375.3 203.1,374.2 203.6,373.1 204.1,371.8 204.6,370.2 205.1,368.6 205.6,367.1 206.1,366.9 206.6,368.4 207.1,370.4 207.6,372.7 208.1,374.9 208.6,377.4 209.1,380.0 209.6,382.5 210.1,384.9 210.6,386.9 211.1,388.6 211.6,389.9 212.1,390.9 212.6,391.7 213.1,390.9 213.6,389.7 214.1,388.3 214.6,386.7 215.1,384.8 215.6,382.8 216.1,380.8 216.6,378.8 217.1,376.8 217.6,374.8 218.1,373.0 218.6,371.3 219.1,369.6 219.6,368.2 220.1,367.3 220.6,366.8 221.1,366.4 221.6,366.0 222.1,365.6 222.6,365.5 223.1,365.7 223.6,366.0 224.1,366.0 224.6,365.5 225.1,365.6 225.6,366.2 226.1,367.5 226.6,369.3 227.1,371.5 227.6,373.4 228.1,374.8 228.6,376.1 229.1,377.3 229.6,378.5 230.1,379.8 230.6,381.1 231.1,382.4 231.6,383.4 232.1,383.0 232.6,382.2 233.1,380.7 233.6,378.6 234.1,375.9 234.6,373.5 235.1,370.9 235.6,368.0 236.1,365.0 236.6,362.4 237.1,360.6 237.6,360.0 238.1,361.5 238.6,363.9 239.1,366.0 239.6,368.0 240.1,370.1 240.6,372.3 241.1,374.2 241.6,375.7 242.1,377.0 242.6,377.9 243.1,378.7 243.6,379.4 244.1,380.2 244.6,381.0 245.1,381.4 245.6,382.1 246.1,383.1 246.6,384.3 247.1,385.7 247.6,386.7 248.1,387.0 248.6,386.6 249.1,385.0 249.6,383.4 250.1,382.1 250.6,381.4 251.1,380.9 251.6,380.3 252.1,379.3 252.6,378.0 253.1,376.6 253.6,375.2 254.1,373.2 254.6,370.9 255.1,368.6 255.6,366.4 256.1,364.2 256.6,362.0 257.1,359.6 257.6,357.4 258.1,355.1 258.6,353.0 259.1,353.2 259.6,354.5 260.1,356.7 260.6,359.7 261.1,363.3 261.6,367.1 262.1,370.7 262.6,373.3 263.1,374.6 263.6,376.0 264.1,377.5 264.6,379.1 265.1,380.6 265.6,381.9 266.1,382.8 266.6,383.3 267.1,383.2 267.6,382.5 268.1,381.3 268.6,380.1 269.1,379.1 269.6,378.4 270.1,378.0 270.6,377.4 271.1,376.5 271.6,375.4 272.1,374.4 272.6,373.5 273.1,372.8 273.6,372.2 274.1,371.9 274.6,372.0 275.1,372.4 275.6,372.7 276.1,372.6 276.6,372.3 277.1,372.0 277.6,372.1 278.1,372.4 278.6,372.9 279.1,373.8 279.6,375.0 280.1,376.1 280.6,376.8 281.1,376.9 281.6,376.4 282.1,375.7 282.6,375.1 283.1,374.7 283.6,374.4 284.1,373.9 284.6,372.9 285.1,371.0 285.6,368.5 286.1,366.5 286.6,365.2 287.1,364.8 287.6,364.7 288.1,364.4 288.6,363.8 289.1,363.3 289.6,362.9 290.1,362.8 290.6,362.7 291.1,362.4 291.6,362.3 292.1,362.5 292.6,363.2 293.1,364.2 293.6,365.1 294.1,366.0 294.6,366.7 295.1,367.2 295.6,367.5 296.1,367.5 296.6,367.5 297.1,367.6 297.6,367.8 298.1,368.1 298.6,368.2 299.1,368.5 299.6,368.9 300.1,369.2 300.6,369.2 301.1,368.8 301.6,368.4 302.1,367.9 302.6,367.6 303.1,367.3 303.6,366.8 304.1,366.2 304.6,365.7 305.1,365.3 305.6,365.1 306.1,365.1 306.6,365.3 307.1,365.6 307.6,366.1 308.1,367.0 308.6,368.0 309.1,369.3 309.6,370.6 310.1,372.0 310.6,373.5 311.1,375.2 311.6,377.0 312.1,378.8 312.6,380.8 313.1,382.9 313.6,384.6 314.1,385.6 314.6,385.9 315.1,386.0 315.6,386.2 316.1,386.8 316.6,387.7 317.1,388.4 317.6,388.2 318.1,387.4 318.6,386.5 319.1,386.2 319.6,386.4 320.1,386.7 320.6,386.3 321.1,384.6 321.6,382.2 322.1,379.9 322.6,378.2 323.1,377.2 323.6,376.9 324.1,377.0 324.6,377.0 325.1,376.8 325.6,376.0 326.1,375.0 326.6,374.2 327.1,373.6 327.6,373.2 328.1,372.9 328.6,372.6 329.1,372.1 329.6,371.6 330.1,371.1 330.6,370.7 331.1,370.5 331.6,370.5 332.1,370.4 332.6,370.2 333.1,369.7 333.6,369.3 334.1,368.7 334.6,368.2 335.1,367.8 335.6,367.6 336.1,367.5 336.6,367.5 337.1,367.5 337.6,367.5 338.1,368.0 338.6,368.6 339.1,369.1 339.6,369.5 340.1,369.7 340.6,369.7 341.1,369.4 341.6,368.2 342.1,366.9 342.6,365.5 343.1,363.9 343.6,362.3 344.1,360.9 344.6,359.9 345.1,359.1 345.6,358.2 346.1,356.8 346.6,354.5 347.1,351.6 347.6,348.4 348.1,345.0 348.6,342.4 349.1,341.1 349.6,341.2 350.1,342.5 350.6,343.5 351.1,344.2 351.6,344.7 352.1,345.0 352.6,345.0 353.1,344.8 353.6,344.3 354.1,344.3 354.6,344.7 355.1,344.8 355.6,344.0 356.1,342.4 356.6,340.3 357.1,338.1 357.6,335.8 358.1,334.1 358.6,333.2 359.1,332.8 359.6,332.8 360.1,332.5 360.6,331.5 361.1,329.8 361.6,327.7 362.1,325.7 362.6,324.3 363.1,323.4 363.6,321.9 364.1,320.0 364.6,317.8 365.1,315.6 365.6,313.5 366.1,311.6 366.6,309.8 367.1,307.6 367.6,305.3 368.1,303.0 368.6,300.4 369.1,297.7 369.6,294.8 370.1,292.3 370.6,291.1 371.1,290.2 371.6,289.2 372.1,288.2 372.6,286.9 373.1,285.0 373.6,282.4 374.1,279.7 374.6,277.6 375.1,276.7 375.6,276.8 376.1,276.8 376.6,276.8 377.1,278.5 377.6,279.8 378.1,281.2 378.6,283.2 379.1,285.6 379.6,288.1 380.1,290.4 380.6,292.4 381.1,294.8 381.6,298.2 382.1,301.8 382.6,305.0 383.1,307.3 383.6,308.8 384.1,309.8 384.6,311.0 385.1,312.8 385.6,315.3 386.1,318.1 386.6,320.7 387.1,322.6 387.6,324.1 388.1,325.6 388.6,327.7 389.1,330.3 389.6,332.7 390.1,335.0 390.6,336.6 391.1,337.5 391.6,337.7 392.1,337.5 392.6,337.0 393.1,336.5 393.6,336.3 394.1,336.7 394.6,337.9 395.1,339.5 395.6,340.7 396.1,340.9 396.6,339.7 397.1,337.9 397.6,336.4 398.1,335.8 398.6,336.1 399.1,337.0 399.6,338.1 400.1,338.8 400.6,338.9 401.1,338.3 401.6,337.3 402.1,336.2 402.6,335.4 403.1,334.7 403.6,334.2 404.1,334.0 404.6,334.2 405.1,334.7 405.6,335.5 406.1,336.4 406.6,337.1 407.1,337.5 407.6,337.8 408.1,338.5 408.6,339.6 409.1,340.7 409.6,341.1 410.1,340.8 410.6,339.9 411.1,338.7 411.6,337.4 412.1,336.1 412.6,335.1 413.1,334.6 413.6,335.1 414.1,336.3 414.6,338.1 415.1,339.8 415.6,340.9 416.1,341.4 416.6,341.7 417.1,341.9 417.6,342.2 418.1,342.0 418.6,340.9 419.1,338.7 419.6,335.9 420.1,333.3 420.6,331.7 421.1,331.6 421.6,332.5 422.1,333.8 422.6,335.0 423.1,336.3 423.6,337.9 424.1,339.4 424.6,340.5 425.1,340.8 425.6,340.5 426.1,341.0 426.6,341.7 427.1,343.2 427.6,345.0 428.1,346.8 428.6,349.3 429.1,351.7 429.6,353.4 430.1,354.3 430.6,354.2 431.1,353.6 431.6,353.7 432.1,354.6 432.6,356.1 433.1,357.4 433.6,358.2 434.1,358.4 434.6,358.0 435.1,357.3 435.6,356.4 436.1,355.7 436.6,355.3 437.1,355.1 437.6,354.7 438.1,354.2 438.6,353.5 439.1,352.5 439.6,351.3 440.1,350.2 440.6,349.7 441.1,349.9 441.6,350.8 442.1,351.9 442.6,352.8 443.1,353.5 443.6,353.9 444.1,354.2 444.6,354.4 445.1,354.5 445.6,354.4 446.1,353.9 446.6,353.1 447.1,352.2 447.6,352.0 448.1,352.7 448.6,353.9 449.1,354.8 449.6,354.9 450.1,354.3 450.6,353.1 451.1,352.0 451.6,351.1 452.1,350.4 452.6,350.0 453.1,349.8 453.6,349.7 454.1,350.0 454.6,350.8 455.1,351.9 455.6,353.0 456.1,353.7 456.6,354.0 457.1,353.9 457.6,353.5 458.1,353.0 458.6,352.5 459.1,352.1 459.6,351.8 460.1,351.5 460.6,351.1 461.1,350.8 461.6,350.9 462.1,351.8 462.6,352.9 463.1,353.7 463.6,353.7 464.1,353.0 464.6,352.0 465.1,351.2 465.6,351.0 466.1,351.2 466.6,351.4 467.1,351.3 467.6,350.8 468.1,349.9 468.6,349.1 469.1,349.0 469.6,349.9 470.1,351.6 470.6,353.2 471.1,354.1 471.6,354.4 472.1,354.7 472.6,355.0 473.1,355.2 473.6,354.9 474.1,353.9 474.6,352.6 475.1,351.4 475.6,350.3 476.1,348.4 476.6,346.4 477.1,344.7 477.6,343.7 478.1,343.6 478.6,343.4 479.1,343.4 479.6,343.3 480.1,343.3 480.6,343.4 481.1,343.4 481.6,343.2 482.1,343.1 482.6,343.2 483.1,343.3 483.6,343.5 484.1,343.8 484.6,344.2 485.1,344.5 485.6,344.9 486.1,345.3 486.6,345.8 487.1,346.4 487.6,347.2 488.1,348.3 488.6,349.6 489.1,350.8 489.6,352.3 490.1,354.9 490.6,358.1 491.1,361.2 491.6,363.3 492.1,363.9 492.6,364.0 493.1,363.9 493.6,364.0 494.1,364.4 494.6,364.7 495.1,364.8 495.6,364.7 496.1,364.4 496.6,364.0 497.1,363.3 497.6,362.8 498.1,362.3 498.6,361.9 499.1,361.5 499.6,361.2 500.1,360.9 500.6,360.8 501.1,360.6 501.6,360.3 502.1,360.0 502.6,360.2 503.1,360.9 503.6,362.2 504.1,363.3 504.6,364.0 505.1,364.1 505.6,363.9 506.1,363.7 506.6,363.8 507.1,364.0 507.6,364.2 508.1,364.2 508.6,364.2 509.1,364.3 509.6,364.5 510.1,364.8 510.6,364.8 511.1,364.4 511.6,363.9 512.1,363.2 512.6,362.9 513.1,363.0 513.6,363.3 514.1,363.4 514.6,363.2 515.1,362.7 515.6,361.9 516.1,361.1 516.6,360.2 517.1,359.4 517.6,358.5 518.1,357.8 518.6,357.4 519.1,357.5 519.6,357.6 520.1,358.0 520.6,358.3 521.1,358.6 521.6,359.0 522.1,359.3 522.6,359.4 523.1,359.7 523.6,360.2 524.1,361.1 524.6,362.0 525.1,362.6 525.6,362.9 526.1,362.9 526.6,362.6 527.1,362.4 527.6,362.3 528.1,362.6 528.6,363.1 529.1,363.5 529.6,363.8 530.1,363.9 530.6,364.3 531.1,364.7 531.6,365.1 532.1,365.3 532.6,365.5 533.1,365.9 533.6,366.5 534.1,367.2 534.6,367.9 535.1,368.5 535.6,369.1 536.1,369.7 536.6,370.4 537.1,371.1 537.6,371.8 538.1,372.4 538.6,373.2 539.1,374.4 539.6,375.9 540.1,377.8 540.6,379.8 541.1,381.5 541.6,382.8 542.1,383.8 542.6,384.8 543.1,386.1 543.6,387.9 544.1,389.9 544.6,391.9 545.1,392.0 545.6,391.2 546.1,389.8 546.6,388.3 547.1,386.8 547.6,385.4 548.1,384.1 548.6,383.0 549.1,382.2 549.6,381.7 550.1,381.7 550.6,381.5 551.1,381.2 551.6,380.5 552.1,379.8 552.6,379.0 553.1,378.4 553.6,377.8 554.1,377.2 554.6,376.6 555.1,376.1 555.6,375.8 556.1,375.7 556.6,375.6 557.1,375.6 557.6,375.4 558.1,375.2 558.6,374.8 559.1,374.3 559.6,373.9 560.1,373.5 560.6,373.1 561.1,372.6 561.6,372.1 562.1,371.8 562.6,371.7 563.1,371.7 563.6,372.0 564.1,372.2 564.6,372.4 565.1,372.6 565.6,372.7 566.1,372.7 566.6,372.6 567.1,372.6 567.6,372.7 568.1,372.9 568.6,373.0 569.1,373.1 569.6,373.2 570.1,373.5 570.6,373.9 571.1,374.4 571.6,374.9 572.1,375.2 572.6,375.5 573.1,375.8 573.6,376.1 574.1,376.4 574.6,376.7 575.1,377.0 575.6,377.5 576.1,378.4 576.6,379.7 577.1,381.5 577.6,383.1 578.1,384.4 578.6,385.3 579.1,385.8 579.6,386.1 580.1,386.3 580.6,386.3 581.1,386.3 581.6,386.3 582.1,385.9 582.6,385.0 583.1,383.9 583.6,382.9 584.1,381.8 584.6,380.6 585.1,379.3 585.6,377.8 586.1,376.5 586.6,375.4 587.1,374.3 587.6,373.4 588.1,372.3 588.6,371.2 589.1,370.2 589.6,369.7 590.1,369.7 590.6,370.0 591.1,370.0 591.6,369.6 592.1,368.9 592.6,368.1 593.1,367.6 593.6,367.8 594.1,368.2 594.6,368.6 595.1,368.6 595.6,368.2 596.1,367.5 596.6,366.5 597.1,365.9 597.6,365.6 598.1,365.2 598.6,364.6 599.1,363.5 599.6,362.3 600.1,361.1 600.6,360.3 601.1,360.0 601.6,360.3 602.1,361.3 602.6,362.2 603.1,362.9 603.6,363.2 604.1,363.2 604.6,362.8 605.1,362.4 605.6,362.1 606.1,362.4 606.6,362.8 607.1,363.1 607.6,363.2 608.1,362.9 608.6,362.4 609.1,362.1 609.6,362.0 610.1,362.3 610.6,362.8 611.1,363.5 611.6,364.3 612.1,364.8 612.6,365.0 613.1,365.3 613.6,366.0 614.1,367.0 614.6,368.3 615.1,369.7 615.6,371.0 616.1,372.1 616.6,372.9 617.1,373.4 617.6,373.9 618.1,374.5 618.6,375.2 619.1,376.0 619.6,376.5 620.1,376.8 620.6,376.8 621.1,376.5 621.6,376.0 622.1,375.7 622.6,375.4 623.1,375.0 623.6,374.4 624.1,373.8 624.6,373.6 625.1,373.6 625.6,373.7 626.1,373.4 626.6,372.4 627.1,371.0 627.6,369.5 628.1,368.2 628.6,367.4 629.1,367.1 629.6,367.3 630.1,368.0 630.6,368.9 631.1,370.0 631.6,370.9 632.1,371.3 632.6,371.0 633.1,370.0 633.6,369.0 634.1,368.2 634.6,367.9 635.1,368.0 635.6,368.2 636.1,368.3 636.6,368.2 637.1,368.0 637.6,367.9 638.1,368.4 638.6,369.6 639.1,371.1 639.6,372.7 640.1,373.9 640.6,374.6 641.1,374.8 641.6,374.8 642.1,374.6 642.6,374.4 643.1,374.3 643.6,374.2 644.1,374.2 644.6,374.4 645.1,374.7 645.6,374.8 646.1,374.7 646.6,374.4 647.1,373.9 647.6,373.1 648.1,371.9 648.6,370.6 649.1,369.0 649.6,367.4 650.1,365.8 650.6,364.7 651.1,364.7 651.6,364.8 652.1,365.0 652.6,365.1 653.1,365.2 653.6,365.6 654.1,366.5 654.6,367.5 655.1,368.3 655.6,368.9 656.1,369.3 656.6,369.9 657.1,370.6 657.6,371.1 658.1,371.3 658.6,371.1 659.1,371.1 659.6,371.4 660.1,372.0 660.6,372.6 661.1,373.1 661.6,373.5 662.1,373.8 662.6,374.2 663.1,374.3 663.6,374.2 664.1,373.7 664.6,373.0 665.1,372.0 665.6,370.7 666.1,369.2 666.6,367.5 667.1,365.6 667.6,363.5 668.1,361.5 668.6,359.7 669.1,358.4 669.6,357.6 670.1,357.5 670.6,357.2 671.1,356.8 671.6,356.3 672.1,356.0 672.6,356.0 673.1,356.1 673.6,356.3 674.1,356.4 674.6,356.9 675.1,357.5 675.6,358.3 676.1,358.8 676.6,359.3 677.1,359.8 677.6,360.5 678.1,361.4 678.6,362.1 679.1,362.5 679.6,362.8 680.1,363.1 680.6,363.9 681.1,364.5 681.6,365.2 682.1,365.7 682.6,365.8 683.1,365.5 683.6,364.8 684.1,363.9 684.6,362.6 685.1,361.1 685.6,359.8 686.1,359.2 686.6,359.7 687.1,361.0 687.6,362.5 688.1,363.2 688.6,363.0 689.1,362.3 689.6,361.7 690.1,361.3 690.6,361.0 691.1,360.3 691.6,359.3 692.1,358.2 692.6,357.4 693.1,356.9 693.6,356.8 694.1,356.9 694.6,357.1 695.1,357.2 695.6,356.7 696.1,355.9 696.6,354.9 697.1,354.3 697.6,354.2 698.1,354.3 698.6,354.9 699.1,355.9 699.6,357.3 700.1,358.5 700.6,359.2 701.1,359.5 701.6,359.9 702.1,360.3 702.6,360.9 703.1,360.8 703.6,360.2 704.1,359.5 704.6,358.6 705.1,357.4 705.6,355.7 706.1,353.4 706.6,351.0 707.1,348.7 707.6,346.9 708.1,345.6 708.6,345.0 709.1,344.6 709.6,344.7 710.1,345.2 710.6,345.9 711.1,346.4 711.6,346.6 712.1,346.3 712.6,345.8 713.1,345.2 713.6,344.8 714.1,344.7 714.6,345.0 715.1,345.4 715.6,345.5 716.1,345.0 716.6,344.0 717.1,342.8 717.6,342.0 718.1,341.8 718.6,342.1 719.1,342.8 719.6,343.7 720.1,344.3 720.6,344.3 721.1,344.1 721.6,344.0 722.1,344.3 722.6,345.0 723.1,345.7 723.6,346.3 724.1,346.6 724.6,346.7 725.1,346.8 725.6,347.1 726.1,347.7 726.6,348.5 727.1,349.5 727.6,350.6 728.1,352.3 728.6,354.3 729.1,356.7 729.6,359.4 730.1,362.2 730.6,365.1 731.1,367.7 731.6,369.9 732.1,371.6 732.6,372.8 733.1,373.6 733.6,374.0 734.1,374.1 734.6,374.1 735.1,374.3 735.6,374.4 736.1,374.0 736.6,373.0 737.1,372.0 737.6,371.6 738.1,371.8 738.6,372.3 739.1,372.7 739.6,372.6 740.1,372.0 740.6,371.0 741.1,369.8 741.6,368.6 742.1,367.6 742.6,367.2 743.1,367.2 743.6,367.1 744.1,366.3 744.6,364.8 745.1,363.1 745.6,361.9" stroke="#bcbd22"/><path d="M96.6,376.0 97.1,375.5 97.6,374.9 98.1,374.5 98.6,374.5 99.1,374.4 99.6,374.1 100.1,373.4 100.6,372.5 101.1,371.7 101.6,371.3 102.1,371.2 102.6,371.3 103.1,371.7 103.6,372.2 104.1,372.7 104.6,373.2 105.1,373.4 105.6,373.5 106.1,373.4 106.6,373.5 107.1,373.6 107.6,373.6 108.1,373.4 108.6,372.9 109.1,372.2 109.6,371.6 110.1,371.3 110.6,371.1 111.1,370.8 111.6,370.3 112.1,369.5 112.6,368.3 113.1,367.0 113.6,365.6 114.1,364.4 114.6,363.4 115.1,362.9 115.6,363.5 116.1,364.4 116.6,365.4 117.1,366.4 117.6,367.4 118.1,368.6 118.6,370.0 119.1,371.3 119.6,372.6 120.1,373.9 120.6,375.0 121.1,376.1 121.6,377.3 122.1,378.4 122.6,379.4 123.1,380.3 123.6,381.0 124.1,381.6 124.6,382.2 125.1,382.8 125.6,383.6 126.1,384.8 126.6,386.0 127.1,387.1 127.6,387.7 128.1,387.8 128.6,387.3 129.1,387.0 129.6,386.7 130.1,386.5 130.6,386.4 131.1,386.3 131.6,386.4 132.1,386.3 132.6,385.9 133.1,384.5 133.6,382.7 134.1,380.8 134.6,378.9 135.1,377.3 135.6,375.9 136.1,374.8 136.6,373.8 137.1,372.5 137.6,371.0 138.1,369.4 138.6,367.8 139.1,366.4 139.6,365.1 140.1,364.0 140.6,363.4 141.1,363.7 141.6,365.6 142.1,367.5 142.6,369.1 143.1,370.2 143.6,371.2 144.1,372.1 144.6,373.1 145.1,373.8 145.6,374.5 146.1,374.9 146.6,375.0 147.1,374.8 147.6,374.3 148.1,373.6 148.6,372.9 149.1,372.4 149.6,372.1 150.1,372.0 150.6,372.0 151.1,372.3 151.6,372.7 152.1,373.1 152.6,373.6 153.1,373.9 153.6,373.8 154.1,373.3 154.6,372.6 155.1,371.8 155.6,371.2 156.1,371.0 156.6,371.1 157.1,371.6 157.6,372.2 158.1,372.4 158.6,371.4 159.1,369.3 159.6,367.1 160.1,365.8 160.6,365.8 161.1,366.9 161.6,368.5 162.1,370.4 162.6,372.3 163.1,373.9 163.6,375.5 164.1,377.2 164.6,379.4 165.1,382.1 165.6,385.3 166.1,388.9 166.6,392.3 167.1,394.9 167.6,395.4 168.1,393.7 168.6,391.6 169.1,389.3 169.6,386.9 170.1,384.3 170.6,381.6 171.1,378.8 171.6,376.2 172.1,373.9 172.6,372.1 173.1,370.3 173.6,368.6 174.1,367.2 174.6,366.1 175.1,365.1 175.6,364.2 176.1,363.5 176.6,364.1 177.1,365.5 177.6,367.0 178.1,368.3 178.6,369.4 179.1,370.4 179.6,371.4 180.1,372.2 180.6,372.3 181.1,371.9 181.6,371.3 182.1,370.4 182.6,369.2 183.1,368.0 183.6,366.7 184.1,365.5 184.6,365.4 185.1,365.7 185.6,366.0 186.1,366.5 186.6,367.2 187.1,368.3 187.6,369.7 188.1,371.4 188.6,373.2 189.1,374.8 189.6,376.3 190.1,377.8 190.6,379.2 191.1,380.7 191.6,382.0 192.1,383.1 192.6,383.8 193.1,384.2 193.6,384.5 194.1,384.4 194.6,382.9 195.1,381.1 195.6,379.1 196.1,377.1 196.6,375.6 197.1,375.1 197.6,375.6 198.1,376.9 198.6,378.7 199.1,380.5 199.6,380.9 200.1,380.7 200.6,380.0 201.1,379.0 201.6,377.9 202.1,376.9 202.6,375.8 203.1,374.8 203.6,373.8 204.1,372.4 204.6,370.6 205.1,368.6 205.6,366.8 206.1,366.3 206.6,367.5 207.1,369.5 207.6,371.8 208.1,373.9 208.6,376.1 209.1,378.6 209.6,381.0 210.1,383.4 210.6,385.5 211.1,387.1 211.6,388.3 212.1,389.1 212.6,389.8 213.1,389.0 213.6,387.9 214.1,386.8 214.6,385.4 215.1,383.7 215.6,381.9 216.1,380.2 216.6,378.4 217.1,376.8 217.6,375.1 218.1,373.7 218.6,372.2 219.1,370.5 219.6,368.9 220.1,367.7 220.6,366.9 221.1,366.4 221.6,366.1 222.1,365.9 222.6,365.8 223.1,365.8 223.6,365.8 224.1,365.4 224.6,364.4 225.1,364.3 225.6,365.1 226.1,366.5 226.6,368.6 227.1,371.0 227.6,373.2 228.1,375.1 228.6,377.0 229.1,378.8 229.6,380.3 230.1,381.5 230.6,382.5 231.1,383.4 231.6,384.0 232.1,383.1 232.6,382.2 233.1,380.8 233.6,378.8 234.1,376.3 234.6,373.8 235.1,371.2 235.6,368.5 236.1,365.8 236.6,363.7 237.1,362.5 237.6,362.4 238.1,364.1 238.6,366.4 239.1,368.3 239.6,370.0 240.1,371.7 240.6,373.3 241.1,374.7 241.6,375.8 242.1,376.7 242.6,377.5 243.1,378.2 243.6,379.1 244.1,380.1 244.6,381.0 245.1,381.4 245.6,381.7 246.1,382.0 246.6,382.5 247.1,383.3 247.6,384.2 248.1,385.0 248.6,385.6 249.1,385.0 249.6,384.1 250.1,383.1 250.6,382.4 251.1,381.7 251.6,381.0 252.1,380.0 252.6,378.6 253.1,377.0 253.6,375.2 254.1,372.8 254.6,370.1 255.1,367.4 255.6,364.8 256.1,362.4 256.6,360.0 257.1,357.6 257.6,355.1 258.1,352.8 258.6,350.8 259.1,351.6 259.6,353.9 260.1,356.9 260.6,360.4 261.1,364.2 261.6,368.0 262.1,371.4 262.6,373.9 263.1,374.9 263.6,376.1 264.1,377.5 264.6,379.1 265.1,380.7 265.6,382.4 266.1,383.8 266.6,384.5 267.1,384.5 267.6,383.7 268.1,382.6 268.6,381.7 269.1,381.2 269.6,381.0 270.1,380.9 270.6,380.4 271.1,379.6 271.6,378.1 272.1,376.8 272.6,375.7 273.1,374.9 273.6,374.1 274.1,373.6 274.6,373.4 275.1,373.5 275.6,373.5 276.1,373.2 276.6,372.7 277.1,372.3 277.6,372.2 278.1,372.2 278.6,372.4 279.1,372.8 279.6,373.5 280.1,374.1 280.6,374.4 281.1,374.1 281.6,373.3 282.1,372.1 282.6,370.9 283.1,370.0 283.6,369.4 284.1,368.7 284.6,367.5 285.1,365.6 285.6,363.3 286.1,361.6 286.6,360.5 287.1,360.1 287.6,360.1 288.1,360.1 288.6,360.0 289.1,360.0 289.6,360.0 290.1,359.8 290.6,359.6 291.1,359.4 291.6,359.6 292.1,360.3 292.6,361.3 293.1,362.3 293.6,363.2 294.1,364.1 294.6,364.7 295.1,365.2 295.6,365.3 296.1,365.2 296.6,365.0 297.1,364.9 297.6,365.1 298.1,365.6 298.6,365.7 299.1,366.0 299.6,366.1 300.1,366.0 300.6,365.4 301.1,364.5 301.6,363.4 302.1,362.6 302.6,362.2 303.1,361.9 303.6,361.4 304.1,361.2 304.6,361.0 305.1,361.0 305.6,361.4 306.1,362.2 306.6,363.3 307.1,364.4 307.6,365.6 308.1,366.8 308.6,368.1 309.1,369.5 309.6,371.1 310.1,372.7 310.6,374.3 311.1,376.0 311.6,377.5 312.1,379.2 312.6,380.9 313.1,382.7 313.6,384.1 314.1,384.7 314.6,384.6 315.1,384.1 315.6,383.8 316.1,383.9 316.6,384.3 317.1,384.6 317.6,384.1 318.1,383.0 318.6,382.0 319.1,381.5 319.6,381.6 320.1,381.8 320.6,381.3 321.1,379.6 321.6,377.2 322.1,374.8 322.6,373.3 323.1,372.6 323.6,372.6 324.1,373.0 324.6,373.3 325.1,373.4 325.6,373.3 326.1,373.0 326.6,372.7 327.1,372.5 327.6,372.4 328.1,372.4 328.6,372.3 329.1,372.2 329.6,372.1 330.1,372.0 330.6,372.0 331.1,372.1 331.6,372.0 332.1,371.7 332.6,371.2 333.1,370.5 333.6,370.2 334.1,369.9 334.6,369.8 335.1,369.6 335.6,369.4 336.1,369.2 336.6,369.0 337.1,369.0 337.6,369.2 338.1,369.6 338.6,370.0 339.1,370.4 339.6,370.6 340.1,370.9 340.6,371.3 341.1,371.6 341.6,371.1 342.1,370.4 342.6,369.5 343.1,368.4 343.6,367.2 344.1,366.2 344.6,365.6 345.1,365.2 345.6,364.9 346.1,364.2 346.6,362.8 347.1,360.7 347.6,358.0 348.1,355.0 348.6,352.6 349.1,351.3 349.6,351.0 350.1,351.8 350.6,352.5 351.1,353.1 351.6,353.7 352.1,353.9 352.6,353.9 353.1,353.5 353.6,353.0 354.1,353.1 354.6,353.7 355.1,354.1 355.6,353.7 356.1,352.4 356.6,350.6 357.1,348.7 357.6,346.8 358.1,345.6 358.6,345.0 359.1,345.0 359.6,345.3 360.1,345.3 360.6,344.6 361.1,343.0 361.6,341.0 362.1,339.1 362.6,337.9 363.1,337.2 363.6,336.1 364.1,334.8 364.6,333.3 365.1,331.9 365.6,330.8 366.1,329.8 366.6,328.8 367.1,327.1 367.6,325.3 368.1,323.4 368.6,321.6 369.1,319.7 369.6,317.7 370.1,315.9 370.6,315.0 371.1,314.3 371.6,313.8 372.1,313.0 372.6,311.8 373.1,310.0 373.6,307.5 374.1,305.2 374.6,303.7 375.1,303.4 375.6,304.1 376.1,304.9 376.6,305.3 377.1,306.6 377.6,307.3 378.1,308.1 378.6,309.8 379.1,312.2 379.6,314.7 380.1,316.8 380.6,318.5 381.1,320.2 381.6,322.2 382.1,324.1 382.6,325.5 383.1,326.3 383.6,326.3 384.1,326.2 384.6,326.7 385.1,327.9 385.6,330.1 386.1,332.6 386.6,334.9 387.1,336.7 387.6,338.1 388.1,339.4 388.6,341.1 389.1,343.1 389.6,344.7 390.1,346.0 390.6,346.7 391.1,347.0 391.6,347.1 392.1,346.8 392.6,346.2 393.1,345.7 393.6,345.3 394.1,345.7 394.6,346.7 395.1,348.0 395.6,349.0 396.1,349.0 396.6,347.8 397.1,345.9 397.6,344.4 398.1,343.9 398.6,344.5 399.1,345.8 399.6,347.1 400.1,348.0 400.6,348.3 401.1,348.1 401.6,347.8 402.1,347.4 402.6,346.8 403.1,345.9 403.6,344.8 404.1,343.6 404.6,342.8 405.1,342.6 405.6,343.0 406.1,343.8 406.6,344.8 407.1,345.8 407.6,346.7 408.1,347.8 408.6,349.0 409.1,350.0 409.6,350.5 410.1,350.1 410.6,349.2 411.1,347.9 411.6,346.4 412.1,345.1 412.6,344.2 413.1,343.9 413.6,344.4 414.1,345.6 414.6,347.2 415.1,348.8 415.6,349.9 416.1,350.2 416.6,350.1 417.1,350.0 417.6,350.0 418.1,349.8 418.6,349.2 419.1,347.8 419.6,345.8 420.1,343.7 420.6,342.4 421.1,342.3 421.6,343.1 422.1,344.2 422.6,345.0 423.1,345.9 423.6,347.1 424.1,348.4 424.6,349.4 425.1,349.5 425.6,348.8 426.1,348.3 426.6,348.2 427.1,348.9 427.6,350.2 428.1,351.8 428.6,354.0 429.1,356.3 429.6,358.2 430.1,359.3 430.6,359.6 431.1,359.3 431.6,359.4 432.1,360.2 432.6,361.7 433.1,363.1 433.6,364.1 434.1,364.3 434.6,363.9 435.1,363.1 435.6,362.4 436.1,362.1 436.6,362.1 437.1,362.2 437.6,362.3 438.1,362.2 438.6,361.8 439.1,360.9 439.6,359.5 440.1,358.0 440.6,357.0 441.1,356.8 441.6,357.4 442.1,358.4 442.6,359.3 443.1,359.9 443.6,360.3 444.1,360.7 444.6,361.1 445.1,361.4 445.6,361.5 446.1,361.0 446.6,360.0 447.1,359.0 447.6,358.7 448.1,359.3 448.6,360.5 449.1,361.4 449.6,361.5 450.1,360.5 450.6,358.9 451.1,357.3 451.6,356.0 452.1,355.3 452.6,355.0 453.1,354.9 453.6,355.2 454.1,355.8 454.6,356.8 455.1,358.2 455.6,359.6 456.1,360.6 456.6,360.8 457.1,360.5 457.6,359.9 458.1,358.9 458.6,357.9 459.1,357.0 459.6,356.5 460.1,356.3 460.6,356.1 461.1,356.0 461.6,356.3 462.1,357.1 462.6,358.1 463.1,358.9 463.6,359.2 464.1,358.9 464.6,358.4 465.1,357.9 465.6,357.6 466.1,357.4 466.6,357.1 467.1,356.4 467.6,355.6 468.1,354.6 468.6,354.1 469.1,354.5 469.6,355.9 470.1,358.0 470.6,359.8 471.1,360.6 471.6,360.4 472.1,359.7 472.6,359.1 473.1,358.7 473.6,358.3 474.1,357.7 474.6,357.2 475.1,356.8 475.6,356.4 476.1,355.1 476.6,353.6 477.1,352.2 477.6,351.4 478.1,351.3 478.6,351.3 479.1,351.4 479.6,351.4 480.1,351.2 480.6,351.0 481.1,350.9 481.6,350.7 482.1,350.7 482.6,350.9 483.1,351.3 483.6,351.8 484.1,352.3 484.6,352.8 485.1,353.3 485.6,353.6 486.1,354.0 486.6,354.4 487.1,355.0 487.6,355.7 488.1,356.7 488.6,357.8 489.1,358.8 489.6,359.8 490.1,361.3 490.6,363.1 491.1,364.9 491.6,366.0 492.1,366.1 492.6,365.9 493.1,365.7 493.6,365.8 494.1,366.2 494.6,366.7 495.1,367.0 495.6,367.3 496.1,367.3 496.6,367.0 497.1,366.5 497.6,365.9 498.1,365.6 498.6,365.5 499.1,365.5 499.6,365.5 500.1,365.4 500.6,365.3 501.1,365.1 501.6,364.8 502.1,364.4 502.6,364.5 503.1,365.3 503.6,366.4 504.1,367.4 504.6,367.9 505.1,367.9 505.6,367.6 506.1,367.2 506.6,366.9 507.1,366.7 507.6,366.7 508.1,366.6 508.6,366.6 509.1,366.6 509.6,366.7 510.1,366.9 510.6,367.0 511.1,366.8 511.6,366.5 512.1,365.9 512.6,365.6 513.1,365.5 513.6,365.6 514.1,365.7 514.6,365.5 515.1,364.9 515.6,363.9 516.1,362.7 516.6,361.7 517.1,360.8 517.6,360.1 518.1,359.3 518.6,358.7 519.1,358.4 519.6,358.4 520.1,358.7 520.6,358.8 521.1,358.7 521.6,358.7 522.1,358.9 522.6,359.3 523.1,359.9 523.6,360.6 524.1,361.2 524.6,361.9 525.1,362.4 525.6,362.8 526.1,363.0 526.6,362.9 527.1,362.9 527.6,363.1 528.1,363.5 528.6,364.1 529.1,364.5 529.6,364.4 530.1,364.2 530.6,364.2 531.1,364.3 531.6,364.4 532.1,364.5 532.6,364.7 533.1,365.1 533.6,365.8 534.1,366.7 534.6,367.6 535.1,368.5 535.6,369.4 536.1,370.2 536.6,370.9 537.1,371.4 537.6,371.8 538.1,372.3 538.6,373.1 539.1,374.4 539.6,376.0 540.1,377.9 540.6,379.8 541.1,381.4 541.6,382.7 542.1,383.9 542.6,385.3 543.1,387.0 543.6,388.9 544.1,390.8 544.6,392.2 545.1,391.9 545.6,390.6 546.1,389.2 546.6,387.9 547.1,386.7 547.6,385.4 548.1,384.2 548.6,383.2 549.1,382.4 549.6,382.0 550.1,382.2 550.6,382.4 551.1,382.4 551.6,382.1 552.1,381.7 552.6,381.1 553.1,380.7 553.6,380.2 554.1,379.5 554.6,378.5 555.1,377.5 555.6,376.7 556.1,376.1 556.6,375.9 557.1,375.8 557.6,375.5 558.1,375.1 558.6,374.4 559.1,373.5 559.6,372.8 560.1,372.3 560.6,372.0 561.1,371.5 561.6,370.9 562.1,370.4 562.6,370.1 563.1,370.0 563.6,370.2 564.1,370.5 564.6,370.7 565.1,370.9 565.6,371.1 566.1,371.2 566.6,371.3 567.1,371.7 567.6,372.2 568.1,372.6 568.6,373.0 569.1,373.2 569.6,373.4 570.1,373.6 570.6,374.0 571.1,374.5 571.6,375.0 572.1,375.6 572.6,376.2 573.1,376.8 573.6,377.4 574.1,378.1 574.6,378.7 575.1,379.3 575.6,379.9 576.1,380.6 576.6,381.5 577.1,382.6 577.6,383.8 578.1,384.9 578.6,385.9 579.1,386.7 579.6,387.4 580.1,388.1 580.6,388.6 581.1,389.1 581.6,389.6 582.1,389.6 582.6,388.7 583.1,387.6 583.6,386.2 584.1,384.5 584.6,382.5 585.1,380.4 585.6,378.6 586.1,377.0 586.6,375.7 587.1,374.5 587.6,373.5 588.1,372.3 588.6,371.1 589.1,369.9 589.6,369.2 590.1,368.9 590.6,368.7 591.1,368.4 591.6,367.7 592.1,366.8 592.6,366.0 593.1,365.6 593.6,366.0 594.1,366.5 594.6,367.0 595.1,366.9 595.6,366.4 596.1,365.4 596.6,364.1 597.1,363.2 597.6,362.9 598.1,362.7 598.6,362.4 599.1,361.8 599.6,360.7 600.1,359.4 600.6,358.3 601.1,357.5 601.6,357.3 602.1,357.9 602.6,358.4 603.1,358.7 603.6,358.9 604.1,359.2 604.6,359.3 605.1,359.3 605.6,359.6 606.1,360.2 606.6,360.8 607.1,361.1 607.6,361.2 608.1,361.0 608.6,360.8 609.1,360.6 609.6,360.6 610.1,360.6 610.6,360.7 611.1,361.0 611.6,361.6 612.1,362.1 612.6,362.6 613.1,363.3 613.6,364.3 614.1,365.6 614.6,367.1 615.1,368.5 615.6,369.9 616.1,371.0 616.6,371.7 617.1,372.1 617.6,372.6 618.1,373.3 618.6,374.1 619.1,375.2 619.6,376.2 620.1,377.1 620.6,377.9 621.1,378.4 621.6,378.7 622.1,378.8 622.6,378.6 623.1,378.3 623.6,377.7 624.1,377.1 624.6,376.8 625.1,376.9 625.6,377.2 626.1,377.2 626.6,376.6 627.1,375.5 627.6,374.1 628.1,372.8 628.6,371.9 629.1,371.4 629.6,371.3 630.1,371.7 630.6,372.4 631.1,373.2 631.6,373.9 632.1,374.1 632.6,373.7 633.1,372.6 633.6,371.5 634.1,370.7 634.6,370.4 635.1,370.7 635.6,371.2 636.1,371.8 636.6,372.1 637.1,372.3 637.6,372.6 638.1,373.1 638.6,373.8 639.1,374.7 639.6,375.6 640.1,376.4 640.6,377.0 641.1,377.3 641.6,377.5 642.1,377.3 642.6,377.0 643.1,376.7 643.6,376.3 644.1,376.2 644.6,376.1 645.1,376.1 645.6,375.9 646.1,375.4 646.6,374.6 647.1,373.6 647.6,372.4 648.1,370.6 648.6,368.8 649.1,367.0 649.6,365.2 650.1,363.5 650.6,362.3 651.1,362.4 651.6,362.6 652.1,362.8 652.6,363.0 653.1,363.0 653.6,363.2 654.1,363.8 654.6,364.7 655.1,365.7 655.6,366.5 656.1,367.1 656.6,367.6 657.1,368.0 657.6,368.5 658.1,368.8 658.6,369.1 659.1,369.3 659.6,369.6 660.1,370.1 660.6,370.7 661.1,371.1 661.6,371.4 662.1,371.7 662.6,372.1 663.1,372.4 663.6,372.7 664.1,372.7 664.6,372.4 665.1,371.9 665.6,371.1 666.1,370.0 666.6,368.6 667.1,366.9 667.6,365.0 668.1,363.2 668.6,361.6 669.1,360.4 669.6,359.7 670.1,359.6 670.6,359.5 671.1,359.3 671.6,359.0 672.1,358.6 672.6,358.3 673.1,357.9 673.6,357.7 674.1,357.6 674.6,358.1 675.1,359.0 675.6,360.1 676.1,361.0 676.6,361.8 677.1,362.5 677.6,363.3 678.1,364.1 678.6,364.7 679.1,365.0 679.6,365.2 680.1,365.5 680.6,366.3 681.1,367.1 681.6,368.1 682.1,368.9 682.6,369.4 683.1,369.4 683.6,369.3 684.1,369.1 684.6,368.7 685.1,367.8 685.6,366.9 686.1,366.2 686.6,366.2 687.1,367.1 687.6,368.2 688.1,368.8 688.6,368.8 689.1,368.5 689.6,368.4 690.1,368.5 690.6,368.3 691.1,367.5 691.6,366.3 692.1,365.0 692.6,364.0 693.1,363.3 693.6,363.0 694.1,362.8 694.6,362.8 695.1,362.7 695.6,362.2 696.1,361.4 696.6,360.5 697.1,360.0 697.6,359.9 698.1,360.1 698.6,360.4 699.1,361.1 699.6,361.9 700.1,362.5 700.6,362.6 701.1,362.5 701.6,362.5 702.1,362.7 702.6,363.0 703.1,362.6 703.6,361.9 704.1,361.3 704.6,360.6 705.1,359.5 705.6,357.9 706.1,355.9 706.6,353.9 707.1,352.2 707.6,350.8 708.1,349.7 708.6,349.0 709.1,348.5 709.6,348.4 710.1,348.7 710.6,349.1 711.1,349.2 711.6,349.0 712.1,348.5 712.6,347.9 713.1,347.3 713.6,346.9 714.1,346.7 714.6,346.8 715.1,347.0 715.6,347.3 716.1,347.1 716.6,346.3 717.1,345.2 717.6,344.4 718.1,344.1 718.6,344.4 719.1,345.2 719.6,346.3 720.1,346.9 720.6,346.7 721.1,345.9 721.6,345.1 722.1,344.6 722.6,344.4 723.1,344.4 723.6,344.5 724.1,344.5 724.6,344.6 725.1,344.5 725.6,344.5 726.1,344.5 726.6,344.6 727.1,344.7 727.6,345.3 728.1,346.8 728.6,348.8 729.1,351.4 729.6,354.5 730.1,357.7 730.6,360.8 731.1,363.6 731.6,365.8 732.1,367.4 732.6,368.5 733.1,368.7 733.6,368.7 734.1,368.5 734.6,368.3 735.1,368.2 735.6,368.3 736.1,368.2 736.6,367.7 737.1,367.2 737.6,366.9 738.1,367.0 738.6,367.2 739.1,367.1 739.6,366.6 740.1,365.7 740.6,364.6 741.1,363.4 741.6,362.2 742.1,361.3 742.6,360.7 743.1,360.7 743.6,360.8 744.1,360.4 744.6,359.4 745.1,358.2 745.6,357.3" stroke="#17becf" stroke-dasharray="3.2,1.8"/><path d="M96.6,378.4 97.1,377.9 97.6,377.5 98.1,377.3 98.6,377.1 99.1,376.9 99.6,376.4 100.1,375.7 100.6,375.1 101.1,374.7 101.6,374.5 102.1,374.3 102.6,374.1 103.1,373.8 103.6,373.8 104.1,374.0 104.6,374.2 105.1,374.2 105.6,374.0 106.1,373.8 106.6,373.8 107.1,373.8 107.6,373.9 108.1,373.7 108.6,373.3 109.1,372.7 109.6,372.1 110.1,371.5 110.6,370.8 111.1,370.0 111.6,368.9 112.1,367.6 112.6,366.0 113.1,364.4 113.6,363.1 114.1,362.2 114.6,361.4 115.1,361.1 115.6,361.9 116.1,363.0 116.6,364.3 117.1,365.7 117.6,367.2 118.1,368.6 118.6,370.0 119.1,371.4 119.6,372.8 120.1,374.0 120.6,374.9 121.1,375.7 121.6,376.6 122.1,377.5 122.6,378.4 123.1,379.5 123.6,380.6 124.1,381.7 124.6,382.7 125.1,383.6 125.6,384.4 126.1,385.4 126.6,386.3 127.1,387.1 127.6,387.5 128.1,387.5 128.6,387.0 129.1,386.6 129.6,386.4 130.1,386.2 130.6,386.0 131.1,386.0 131.6,386.0 132.1,385.8 132.6,385.4 133.1,384.0 133.6,382.4 134.1,380.7 134.6,379.1 135.1,377.5 135.6,376.0 136.1,374.7 136.6,373.5 137.1,372.3 137.6,370.9 138.1,369.5 138.6,368.2 139.1,367.0 139.6,366.0 140.1,365.5 140.6,365.3 141.1,365.9 141.6,367.7 142.1,369.4 142.6,370.7 143.1,371.5 143.6,372.0 144.1,372.3 144.6,372.4 145.1,372.5 145.6,372.6 146.1,372.6 146.6,372.4 147.1,372.1 147.6,371.6 148.1,371.0 148.6,370.8 149.1,370.6 149.6,370.6 150.1,370.7 150.6,371.0 151.1,371.4 151.6,372.0 152.1,372.7 152.6,373.4 153.1,374.1 153.6,374.8 154.1,375.3 154.6,375.6 155.1,375.8 155.6,376.1 156.1,376.5 156.6,377.2 157.1,378.1 157.6,378.8 158.1,378.8 158.6,377.5 159.1,374.8 159.6,372.0 160.1,369.9 160.6,369.1 161.1,369.3 161.6,370.3 162.1,371.6 162.6,373.0 163.1,374.1 163.6,375.3 164.1,376.6 164.6,378.1 165.1,380.2 165.6,383.0 166.1,386.2 166.6,389.3 167.1,391.7 167.6,392.3 168.1,390.9 168.6,389.1 169.1,387.0 169.6,384.7 170.1,382.2 170.6,379.7 171.1,377.4 171.6,375.4 172.1,373.9 172.6,372.8 173.1,371.7 173.6,370.6 174.1,369.5 174.6,368.5 175.1,367.7 175.6,367.2 176.1,367.1 176.6,368.0 177.1,369.4 177.6,370.6 178.1,371.4 178.6,371.8 179.1,371.9 179.6,371.9 180.1,371.7 180.6,370.8 181.1,369.4 181.6,367.8 182.1,366.1 182.6,364.5 183.1,363.0 183.6,361.5 184.1,360.1 184.6,360.5 185.1,361.5 185.6,362.7 186.1,364.0 186.6,365.4 187.1,367.0 187.6,368.8 188.1,370.9 188.6,373.0 189.1,375.0 189.6,376.9 190.1,378.7 190.6,380.4 191.1,382.0 191.6,383.7 192.1,385.4 192.6,386.7 193.1,387.6 193.6,388.2 194.1,388.2 194.6,386.3 195.1,384.0 195.6,381.4 196.1,378.8 196.6,376.5 197.1,375.4 197.6,375.2 198.1,375.8 198.6,377.0 199.1,378.4 199.6,379.0 200.1,378.9 200.6,378.3 201.1,377.5 201.6,376.6 202.1,375.8 202.6,375.1 203.1,374.3 203.6,373.7 204.1,372.9 204.6,371.9 205.1,370.8 205.6,369.6 206.1,369.1 206.6,369.8 207.1,370.9 207.6,372.5 208.1,374.2 208.6,376.1 209.1,378.3 209.6,380.4 210.1,382.1 210.6,383.4 211.1,384.4 211.6,385.0 212.1,385.4 212.6,385.8 213.1,385.0 213.6,384.1 214.1,383.2 214.6,382.5 215.1,381.8 215.6,381.0 216.1,380.0 216.6,378.7 217.1,377.0 217.6,375.2 218.1,373.5 218.6,371.7 219.1,369.9 219.6,368.3 220.1,367.0 220.6,366.2 221.1,365.6 221.6,365.3 222.1,365.2 222.6,365.4 223.1,365.8 223.6,366.0 224.1,365.6 224.6,364.5 225.1,364.2 225.6,364.7 226.1,366.1 226.6,368.3 227.1,370.9 227.6,373.4 228.1,375.5 228.6,377.6 229.1,379.4 229.6,381.0 230.1,382.2 230.6,383.1 231.1,383.7 231.6,384.0 232.1,382.8 232.6,381.7 233.1,380.3 233.6,378.5 234.1,376.4 234.6,374.5 235.1,372.7 235.6,370.5 236.1,368.4 236.6,366.8 237.1,366.1 237.6,366.3 238.1,367.8 238.6,369.4 239.1,370.5 239.6,371.5 240.1,372.5 240.6,373.6 241.1,374.5 241.6,375.1 242.1,375.5 242.6,375.8 243.1,376.0 243.6,376.5 244.1,377.2 244.6,378.0 245.1,378.6 245.6,379.1 246.1,379.7 246.6,380.3 247.1,381.0 247.6,381.9 248.1,382.8 248.6,383.5 249.1,383.4 249.6,383.0 250.1,382.6 250.6,382.3 251.1,382.0 251.6,381.5 252.1,380.5 252.6,379.1 253.1,377.4 253.6,375.6 254.1,373.4 254.6,371.0 255.1,368.4 255.6,365.7 256.1,362.8 256.6,359.9 257.1,357.0 257.6,354.2 258.1,351.8 258.6,349.8 259.1,351.0 259.6,353.7 260.1,357.0 260.6,360.7 261.1,364.6 261.6,368.3 262.1,371.6 262.6,374.0 263.1,375.0 263.6,376.2 264.1,377.6 264.6,379.4 265.1,381.3 265.6,383.1 266.1,384.5 266.6,385.2 267.1,385.2 267.6,384.9 268.1,384.5 268.6,384.4 269.1,384.5 269.6,384.6 270.1,384.5 270.6,384.1 271.1,383.4 271.6,382.0 272.1,380.8 272.6,379.6 273.1,378.4 273.6,377.1 274.1,375.8 274.6,374.9 275.1,374.5 275.6,374.2 276.1,373.8 276.6,373.1 277.1,372.4 277.6,372.0 278.1,372.0 278.6,372.2 279.1,372.6 279.6,373.2 280.1,373.4 280.6,373.0 281.1,371.9 281.6,370.2 282.1,368.3 282.6,366.6 283.1,365.4 283.6,364.7 284.1,363.9 284.6,362.7 285.1,360.9 285.6,359.0 286.1,357.9 286.6,357.4 287.1,357.4 287.6,357.5 288.1,357.7 288.6,358.0 289.1,358.4 289.6,358.7 290.1,358.6 290.6,358.2 291.1,357.6 291.6,357.5 292.1,357.9 292.6,358.8 293.1,359.8 293.6,360.9 294.1,361.8 294.6,362.5 295.1,362.9 295.6,363.1 296.1,363.0 296.6,362.9 297.1,362.9 297.6,363.2 298.1,363.5 298.6,363.4 299.1,363.2 299.6,362.9 300.1,362.4 300.6,361.9 301.1,361.4 301.6,360.9 302.1,360.4 302.6,359.8 303.1,359.2 303.6,358.4 304.1,358.3 304.6,358.4 305.1,359.0 305.6,360.2 306.1,361.7 306.6,363.3 307.1,364.7 307.6,366.0 308.1,367.2 308.6,368.5 309.1,369.9 309.6,371.5 310.1,373.1 310.6,374.7 311.1,376.4 311.6,378.1 312.1,379.6 312.6,381.0 313.1,382.0 313.6,382.5 314.1,382.2 314.6,381.3 315.1,380.1 315.6,379.1 316.1,378.5 316.6,378.1 317.1,377.8 317.6,377.2 318.1,376.2 318.6,375.3 319.1,374.8 319.6,374.7 320.1,374.9 320.6,374.5 321.1,373.2 321.6,371.4 322.1,369.7 322.6,368.8 323.1,368.9 323.6,369.6 324.1,370.4 324.6,371.1 325.1,371.6 325.6,371.9 326.1,372.2 326.6,372.6 327.1,373.0 327.6,373.2 328.1,373.4 328.6,373.6 329.1,374.0 329.6,374.4 330.1,374.8 330.6,375.0 331.1,375.0 331.6,375.0 332.1,374.9 332.6,374.8 333.1,374.6 333.6,374.3 334.1,373.8 334.6,373.2 335.1,372.7 335.6,372.3 336.1,372.0 336.6,371.9 337.1,371.8 337.6,371.8 338.1,371.9 338.6,372.1 339.1,372.2 339.6,372.4 340.1,372.6 340.6,372.8 341.1,373.1 341.6,373.2 342.1,373.3 342.6,373.3 343.1,373.1 343.6,372.8 344.1,372.4 344.6,372.0 345.1,371.7 345.6,371.4 346.1,370.7 346.6,369.5 347.1,367.9 347.6,366.0 348.1,364.1 348.6,362.6 349.1,362.0 349.6,362.2 350.1,363.2 350.6,364.1 351.1,364.9 351.6,365.3 352.1,365.3 352.6,364.9 353.1,364.5 353.6,364.2 354.1,364.5 354.6,365.4 355.1,366.2 355.6,366.2 356.1,365.2 356.6,363.5 357.1,361.7 357.6,360.4 358.1,359.8 358.6,359.9 359.1,360.4 359.6,360.8 360.1,360.9 360.6,360.2 361.1,358.8 361.6,357.0 362.1,355.3 362.6,354.3 363.1,353.9 363.6,353.4 364.1,352.8 364.6,352.2 365.1,351.9 365.6,352.0 366.1,352.3 366.6,352.2 367.1,351.5 367.6,350.4 368.1,349.0 368.6,347.5 369.1,345.8 369.6,343.9 370.1,342.3 370.6,341.5 371.1,341.2 371.6,341.2 372.1,340.9 372.6,340.2 373.1,339.0 373.6,337.3 374.1,335.8 374.6,335.3 375.1,336.0 375.6,337.2 376.1,338.3 376.6,338.7 377.1,339.0 377.6,339.0 378.1,339.3 378.6,340.4 379.1,342.2 379.6,344.0 380.1,345.5 380.6,346.5 381.1,347.5 381.6,348.7 382.1,349.8 382.6,350.2 383.1,350.0 383.6,349.2 384.1,348.4 384.6,348.3 385.1,349.0 385.6,350.4 386.1,352.1 386.6,353.5 387.1,354.5 387.6,355.3 388.1,356.1 388.6,357.0 389.1,358.2 389.6,359.1 390.1,359.7 390.6,360.0 391.1,360.0 391.6,359.6 392.1,358.8 392.6,357.6 393.1,356.5 393.6,356.0 394.1,356.3 394.6,357.3 395.1,358.7 395.6,359.7 396.1,360.0 396.6,359.1 397.1,357.6 397.6,356.1 398.1,355.3 398.6,355.5 399.1,356.4 399.6,357.4 400.1,358.3 400.6,358.9 401.1,359.3 401.6,359.5 402.1,359.7 402.6,359.6 403.1,358.9 403.6,357.6 404.1,356.0 404.6,354.7 405.1,354.0 405.6,354.0 406.1,354.5 406.6,355.5 407.1,356.6 407.6,357.9 408.1,359.5 408.6,361.1 409.1,362.4 409.6,362.9 410.1,362.7 410.6,361.9 411.1,360.7 411.6,359.1 412.1,357.5 412.6,356.1 413.1,355.4 413.6,355.6 414.1,356.8 414.6,358.4 415.1,360.0 415.6,361.0 416.1,361.3 416.6,361.2 417.1,360.9 417.6,360.7 418.1,360.4 418.6,359.9 419.1,358.9 419.6,357.6 420.1,356.4 420.6,355.7 421.1,355.7 421.6,355.9 422.1,356.2 422.6,356.4 423.1,356.9 423.6,357.9 424.1,359.1 424.6,360.1 425.1,360.2 425.6,359.5 426.1,358.3 426.6,357.2 427.1,356.9 427.6,357.6 428.1,358.8 428.6,360.5 429.1,362.3 429.6,363.7 430.1,364.6 430.6,365.0 431.1,365.0 431.6,365.4 432.1,366.5 432.6,368.0 433.1,369.6 433.6,370.7 434.1,370.9 434.6,370.5 435.1,369.7 435.6,368.9 436.1,368.5 436.6,368.4 437.1,368.7 437.6,369.1 438.1,369.5 438.6,369.5 439.1,369.1 439.6,368.2 440.1,367.2 440.6,366.5 441.1,366.2 441.6,366.6 442.1,367.1 442.6,367.6 443.1,368.0 443.6,368.2 444.1,368.4 444.6,368.6 445.1,368.7 445.6,368.5 446.1,367.8 446.6,366.7 447.1,365.8 447.6,365.8 448.1,366.6 448.6,367.9 449.1,368.7 449.6,368.5 450.1,367.3 450.6,365.5 451.1,363.7 451.6,362.5 452.1,361.9 452.6,361.9 453.1,362.4 453.6,363.1 454.1,364.0 454.6,365.1 455.1,366.2 455.6,367.0 456.1,367.2 456.6,367.0 457.1,366.4 457.6,365.7 458.1,364.8 458.6,363.9 459.1,363.2 459.6,363.0 460.1,363.1 460.6,363.2 461.1,363.3 461.6,363.7 462.1,364.5 462.6,365.6 463.1,366.5 463.6,367.0 464.1,366.9 464.6,366.5 465.1,365.9 465.6,365.2 466.1,364.5 466.6,363.7 467.1,362.8 467.6,361.9 468.1,361.3 468.6,361.1 469.1,361.6 469.6,362.8 470.1,364.6 470.6,366.2 471.1,367.1 471.6,367.1 472.1,366.8 472.6,366.5 473.1,366.3 473.6,366.2 474.1,365.8 474.6,365.2 475.1,364.5 475.6,363.6 476.1,362.2 476.6,360.9 477.1,360.4 477.6,360.6 478.1,361.3 478.6,361.9 479.1,362.1 479.6,362.0 480.1,361.5 480.6,360.9 481.1,360.2 481.6,359.7 482.1,359.4 482.6,359.5 483.1,360.1 483.6,360.8 484.1,361.6 484.6,362.4 485.1,362.9 485.6,363.4 486.1,363.9 486.6,364.3 487.1,364.5 487.6,364.6 488.1,364.9 488.6,365.5 489.1,366.4 489.6,367.4 490.1,368.7 490.6,370.1 491.1,371.4 491.6,372.0 492.1,371.9 492.6,371.3 493.1,370.7 493.6,370.5 494.1,370.6 494.6,370.9 495.1,371.3 495.6,371.5 496.1,371.5 496.6,371.2 497.1,370.7 497.6,370.2 498.1,370.0 498.6,370.0 499.1,370.1 499.6,370.0 500.1,369.7 500.6,369.5 501.1,369.2 501.6,368.8 502.1,368.7 502.6,369.2 503.1,370.3 503.6,371.7 504.1,372.9 504.6,373.5 505.1,373.3 505.6,372.8 506.1,372.1 506.6,371.5 507.1,371.1 507.6,370.6 508.1,370.2 508.6,369.9 509.1,369.8 509.6,369.9 510.1,370.1 510.6,370.2 511.1,369.9 511.6,369.4 512.1,368.7 512.6,368.2 513.1,368.1 513.6,368.2 514.1,368.3 514.6,367.9 515.1,367.0 515.6,365.8 516.1,364.5 516.6,363.7 517.1,363.2 517.6,362.9 518.1,362.4 518.6,361.8 519.1,361.3 519.6,361.0 520.1,360.9 520.6,360.7 521.1,360.5 521.6,360.5 522.1,360.6 522.6,360.8 523.1,360.9 523.6,361.1 524.1,361.6 524.6,362.4 525.1,363.5 525.6,364.4 526.1,365.0 526.6,364.9 527.1,364.5 527.6,364.0 528.1,364.0 528.6,364.3 529.1,364.7 529.6,364.9 530.1,364.7 530.6,364.8 531.1,364.9 531.6,364.9 532.1,364.8 532.6,364.9 533.1,365.4 533.6,366.3 534.1,367.4 534.6,368.4 535.1,369.1 535.6,369.7 536.1,370.3 536.6,370.7 537.1,371.2 537.6,371.5 538.1,372.0 538.6,372.7 539.1,373.8 539.6,375.3 540.1,377.0 540.6,378.8 541.1,380.3 541.6,381.5 542.1,382.4 542.6,383.5 543.1,384.8 543.6,386.3 544.1,387.8 544.6,389.3 545.1,389.5 545.6,389.1 546.1,388.4 546.6,387.7 547.1,386.8 547.6,385.5 548.1,384.1 548.6,382.7 549.1,381.6 549.6,381.2 550.1,381.6 550.6,382.0 551.1,382.3 551.6,382.1 552.1,381.5 552.6,380.8 553.1,380.3 553.6,379.9 554.1,379.3 554.6,378.5 555.1,377.7 555.6,376.9 556.1,376.2 556.6,375.5 557.1,375.0 557.6,374.5 558.1,374.2 558.6,373.7 559.1,373.0 559.6,372.2 560.1,371.7 560.6,371.3 561.1,371.0 561.6,370.6 562.1,370.3 562.6,370.2 563.1,370.2 563.6,370.3 564.1,370.3 564.6,370.3 565.1,370.4 565.6,370.5 566.1,370.7 566.6,370.8 567.1,370.8 567.6,370.8 568.1,370.9 568.6,371.0 569.1,371.3 569.6,371.7 570.1,372.2 570.6,372.9 571.1,373.7 571.6,374.5 572.1,375.3 572.6,376.0 573.1,376.9 573.6,377.9 574.1,379.0 574.6,380.1 575.1,380.9 575.6,381.6 576.1,382.1 576.6,382.9 577.1,384.0 577.6,385.3 578.1,386.4 578.6,387.2 579.1,387.7 579.6,388.1 580.1,388.6 580.6,389.1 581.1,389.8 581.6,390.7 582.1,391.0 582.6,390.2 583.1,389.0 583.6,387.3 584.1,385.3 584.6,383.0 585.1,380.9 585.6,378.9 586.1,377.3 586.6,375.8 587.1,374.3 587.6,372.9 588.1,371.5 588.6,370.1 589.1,368.9 589.6,367.9 590.1,367.2 590.6,366.5 591.1,365.6 591.6,364.5 592.1,363.5 592.6,362.8 593.1,362.6 593.6,363.4 594.1,364.1 594.6,364.5 595.1,364.2 595.6,363.6 596.1,362.7 596.6,361.6 597.1,360.8 597.6,360.3 598.1,359.9 598.6,359.2 599.1,358.2 599.6,356.8 600.1,355.3 600.6,354.1 601.1,353.6 601.6,353.6 602.1,354.6 602.6,355.5 603.1,356.1 603.6,356.6 604.1,356.9 604.6,357.1 605.1,357.2 605.6,357.6 606.1,358.5 606.6,359.3 607.1,359.8 607.6,360.0 608.1,359.9 608.6,359.8 609.1,359.7 609.6,359.7 610.1,359.9 610.6,360.2 611.1,360.8 611.6,361.6 612.1,362.1 612.6,362.5 613.1,362.9 613.6,363.8 614.1,365.0 614.6,366.5 615.1,368.0 615.6,369.3 616.1,370.4 616.6,371.3 617.1,372.0 617.6,372.9 618.1,374.0 618.6,375.1 619.1,376.2 619.6,377.3 620.1,378.2 620.6,379.2 621.1,380.1 621.6,380.7 622.1,381.0 622.6,381.0 623.1,380.8 623.6,380.5 624.1,380.3 624.6,380.5 625.1,381.1 625.6,381.8 626.1,382.1 626.6,381.5 627.1,380.4 627.6,379.1 628.1,378.0 628.6,377.2 629.1,376.5 629.6,376.1 630.1,376.0 630.6,376.2 631.1,376.7 631.6,377.0 632.1,376.9 632.6,376.3 633.1,375.3 633.6,374.2 634.1,373.5 634.6,373.5 635.1,374.2 635.6,375.2 636.1,376.3 636.6,376.9 637.1,377.2 637.6,377.4 638.1,377.6 638.6,377.9 639.1,378.4 639.6,378.9 640.1,379.4 640.6,379.7 641.1,379.8 641.6,379.8 642.1,379.4 642.6,378.9 643.1,378.3 643.6,377.7 644.1,377.2 644.6,377.1 645.1,377.0 645.6,376.9 646.1,376.4 646.6,375.6 647.1,374.5 647.6,373.1 648.1,371.1 648.6,369.0 649.1,366.8 649.6,364.7 650.1,362.6 650.6,360.9 651.1,360.7 651.6,360.7 652.1,361.0 652.6,361.4 653.1,361.9 653.6,362.4 654.1,362.9 654.6,363.5 655.1,364.0 655.6,364.3 656.1,364.6 656.6,364.9 657.1,365.5 657.6,366.1 658.1,366.5 658.6,366.7 659.1,366.8 659.6,367.0 660.1,367.2 660.6,367.6 661.1,368.1 661.6,368.8 662.1,369.9 662.6,371.3 663.1,372.5 663.6,373.3 664.1,373.6 664.6,373.5 665.1,373.1 665.6,372.6 666.1,371.9 666.6,370.9 667.1,369.6 667.6,368.1 668.1,366.6 668.6,365.4 669.1,364.4 669.6,363.9 670.1,363.8 670.6,363.5 671.1,362.9 671.6,362.3 672.1,361.7 672.6,361.4 673.1,361.2 673.6,361.1 674.1,361.2 674.6,361.8 675.1,362.7 675.6,363.8 676.1,364.6 676.6,365.2 677.1,365.7 677.6,366.3 678.1,366.7 678.6,366.8 679.1,366.7 679.6,366.8 680.1,367.6 680.6,369.0 681.1,370.7 681.6,372.5 682.1,373.9 682.6,374.5 683.1,374.6 683.6,374.5 684.1,374.6 684.6,374.7 685.1,374.6 685.6,374.2 686.1,373.8 686.6,373.7 687.1,374.1 687.6,374.7 688.1,375.1 688.6,375.3 689.1,375.3 689.6,375.4 690.1,375.5 690.6,375.1 691.1,374.0 691.6,372.5 692.1,370.9 692.6,369.7 693.1,369.1 693.6,368.8 694.1,368.7 694.6,368.5 695.1,368.2 695.6,367.5 696.1,366.7 696.6,366.0 697.1,365.6 697.6,365.5 698.1,365.3 698.6,365.0 699.1,364.8 699.6,364.7 700.1,364.5 700.6,364.1 701.1,363.7 701.6,363.5 702.1,363.6 702.6,363.9 703.1,363.8 703.6,363.4 704.1,363.2 704.6,362.7 705.1,361.8 705.6,360.4 706.1,358.7 706.6,357.1 707.1,355.7 707.6,354.8 708.1,354.2 708.6,354.0 709.1,353.9 709.6,354.0 710.1,354.2 710.6,354.3 711.1,354.1 711.6,353.6 712.1,353.1 712.6,352.6 713.1,352.1 713.6,351.8 714.1,351.5 714.6,351.4 715.1,351.4 715.6,351.4 716.1,351.0 716.6,350.1 717.1,349.0 717.6,348.1 718.1,347.8 718.6,348.0 719.1,348.7 719.6,349.6 720.1,350.1 720.6,349.9 721.1,349.2 721.6,348.3 722.1,347.6 722.6,347.2 723.1,346.8 723.6,346.4 724.1,346.1 724.6,345.9 725.1,345.6 725.6,345.2 726.1,344.7 726.6,344.2 727.1,343.9 727.6,344.1 728.1,345.0 728.6,346.4 729.1,348.3 729.6,350.6 730.1,353.3 730.6,356.1 731.1,358.8 731.6,361.2 732.1,362.8 732.6,363.8 733.1,363.8 733.6,363.5 734.1,363.1 734.6,362.6 735.1,362.2 735.6,361.9 736.1,361.6 736.6,360.9 737.1,360.1 737.6,359.7 738.1,359.7 738.6,360.2 739.1,360.2 739.6,359.7 740.1,358.8 740.6,357.8 741.1,356.7 741.6,355.7 742.1,354.7 742.6,354.2 743.1,354.1 743.6,354.3 744.1,354.4 744.6,354.1 745.1,353.6 745.6,353.2" stroke="#1f77b4" stroke-dasharray="3.2,1.8"/><path d="M96.6,379.7 97.1,379.7 97.6,379.9 98.1,380.1 98.6,380.2 99.1,379.7 99.6,378.8 100.1,377.7 100.6,376.8 101.1,376.3 101.6,376.1 102.1,376.1 102.6,376.1 103.1,375.9 103.6,375.7 104.1,375.7 104.6,375.7 105.1,375.7 105.6,375.5 106.1,375.2 106.6,375.0 107.1,374.8 107.6,374.6 108.1,374.2 108.6,373.6 109.1,372.7 109.6,371.8 110.1,370.8 110.6,369.7 111.1,368.4 111.6,367.2 112.1,366.0 112.6,364.7 113.1,363.3 113.6,362.0 114.1,361.0 114.6,360.2 115.1,360.0 115.6,361.2 116.1,362.7 116.6,364.3 117.1,365.9 117.6,367.3 118.1,368.7 118.6,370.1 119.1,371.6 119.6,373.0 120.1,374.1 120.6,374.9 121.1,375.6 121.6,376.3 122.1,377.0 122.6,377.7 123.1,378.6 123.6,379.6 124.1,380.6 124.6,381.3 125.1,382.0 125.6,382.6 126.1,383.5 126.6,384.4 127.1,385.1 127.6,385.5 128.1,385.5 128.6,385.2 129.1,385.1 129.6,385.0 130.1,385.0 130.6,384.9 131.1,385.1 131.6,385.4 132.1,385.6 132.6,385.2 133.1,383.4 133.6,381.3 134.1,379.4 134.6,377.7 135.1,376.5 135.6,375.6 136.1,374.9 136.6,374.4 137.1,373.8 137.6,372.8 138.1,371.5 138.6,370.1 139.1,368.9 139.6,368.0 140.1,367.6 140.6,367.9 141.1,368.9 141.6,370.6 142.1,371.9 142.6,372.7 143.1,373.0 143.6,373.1 144.1,373.0 144.6,372.9 145.1,372.6 145.6,372.1 146.1,371.5 146.6,370.9 147.1,370.4 147.6,369.9 148.1,369.4 148.6,369.2 149.1,369.0 149.6,368.8 150.1,369.0 150.6,369.6 151.1,370.5 151.6,371.5 152.1,372.6 152.6,373.8 153.1,374.8 153.6,375.6 154.1,376.4 154.6,377.1 155.1,377.6 155.6,378.2 156.1,378.9 156.6,379.9 157.1,381.1 157.6,382.1 158.1,382.7 158.6,382.2 159.1,380.0 159.6,377.1 160.1,374.6 160.6,372.8 161.1,371.8 161.6,371.5 162.1,371.7 162.6,372.1 163.1,372.8 163.6,373.6 164.1,374.5 164.6,375.5 165.1,377.0 165.6,379.0 166.1,381.4 166.6,384.0 167.1,386.0 167.6,386.8 168.1,386.0 168.6,384.8 169.1,383.2 169.6,381.5 170.1,379.8 170.6,378.3 171.1,376.8 171.6,375.4 172.1,374.0 172.6,372.9 173.1,372.0 173.6,371.5 174.1,371.2 174.6,371.0 175.1,370.9 175.6,370.8 176.1,371.0 176.6,371.9 177.1,373.0 177.6,373.8 178.1,374.0 178.6,373.7 179.1,373.1 179.6,372.4 180.1,371.8 180.6,370.5 181.1,368.6 181.6,366.5 182.1,364.4 182.6,362.4 183.1,360.2 183.6,358.2 184.1,356.6 184.6,357.2 185.1,358.7 185.6,360.6 186.1,362.8 186.6,365.1 187.1,367.5 187.6,369.8 188.1,371.9 188.6,373.9 189.1,375.6 189.6,377.4 190.1,379.4 190.6,381.4 191.1,383.6 191.6,385.7 192.1,387.7 192.6,389.3 193.1,390.5 193.6,391.2 194.1,391.3 194.6,389.0 195.1,386.3 195.6,383.0 196.1,379.5 196.6,376.2 197.1,374.0 197.6,372.6 198.1,372.2 198.6,372.9 199.1,374.2 199.6,375.4 200.1,376.1 200.6,376.4 201.1,376.5 201.6,376.3 202.1,375.9 202.6,375.1 203.1,374.2 203.6,373.4 204.1,372.5 204.6,371.6 205.1,370.8 205.6,370.0 206.1,369.6 206.6,370.1 207.1,371.0 207.6,372.4 208.1,374.0 208.6,375.7 209.1,377.4 209.6,378.8 210.1,379.8 210.6,380.4 211.1,380.8 211.6,381.1 212.1,381.4 212.6,381.7 213.1,381.2 213.6,380.5 214.1,379.9 214.6,379.3 215.1,378.8 215.6,378.3 216.1,377.6 216.6,376.7 217.1,375.5 217.6,374.1 218.1,372.7 218.6,371.2 219.1,369.8 219.6,368.6 220.1,367.8 220.6,367.4 221.1,367.2 221.6,367.1 222.1,367.1 222.6,367.1 223.1,367.1 223.6,366.8 224.1,366.0 224.6,364.8 225.1,364.7 225.6,365.5 226.1,366.8 226.6,368.8 227.1,371.1 227.6,373.4 228.1,375.6 228.6,377.7 229.1,379.5 229.6,380.8 230.1,381.9 230.6,382.7 231.1,383.5 231.6,384.0 232.1,383.0 232.6,381.9 233.1,380.6 233.6,378.8 234.1,376.7 234.6,374.7 235.1,372.8 235.6,370.8 236.1,369.1 236.6,368.0 237.1,367.8 237.6,368.6 238.1,370.2 238.6,371.7 239.1,372.5 239.6,372.9 240.1,373.2 240.6,373.7 241.1,374.1 241.6,374.5 242.1,374.6 242.6,374.5 243.1,374.1 243.6,373.9 244.1,374.0 244.6,374.5 245.1,375.2 245.6,376.1 246.1,376.8 246.6,377.3 247.1,377.8 247.6,378.5 248.1,379.3 248.6,380.3 249.1,380.7 249.6,380.7 250.1,380.4 250.6,380.0 251.1,379.7 251.6,379.3 252.1,378.7 252.6,377.8 253.1,376.5 253.6,374.9 254.1,372.7 254.6,370.4 255.1,368.0 255.6,365.5 256.1,362.9 256.6,360.3 257.1,357.6 257.6,354.9 258.1,352.6 258.6,350.8 259.1,352.3 259.6,355.3 260.1,358.9 260.6,362.8 261.1,366.6 261.6,370.0 262.1,372.9 262.6,374.9 263.1,375.6 263.6,376.6 264.1,377.8 264.6,379.1 265.1,380.6 265.6,382.0 266.1,383.3 266.6,384.2 267.1,384.7 267.6,384.9 268.1,384.9 268.6,385.0 269.1,385.2 269.6,385.6 270.1,385.9 270.6,386.1 271.1,386.1 271.6,385.2 272.1,384.4 272.6,383.5 273.1,382.2 273.6,380.4 274.1,378.5 274.6,376.9 275.1,376.0 275.6,375.4 276.1,374.7 276.6,373.8 277.1,373.0 277.6,372.5 278.1,372.2 278.6,371.8 279.1,371.5 279.6,371.1 280.1,370.6 280.6,369.6 281.1,368.4 281.6,366.9 282.1,365.3 282.6,363.9 283.1,362.9 283.6,362.0 284.1,361.0 284.6,359.6 285.1,357.7 285.6,355.8 286.1,354.9 286.6,354.3 287.1,354.2 287.6,354.4 288.1,354.8 288.6,355.4 289.1,356.3 289.6,357.0 290.1,357.2 290.6,357.0 291.1,356.6 291.6,356.5 292.1,357.0 292.6,357.8 293.1,359.0 293.6,360.1 294.1,361.1 294.6,361.8 295.1,362.1 295.6,362.3 296.1,362.3 296.6,362.1 297.1,362.1 297.6,362.2 298.1,362.5 298.6,362.4 299.1,362.2 299.6,361.7 300.1,360.9 300.6,359.8 301.1,358.6 301.6,357.7 302.1,356.9 302.6,356.2 303.1,355.7 303.6,355.1 304.1,355.4 304.6,355.9 305.1,356.7 305.6,358.2 306.1,360.1 306.6,362.1 307.1,363.9 307.6,365.3 308.1,366.6 308.6,368.0 309.1,369.6 309.6,371.3 310.1,373.0 310.6,374.7 311.1,376.2 311.6,377.3 312.1,378.1 312.6,378.7 313.1,379.0 313.6,378.9 314.1,378.5 314.6,377.6 315.1,376.5 315.6,375.3 316.1,374.2 316.6,373.3 317.1,372.5 317.6,371.7 318.1,370.9 318.6,370.2 319.1,369.8 319.6,369.6 320.1,369.6 320.6,369.2 321.1,368.0 321.6,366.4 322.1,364.8 322.6,364.2 323.1,364.8 323.6,366.1 324.1,367.6 324.6,368.8 325.1,369.7 325.6,370.4 326.1,371.0 326.6,371.9 327.1,372.8 327.6,373.5 328.1,373.9 328.6,374.3 329.1,374.6 329.6,375.0 330.1,375.6 330.6,376.2 331.1,376.7 331.6,377.1 332.1,377.2 332.6,377.2 333.1,376.8 333.6,376.2 334.1,375.5 334.6,375.1 335.1,375.1 335.6,375.2 336.1,375.4 336.6,375.7 337.1,375.9 337.6,376.0 338.1,376.0 338.6,375.9 339.1,375.7 339.6,375.5 340.1,375.3 340.6,375.1 341.1,375.1 341.6,375.5 342.1,376.1 342.6,376.9 343.1,377.7 343.6,378.2 344.1,378.5 344.6,378.5 345.1,378.4 345.6,378.3 346.1,378.3 346.6,378.2 347.1,378.0 347.6,377.3 348.1,376.1 348.6,374.6 349.1,373.6 349.6,373.4 350.1,374.1 350.6,375.1 351.1,376.0 351.6,376.4 352.1,376.2 352.6,375.7 353.1,375.1 353.6,374.9 354.1,375.3 354.6,376.2 355.1,377.4 355.6,378.0 356.1,377.5 356.6,376.2 357.1,374.8 357.6,374.1 358.1,374.4 358.6,375.4 359.1,376.6 359.6,377.5 360.1,377.9 360.6,377.5 361.1,376.4 361.6,375.0 362.1,373.7 362.6,372.9 363.1,372.5 363.6,372.1 364.1,371.7 364.6,371.5 365.1,371.9 365.6,373.0 366.1,374.2 366.6,375.2 367.1,375.5 367.6,375.3 368.1,374.7 368.6,374.0 369.1,373.1 369.6,372.2 370.1,371.7 370.6,371.7 371.1,372.2 371.6,372.6 372.1,372.6 372.6,372.1 373.1,371.1 373.6,369.9 374.1,369.2 374.6,369.5 375.1,370.8 375.6,372.6 376.1,374.1 376.6,374.8 377.1,374.7 377.6,374.2 378.1,374.2 378.6,375.0 379.1,376.2 379.6,377.2 380.1,377.5 380.6,377.4 381.1,377.2 381.6,377.2 382.1,377.0 382.6,376.4 383.1,375.2 383.6,373.4 384.1,371.5 384.6,370.3 385.1,370.2 385.6,370.9 386.1,371.9 386.6,372.9 387.1,373.6 387.6,374.1 388.1,374.3 388.6,374.5 389.1,374.6 389.6,374.5 390.1,374.1 390.6,373.3 391.1,372.3 391.6,371.3 392.1,370.1 392.6,368.9 393.1,368.0 393.6,367.7 394.1,368.1 394.6,369.1 395.1,370.1 395.6,371.1 396.1,371.6 396.6,371.3 397.1,370.1 397.6,368.6 398.1,367.6 398.6,367.6 399.1,368.4 399.6,369.4 400.1,370.2 400.6,370.7 401.1,371.0 401.6,371.4 402.1,371.9 402.6,372.3 403.1,372.1 403.6,370.9 404.1,369.2 404.6,367.6 405.1,366.8 405.6,366.6 406.1,367.1 406.6,368.0 407.1,369.2 407.6,370.8 408.1,372.5 408.6,374.0 409.1,375.1 409.6,375.4 410.1,375.2 410.6,374.5 411.1,373.4 411.6,371.9 412.1,370.3 412.6,368.8 413.1,367.9 413.6,367.8 414.1,368.5 414.6,369.7 415.1,371.0 415.6,371.9 416.1,372.4 416.6,372.4 417.1,372.2 417.6,371.8 418.1,371.3 418.6,370.8 419.1,370.2 419.6,369.6 420.1,369.1 420.6,368.8 421.1,368.9 421.6,368.8 422.1,368.6 422.6,368.4 423.1,368.5 423.6,369.3 424.1,370.2 424.6,370.8 425.1,370.6 425.6,369.7 426.1,368.3 426.6,367.0 427.1,366.7 427.6,367.1 428.1,368.0 428.6,369.2 429.1,370.5 429.6,371.6 430.1,372.1 430.6,372.1 431.1,371.8 431.6,371.9 432.1,372.8 432.6,374.7 433.1,376.9 433.6,378.8 434.1,379.8 434.6,379.7 435.1,379.0 435.6,378.0 436.1,377.1 436.6,376.6 437.1,376.5 437.6,376.6 438.1,376.8 438.6,376.9 439.1,376.8 439.6,376.2 440.1,375.4 440.6,374.6 441.1,374.2 441.6,374.1 442.1,374.2 442.6,374.3 443.1,374.6 443.6,374.8 444.1,375.1 444.6,375.5 445.1,375.8 445.6,376.0 446.1,375.7 446.6,375.0 447.1,374.4 447.6,374.1 448.1,374.5 448.6,375.1 449.1,375.4 449.6,374.8 450.1,373.1 450.6,370.9 451.1,369.1 451.6,368.0 452.1,367.9 452.6,368.4 453.1,369.3 453.6,370.5 454.1,371.8 454.6,372.9 455.1,373.8 455.6,374.4 456.1,374.4 456.6,374.1 457.1,373.4 457.6,372.6 458.1,371.8 458.6,370.9 459.1,370.4 459.6,370.3 460.1,370.4 460.6,370.5 461.1,370.6 461.6,371.0 462.1,372.0 462.6,373.1 463.1,374.0 463.6,374.4 464.1,374.2 464.6,373.5 465.1,372.5 465.6,371.6 466.1,370.7 466.6,370.0 467.1,369.4 467.6,369.0 468.1,368.9 468.6,369.2 469.1,370.0 469.6,371.2 470.1,372.9 470.6,374.4 471.1,375.1 471.6,374.8 472.1,374.0 472.6,373.3 473.1,372.9 473.6,372.7 474.1,372.6 474.6,372.4 475.1,372.1 475.6,371.5 476.1,370.7 476.6,370.2 477.1,370.3 477.6,370.9 478.1,371.7 478.6,372.3 479.1,372.6 479.6,372.5 480.1,371.8 480.6,370.9 481.1,370.1 481.6,369.5 482.1,369.3 482.6,369.6 483.1,370.3 483.6,371.2 484.1,372.0 484.6,372.8 485.1,373.6 485.6,374.3 486.1,374.8 486.6,375.1 487.1,374.9 487.6,374.5 488.1,374.0 488.6,374.0 489.1,374.3 489.6,374.8 490.1,375.2 490.6,375.5 491.1,375.8 491.6,375.9 492.1,375.8 492.6,375.4 493.1,375.0 493.6,374.8 494.1,374.9 494.6,375.0 495.1,375.0 495.6,375.0 496.1,374.8 496.6,374.5 497.1,374.0 497.6,373.6 498.1,373.4 498.6,373.4 499.1,373.5 499.6,373.5 500.1,373.4 500.6,373.4 501.1,373.2 501.6,373.0 502.1,372.9 502.6,373.3 503.1,374.4 503.6,375.9 504.1,377.3 504.6,378.1 505.1,378.1 505.6,377.4 506.1,376.3 506.6,375.3 507.1,374.6 507.6,374.2 508.1,373.8 508.6,373.4 509.1,373.0 509.6,372.8 510.1,372.7 510.6,372.5 511.1,372.0 511.6,371.1 512.1,370.1 512.6,369.5 513.1,369.4 513.6,369.8 514.1,370.3 514.6,370.4 515.1,369.6 515.6,368.3 516.1,366.9 516.6,365.8 517.1,365.2 517.6,364.8 518.1,364.3 518.6,363.7 519.1,363.3 519.6,363.1 520.1,363.1 520.6,362.9 521.1,362.8 521.6,362.7 522.1,362.9 522.6,363.4 523.1,363.9 523.6,364.4 524.1,364.9 524.6,365.5 525.1,366.1 525.6,366.6 526.1,366.7 526.6,366.3 527.1,365.7 527.6,365.3 528.1,365.2 528.6,365.6 529.1,366.0 529.6,366.0 530.1,365.5 530.6,365.0 531.1,364.7 531.6,364.6 532.1,364.7 532.6,365.0 533.1,365.6 533.6,366.4 534.1,367.4 534.6,368.1 535.1,368.6 535.6,369.0 536.1,369.4 536.6,369.9 537.1,370.5 537.6,371.1 538.1,371.7 538.6,372.6 539.1,373.8 539.6,375.1 540.1,376.6 540.6,378.0 541.1,379.3 541.6,380.1 542.1,380.8 542.6,381.4 543.1,382.4 543.6,383.6 544.1,385.1 544.6,386.5 545.1,386.8 545.6,386.5 546.1,386.1 546.6,385.6 547.1,384.9 547.6,383.9 548.1,382.9 548.6,382.0 549.1,381.6 549.6,381.8 550.1,382.5 550.6,382.9 551.1,382.9 551.6,382.5 552.1,381.8 552.6,381.2 553.1,380.8 553.6,380.6 554.1,380.2 554.6,379.5 555.1,378.8 555.6,378.1 556.1,377.5 556.6,376.8 557.1,375.9 557.6,374.9 558.1,374.1 558.6,373.3 559.1,372.7 559.6,372.1 560.1,371.6 560.6,371.1 561.1,370.5 561.6,369.8 562.1,369.4 562.6,369.3 563.1,369.4 563.6,369.7 564.1,369.7 564.6,369.6 565.1,369.6 565.6,369.5 566.1,369.5 566.6,369.5 567.1,369.6 567.6,370.0 568.1,370.7 568.6,371.5 569.1,372.1 569.6,372.6 570.1,372.9 570.6,373.4 571.1,374.0 571.6,374.8 572.1,375.7 572.6,376.6 573.1,377.5 573.6,378.4 574.1,379.3 574.6,380.0 575.1,380.7 575.6,381.3 576.1,381.9 576.6,382.7 577.1,383.8 577.6,384.9 578.1,385.9 578.6,386.7 579.1,387.2 579.6,387.7 580.1,388.3 580.6,389.1 581.1,390.1 581.6,391.0 582.1,391.2 582.6,390.3 583.1,389.1 583.6,387.5 584.1,385.7 584.6,383.6 585.1,381.5 585.6,379.4 586.1,377.6 586.6,375.9 587.1,374.4 587.6,373.0 588.1,371.6 588.6,370.0 589.1,368.5 589.6,367.3 590.1,366.3 590.6,365.4 591.1,364.3 591.6,363.2 592.1,362.3 592.6,361.8 593.1,361.9 593.6,362.8 594.1,363.6 594.6,363.9 595.1,363.7 595.6,363.1 596.1,362.3 596.6,361.1 597.1,360.2 597.6,359.5 598.1,358.8 598.6,358.1 599.1,357.0 599.6,355.7 600.1,354.4 600.6,353.5 601.1,353.1 601.6,353.1 602.1,354.1 602.6,354.8 603.1,355.3 603.6,355.9 604.1,356.4 604.6,356.9 605.1,357.5 605.6,358.3 606.1,359.5 606.6,360.4 607.1,360.8 607.6,360.5 608.1,360.0 608.6,359.6 609.1,359.8 609.6,360.3 610.1,360.9 610.6,361.4 611.1,361.8 611.6,362.3 612.1,362.5 612.6,362.6 613.1,363.1 613.6,364.0 614.1,365.2 614.6,366.7 615.1,368.2 615.6,369.6 616.1,370.8 616.6,371.8 617.1,372.6 617.6,373.5 618.1,374.6 618.6,375.9 619.1,377.4 619.6,379.1 620.1,380.8 620.6,382.3 621.1,383.4 621.6,383.9 622.1,383.9 622.6,383.6 623.1,383.2 623.6,382.9 624.1,382.7 624.6,383.2 625.1,384.1 625.6,385.3 626.1,386.0 626.6,385.9 627.1,385.1 627.6,383.8 628.1,382.4 628.6,381.0 629.1,379.8 629.6,379.1 630.1,379.0 630.6,379.5 631.1,380.1 631.6,380.6 632.1,380.5 632.6,379.8 633.1,378.7 633.6,377.5 634.1,376.7 634.6,376.7 635.1,377.3 635.6,378.5 636.1,379.8 636.6,380.8 637.1,381.4 637.6,381.9 638.1,382.1 638.6,382.2 639.1,382.2 639.6,382.1 640.1,381.8 640.6,381.5 641.1,381.3 641.6,381.0 642.1,380.6 642.6,379.9 643.1,379.1 643.6,378.3 644.1,377.7 644.6,377.5 645.1,377.5 645.6,377.3 646.1,376.6 646.6,375.4 647.1,374.0 647.6,372.3 648.1,370.1 648.6,367.7 649.1,365.3 649.6,362.8 650.1,360.3 650.6,358.2 651.1,358.0 651.6,358.1 652.1,358.6 652.6,359.1 653.1,359.5 653.6,359.9 654.1,360.5 654.6,361.3 655.1,362.0 655.6,362.6 656.1,363.0 656.6,363.3 657.1,363.7 657.6,364.4 658.1,365.2 658.6,365.9 659.1,366.4 659.6,366.8 660.1,367.0 660.6,367.0 661.1,367.0 661.6,367.1 662.1,367.9 662.6,368.9 663.1,370.1 663.6,371.1 664.1,372.0 664.6,372.7 665.1,373.3 665.6,373.8 666.1,374.0 666.6,373.8 667.1,373.1 667.6,371.7 668.1,370.1 668.6,368.7 669.1,367.9 669.6,367.6 670.1,367.7 670.6,367.8 671.1,367.5 671.6,366.9 672.1,366.2 672.6,365.7 673.1,365.5 673.6,365.5 674.1,365.7 674.6,366.3 675.1,367.1 675.6,368.0 676.1,368.9 676.6,369.8 677.1,370.5 677.6,371.1 678.1,371.5 678.6,371.4 679.1,371.1 679.6,370.9 680.1,371.3 680.6,372.4 681.1,373.8 681.6,375.3 682.1,376.5 682.6,377.3 683.1,377.9 683.6,378.6 684.1,379.5 684.6,380.4 685.1,380.8 685.6,380.8 686.1,380.5 686.6,380.4 687.1,380.6 687.6,381.1 688.1,381.5 688.6,381.8 689.1,381.9 689.6,382.0 690.1,381.9 690.6,381.5 691.1,380.5 691.6,379.3 692.1,378.1 692.6,377.1 693.1,376.4 693.6,375.9 694.1,375.5 694.6,375.0 695.1,374.3 695.6,373.5 696.1,372.7 696.6,372.1 697.1,371.9 697.6,371.8 698.1,371.6 698.6,371.2 699.1,370.6 699.6,370.1 700.1,369.5 700.6,368.9 701.1,368.4 701.6,368.1 702.1,368.0 702.6,367.9 703.1,367.6 703.6,367.3 704.1,367.0 704.6,366.5 705.1,365.7 705.6,364.4 706.1,362.9 706.6,361.7 707.1,360.8 707.6,360.2 708.1,359.8 708.6,359.6 709.1,359.4 709.6,359.2 710.1,359.0 710.6,358.9 711.1,358.8 711.6,358.8 712.1,358.8 712.6,358.6 713.1,358.3 713.6,357.7 714.1,357.1 714.6,356.7 715.1,356.5 715.6,356.6 716.1,356.4 716.6,355.7 717.1,354.6 717.6,353.7 718.1,353.3 718.6,353.3 719.1,353.8 719.6,354.5 720.1,354.9 720.6,354.7 721.1,353.7 721.6,352.5 722.1,351.4 722.6,350.5 723.1,349.7 723.6,349.1 724.1,348.5 724.6,347.9 725.1,347.0 725.6,345.9 726.1,344.8 726.6,343.8 727.1,343.2 727.6,343.1 728.1,343.7 728.6,344.7 729.1,346.1 729.6,347.9 730.1,350.0 730.6,352.4 731.1,354.9 731.6,357.2 732.1,359.0 732.6,360.1 733.1,359.9 733.6,359.4 734.1,358.7 734.6,358.0 735.1,357.6 735.6,357.5 736.1,357.3 736.6,356.6 737.1,355.6 737.6,354.6 738.1,354.2 738.6,354.3 739.1,354.2 739.6,353.8 740.1,353.1 740.6,352.6 741.1,352.3 741.6,351.9 742.1,351.5 742.6,351.2 743.1,351.2 743.6,351.5 744.1,351.7 744.6,351.5 745.1,351.2 745.6,350.9" stroke="#17becf"/><path d="M96.6,380.8 97.1,381.2 97.6,381.6 98.1,382.0 98.6,382.1 99.1,381.6 99.6,380.6 100.1,379.4 100.6,378.4 101.1,377.7 101.6,377.3 102.1,377.2 102.6,377.1 103.1,376.9 103.6,376.7 104.1,376.6 104.6,376.6 105.1,376.6 105.6,376.4 106.1,376.1 106.6,375.9 107.1,375.9 107.6,375.8 108.1,375.5 108.6,374.7 109.1,373.6 109.6,372.2 110.1,370.8 110.6,369.4 111.1,368.2 111.6,367.0 112.1,365.8 112.6,364.5 113.1,363.4 113.6,362.5 114.1,361.9 114.6,361.5 115.1,361.3 115.6,362.3 116.1,363.7 116.6,365.2 117.1,366.8 117.6,368.3 118.1,369.6 118.6,370.8 119.1,371.9 119.6,373.1 120.1,374.3 120.6,375.2 121.1,375.9 121.6,376.5 122.1,376.8 122.6,377.2 123.1,377.6 123.6,378.2 124.1,378.8 124.6,379.4 125.1,379.9 125.6,380.6 126.1,381.5 126.6,382.4 127.1,383.3 127.6,383.8 128.1,384.0 128.6,383.8 129.1,383.5 129.6,383.0 130.1,382.4 130.6,382.0 131.1,382.0 131.6,382.4 132.1,382.6 132.6,382.3 133.1,381.1 133.6,379.7 134.1,378.5 134.6,377.5 135.1,376.5 135.6,375.6 136.1,374.7 136.6,373.8 137.1,373.0 137.6,372.2 138.1,371.5 138.6,371.0 139.1,370.7 139.6,370.6 140.1,370.6 140.6,371.0 141.1,371.8 141.6,373.0 142.1,374.0 142.6,374.5 143.1,374.6 143.6,374.3 144.1,373.8 144.6,373.2 145.1,372.2 145.6,371.1 146.1,369.9 146.6,368.7 147.1,367.6 147.6,366.6 148.1,365.8 148.6,366.0 149.1,366.3 149.6,367.0 150.1,367.9 150.6,368.9 151.1,370.2 151.6,371.5 152.1,372.8 152.6,374.3 153.1,375.6 153.6,376.8 154.1,377.9 154.6,378.9 155.1,379.8 155.6,380.8 156.1,382.0 156.6,383.5 157.1,385.1 157.6,386.6 158.1,387.6 158.6,387.7 159.1,386.0 159.6,383.2 160.1,380.3 160.6,377.8 161.1,375.7 161.6,374.3 162.1,373.3 162.6,372.9 163.1,372.7 163.6,372.8 164.1,372.9 164.6,373.2 165.1,373.9 165.6,375.1 166.1,376.8 166.6,378.7 167.1,380.3 167.6,381.0 168.1,380.6 168.6,379.8 169.1,378.8 169.6,377.7 170.1,376.7 170.6,375.9 171.1,375.2 171.6,374.7 172.1,374.3 172.6,374.2 173.1,374.2 173.6,374.0 174.1,373.9 174.6,373.7 175.1,373.7 175.6,374.0 176.1,375.0 176.6,376.2 177.1,377.3 177.6,377.7 178.1,377.4 178.6,376.3 179.1,374.9 179.6,373.2 180.1,371.7 180.6,369.6 181.1,367.1 181.6,364.6 182.1,362.5 182.6,360.5 183.1,358.9 183.6,357.3 184.1,356.0 184.6,356.8 185.1,358.5 185.6,360.4 186.1,362.7 186.6,365.1 187.1,367.5 187.6,369.8 188.1,372.0 188.6,374.1 189.1,375.9 189.6,377.8 190.1,379.8 190.6,381.8 191.1,383.8 191.6,385.7 192.1,387.6 192.6,389.1 193.1,390.4 193.6,391.5 194.1,391.9 194.6,389.6 195.1,386.7 195.6,383.3 196.1,379.7 196.6,376.4 197.1,374.1 197.6,372.3 198.1,371.0 198.6,370.6 199.1,371.2 199.6,372.4 200.1,373.2 200.6,373.7 201.1,374.2 201.6,374.7 202.1,375.0 202.6,374.9 203.1,374.5 203.6,373.9 204.1,373.1 204.6,372.4 205.1,372.0 205.6,371.8 206.1,371.7 206.6,372.0 207.1,372.5 207.6,373.2 208.1,374.1 208.6,375.1 209.1,376.3 209.6,377.1 210.1,377.5 210.6,377.6 211.1,377.6 211.6,377.6 212.1,377.7 212.6,377.8 213.1,377.4 213.6,376.7 214.1,376.1 214.6,375.7 215.1,375.7 215.6,375.9 216.1,376.0 216.6,375.9 217.1,375.3 217.6,374.3 218.1,373.2 218.6,371.8 219.1,370.4 219.6,369.2 220.1,368.2 220.6,367.7 221.1,367.4 221.6,367.3 222.1,367.4 222.6,367.6 223.1,367.6 223.6,367.1 224.1,366.3 224.6,365.1 225.1,365.0 225.6,365.8 226.1,367.3 226.6,369.2 227.1,371.5 227.6,373.7 228.1,375.7 228.6,377.7 229.1,379.5 229.6,380.8 230.1,381.8 230.6,382.3 231.1,382.5 231.6,382.2 232.1,380.9 232.6,379.9 233.1,378.9 233.6,377.8 234.1,376.5 234.6,375.2 235.1,374.1 235.6,372.9 236.1,372.0 236.6,371.5 237.1,371.8 237.6,373.0 238.1,374.5 238.6,375.5 239.1,375.6 239.6,375.1 240.1,374.5 240.6,374.0 241.1,373.6 241.6,373.5 242.1,373.2 242.6,372.8 243.1,372.1 243.6,371.5 244.1,371.4 244.6,371.9 245.1,373.0 245.6,374.1 246.1,375.0 246.6,375.5 247.1,375.9 247.6,376.6 248.1,377.5 248.6,378.6 249.1,379.3 249.6,379.6 250.1,379.7 250.6,379.6 251.1,379.6 251.6,379.6 252.1,379.1 252.6,378.2 253.1,376.9 253.6,375.3 254.1,373.5 254.6,371.5 255.1,369.3 255.6,367.0 256.1,364.5 256.6,362.1 257.1,359.8 257.6,357.6 258.1,355.7 258.6,354.3 259.1,355.7 259.6,358.4 260.1,361.7 260.6,365.0 261.1,367.9 261.6,370.5 262.1,372.8 262.6,374.4 263.1,375.0 263.6,375.8 264.1,376.8 264.6,378.1 265.1,379.6 265.6,381.0 266.1,382.3 266.6,383.0 267.1,383.3 267.6,383.6 268.1,384.2 268.6,385.1 269.1,386.3 269.6,387.6 270.1,388.7 270.6,389.3 271.1,389.3 271.6,387.8 272.1,386.1 272.6,384.7 273.1,383.5 273.6,382.2 274.1,380.9 274.6,379.6 275.1,378.6 275.6,377.8 276.1,376.9 276.6,375.8 277.1,374.6 277.6,373.6 278.1,372.6 278.6,371.6 279.1,370.9 279.6,370.3 280.1,369.6 280.6,368.6 281.1,367.4 281.6,365.9 282.1,364.2 282.6,362.5 283.1,360.9 283.6,359.4 284.1,357.8 284.6,356.1 285.1,354.3 285.6,352.9 286.1,352.9 286.6,353.2 287.1,353.8 287.6,354.5 288.1,355.4 288.6,356.5 289.1,357.6 289.6,358.2 290.1,357.9 290.6,357.1 291.1,356.3 291.6,355.9 292.1,356.4 292.6,357.4 293.1,358.8 293.6,360.2 294.1,361.3 294.6,362.2 295.1,362.6 295.6,362.7 296.1,362.5 296.6,362.0 297.1,361.7 297.6,361.6 298.1,361.9 298.6,361.7 299.1,361.3 299.6,360.5 300.1,359.3 300.6,358.0 301.1,356.8 301.6,356.0 302.1,355.4 302.6,355.0 303.1,354.3 303.6,353.4 304.1,353.2 304.6,353.4 305.1,354.3 305.6,356.0 306.1,358.3 306.6,360.8 307.1,363.0 307.6,364.8 308.1,366.5 308.6,368.2 309.1,369.8 309.6,371.5 310.1,373.0 310.6,374.4 311.1,375.6 311.6,376.4 312.1,376.9 312.6,377.2 313.1,377.2 313.6,376.7 314.1,375.7 314.6,374.3 315.1,372.7 315.6,371.1 316.1,369.7 316.6,368.5 317.1,367.6 317.6,366.7 318.1,366.0 318.6,365.3 319.1,364.5 319.6,363.9 320.1,363.3 320.6,362.6 321.1,361.7 321.6,360.8 322.1,360.1 322.6,360.1 323.1,361.1 323.6,362.5 324.1,364.1 324.6,365.8 325.1,367.6 325.6,369.5 326.1,371.2 326.6,372.6 327.1,373.8 327.6,374.5 328.1,374.9 328.6,375.5 329.1,376.2 329.6,377.0 330.1,377.9 330.6,378.6 331.1,379.1 331.6,379.3 332.1,379.3 332.6,379.3 333.1,379.1 333.6,378.8 334.1,378.4 334.6,378.1 335.1,378.0 335.6,377.9 336.1,377.8 336.6,377.6 337.1,377.4 337.6,377.3 338.1,377.2 338.6,377.1 339.1,376.9 339.6,376.6 340.1,376.4 340.6,376.2 341.1,376.4 341.6,377.3 342.1,378.5 342.6,380.0 343.1,381.5 343.6,382.9 344.1,384.1 344.6,385.1 345.1,385.6 345.6,386.0 346.1,386.2 346.6,386.3 347.1,386.2 347.6,385.9 348.1,385.5 348.6,385.0 349.1,384.8 349.6,385.1 350.1,385.7 350.6,386.8 351.1,387.9 351.6,388.4 352.1,388.4 352.6,387.8 353.1,387.2 353.6,386.9 354.1,387.0 354.6,387.8 355.1,389.0 355.6,390.0 356.1,390.1 356.6,389.3 357.1,388.5 357.6,388.5 358.1,389.5 358.6,391.0 359.1,392.3 359.6,393.1 360.1,393.4 360.6,393.1 361.1,392.2 361.6,391.0 362.1,390.2 362.6,389.9 363.1,390.1 363.6,390.7 364.1,391.2 364.6,392.0 365.1,393.3 365.6,395.2 366.1,397.4 366.6,399.3 367.1,400.4 367.6,400.7 368.1,400.5 368.6,400.3 369.1,400.1 369.6,400.2 370.1,400.6 370.6,401.4 371.1,402.5 371.6,403.6 372.1,404.1 372.6,404.1 373.1,403.7 373.6,403.2 374.1,403.2 374.6,403.9 375.1,405.4 375.6,407.1 376.1,408.7 376.6,409.5 377.1,408.6 377.6,407.6 378.1,407.0 378.6,407.3 379.1,408.0 379.6,408.4 380.1,408.2 380.6,407.4 381.1,406.4 381.6,405.2 382.1,404.0 382.6,402.4 383.1,400.3 383.6,397.8 384.1,395.2 384.6,393.4 385.1,392.6 385.6,392.5 386.1,392.5 386.6,392.4 387.1,392.3 387.6,392.0 388.1,391.5 388.6,390.8 389.1,389.9 389.6,388.9 390.1,387.7 390.6,386.3 391.1,385.0 391.6,383.8 392.1,382.4 392.6,381.2 393.1,380.4 393.6,380.4 394.1,381.0 394.6,381.7 395.1,382.3 395.6,382.9 396.1,383.2 396.6,383.0 397.1,381.9 397.6,380.4 398.1,379.2 398.6,379.1 399.1,380.0 399.6,381.2 400.1,382.3 400.6,382.9 401.1,383.3 401.6,383.7 402.1,384.2 402.6,384.7 403.1,384.4 403.6,383.2 404.1,381.3 404.6,379.5 405.1,378.3 405.6,378.0 406.1,378.4 406.6,379.4 407.1,381.0 407.6,382.8 408.1,384.7 408.6,386.2 409.1,387.2 409.6,387.6 410.1,387.6 410.6,387.3 411.1,386.6 411.6,385.5 412.1,384.0 412.6,382.4 413.1,381.4 413.6,381.1 414.1,381.7 414.6,382.7 415.1,383.6 415.6,384.2 416.1,384.3 416.6,384.2 417.1,383.8 417.6,383.3 418.1,382.9 418.6,382.7 419.1,382.9 419.6,383.3 420.1,383.7 420.6,383.8 421.1,383.6 421.6,382.9 422.1,382.0 422.6,381.3 423.1,381.1 423.6,381.4 424.1,381.9 424.6,382.2 425.1,381.9 425.6,380.9 426.1,378.9 426.6,376.8 427.1,375.5 427.6,375.1 428.1,375.4 428.6,376.1 429.1,377.0 429.6,377.8 430.1,378.4 430.6,378.8 431.1,379.1 431.6,379.5 432.1,380.3 432.6,381.7 433.1,383.3 433.6,384.7 434.1,385.3 434.6,385.2 435.1,384.8 435.6,384.4 436.1,384.2 436.6,384.0 437.1,384.0 437.6,384.2 438.1,384.5 438.6,385.0 439.1,385.6 439.6,385.9 440.1,385.8 440.6,385.4 441.1,385.0 441.6,384.6 442.1,384.4 442.6,384.4 443.1,384.5 443.6,384.5 444.1,384.5 444.6,384.4 445.1,384.2 445.6,383.9 446.1,383.3 446.6,382.6 447.1,382.0 447.6,381.8 448.1,382.1 448.6,382.8 449.1,383.2 449.6,382.9 450.1,381.7 450.6,379.8 451.1,378.0 451.6,376.8 452.1,376.3 452.6,376.4 453.1,377.0 453.6,377.7 454.1,378.7 454.6,379.8 455.1,380.9 455.6,381.6 456.1,381.7 456.6,381.3 457.1,380.7 457.6,379.9 458.1,379.0 458.6,378.1 459.1,377.5 459.6,377.4 460.1,377.8 460.6,378.1 461.1,378.5 461.6,379.0 462.1,379.8 462.6,380.9 463.1,381.9 463.6,382.6 464.1,382.6 464.6,382.1 465.1,381.2 465.6,380.1 466.1,378.9 466.6,377.6 467.1,376.5 467.6,375.8 468.1,375.7 468.6,376.2 469.1,377.2 469.6,378.6 470.1,380.2 470.6,381.6 471.1,382.4 471.6,382.3 472.1,381.8 472.6,381.3 473.1,381.2 473.6,381.4 474.1,381.6 474.6,381.5 475.1,380.9 475.6,380.0 476.1,379.4 476.6,379.2 477.1,379.8 477.6,380.9 478.1,382.0 478.6,383.0 479.1,383.5 479.6,383.4 480.1,382.8 480.6,382.0 481.1,381.3 481.6,380.7 482.1,380.5 482.6,380.8 483.1,381.4 483.6,382.3 484.1,383.2 484.6,383.9 485.1,384.5 485.6,385.1 486.1,385.7 486.6,386.1 487.1,385.9 487.6,385.0 488.1,383.9 488.6,383.1 489.1,382.8 489.6,382.7 490.1,382.3 490.6,381.5 491.1,380.6 491.6,379.8 492.1,379.3 492.6,378.7 493.1,378.2 493.6,378.0 494.1,378.0 494.6,378.0 495.1,377.9 495.6,377.7 496.1,377.4 496.6,377.2 497.1,377.1 497.6,377.1 498.1,377.4 498.6,377.9 499.1,378.2 499.6,378.3 500.1,378.3 500.6,378.3 501.1,378.4 501.6,378.3 502.1,378.3 502.6,378.4 503.1,379.1 503.6,380.0 504.1,381.1 504.6,381.8 505.1,381.8 505.6,381.3 506.1,380.4 506.6,379.5 507.1,378.7 507.6,378.0 508.1,377.4 508.6,376.8 509.1,376.3 509.6,375.9 510.1,375.9 510.6,375.8 511.1,375.5 511.6,374.7 512.1,373.7 512.6,372.8 513.1,372.3 513.6,372.2 514.1,372.2 514.6,371.9 515.1,371.1 515.6,370.0 516.1,369.0 516.6,368.3 517.1,368.0 517.6,367.9 518.1,367.6 518.6,367.1 519.1,366.6 519.6,366.3 520.1,366.4 520.6,366.5 521.1,366.4 521.6,366.3 522.1,366.3 522.6,366.3 523.1,366.2 523.6,366.2 524.1,366.3 524.6,366.7 525.1,367.4 525.6,368.1 526.1,368.6 526.6,368.5 527.1,368.0 527.6,367.3 528.1,366.9 528.6,367.0 529.1,367.5 529.6,367.8 530.1,367.6 530.6,367.2 531.1,366.7 531.6,366.4 532.1,366.5 532.6,366.9 533.1,367.6 533.6,368.5 534.1,369.3 534.6,370.0 535.1,370.4 535.6,370.9 536.1,371.4 536.6,371.8 537.1,372.2 537.6,372.6 538.1,373.0 538.6,373.7 539.1,374.6 539.6,375.5 540.1,376.5 540.6,377.6 541.1,378.6 541.6,379.3 542.1,379.8 542.6,380.3 543.1,380.8 543.6,381.4 544.1,382.1 544.6,382.9 545.1,383.0 545.6,382.9 546.1,382.8 546.6,382.8 547.1,382.5 547.6,381.9 548.1,381.0 548.6,380.2 549.1,379.7 549.6,379.8 550.1,380.5 550.6,381.2 551.1,381.5 551.6,381.4 552.1,381.2 552.6,381.1 553.1,381.2 553.6,381.4 554.1,381.2 554.6,380.5 555.1,379.6 555.6,378.5 556.1,377.5 556.6,376.6 557.1,375.8 557.6,375.0 558.1,374.3 558.6,373.7 559.1,373.0 559.6,372.3 560.1,371.6 560.6,371.0 561.1,370.4 561.6,369.9 562.1,369.7 562.6,369.5 563.1,369.5 563.6,369.7 564.1,369.9 564.6,370.1 565.1,370.3 565.6,370.5 566.1,370.6 566.6,370.8 567.1,371.1 567.6,371.4 568.1,371.7 568.6,371.8 569.1,371.8 569.6,371.8 570.1,372.1 570.6,372.8 571.1,373.9 571.6,375.2 572.1,376.4 572.6,377.3 573.1,378.1 573.6,378.9 574.1,379.6 574.6,380.3 575.1,380.9 575.6,381.3 576.1,381.5 576.6,381.7 577.1,382.1 577.6,382.8 578.1,383.7 578.6,384.5 579.1,385.2 579.6,385.7 580.1,386.5 580.6,387.6 581.1,389.0 581.6,390.5 582.1,391.2 582.6,390.5 583.1,389.2 583.6,387.4 584.1,385.2 584.6,383.0 585.1,380.9 585.6,379.2 586.1,377.8 586.6,376.6 587.1,375.2 587.6,373.7 588.1,372.1 588.6,370.4 589.1,368.7 589.6,367.2 590.1,365.9 590.6,364.6 591.1,363.3 591.6,362.0 592.1,360.9 592.6,360.2 593.1,360.1 593.6,361.0 594.1,361.8 594.6,362.2 595.1,362.3 595.6,362.1 596.1,361.7 596.6,360.8 597.1,360.2 597.6,359.8 598.1,359.4 598.6,358.9 599.1,358.1 599.6,357.0 600.1,355.6 600.6,354.3 601.1,353.4 601.6,353.1 602.1,353.8 602.6,354.6 603.1,355.4 603.6,356.3 604.1,357.4 604.6,358.3 605.1,359.0 605.6,359.6 606.1,360.2 606.6,360.6 607.1,360.6 607.6,360.5 608.1,360.4 608.6,360.6 609.1,361.1 609.6,361.5 610.1,361.7 610.6,361.7 611.1,361.8 611.6,362.1 612.1,362.6 612.6,363.1 613.1,363.7 613.6,364.6 614.1,365.7 614.6,366.9 615.1,368.1 615.6,369.3 616.1,370.5 616.6,371.5 617.1,372.5 617.6,373.5 618.1,374.8 618.6,376.3 619.1,377.9 619.6,379.4 620.1,381.0 620.6,382.6 621.1,384.0 621.6,385.2 622.1,385.8 622.6,385.9 623.1,385.7 623.6,385.4 624.1,385.0 624.6,385.3 625.1,386.2 625.6,387.3 626.1,388.2 626.6,388.3 627.1,387.6 627.6,386.6 628.1,385.5 628.6,384.4 629.1,383.4 629.6,382.7 630.1,382.4 630.6,382.5 631.1,382.7 631.6,382.6 632.1,382.1 632.6,381.2 633.1,380.2 633.6,379.3 634.1,378.8 634.6,379.0 635.1,379.8 635.6,380.9 636.1,382.0 636.6,383.0 637.1,383.7 637.6,384.4 638.1,384.9 638.6,385.0 639.1,384.9 639.6,384.6 640.1,384.1 640.6,383.8 641.1,383.5 641.6,383.0 642.1,382.2 642.6,381.1 643.1,380.0 643.6,379.0 644.1,378.3 644.6,378.1 645.1,378.0 645.6,377.8 646.1,377.1 646.6,375.9 647.1,374.5 647.6,372.7 648.1,370.4 648.6,368.0 649.1,365.7 649.6,363.3 650.1,361.0 650.6,359.0 651.1,358.8 651.6,358.9 652.1,359.4 652.6,359.8 653.1,360.0 653.6,360.0 654.1,360.3 654.6,360.9 655.1,361.8 655.6,362.7 656.1,363.4 656.6,363.9 657.1,364.2 657.6,364.7 658.1,365.1 658.6,365.4 659.1,365.6 659.6,365.5 660.1,365.2 660.6,365.0 661.1,365.0 661.6,365.3 662.1,366.5 662.6,367.9 663.1,369.3 663.6,370.6 664.1,371.6 664.6,372.4 665.1,373.2 665.6,374.2 666.1,375.2 666.6,375.9 667.1,376.0 667.6,375.5 668.1,374.6 668.6,373.6 669.1,372.8 669.6,372.5 670.1,372.6 670.6,372.8 671.1,372.6 671.6,372.1 672.1,371.3 672.6,370.7 673.1,370.2 673.6,370.2 674.1,370.5 674.6,371.1 675.1,371.7 675.6,372.3 676.1,372.8 676.6,373.3 677.1,373.6 677.6,373.6 678.1,373.3 678.6,372.7 679.1,372.2 679.6,372.3 680.1,373.3 680.6,375.1 681.1,377.5 681.6,379.6 682.1,381.2 682.6,382.2 683.1,382.9 683.6,383.6 684.1,384.4 684.6,385.3 685.1,386.0 685.6,386.2 686.1,386.0 686.6,385.9 687.1,386.0 687.6,386.5 688.1,387.1 688.6,387.7 689.1,388.2 689.6,388.4 690.1,388.3 690.6,387.8 691.1,386.9 691.6,385.9 692.1,384.9 692.6,384.1 693.1,383.3 693.6,382.7 694.1,382.0 694.6,381.3 695.1,380.6 695.6,379.9 696.1,379.3 696.6,379.0 697.1,378.9 697.6,378.8 698.1,378.2 698.6,377.1 699.1,375.8 699.6,374.6 700.1,373.6 700.6,372.8 701.1,372.3 701.6,372.1 702.1,371.9 702.6,371.8 703.1,371.7 703.6,371.7 704.1,371.9 704.6,372.0 705.1,371.7 705.6,370.9 706.1,369.8 706.6,368.8 707.1,368.0 707.6,367.3 708.1,366.6 708.6,366.2 709.1,365.9 709.6,365.8 710.1,365.8 710.6,366.0 711.1,366.3 711.6,366.7 712.1,366.8 712.6,366.5 713.1,366.0 713.6,365.2 714.1,364.5 714.6,363.9 715.1,363.7 715.6,364.0 716.1,364.2 716.6,363.9 717.1,363.2 717.6,362.2 718.1,361.3 718.6,360.7 719.1,360.4 719.6,360.3 720.1,360.3 720.6,360.0 721.1,359.4 721.6,358.4 722.1,357.4 722.6,356.3 723.1,355.1 723.6,354.1 724.1,353.3 724.6,352.5 725.1,351.6 725.6,350.4 726.1,349.0 726.6,347.5 727.1,346.3 727.6,345.5 728.1,345.6 728.6,346.0 729.1,346.9 729.6,348.1 730.1,349.7 730.6,351.5 731.1,353.6 731.6,355.6 732.1,357.2 732.6,358.1 733.1,357.5 733.6,356.7 734.1,355.8 734.6,355.0 735.1,354.3 735.6,353.7 736.1,352.9 736.6,351.9 737.1,350.7 737.6,349.8 738.1,349.5 738.6,349.8 739.1,349.6 739.6,349.1 740.1,348.6 740.6,348.4 741.1,348.5 741.6,348.5 742.1,348.5 742.6,348.4 743.1,348.7 743.6,349.4 744.1,350.2 744.6,350.8 745.1,351.1 745.6,351.2" stroke="#9467bd" stroke-dasharray="3.2,1.8"/><path d="M96.6,382.3 97.1,383.0 97.6,383.5 98.1,383.8 98.6,383.7 99.1,383.1 99.6,382.2 100.1,381.0 100.6,380.0 101.1,379.1 101.6,378.5 102.1,378.3 102.6,378.1 103.1,377.8 103.6,377.4 104.1,377.0 104.6,376.7 105.1,376.5 105.6,376.2 106.1,375.9 106.6,375.7 107.1,375.6 107.6,375.5 108.1,375.2 108.6,374.6 109.1,373.6 109.6,372.4 110.1,371.0 110.6,369.4 111.1,367.8 111.6,366.5 112.1,365.2 112.6,364.1 113.1,363.2 113.6,362.5 114.1,362.0 114.6,361.8 115.1,362.1 115.6,363.4 116.1,365.1 116.6,366.8 117.1,368.3 117.6,369.5 118.1,370.4 118.6,371.3 119.1,372.0 119.6,372.8 120.1,373.6 120.6,374.3 121.1,374.9 121.6,375.3 122.1,375.5 122.6,375.7 123.1,375.9 123.6,376.3 124.1,376.9 124.6,377.7 125.1,378.5 125.6,379.2 126.1,379.7 126.6,380.2 127.1,380.5 127.6,380.7 128.1,380.9 128.6,380.9 129.1,381.0 129.6,381.0 130.1,380.8 130.6,380.7 131.1,380.9 131.6,381.1 132.1,381.1 132.6,380.6 133.1,379.2 133.6,377.7 134.1,376.5 134.6,375.7 135.1,375.0 135.6,374.5 136.1,374.0 136.6,373.7 137.1,373.5 137.6,373.3 138.1,373.1 138.6,373.0 139.1,373.0 139.6,373.0 140.1,373.2 140.6,373.4 141.1,374.0 141.6,374.4 142.1,374.7 142.6,374.7 143.1,374.6 143.6,374.2 144.1,373.7 144.6,373.1 145.1,372.0 145.6,370.6 146.1,369.0 146.6,367.4 147.1,366.2 147.6,365.3 148.1,364.9 148.6,365.5 149.1,366.1 149.6,367.0 150.1,368.1 150.6,369.6 151.1,371.2 151.6,372.7 152.1,373.9 152.6,375.0 153.1,376.0 153.6,377.2 154.1,378.6 154.6,380.1 155.1,381.5 155.6,383.0 156.1,384.7 156.6,386.8 157.1,388.9 157.6,390.7 158.1,391.8 158.6,392.1 159.1,390.4 159.6,387.3 160.1,384.0 160.6,380.9 161.1,378.2 161.6,376.0 162.1,374.4 162.6,373.4 163.1,372.6 163.6,372.0 164.1,371.5 164.6,370.9 165.1,370.5 165.6,370.6 166.1,371.2 166.6,372.2 167.1,373.4 167.6,374.4 168.1,375.0 168.6,375.1 169.1,374.8 169.6,374.2 170.1,373.7 170.6,373.4 171.1,373.4 171.6,373.5 172.1,373.6 172.6,373.8 173.1,374.2 173.6,374.8 174.1,375.4 174.6,375.9 175.1,376.4 175.6,377.1 176.1,378.2 176.6,379.0 177.1,379.5 177.6,379.4 178.1,378.7 178.6,377.3 179.1,375.6 179.6,373.7 180.1,372.0 180.6,370.0 181.1,367.4 181.6,365.0 182.1,362.8 182.6,360.9 183.1,359.2 183.6,357.7 184.1,356.3 184.6,357.1 185.1,358.8 185.6,361.0 186.1,363.5 186.6,366.1 187.1,368.5 187.6,370.6 188.1,372.4 188.6,373.9 189.1,375.1 189.6,376.3 190.1,377.7 190.6,379.4 191.1,381.5 191.6,383.8 192.1,386.0 192.6,388.0 193.1,389.7 193.6,391.0 194.1,391.6 194.6,389.5 195.1,386.8 195.6,383.5 196.1,379.8 196.6,376.0 197.1,372.9 197.6,370.1 198.1,367.9 198.6,366.8 199.1,367.2 199.6,369.1 200.1,370.8 200.6,372.1 201.1,373.2 201.6,374.0 202.1,374.7 202.6,374.9 203.1,374.9 203.6,374.9 204.1,374.8 204.6,374.7 205.1,374.5 205.6,374.1 206.1,373.6 206.6,373.1 207.1,373.1 207.6,373.4 208.1,373.8 208.6,374.0 209.1,374.3 209.6,374.3 210.1,374.2 210.6,373.8 211.1,373.4 211.6,373.1 212.1,372.8 212.6,372.5 213.1,372.3 213.6,372.2 214.1,372.3 214.6,372.9 215.1,373.7 215.6,374.5 216.1,375.0 216.6,375.0 217.1,374.6 217.6,374.0 218.1,373.3 218.6,372.7 219.1,372.1 219.6,371.6 220.1,371.2 220.6,370.8 221.1,370.4 221.6,370.0 222.1,369.6 222.6,369.1 223.1,368.4 223.6,367.7 224.1,366.7 224.6,365.7 225.1,365.9 225.6,366.9 226.1,368.4 226.6,370.4 227.1,372.6 227.6,374.5 228.1,376.0 228.6,377.5 229.1,378.7 229.6,379.7 230.1,380.4 230.6,380.7 231.1,380.7 231.6,380.2 232.1,378.8 232.6,377.7 233.1,376.8 233.6,375.9 234.1,375.0 234.6,374.2 235.1,373.8 235.6,373.6 236.1,373.8 236.6,374.4 237.1,375.5 237.6,376.9 238.1,377.8 238.6,377.8 239.1,377.1 239.6,375.9 240.1,374.7 240.6,373.9 241.1,373.5 241.6,373.2 242.1,372.7 242.6,371.9 243.1,370.7 243.6,369.5 244.1,368.7 244.6,368.5 245.1,369.0 245.6,369.7 246.1,370.2 246.6,370.6 247.1,371.0 247.6,371.7 248.1,372.7 248.6,373.9 249.1,375.1 249.6,376.0 250.1,376.6 250.6,377.0 251.1,377.4 251.6,377.7 252.1,377.8 252.6,377.5 253.1,376.7 253.6,375.6 254.1,374.2 254.6,372.5 255.1,370.6 255.6,368.5 256.1,366.4 256.6,364.5 257.1,362.7 257.6,360.9 258.1,359.1 258.6,357.8 259.1,359.0 259.6,361.7 260.1,364.8 260.6,367.7 261.1,370.0 261.6,371.9 262.1,373.5 262.6,374.7 263.1,375.3 263.6,375.9 264.1,376.7 264.6,377.5 265.1,378.5 265.6,379.6 266.1,380.6 266.6,381.4 267.1,382.1 267.6,382.8 268.1,383.8 268.6,385.1 269.1,386.6 269.6,388.1 270.1,389.5 270.6,390.6 271.1,391.2 271.6,390.3 272.1,389.1 272.6,387.9 273.1,386.6 273.6,384.7 274.1,382.6 274.6,380.7 275.1,379.4 275.6,378.4 276.1,377.5 276.6,376.4 277.1,375.2 277.6,374.1 278.1,373.0 278.6,371.9 279.1,370.8 279.6,369.6 280.1,368.3 280.6,366.9 281.1,365.3 281.6,363.6 282.1,361.9 282.6,360.3 283.1,358.8 283.6,357.5 284.1,356.2 284.6,355.0 285.1,353.9 285.6,353.3 286.1,353.9 286.6,354.5 287.1,355.1 287.6,355.7 288.1,356.3 288.6,357.1 289.1,358.0 289.6,358.5 290.1,358.5 290.6,358.1 291.1,357.9 291.6,358.2 292.1,358.8 292.6,359.8 293.1,360.7 293.6,361.5 294.1,362.0 294.6,362.2 295.1,362.1 295.6,362.0 296.1,361.9 296.6,361.9 297.1,361.9 297.6,361.9 298.1,361.8 298.6,361.1 299.1,360.4 299.6,359.5 300.1,358.5 300.6,357.4 301.1,356.5 301.6,355.6 302.1,354.8 302.6,354.1 303.1,353.6 303.6,353.1 304.1,353.5 304.6,354.3 305.1,355.4 305.6,357.2 306.1,359.5 306.6,361.9 307.1,364.1 307.6,366.0 308.1,367.6 308.6,369.1 309.1,370.4 309.6,371.6 310.1,372.9 310.6,374.1 311.1,375.2 311.6,375.9 312.1,376.2 312.6,375.8 313.1,374.8 313.6,373.1 314.1,371.1 314.6,369.1 315.1,367.3 315.6,365.6 316.1,364.1 316.6,362.8 317.1,361.6 317.6,360.6 318.1,360.1 318.6,359.4 319.1,358.8 319.6,358.2 320.1,357.7 320.6,357.3 321.1,356.9 321.6,356.5 322.1,356.3 322.6,356.6 323.1,358.1 323.6,359.8 324.1,361.7 324.6,363.5 325.1,365.5 325.6,367.6 326.1,369.7 326.6,371.5 327.1,373.0 327.6,373.9 328.1,374.4 328.6,375.0 329.1,375.8 329.6,376.9 330.1,378.3 330.6,379.6 331.1,380.7 331.6,381.3 332.1,381.5 332.6,381.3 333.1,380.9 333.6,380.4 334.1,380.1 334.6,380.1 335.1,380.2 335.6,380.2 336.1,380.0 336.6,379.7 337.1,379.5 337.6,379.4 338.1,379.2 338.6,379.0 339.1,378.8 339.6,378.5 340.1,378.1 340.6,377.8 341.1,378.0 341.6,379.5 342.1,381.4 342.6,383.5 343.1,385.6 343.6,387.6 344.1,389.4 344.6,390.7 345.1,391.6 345.6,392.3 346.1,392.8 346.6,393.4 347.1,394.1 347.6,394.6 348.1,395.2 348.6,395.3 349.1,395.4 349.6,395.6 350.1,395.7 350.6,396.4 351.1,397.2 351.6,397.4 352.1,397.2 352.6,396.9 353.1,396.7 353.6,397.1 354.1,397.8 354.6,398.9 355.1,400.5 355.6,401.8 356.1,402.2 356.6,401.8 357.1,401.3 357.6,402.2 358.1,404.0 358.6,406.2 359.1,408.0 359.6,409.1 360.1,409.5 360.6,409.5 361.1,408.8 361.6,407.8 362.1,407.1 362.6,406.9 363.1,407.2 363.6,408.1 364.1,409.2 364.6,410.9 365.1,413.3 365.6,416.4 366.1,419.6 366.6,422.2 367.1,424.2 367.6,425.3 368.1,425.9 368.6,426.5 369.1,427.1 369.6,427.7 370.1,428.5 370.6,429.2 371.1,430.4 371.6,431.7 372.1,432.5 372.6,432.9 373.1,433.2 373.6,433.8 374.1,434.9 374.6,436.5 375.1,438.5 375.6,440.4 376.1,442.2 376.6,443.1 377.1,441.7 377.6,440.4 378.1,439.4 378.6,439.0 379.1,438.8 379.6,438.1 380.1,436.7 380.6,434.9 381.1,433.1 381.6,431.0 382.1,428.8 382.6,426.1 383.1,422.9 383.6,419.4 384.1,416.3 384.6,414.2 385.1,413.3 385.6,412.8 386.1,412.2 386.6,411.4 387.1,410.6 387.6,409.8 388.1,408.8 388.6,407.3 389.1,405.3 389.6,403.4 390.1,401.2 390.6,399.2 391.1,397.4 391.6,395.8 392.1,394.3 392.6,393.1 393.1,392.4 393.6,392.5 394.1,393.0 394.6,393.4 395.1,393.6 395.6,393.8 396.1,394.0 396.6,394.1 397.1,393.5 397.6,392.4 398.1,391.5 398.6,391.5 399.1,392.4 399.6,393.6 400.1,394.6 400.6,395.2 401.1,395.7 401.6,396.2 402.1,396.9 402.6,397.5 403.1,397.5 403.6,396.4 404.1,394.5 404.6,392.4 405.1,390.9 405.6,390.3 406.1,390.5 406.6,391.5 407.1,393.1 407.6,395.1 408.1,397.0 408.6,398.4 409.1,399.1 409.6,399.4 410.1,399.4 410.6,399.1 411.1,398.5 411.6,397.3 412.1,395.8 412.6,394.2 413.1,393.2 413.6,392.8 414.1,393.0 414.6,393.4 415.1,393.8 415.6,394.1 416.1,394.1 416.6,394.0 417.1,393.6 417.6,393.1 418.1,392.8 418.6,393.1 419.1,394.0 419.6,395.4 420.1,396.8 420.6,397.7 421.1,397.8 421.6,397.0 422.1,395.6 422.6,394.3 423.1,393.5 423.6,393.2 424.1,393.3 424.6,393.4 425.1,393.0 425.6,391.9 426.1,389.7 426.6,387.2 427.1,385.6 427.6,384.9 428.1,385.0 428.6,385.2 429.1,385.4 429.6,385.7 430.1,385.7 430.6,385.7 431.1,385.7 431.6,385.8 432.1,386.3 432.6,387.6 433.1,389.4 433.6,391.3 434.1,392.6 434.6,392.9 435.1,392.5 435.6,391.8 436.1,391.2 436.6,390.9 437.1,391.1 437.6,391.6 438.1,392.2 438.6,392.9 439.1,393.6 439.6,394.1 440.1,394.2 440.6,393.9 441.1,393.2 441.6,392.4 442.1,391.7 442.6,391.3 443.1,391.1 443.6,391.1 444.1,391.1 444.6,391.0 445.1,390.8 445.6,390.6 446.1,390.3 446.6,389.8 447.1,389.3 447.6,389.0 448.1,389.1 448.6,389.5 449.1,389.7 449.6,389.2 450.1,388.0 450.6,386.4 451.1,384.8 451.6,383.8 452.1,383.6 452.6,383.9 453.1,384.4 453.6,385.1 454.1,386.0 454.6,386.9 455.1,387.8 455.6,388.4 456.1,388.6 456.6,388.4 457.1,387.8 457.6,387.0 458.1,386.0 458.6,385.1 459.1,384.5 459.6,384.4 460.1,384.7 460.6,384.8 461.1,384.9 461.6,385.0 462.1,385.4 462.6,386.3 463.1,387.4 463.6,388.4 464.1,389.1 464.6,389.3 465.1,388.8 465.6,387.7 466.1,386.2 466.6,384.5 467.1,383.3 467.6,382.7 468.1,382.8 468.6,383.5 469.1,384.6 469.6,386.0 470.1,387.6 470.6,389.0 471.1,389.9 471.6,389.9 472.1,389.2 472.6,388.4 473.1,388.0 473.6,388.1 474.1,388.3 474.6,388.3 475.1,387.9 475.6,387.0 476.1,386.8 476.6,387.1 477.1,388.3 477.6,389.9 478.1,391.5 478.6,392.7 479.1,393.3 479.6,393.2 480.1,392.4 480.6,391.4 481.1,390.8 481.6,390.5 482.1,390.5 482.6,390.8 483.1,391.3 483.6,392.0 484.1,392.6 484.6,393.2 485.1,393.8 485.6,394.3 486.1,394.9 486.6,395.1 487.1,394.6 487.6,393.5 488.1,392.0 488.6,390.8 489.1,390.2 489.6,389.9 490.1,388.8 490.6,387.4 491.1,385.7 491.6,384.3 492.1,383.6 492.6,383.0 493.1,382.6 493.6,382.5 494.1,382.4 494.6,382.2 495.1,381.7 495.6,381.2 496.1,380.7 496.6,380.3 497.1,380.1 497.6,380.0 498.1,380.3 498.6,380.8 499.1,381.1 499.6,381.1 500.1,381.0 500.6,381.0 501.1,381.2 501.6,381.5 502.1,382.0 502.6,382.6 503.1,383.5 503.6,384.6 504.1,385.5 504.6,385.9 505.1,385.6 505.6,384.8 506.1,383.7 506.6,382.6 507.1,381.8 507.6,381.2 508.1,380.7 508.6,380.2 509.1,379.6 509.6,379.3 510.1,379.1 510.6,378.9 511.1,378.4 511.6,377.7 512.1,377.0 512.6,376.4 513.1,376.3 513.6,376.5 514.1,376.7 514.6,376.4 515.1,375.5 515.6,374.1 516.1,372.9 516.6,372.1 517.1,372.0 517.6,372.2 518.1,372.2 518.6,371.8 519.1,371.3 519.6,370.9 520.1,370.6 520.6,370.4 521.1,370.1 521.6,369.8 522.1,369.6 522.6,369.5 523.1,369.5 523.6,369.5 524.1,369.7 524.6,370.0 525.1,370.3 525.6,370.7 526.1,370.7 526.6,370.4 527.1,369.8 527.6,369.1 528.1,368.7 528.6,368.7 529.1,369.1 529.6,369.3 530.1,369.1 530.6,368.7 531.1,368.2 531.6,368.1 532.1,368.2 532.6,368.7 533.1,369.4 533.6,370.3 534.1,371.1 534.6,371.8 535.1,372.2 535.6,372.6 536.1,372.9 536.6,373.1 537.1,373.4 537.6,373.6 538.1,373.8 538.6,374.0 539.1,374.4 539.6,374.8 540.1,375.3 540.6,375.9 541.1,376.3 541.6,376.6 542.1,376.7 542.6,376.7 543.1,376.8 543.6,377.1 544.1,377.5 544.6,378.0 545.1,378.2 545.6,378.4 546.1,378.8 546.6,379.3 547.1,379.5 547.6,379.3 548.1,378.7 548.6,378.2 549.1,378.1 549.6,378.4 550.1,379.3 550.6,380.0 551.1,380.5 551.6,380.6 552.1,380.5 552.6,380.4 553.1,380.5 553.6,380.7 554.1,380.6 554.6,380.0 555.1,379.0 555.6,377.9 556.1,376.9 556.6,376.1 557.1,375.4 557.6,374.6 558.1,373.9 558.6,373.2 559.1,372.5 559.6,372.0 560.1,371.6 560.6,371.1 561.1,370.5 561.6,369.8 562.1,369.1 562.6,368.5 563.1,368.3 563.6,368.4 564.1,368.7 564.6,369.1 565.1,369.5 565.6,369.9 566.1,370.2 566.6,370.3 567.1,370.4 567.6,370.4 568.1,370.5 568.6,370.6 569.1,370.9 569.6,371.2 570.1,371.7 570.6,372.5 571.1,373.7 571.6,375.0 572.1,376.1 572.6,376.8 573.1,377.4 573.6,378.1 574.1,378.8 574.6,379.8 575.1,380.8 575.6,381.5 576.1,381.9 576.6,382.0 577.1,382.1 577.6,382.3 578.1,382.7 578.6,383.0 579.1,383.3 579.6,383.6 580.1,384.2 580.6,385.1 581.1,386.3 581.6,387.6 582.1,388.4 582.6,387.9 583.1,386.7 583.6,385.0 584.1,383.1 584.6,381.4 585.1,379.8 585.6,378.5 586.1,377.2 586.6,375.9 587.1,374.5 587.6,373.1 588.1,371.7 588.6,370.2 589.1,368.7 589.6,367.3 590.1,366.1 590.6,365.0 591.1,363.8 591.6,362.5 592.1,361.4 592.6,360.7 593.1,360.7 593.6,361.6 594.1,362.5 594.6,363.1 595.1,363.3 595.6,363.2 596.1,362.9 596.6,362.1 597.1,361.4 597.6,360.8 598.1,360.3 598.6,359.9 599.1,359.2 599.6,358.2 600.1,356.9 600.6,355.6 601.1,354.9 601.6,354.7 602.1,355.5 602.6,356.1 603.1,356.8 603.6,357.6 604.1,358.7 604.6,359.6 605.1,360.3 605.6,360.9 606.1,361.5 606.6,362.0 607.1,362.2 607.6,362.3 608.1,362.4 608.6,362.7 609.1,363.2 609.6,363.6 610.1,363.8 610.6,363.7 611.1,363.5 611.6,363.6 612.1,363.7 612.6,363.9 613.1,364.3 613.6,365.0 614.1,365.9 614.6,367.1 615.1,368.4 615.6,369.9 616.1,371.2 616.6,372.3 617.1,373.2 617.6,373.9 618.1,374.9 618.6,376.2 619.1,377.6 619.6,379.2 620.1,380.9 620.6,382.6 621.1,384.1 621.6,385.1 622.1,385.8 622.6,386.3 623.1,386.6 623.6,387.0 624.1,387.2 624.6,387.8 625.1,388.7 625.6,389.7 626.1,390.4 626.6,390.6 627.1,390.4 627.6,389.8 628.1,389.1 628.6,388.1 629.1,386.6 629.6,385.3 630.1,384.4 630.6,384.0 631.1,383.9 631.6,383.7 632.1,383.2 632.6,382.6 633.1,382.1 633.6,381.6 634.1,381.6 634.6,382.1 635.1,383.1 635.6,384.4 636.1,385.8 636.6,387.0 637.1,388.0 637.6,388.7 638.1,389.0 638.6,388.5 639.1,387.7 639.6,386.6 640.1,385.6 640.6,384.9 641.1,384.4 641.6,383.9 642.1,383.2 642.6,382.1 643.1,381.0 643.6,379.9 644.1,379.1 644.6,378.6 645.1,378.3 645.6,377.8 646.1,376.9 646.6,375.7 647.1,374.2 647.6,372.5 648.1,370.2 648.6,367.9 649.1,365.9 649.6,364.0 650.1,362.2 650.6,360.7 651.1,360.7 651.6,360.7 652.1,360.7 652.6,360.5 653.1,360.2 653.6,359.9 654.1,359.9 654.6,360.3 655.1,361.1 655.6,362.0 656.1,362.7 656.6,363.2 657.1,363.6 657.6,364.0 658.1,364.3 658.6,364.5 659.1,364.6 659.6,364.5 660.1,364.2 660.6,363.9 661.1,363.7 661.6,363.6 662.1,364.8 662.6,366.4 663.1,368.2 663.6,369.8 664.1,371.2 664.6,372.3 665.1,373.5 665.6,374.9 666.1,376.4 666.6,377.7 667.1,378.5 667.6,378.7 668.1,378.4 668.6,377.9 669.1,377.5 669.6,377.2 670.1,377.0 670.6,376.8 671.1,376.5 671.6,376.0 672.1,375.4 672.6,375.0 673.1,374.9 673.6,375.1 674.1,375.7 674.6,376.2 675.1,376.7 675.6,377.1 676.1,377.5 676.6,377.8 677.1,377.9 677.6,377.7 678.1,377.3 678.6,376.8 679.1,376.4 679.6,376.5 680.1,377.3 680.6,378.9 681.1,381.0 681.6,383.0 682.1,384.6 682.6,385.7 683.1,386.7 683.6,387.8 684.1,389.2 684.6,390.8 685.1,392.1 685.6,392.7 686.1,392.5 686.6,391.9 687.1,391.3 687.6,391.1 688.1,391.2 688.6,391.6 689.1,392.2 689.6,392.8 690.1,393.2 690.6,393.1 691.1,392.6 691.6,391.6 692.1,390.7 692.6,390.1 693.1,389.6 693.6,389.2 694.1,388.5 694.6,387.5 695.1,386.3 695.6,385.2 696.1,384.3 696.6,383.9 697.1,383.9 697.6,383.7 698.1,383.2 698.6,382.2 699.1,381.1 699.6,379.9 700.1,378.9 700.6,378.1 701.1,377.4 701.6,376.7 702.1,375.9 702.6,375.0 703.1,374.5 703.6,374.4 704.1,374.7 704.6,375.1 705.1,375.3 705.6,375.2 706.1,375.1 706.6,375.1 707.1,375.1 707.6,375.0 708.1,374.8 708.6,374.7 709.1,374.5 709.6,374.2 710.1,373.8 710.6,373.3 711.1,373.0 711.6,372.8 712.1,372.6 712.6,372.4 713.1,372.0 713.6,371.5 714.1,370.9 714.6,370.6 715.1,370.6 715.6,370.9 716.1,371.2 716.6,371.2 717.1,370.6 717.6,369.9 718.1,369.2 718.6,368.6 719.1,368.2 719.6,368.1 720.1,368.0 720.6,367.6 721.1,366.7 721.6,365.3 722.1,363.8 722.6,362.2 723.1,360.7 723.6,359.4 724.1,358.4 724.6,357.7 725.1,356.9 725.6,355.6 726.1,353.9 726.6,351.9 727.1,350.1 727.6,348.8 728.1,348.3 728.6,348.3 729.1,348.5 729.6,349.0 730.1,349.8 730.6,351.0 731.1,352.6 731.6,354.2 732.1,355.3 732.6,355.7 733.1,354.7 733.6,353.5 734.1,352.3 734.6,351.4 735.1,350.7 735.6,350.5 736.1,350.4 736.6,350.1 737.1,349.4 737.6,348.6 738.1,348.1 738.6,348.1 739.1,347.8 739.6,347.1 740.1,346.3 740.6,345.9 741.1,346.0 741.6,346.2 742.1,346.5 742.6,347.0 743.1,347.8 743.6,349.0 744.1,350.4 744.6,351.8 745.1,352.9 745.6,353.4" stroke="#bcbd22"/><path d="M96.6,381.2 97.1,381.8 97.6,382.5 98.1,383.2 98.6,383.6 99.1,383.4 99.6,382.6 100.1,381.6 100.6,380.7 101.1,380.0 101.6,379.6 102.1,379.5 102.6,379.4 103.1,379.0 103.6,378.4 104.1,377.5 104.6,376.8 105.1,376.2 105.6,375.6 106.1,375.2 106.6,374.9 107.1,374.9 107.6,375.1 108.1,375.2 108.6,375.0 109.1,374.2 109.6,373.1 110.1,371.7 110.6,370.2 111.1,368.7 111.6,367.2 112.1,365.8 112.6,364.6 113.1,363.8 113.6,363.5 114.1,363.7 114.6,364.0 115.1,364.5 115.6,365.7 116.1,367.1 116.6,368.4 117.1,369.5 117.6,370.4 118.1,371.2 118.6,372.1 119.1,373.0 119.6,373.8 120.1,374.6 120.6,375.1 121.1,375.4 121.6,375.4 122.1,375.3 122.6,375.2 123.1,375.4 123.6,375.9 124.1,376.5 124.6,377.0 125.1,377.4 125.6,377.5 126.1,377.5 126.6,377.6 127.1,377.6 127.6,377.6 128.1,377.6 128.6,377.7 129.1,377.9 129.6,377.9 130.1,377.6 130.6,377.3 131.1,377.4 131.6,377.8 132.1,378.1 132.6,377.8 133.1,376.9 133.6,375.9 134.1,375.1 134.6,374.7 135.1,374.2 135.6,373.6 136.1,373.1 136.6,372.9 137.1,373.0 137.6,373.4 138.1,373.9 138.6,374.5 139.1,375.1 139.6,375.7 140.1,376.2 140.6,376.7 141.1,377.1 141.6,377.1 142.1,376.9 142.6,376.4 143.1,375.6 143.6,374.7 144.1,373.6 144.6,372.4 145.1,370.9 145.6,369.0 146.1,367.1 146.6,365.3 147.1,364.1 147.6,363.3 148.1,363.1 148.6,364.0 149.1,364.8 149.6,365.7 150.1,367.0 150.6,368.5 151.1,370.2 151.6,371.7 152.1,373.1 152.6,374.5 153.1,376.0 153.6,377.6 154.1,379.4 154.6,381.3 155.1,383.0 155.6,384.6 156.1,386.3 156.6,388.2 157.1,390.0 157.6,391.5 158.1,392.7 158.6,393.6 159.1,392.6 159.6,390.1 160.1,387.2 160.6,383.9 161.1,380.5 161.6,377.5 162.1,375.1 162.6,373.3 163.1,372.1 163.6,371.0 164.1,370.0 164.6,368.8 165.1,367.5 165.6,366.5 166.1,366.1 166.6,366.3 167.1,367.0 167.6,368.1 168.1,369.4 168.6,370.2 169.1,370.6 169.6,370.8 170.1,371.0 170.6,371.5 171.1,372.3 171.6,373.3 172.1,374.1 172.6,374.8 173.1,375.5 173.6,376.2 174.1,377.0 174.6,377.8 175.1,378.6 175.6,379.7 176.1,381.2 176.6,382.3 177.1,382.8 177.6,382.7 178.1,381.7 178.6,379.7 179.1,377.3 179.6,374.8 180.1,372.8 180.6,370.5 181.1,367.7 181.6,364.8 182.1,362.4 182.6,360.4 183.1,359.0 183.6,357.9 184.1,357.1 184.6,358.4 185.1,360.4 185.6,362.7 186.1,365.3 186.6,367.8 187.1,370.0 187.6,371.8 188.1,373.1 188.6,374.3 189.1,375.5 189.6,376.7 190.1,378.1 190.6,379.5 191.1,381.0 191.6,382.3 192.1,383.7 192.6,385.2 193.1,386.9 193.6,388.6 194.1,389.7 194.6,388.1 195.1,385.7 195.6,382.8 196.1,379.5 196.6,376.0 197.1,372.8 197.6,369.5 198.1,366.6 198.6,364.6 199.1,364.3 199.6,366.0 200.1,367.7 200.6,369.3 201.1,370.7 201.6,372.0 202.1,373.1 202.6,373.9 203.1,374.5 203.6,375.1 204.1,375.8 204.6,376.4 205.1,376.8 205.6,376.8 206.1,376.4 206.6,375.5 207.1,374.8 207.6,374.3 208.1,373.9 208.6,373.4 209.1,372.8 209.6,371.9 210.1,370.7 210.6,369.3 211.1,368.1 211.6,367.3 212.1,366.9 212.6,366.7 213.1,366.8 213.6,367.0 214.1,367.3 214.6,368.1 215.1,369.3 215.6,370.7 216.1,371.9 216.6,372.7 217.1,373.1 217.6,373.1 218.1,372.9 218.6,372.5 219.1,372.1 219.6,371.9 220.1,371.7 220.6,371.7 221.1,371.7 221.6,371.8 222.1,371.9 222.6,371.7 223.1,371.1 223.6,370.2 224.1,369.3 224.6,368.4 225.1,368.5 225.6,369.1 226.1,369.9 226.6,370.8 227.1,372.0 227.6,373.1 228.1,374.2 228.6,375.4 229.1,376.6 229.6,377.5 230.1,378.2 230.6,378.6 231.1,378.6 231.6,378.1 232.1,376.9 232.6,376.1 233.1,375.5 233.6,375.0 234.1,374.7 234.6,374.7 235.1,375.1 235.6,375.7 236.1,376.4 236.6,377.4 237.1,378.6 237.6,380.1 238.1,380.9 238.6,380.6 239.1,379.8 239.6,378.5 240.1,377.0 240.6,375.5 241.1,374.1 241.6,373.1 242.1,372.0 242.6,370.9 243.1,369.5 243.6,368.1 244.1,367.0 244.6,366.6 245.1,367.0 245.6,367.5 246.1,367.8 246.6,367.9 247.1,368.0 247.6,368.5 248.1,369.6 248.6,371.1 249.1,372.9 249.6,374.2 250.1,374.8 250.6,375.1 251.1,375.4 251.6,375.8 252.1,376.2 252.6,376.3 253.1,376.0 253.6,375.4 254.1,374.5 254.6,373.3 255.1,371.8 255.6,370.1 256.1,368.5 256.6,367.0 257.1,365.6 257.6,364.1 258.1,362.7 258.6,361.8 259.1,363.1 259.6,365.5 260.1,368.1 260.6,370.5 261.1,372.2 261.6,373.2 262.1,373.7 262.6,374.0 263.1,373.9 263.6,374.0 264.1,374.5 264.6,375.1 265.1,376.0 265.6,377.1 266.1,378.2 266.6,379.2 267.1,380.2 267.6,381.3 268.1,382.8 268.6,384.5 269.1,386.3 269.6,388.0 270.1,389.4 270.6,390.4 271.1,390.8 271.6,389.9 272.1,388.5 272.6,387.2 273.1,385.8 273.6,384.2 274.1,382.3 274.6,380.5 275.1,379.2 275.6,378.3 276.1,377.6 276.6,376.6 277.1,375.4 277.6,374.1 278.1,372.8 278.6,371.5 279.1,370.3 279.6,369.1 280.1,367.8 280.6,366.1 281.1,364.2 281.6,362.2 282.1,360.2 282.6,358.5 283.1,357.1 283.6,356.1 284.1,355.3 284.6,354.4 285.1,353.7 285.6,353.6 286.1,354.7 286.6,356.0 287.1,357.3 287.6,358.5 288.1,359.5 288.6,360.6 289.1,361.4 289.6,361.8 290.1,361.6 290.6,361.0 291.1,360.6 291.6,360.5 292.1,360.8 292.6,361.4 293.1,362.1 293.6,362.7 294.1,363.0 294.6,362.8 295.1,362.5 295.6,362.2 296.1,362.3 296.6,362.4 297.1,362.7 297.6,363.0 298.1,363.4 298.6,363.3 299.1,363.0 299.6,362.2 300.1,361.0 300.6,359.4 301.1,357.8 301.6,356.5 302.1,355.6 302.6,354.8 303.1,354.3 303.6,354.0 304.1,354.6 304.6,355.5 305.1,356.8 305.6,358.8 306.1,361.4 306.6,364.1 307.1,366.5 307.6,368.5 308.1,370.1 308.6,371.3 309.1,372.2 309.6,373.0 310.1,373.6 310.6,374.2 311.1,374.7 311.6,375.1 312.1,375.3 312.6,374.9 313.1,373.9 313.6,372.1 314.1,369.8 314.6,367.3 315.1,364.7 315.6,362.3 316.1,360.1 316.6,358.2 317.1,356.7 317.6,355.8 318.1,355.6 318.6,355.2 319.1,354.8 319.6,354.2 320.1,353.8 320.6,353.6 321.1,353.8 321.6,354.1 322.1,354.6 322.6,355.6 323.1,357.6 323.6,359.8 324.1,361.8 324.6,363.5 325.1,365.2 325.6,367.1 326.1,369.2 326.6,371.2 327.1,372.9 327.6,373.9 328.1,374.7 328.6,375.4 329.1,376.4 329.6,377.6 330.1,378.8 330.6,379.9 331.1,380.6 331.6,381.0 332.1,381.2 332.6,381.4 333.1,381.6 333.6,381.5 334.1,381.5 334.6,381.7 335.1,382.1 335.6,382.3 336.1,382.1 336.6,381.8 337.1,381.5 337.6,381.2 338.1,380.9 338.6,380.7 339.1,380.5 339.6,380.1 340.1,379.7 340.6,379.6 341.1,380.0 341.6,381.9 342.1,384.1 342.6,386.6 343.1,389.0 343.6,391.1 344.1,392.9 344.6,394.3 345.1,395.5 345.6,396.7 346.1,398.1 346.6,399.6 347.1,401.3 347.6,402.8 348.1,404.3 348.6,405.2 349.1,405.6 349.6,405.8 350.1,405.4 350.6,405.8 351.1,406.1 351.6,406.1 352.1,406.0 352.6,405.9 353.1,406.1 353.6,406.8 354.1,407.4 354.6,408.3 355.1,409.6 355.6,411.0 356.1,411.7 356.6,411.8 357.1,411.8 357.6,412.9 358.1,415.0 358.6,417.2 359.1,419.1 359.6,420.3 360.1,421.2 360.6,421.8 361.1,422.0 361.6,421.8 362.1,421.7 362.6,421.7 363.1,422.2 363.6,423.6 364.1,425.3 364.6,427.5 365.1,430.4 365.6,433.8 366.1,437.2 366.6,440.2 367.1,442.8 367.6,444.7 368.1,446.2 368.6,447.5 369.1,448.7 369.6,449.8 370.1,451.1 370.6,452.2 371.1,454.0 371.6,456.2 372.1,457.9 372.6,459.1 373.1,460.0 373.6,461.0 374.1,462.6 374.6,464.7 375.1,467.0 375.6,469.1 376.1,470.9 376.6,471.7 377.1,469.8 377.6,468.0 378.1,466.6 378.6,465.8 379.1,464.9 379.6,463.5 380.1,461.3 380.6,458.6 381.1,455.8 381.6,452.5 382.1,449.2 382.6,445.6 383.1,441.8 383.6,438.0 384.1,434.6 384.6,432.0 385.1,430.6 385.6,429.7 386.1,428.7 386.6,427.6 387.1,426.5 387.6,425.1 388.1,423.2 388.6,420.7 389.1,417.6 389.6,414.9 390.1,412.3 390.6,410.0 391.1,408.1 391.6,406.4 392.1,404.8 392.6,403.7 393.1,403.2 393.6,403.5 394.1,403.9 394.6,404.1 395.1,403.9 395.6,404.0 396.1,404.4 396.6,404.9 397.1,404.7 397.6,403.7 398.1,402.8 398.6,402.6 399.1,403.2 399.6,404.0 400.1,404.7 400.6,405.1 401.1,405.5 401.6,406.1 402.1,406.9 402.6,407.6 403.1,407.8 403.6,407.0 404.1,405.3 404.6,403.4 405.1,402.1 405.6,401.4 406.1,401.4 406.6,402.1 407.1,403.6 407.6,405.5 408.1,407.3 408.6,408.5 409.1,409.0 409.6,409.3 410.1,409.4 410.6,409.5 411.1,409.4 411.6,408.6 412.1,407.5 412.6,406.1 413.1,405.0 413.6,404.4 414.1,404.0 414.6,403.8 415.1,403.6 415.6,403.4 416.1,403.4 416.6,403.4 417.1,403.1 417.6,402.7 418.1,402.4 418.6,402.9 419.1,404.2 419.6,406.0 420.1,407.8 420.6,409.0 421.1,409.2 421.6,408.2 422.1,406.7 422.6,405.1 423.1,403.8 423.6,402.8 424.1,402.2 424.6,401.8 425.1,401.4 425.6,400.7 426.1,398.6 426.6,396.0 427.1,393.7 427.6,392.1 428.1,391.2 428.6,390.4 429.1,389.9 429.6,389.7 430.1,389.9 430.6,390.4 431.1,391.1 431.6,391.5 432.1,391.9 432.6,392.8 433.1,394.2 433.6,395.6 434.1,396.7 434.6,397.2 435.1,397.3 435.6,397.2 436.1,397.1 436.6,396.9 437.1,397.0 437.6,397.3 438.1,397.8 438.6,398.4 439.1,399.3 439.6,400.3 440.1,401.1 440.6,401.1 441.1,400.3 441.6,399.1 442.1,398.0 442.6,397.3 443.1,396.9 443.6,396.6 444.1,396.3 444.6,396.2 445.1,396.2 445.6,396.2 446.1,396.2 446.6,396.1 447.1,395.9 447.6,395.6 448.1,395.3 448.6,395.1 449.1,394.8 449.6,394.2 450.1,393.0 450.6,391.7 451.1,390.6 451.6,390.1 452.1,390.1 452.6,390.5 453.1,391.2 453.6,392.1 454.1,393.0 454.6,393.8 455.1,394.4 455.6,394.8 456.1,395.0 456.6,394.7 457.1,394.1 457.6,393.0 458.1,391.7 458.6,390.4 459.1,389.7 459.6,389.6 460.1,390.1 460.6,390.7 461.1,391.2 461.6,391.8 462.1,392.6 462.6,393.5 463.1,394.4 463.6,395.1 464.1,395.3 464.6,395.1 465.1,394.5 465.6,393.4 466.1,392.0 466.6,390.6 467.1,389.7 467.6,389.3 468.1,389.8 468.6,390.8 469.1,391.9 469.6,393.0 470.1,393.9 470.6,394.7 471.1,395.2 471.6,395.2 472.1,394.6 472.6,394.0 473.1,393.7 473.6,394.0 474.1,394.6 474.6,394.9 475.1,394.6 475.6,393.9 476.1,394.0 476.6,394.8 477.1,396.3 477.6,398.4 478.1,400.2 478.6,401.7 479.1,402.4 479.6,402.1 480.1,401.3 480.6,400.4 481.1,399.8 481.6,399.7 482.1,399.7 482.6,399.8 483.1,400.2 483.6,400.8 484.1,401.6 484.6,402.2 485.1,402.7 485.6,403.1 486.1,403.3 486.6,403.1 487.1,402.3 487.6,400.7 488.1,398.6 488.6,397.0 489.1,396.0 489.6,395.4 490.1,393.7 490.6,391.5 491.1,389.1 491.6,387.2 492.1,386.4 492.6,385.8 493.1,385.3 493.6,385.0 494.1,384.6 494.6,384.0 495.1,383.6 495.6,383.4 496.1,383.5 496.6,383.9 497.1,384.3 497.6,384.6 498.1,384.9 498.6,385.2 499.1,385.2 499.6,385.0 500.1,384.8 500.6,384.8 501.1,384.7 501.6,384.8 502.1,385.0 502.6,385.5 503.1,386.4 503.6,387.4 504.1,388.5 504.6,389.2 505.1,389.0 505.6,388.3 506.1,387.0 506.6,385.5 507.1,384.3 507.6,383.5 508.1,383.0 508.6,382.5 509.1,381.9 509.6,381.3 510.1,380.9 510.6,380.6 511.1,380.2 511.6,379.5 512.1,378.9 512.6,378.5 513.1,378.5 513.6,378.9 514.1,379.1 514.6,378.7 515.1,377.8 515.6,376.6 516.1,375.7 516.6,375.6 517.1,376.1 517.6,376.7 518.1,376.9 518.6,376.4 519.1,375.7 519.6,375.0 520.1,374.7 520.6,374.4 521.1,374.1 521.6,373.8 522.1,373.6 522.6,373.5 523.1,373.3 523.6,373.0 524.1,372.8 524.6,372.8 525.1,373.1 525.6,373.4 526.1,373.4 526.6,372.8 527.1,371.8 527.6,370.7 528.1,370.0 528.6,370.1 529.1,370.6 529.6,371.2 530.1,371.4 530.6,371.2 531.1,370.9 531.6,370.6 532.1,370.6 532.6,370.9 533.1,371.5 533.6,372.1 534.1,372.4 534.6,372.5 535.1,372.5 535.6,372.5 536.1,372.8 536.6,373.2 537.1,373.5 537.6,373.7 538.1,373.8 538.6,374.0 539.1,374.1 539.6,374.2 540.1,374.2 540.6,374.4 541.1,374.6 541.6,374.7 542.1,374.5 542.6,374.1 543.1,373.6 543.6,373.2 544.1,373.0 544.6,373.1 545.1,373.4 545.6,374.1 546.1,375.1 546.6,376.1 547.1,376.8 547.6,377.2 548.1,377.2 548.6,377.0 549.1,376.9 549.6,376.9 550.1,377.1 550.6,377.3 551.1,377.5 551.6,377.6 552.1,377.8 552.6,378.1 553.1,378.5 553.6,379.1 554.1,379.4 554.6,379.1 555.1,378.5 555.6,377.6 556.1,376.7 556.6,375.7 557.1,374.6 557.6,373.5 558.1,372.7 558.6,372.1 559.1,371.7 559.6,371.4 560.1,371.4 560.6,371.4 561.1,371.3 561.6,371.1 562.1,370.9 562.6,370.7 563.1,370.5 563.6,370.6 564.1,370.6 564.6,370.6 565.1,370.6 565.6,370.7 566.1,370.8 566.6,370.9 567.1,370.8 567.6,370.9 568.1,371.0 568.6,371.2 569.1,371.3 569.6,371.4 570.1,371.5 570.6,371.9 571.1,372.7 571.6,373.9 572.1,375.1 572.6,376.1 573.1,377.0 573.6,377.9 574.1,378.8 574.6,379.9 575.1,380.8 575.6,381.3 576.1,381.2 576.6,380.6 577.1,380.1 577.6,379.7 578.1,379.8 578.6,380.0 579.1,380.3 579.6,380.7 580.1,381.2 580.6,382.0 581.1,383.1 581.6,384.3 582.1,385.0 582.6,384.7 583.1,383.9 583.6,382.6 584.1,381.1 584.6,379.5 585.1,378.1 585.6,377.0 586.1,376.2 586.6,375.4 587.1,374.4 587.6,373.3 588.1,372.0 588.6,370.6 589.1,369.4 589.6,368.3 590.1,367.3 590.6,366.0 591.1,364.5 591.6,362.8 592.1,361.4 592.6,360.7 593.1,360.7 593.6,361.6 594.1,362.3 594.6,362.6 595.1,362.5 595.6,362.3 596.1,362.2 596.6,361.8 597.1,361.4 597.6,361.0 598.1,360.7 598.6,360.5 599.1,360.5 599.6,360.3 600.1,359.8 600.6,359.1 601.1,358.5 601.6,358.2 602.1,358.6 602.6,359.0 603.1,359.5 603.6,360.2 604.1,361.3 604.6,362.4 605.1,363.4 605.6,364.2 606.1,364.8 606.6,365.0 607.1,365.1 607.6,365.1 608.1,365.2 608.6,365.5 609.1,365.8 609.6,365.9 610.1,365.9 610.6,365.9 611.1,365.9 611.6,366.1 612.1,366.3 612.6,366.7 613.1,367.1 613.6,367.8 614.1,368.5 614.6,369.2 615.1,370.0 615.6,370.8 616.1,371.7 616.6,372.6 617.1,373.4 617.6,374.3 618.1,375.4 618.6,376.6 619.1,377.8 619.6,379.2 620.1,380.6 620.6,382.1 621.1,383.7 621.6,385.3 622.1,386.6 622.6,387.7 623.1,388.3 623.6,388.6 624.1,388.4 624.6,388.4 625.1,388.9 625.6,389.8 626.1,390.7 626.6,391.4 627.1,391.5 627.6,391.3 628.1,390.7 628.6,389.8 629.1,388.4 629.6,387.2 630.1,386.4 630.6,385.9 631.1,385.5 631.6,385.1 632.1,384.4 632.6,383.9 633.1,383.6 633.6,383.2 634.1,383.1 634.6,383.3 635.1,384.1 635.6,385.2 636.1,386.6 636.6,387.9 637.1,389.0 637.6,390.0 638.1,390.3 638.6,389.7 639.1,388.6 639.6,387.0 640.1,385.4 640.6,384.2 641.1,383.4 641.6,382.8 642.1,382.0 642.6,381.2 643.1,380.3 643.6,379.5 644.1,378.8 644.6,378.2 645.1,377.7 645.6,377.0 646.1,376.1 646.6,374.9 647.1,373.8 647.6,372.7 648.1,371.1 648.6,369.4 649.1,367.8 649.6,365.9 650.1,363.9 650.6,362.1 651.1,361.8 651.6,361.7 652.1,361.8 652.6,361.8 653.1,361.7 653.6,361.5 654.1,361.4 654.6,361.5 655.1,362.1 655.6,362.8 656.1,363.5 656.6,363.9 657.1,364.2 657.6,364.6 658.1,365.0 658.6,365.3 659.1,365.6 659.6,365.6 660.1,365.3 660.6,364.9 661.1,364.5 661.6,364.3 662.1,365.2 662.6,366.7 663.1,368.4 663.6,370.0 664.1,371.6 664.6,373.0 665.1,374.3 665.6,375.9 666.1,377.7 666.6,379.3 667.1,380.6 667.6,381.2 668.1,381.5 668.6,381.7 669.1,381.8 669.6,381.9 670.1,381.7 670.6,381.6 671.1,381.3 671.6,380.8 672.1,380.3 672.6,379.7 673.1,379.4 673.6,379.5 674.1,380.1 674.6,380.7 675.1,381.2 675.6,381.6 676.1,382.1 676.6,382.5 677.1,382.7 677.6,382.3 678.1,381.5 678.6,380.6 679.1,379.9 679.6,379.8 680.1,380.5 680.6,381.8 681.1,383.8 681.6,385.8 682.1,387.3 682.6,388.2 683.1,389.0 683.6,389.9 684.1,391.3 684.6,393.1 685.1,395.1 685.6,396.2 686.1,396.5 686.6,396.1 687.1,395.3 687.6,394.7 688.1,394.7 688.6,395.2 689.1,396.0 689.6,396.7 690.1,397.2 690.6,397.2 691.1,397.0 691.6,396.5 692.1,396.1 692.6,395.7 693.1,395.1 693.6,394.3 694.1,393.2 694.6,392.0 695.1,390.8 695.6,390.1 696.1,389.8 696.6,390.0 697.1,390.2 697.6,389.9 698.1,389.0 698.6,387.4 699.1,385.6 699.6,383.8 700.1,382.3 700.6,381.1 701.1,380.2 701.6,379.4 702.1,378.6 702.6,377.9 703.1,377.7 703.6,377.9 704.1,378.5 704.6,379.1 705.1,379.6 705.6,380.1 706.1,380.7 706.6,381.3 707.1,381.6 707.6,381.7 708.1,381.5 708.6,381.3 709.1,381.2 709.6,380.9 710.1,380.3 710.6,379.7 711.1,379.5 711.6,379.5 712.1,379.7 712.6,379.8 713.1,379.6 713.6,379.1 714.1,378.4 714.6,377.8 715.1,377.7 715.6,378.1 716.1,378.7 716.6,378.9 717.1,378.6 717.6,377.9 718.1,377.2 718.6,376.7 719.1,376.4 719.6,376.2 720.1,376.1 720.6,375.8 721.1,375.1 721.6,373.7 722.1,371.9 722.6,369.9 723.1,368.1 723.6,366.7 724.1,365.6 724.6,364.7 725.1,363.7 725.6,362.3 726.1,360.5 726.6,358.5 727.1,356.4 727.6,354.6 728.1,353.4 728.6,352.6 729.1,352.1 729.6,351.9 730.1,352.2 730.6,352.8 731.1,354.0 731.6,355.1 732.1,355.7 732.6,355.6 733.1,353.9 733.6,352.2 734.1,350.9 734.6,350.0 735.1,349.6 735.6,349.4 736.1,349.4 736.6,349.2 737.1,348.6 737.6,347.7 738.1,347.1 738.6,347.0 739.1,346.9 739.6,346.7 740.1,346.5 740.6,346.9 741.1,347.5 741.6,348.1 742.1,348.4 742.6,348.5 743.1,348.8 743.6,349.5 744.1,350.8 744.6,352.4 745.1,354.0 745.6,355.0" stroke="#9467bd"/><path d="M96.6,381.0 97.1,382.1 97.6,383.3 98.1,384.2 98.6,384.5 99.1,383.9 99.6,382.8 100.1,381.7 100.6,380.9 101.1,380.4 101.6,380.2 102.1,380.1 102.6,380.0 103.1,379.6 103.6,379.1 104.1,378.5 104.6,377.9 105.1,377.4 105.6,376.8 106.1,376.2 106.6,375.7 107.1,375.6 107.6,375.7 108.1,375.8 108.6,375.7 109.1,375.1 109.6,374.0 110.1,372.7 110.6,371.1 111.1,369.6 111.6,368.3 112.1,367.1 112.6,366.2 113.1,365.6 113.6,365.5 114.1,365.8 114.6,366.3 115.1,367.0 115.6,368.3 116.1,369.6 116.6,370.8 117.1,371.8 117.6,372.4 118.1,372.8 118.6,373.1 119.1,373.6 119.6,374.2 120.1,374.6 120.6,374.7 121.1,374.6 121.6,374.2 122.1,373.8 122.6,373.4 123.1,373.2 123.6,373.2 124.1,373.3 124.6,373.4 125.1,373.4 125.6,373.3 126.1,373.3 126.6,373.3 127.1,373.4 127.6,373.5 128.1,373.6 128.6,373.7 129.1,373.7 129.6,373.7 130.1,373.5 130.6,373.6 131.1,374.1 131.6,374.7 132.1,375.1 132.6,374.9 133.1,374.3 133.6,373.7 134.1,373.5 134.6,373.7 135.1,373.9 135.6,374.0 136.1,374.1 136.6,374.1 137.1,374.4 137.6,375.0 138.1,375.8 138.6,376.8 139.1,377.8 139.6,378.6 140.1,379.3 140.6,380.0 141.1,380.5 141.6,380.1 142.1,379.5 142.6,378.6 143.1,377.5 143.6,376.2 144.1,374.8 144.6,373.3 145.1,371.5 145.6,369.4 146.1,367.4 146.6,365.6 147.1,364.2 147.6,363.2 148.1,362.7 148.6,363.4 149.1,364.2 149.6,365.3 150.1,366.7 150.6,368.4 151.1,370.0 151.6,371.6 152.1,373.0 152.6,374.4 153.1,375.9 153.6,377.8 154.1,379.9 154.6,382.1 155.1,384.0 155.6,385.7 156.1,387.3 156.6,388.9 157.1,390.6 157.6,392.3 158.1,394.0 158.6,395.6 159.1,395.4 159.6,393.5 160.1,390.6 160.6,387.1 161.1,383.3 161.6,379.9 162.1,377.1 162.6,375.0 163.1,373.3 163.6,371.7 164.1,370.0 164.6,368.0 165.1,365.8 165.6,363.9 166.1,362.5 166.6,361.7 167.1,361.4 167.6,362.1 168.1,363.6 168.6,364.8 169.1,365.7 169.6,366.4 170.1,367.2 170.6,368.4 171.1,370.0 171.6,371.8 172.1,373.5 172.6,374.8 173.1,376.3 173.6,377.7 174.1,379.0 174.6,380.2 175.1,381.4 175.6,382.9 176.1,384.7 176.6,385.7 177.1,385.6 177.6,384.8 178.1,383.2 178.6,380.9 179.1,378.3 179.6,375.8 180.1,373.5 180.6,371.0 181.1,368.1 181.6,365.3 182.1,362.9 182.6,361.1 183.1,359.7 183.6,358.8 184.1,358.2 184.6,359.4 185.1,361.3 185.6,363.5 186.1,366.1 186.6,368.6 187.1,370.8 187.6,372.4 188.1,373.4 188.6,374.1 189.1,374.7 189.6,375.3 190.1,376.2 190.6,377.4 191.1,378.8 191.6,380.4 192.1,382.0 192.6,383.6 193.1,385.4 193.6,387.1 194.1,388.2 194.6,386.9 195.1,384.9 195.6,382.4 196.1,379.4 196.6,376.1 197.1,373.0 197.6,369.6 198.1,366.3 198.6,363.8 199.1,363.0 199.6,364.6 200.1,366.3 200.6,367.9 201.1,369.5 201.6,371.0 202.1,372.3 202.6,373.3 203.1,374.1 203.6,374.9 204.1,375.7 204.6,376.7 205.1,377.7 205.6,378.5 206.1,378.2 206.6,377.0 207.1,375.7 207.6,374.5 208.1,373.6 208.6,372.7 209.1,371.7 209.6,370.5 210.1,369.0 210.6,367.2 211.1,365.6 211.6,364.4 212.1,363.5 212.6,362.8 213.1,363.0 213.6,363.2 214.1,363.8 214.6,364.8 215.1,366.2 215.6,368.0 216.1,369.7 216.6,371.1 217.1,372.2 217.6,373.0 218.1,373.4 218.6,373.8 219.1,374.2 219.6,374.6 220.1,375.0 220.6,375.1 221.1,375.1 221.6,375.0 222.1,374.7 222.6,374.3 223.1,373.5 223.6,372.4 224.1,371.3 224.6,370.4 225.1,370.5 225.6,370.9 226.1,371.5 226.6,372.2 227.1,373.0 227.6,373.9 228.1,374.8 228.6,375.9 229.1,376.7 229.6,377.2 230.1,377.4 230.6,377.1 231.1,376.5 231.6,375.6 232.1,374.6 232.6,374.2 233.1,374.3 233.6,374.7 234.1,375.1 234.6,375.7 235.1,376.5 235.6,377.6 236.1,378.9 236.6,380.3 237.1,381.9 237.6,383.5 238.1,384.0 238.6,383.4 239.1,382.1 239.6,380.3 240.1,378.1 240.6,376.0 241.1,374.4 241.6,373.0 242.1,371.8 242.6,370.4 243.1,368.8 243.6,367.0 244.1,365.4 244.6,364.6 245.1,364.8 245.6,365.0 246.1,365.1 246.6,365.0 247.1,365.0 247.6,365.3 248.1,366.3 248.6,367.8 249.1,369.7 249.6,371.3 250.1,372.3 250.6,373.0 251.1,373.6 251.6,374.1 252.1,374.6 252.6,374.9 253.1,374.9 253.6,374.7 254.1,374.4 254.6,373.8 255.1,373.0 255.6,372.1 256.1,371.3 256.6,370.7 257.1,370.0 257.6,369.2 258.1,368.5 258.6,368.3 259.1,369.6 259.6,371.6 260.1,373.5 260.6,374.8 261.1,375.3 261.6,375.3 262.1,375.1 262.6,375.1 263.1,375.2 263.6,375.4 264.1,375.7 264.6,375.9 265.1,376.2 265.6,376.4 266.1,376.8 266.6,377.2 267.1,377.9 267.6,379.1 268.1,380.8 268.6,382.7 269.1,384.5 269.6,386.0 270.1,387.3 270.6,388.4 271.1,389.2 271.6,388.9 272.1,388.3 272.6,387.6 273.1,386.8 273.6,385.6 274.1,384.1 274.6,382.6 275.1,381.1 275.6,379.7 276.1,378.4 276.6,377.0 277.1,375.6 277.6,374.3 278.1,373.0 278.6,371.8 279.1,370.6 279.6,369.3 280.1,368.0 280.6,366.5 281.1,364.8 281.6,363.0 282.1,361.0 282.6,359.0 283.1,357.2 283.6,355.7 284.1,354.6 284.6,354.1 285.1,354.0 285.6,354.8 286.1,356.5 286.6,358.2 287.1,359.5 287.6,360.6 288.1,361.7 288.6,363.1 289.1,364.5 289.6,365.3 290.1,365.2 290.6,364.6 291.1,364.0 291.6,363.7 292.1,363.8 292.6,364.2 293.1,364.7 293.6,365.2 294.1,365.3 294.6,365.1 295.1,364.8 295.6,364.5 296.1,364.5 296.6,364.7 297.1,365.0 297.6,365.3 298.1,365.5 298.6,364.9 299.1,364.0 299.6,362.8 300.1,361.6 300.6,360.4 301.1,359.5 301.6,358.8 302.1,358.2 302.6,357.6 303.1,357.2 303.6,356.8 304.1,357.4 304.6,358.4 305.1,359.8 305.6,361.8 306.1,364.2 306.6,366.5 307.1,368.5 307.6,370.0 308.1,371.0 308.6,371.7 309.1,372.3 309.6,372.7 310.1,373.1 310.6,373.4 311.1,373.5 311.6,373.4 312.1,373.0 312.6,372.0 313.1,370.4 313.6,368.3 314.1,365.9 314.6,363.6 315.1,361.4 315.6,359.4 316.1,357.4 316.6,355.7 317.1,354.1 317.6,353.2 318.1,353.2 318.6,353.0 319.1,352.6 319.6,351.8 320.1,351.0 320.6,350.7 321.1,351.2 321.6,352.2 322.1,353.4 322.6,354.7 323.1,356.6 323.6,358.6 324.1,360.4 324.6,362.2 325.1,364.1 325.6,366.2 326.1,368.5 326.6,370.8 327.1,372.8 327.6,374.1 328.1,374.9 328.6,375.7 329.1,376.6 329.6,377.7 330.1,378.9 330.6,380.0 331.1,380.8 331.6,381.4 332.1,381.7 332.6,382.1 333.1,382.5 333.6,382.7 334.1,383.0 334.6,383.5 335.1,384.2 335.6,384.5 336.1,384.5 336.6,384.1 337.1,383.6 337.6,383.1 338.1,382.5 338.6,382.0 339.1,381.6 339.6,381.3 340.1,380.9 340.6,380.6 341.1,380.8 341.6,382.6 342.1,384.9 342.6,387.7 343.1,390.5 343.6,393.1 344.1,395.3 344.6,396.8 345.1,397.9 345.6,399.0 346.1,400.5 346.6,402.6 347.1,405.0 347.6,407.5 348.1,410.0 348.6,411.6 349.1,412.4 349.6,412.6 350.1,412.2 350.6,412.6 351.1,413.0 351.6,413.1 352.1,412.8 352.6,412.4 353.1,412.3 353.6,412.9 354.1,413.3 354.6,414.1 355.1,415.5 355.6,417.1 356.1,418.1 356.6,418.7 357.1,419.4 357.6,421.5 358.1,424.4 358.6,427.0 359.1,428.9 359.6,429.8 360.1,430.3 360.6,430.9 361.1,431.2 361.6,431.4 362.1,431.6 362.6,431.9 363.1,432.6 363.6,434.4 364.1,436.7 364.6,439.7 365.1,443.4 365.6,447.5 366.1,451.5 366.6,455.0 367.1,458.2 367.6,460.5 368.1,462.2 368.6,463.7 369.1,465.3 369.6,467.1 370.1,469.0 370.6,470.6 371.1,472.8 371.6,475.0 372.1,476.8 372.6,478.1 373.1,479.3 373.6,481.1 374.1,483.5 374.6,486.2 375.1,488.7 375.6,491.0 376.1,493.0 376.6,494.0 377.1,491.6 377.6,489.2 378.1,486.9 378.6,485.0 379.1,483.2 379.6,481.3 380.1,479.1 380.6,476.8 381.1,474.3 381.6,471.0 382.1,467.3 382.6,463.3 383.1,459.0 383.6,454.8 384.1,450.9 384.6,447.7 385.1,445.6 385.6,443.6 386.1,441.5 386.6,439.5 387.1,437.7 387.6,435.9 388.1,433.8 388.6,431.1 389.1,428.0 389.6,425.2 390.1,422.3 390.6,419.5 391.1,417.0 391.6,414.6 392.1,412.6 392.6,411.4 393.1,411.0 393.6,411.4 394.1,411.9 394.6,411.8 395.1,411.3 395.6,411.0 396.1,411.4 396.6,412.3 397.1,412.7 397.6,412.1 398.1,411.2 398.6,410.6 399.1,410.7 399.6,411.3 400.1,412.1 400.6,413.0 401.1,414.1 401.6,415.4 402.1,416.7 402.6,417.5 403.1,417.5 403.6,416.4 404.1,414.6 404.6,412.7 405.1,411.3 405.6,410.6 406.1,410.5 406.6,411.1 407.1,412.3 407.6,414.0 408.1,415.4 408.6,416.2 409.1,416.4 409.6,416.4 410.1,416.4 410.6,416.5 411.1,416.6 411.6,416.3 412.1,415.5 412.6,414.4 413.1,413.5 413.6,412.8 414.1,412.4 414.6,411.9 415.1,411.2 415.6,410.7 416.1,410.3 416.6,409.9 417.1,409.5 417.6,409.2 418.1,409.4 418.6,410.4 419.1,412.5 419.6,415.1 420.1,417.4 420.6,418.6 421.1,418.2 421.6,416.6 422.1,414.4 422.6,412.3 423.1,410.8 423.6,409.7 424.1,409.1 424.6,408.8 425.1,408.6 425.6,408.3 426.1,406.3 426.6,403.7 427.1,401.3 427.6,399.5 428.1,398.4 428.6,397.1 429.1,395.7 429.6,394.6 430.1,394.1 430.6,394.2 431.1,395.0 431.6,395.7 432.1,396.3 432.6,396.9 433.1,397.9 433.6,399.1 434.1,400.1 434.6,400.6 435.1,400.8 435.6,400.8 436.1,400.7 436.6,400.6 437.1,400.6 437.6,400.8 438.1,401.3 438.6,402.2 439.1,403.4 439.6,404.9 440.1,406.0 440.6,406.2 441.1,405.4 441.6,403.9 442.1,402.3 442.6,401.2 443.1,400.5 443.6,400.2 444.1,399.9 444.6,399.7 445.1,399.6 445.6,399.7 446.1,399.9 446.6,400.2 447.1,400.3 447.6,400.1 448.1,399.7 448.6,399.1 449.1,398.6 449.6,398.0 450.1,397.2 450.6,396.3 451.1,395.4 451.6,395.0 452.1,395.2 452.6,395.9 453.1,396.8 453.6,397.7 454.1,398.4 454.6,398.8 455.1,398.8 455.6,398.6 456.1,398.4 456.6,398.2 457.1,397.9 457.6,397.6 458.1,397.1 458.6,396.5 459.1,395.9 459.6,395.5 460.1,395.4 460.6,395.6 461.1,396.0 461.6,396.4 462.1,397.1 462.6,398.0 463.1,399.0 463.6,399.8 464.1,400.2 464.6,400.1 465.1,399.7 465.6,398.8 466.1,397.5 466.6,396.3 467.1,395.3 467.6,395.1 468.1,395.7 468.6,396.9 469.1,398.2 469.6,399.2 470.1,399.9 470.6,400.4 471.1,400.6 471.6,400.3 472.1,399.4 472.6,398.5 473.1,398.2 473.6,398.6 474.1,399.3 474.6,399.7 475.1,399.4 475.6,398.8 476.1,399.2 476.6,400.2 477.1,402.1 477.6,404.2 478.1,406.1 478.6,407.8 479.1,408.8 479.6,408.9 480.1,408.2 480.6,406.9 481.1,406.1 481.6,405.7 482.1,405.7 482.6,405.8 483.1,406.3 483.6,406.9 484.1,407.6 484.6,408.3 485.1,408.7 485.6,408.9 486.1,408.9 486.6,408.6 487.1,407.8 487.6,406.3 488.1,404.5 488.6,402.9 489.1,401.9 489.6,401.1 490.1,398.9 490.6,396.0 491.1,392.9 491.6,390.5 492.1,389.4 492.6,388.7 493.1,388.4 493.6,388.3 494.1,388.3 494.6,387.9 495.1,387.4 495.6,386.9 496.1,386.6 496.6,386.5 497.1,386.6 497.6,386.9 498.1,387.2 498.6,387.6 499.1,387.9 499.6,388.0 500.1,388.1 500.6,388.2 501.1,388.2 501.6,388.3 502.1,388.6 502.6,389.1 503.1,389.6 503.6,390.1 504.1,390.5 504.6,390.5 505.1,390.0 505.6,389.3 506.1,388.4 506.6,387.6 507.1,387.0 507.6,386.5 508.1,385.8 508.6,385.0 509.1,384.1 509.6,383.3 510.1,382.9 510.6,382.6 511.1,382.2 511.6,381.6 512.1,381.0 512.6,380.5 513.1,380.3 513.6,380.5 514.1,380.9 514.6,381.0 515.1,380.5 515.6,379.7 516.1,379.1 516.6,379.0 517.1,379.4 517.6,380.0 518.1,380.2 518.6,379.8 519.1,379.3 519.6,379.0 520.1,378.9 520.6,378.9 521.1,378.9 521.6,378.7 522.1,378.5 522.6,378.3 523.1,377.9 523.6,377.4 524.1,376.9 524.6,376.5 525.1,376.3 525.6,376.4 526.1,376.4 526.6,376.1 527.1,375.4 527.6,374.5 528.1,373.7 528.6,373.3 529.1,373.2 529.6,373.3 530.1,373.2 530.6,372.8 531.1,372.4 531.6,372.3 532.1,372.5 532.6,372.8 533.1,373.3 533.6,373.7 534.1,374.0 534.6,374.0 535.1,373.9 535.6,373.8 536.1,373.7 536.6,373.7 537.1,373.7 537.6,373.5 538.1,373.3 538.6,373.0 539.1,372.8 539.6,372.6 540.1,372.3 540.6,372.0 541.1,371.7 541.6,371.4 542.1,371.2 542.6,370.8 543.1,370.0 543.6,369.1 544.1,368.3 544.6,367.9 545.1,368.4 545.6,369.4 546.1,370.7 546.6,372.0 547.1,373.0 547.6,373.6 548.1,374.0 548.6,374.2 549.1,374.5 549.6,374.9 550.1,375.4 550.6,375.9 551.1,376.3 551.6,376.6 552.1,376.9 552.6,377.3 553.1,377.8 553.6,378.5 554.1,378.9 554.6,378.7 555.1,378.1 555.6,377.2 556.1,376.3 556.6,375.4 557.1,374.6 557.6,373.8 558.1,373.2 558.6,372.6 559.1,372.0 559.6,371.4 560.1,371.0 560.6,370.7 561.1,370.6 561.6,370.6 562.1,370.6 562.6,370.7 563.1,370.6 563.6,370.7 564.1,370.6 564.6,370.6 565.1,370.6 565.6,370.8 566.1,371.1 566.6,371.3 567.1,371.4 567.6,371.5 568.1,371.4 568.6,371.3 569.1,371.3 569.6,371.3 570.1,371.5 570.6,371.9 571.1,372.6 571.6,373.5 572.1,374.5 572.6,375.4 573.1,376.3 573.6,377.1 574.1,378.0 574.6,378.7 575.1,379.2 575.6,379.2 576.1,378.8 576.6,378.1 577.1,377.4 577.6,376.9 578.1,376.6 578.6,376.3 579.1,376.0 579.6,375.9 580.1,376.2 580.6,377.2 581.1,378.6 581.6,380.3 582.1,381.5 582.6,381.8 583.1,381.4 583.6,380.3 584.1,379.0 584.6,377.6 585.1,376.4 585.6,375.6 586.1,375.0 586.6,374.4 587.1,373.5 587.6,372.7 588.1,371.9 588.6,371.3 589.1,370.7 589.6,369.8 590.1,368.8 590.6,367.4 591.1,365.9 591.6,364.5 592.1,363.4 592.6,362.9 593.1,363.0 593.6,363.8 594.1,364.4 594.6,364.5 595.1,364.5 595.6,364.5 596.1,364.6 596.6,364.4 597.1,364.3 597.6,364.2 598.1,364.1 598.6,364.1 599.1,363.9 599.6,363.6 600.1,363.1 600.6,362.7 601.1,362.4 601.6,362.2 602.1,362.4 602.6,362.7 603.1,363.2 603.6,364.0 604.1,365.0 604.6,366.2 605.1,367.3 605.6,368.2 606.1,368.8 606.6,369.0 607.1,368.8 607.6,368.5 608.1,368.4 608.6,368.7 609.1,369.3 609.6,369.7 610.1,369.6 610.6,369.1 611.1,368.3 611.6,367.7 612.1,367.4 612.6,367.6 613.1,368.2 613.6,369.0 614.1,369.9 614.6,370.6 615.1,371.2 615.6,371.7 616.1,372.3 616.6,372.9 617.1,373.5 617.6,374.3 618.1,375.2 618.6,376.3 619.1,377.4 619.6,378.5 620.1,379.8 620.6,381.3 621.1,382.9 621.6,384.2 622.1,385.3 622.6,386.0 623.1,386.6 623.6,387.2 624.1,387.5 624.6,387.9 625.1,388.4 625.6,389.3 626.1,390.2 626.6,391.0 627.1,391.4 627.6,391.5 628.1,391.3 628.6,390.7 629.1,389.6 629.6,388.5 630.1,387.7 630.6,387.3 631.1,387.1 631.6,386.7 632.1,386.1 632.6,385.4 633.1,384.8 633.6,384.2 634.1,384.0 634.6,384.3 635.1,385.2 635.6,386.3 636.1,387.5 636.6,388.7 637.1,389.7 637.6,390.3 638.1,390.4 638.6,389.5 639.1,388.2 639.6,386.5 640.1,385.0 640.6,384.0 641.1,383.5 641.6,383.0 642.1,382.3 642.6,381.2 643.1,380.0 643.6,378.8 644.1,377.9 644.6,377.4 645.1,377.0 645.6,376.6 646.1,376.0 646.6,375.2 647.1,374.4 647.6,373.3 648.1,371.7 648.6,370.1 649.1,368.6 649.6,367.2 650.1,365.9 650.6,364.7 651.1,364.6 651.6,364.6 652.1,364.8 652.6,364.8 653.1,364.5 653.6,364.1 654.1,363.8 654.6,363.9 655.1,364.2 655.6,364.7 656.1,365.0 656.6,365.0 657.1,364.9 657.6,365.1 658.1,365.4 658.6,365.9 659.1,366.1 659.6,365.8 660.1,365.1 660.6,364.4 661.1,364.0 661.6,364.0 662.1,365.1 662.6,366.5 663.1,367.9 663.6,369.4 664.1,370.9 664.6,372.5 665.1,374.3 665.6,376.5 666.1,378.9 666.6,381.0 667.1,382.7 667.6,383.7 668.1,384.2 668.6,384.5 669.1,384.8 669.6,385.3 670.1,385.6 670.6,385.9 671.1,386.0 671.6,385.8 672.1,385.3 672.6,384.7 673.1,384.4 673.6,384.3 674.1,384.5 674.6,384.7 675.1,384.8 675.6,385.0 676.1,385.3 676.6,385.5 677.1,385.4 677.6,384.9 678.1,383.9 678.6,382.9 679.1,382.2 679.6,382.2 680.1,382.9 680.6,384.0 681.1,386.0 681.6,387.7 682.1,389.0 682.6,389.8 683.1,390.6 683.6,391.6 684.1,393.2 684.6,395.4 685.1,397.6 685.6,399.0 686.1,399.2 686.6,398.6 687.1,397.6 687.6,396.8 688.1,396.6 688.6,397.2 689.1,398.2 689.6,399.0 690.1,399.4 690.6,399.5 691.1,399.4 691.6,399.3 692.1,399.2 692.6,399.1 693.1,398.8 693.6,398.2 694.1,397.2 694.6,396.0 695.1,395.0 695.6,394.3 696.1,394.0 696.6,394.1 697.1,394.3 697.6,394.1 698.1,393.3 698.6,391.7 699.1,389.5 699.6,387.4 700.1,385.7 700.6,384.5 701.1,383.7 701.6,383.0 702.1,382.2 702.6,381.4 703.1,381.2 703.6,381.7 704.1,382.5 704.6,383.4 705.1,384.2 705.6,384.9 706.1,385.9 706.6,387.0 707.1,388.1 707.6,388.6 708.1,388.7 708.6,388.4 709.1,388.1 709.6,387.8 710.1,387.3 710.6,386.9 711.1,386.8 711.6,387.1 712.1,387.5 712.6,387.8 713.1,387.6 713.6,387.1 714.1,386.4 714.6,385.7 715.1,385.4 715.6,385.6 716.1,386.2 716.6,386.7 717.1,386.8 717.6,386.4 718.1,385.6 718.6,384.5 719.1,383.5 719.6,382.8 720.1,382.4 720.6,382.2 721.1,381.8 721.6,380.8 722.1,379.2 722.6,377.3 723.1,375.3 723.6,373.5 724.1,372.3 724.6,371.6 725.1,371.0 725.6,370.0 726.1,368.5 726.6,366.4 727.1,364.2 727.6,362.1 728.1,360.3 728.6,358.7 729.1,357.4 729.6,356.5 730.1,356.0 730.6,356.0 731.1,356.5 731.6,357.0 732.1,357.3 732.6,356.9 733.1,355.2 733.6,353.5 734.1,352.1 734.6,351.1 735.1,350.5 735.6,350.2 736.1,350.3 736.6,350.4 737.1,350.1 737.6,349.4 738.1,348.7 738.6,348.4 739.1,348.0 739.6,347.4 740.1,347.1 740.6,347.4 741.1,348.1 741.6,349.1 742.1,349.8 742.6,350.3 743.1,350.8 743.6,351.7 744.1,353.3 744.6,355.4 745.1,357.4 745.6,358.7" stroke="#ff7f0e"/><path d="M96.6,379.2 97.1,380.2 97.6,381.4 98.1,382.3 98.6,382.8 99.1,382.5 99.6,381.8 100.1,381.2 100.6,380.9 101.1,380.7 101.6,380.7 102.1,380.8 102.6,380.8 103.1,380.5 103.6,379.9 104.1,378.9 104.6,378.0 105.1,377.1 105.6,376.5 106.1,376.0 106.6,375.7 107.1,375.6 107.6,375.6 108.1,375.5 108.6,375.2 109.1,374.6 109.6,373.6 110.1,372.2 110.6,370.6 111.1,369.2 111.6,368.0 112.1,367.3 112.6,366.9 113.1,367.0 113.6,367.6 114.1,368.5 114.6,369.2 115.1,369.7 115.6,370.3 116.1,371.0 116.6,372.1 117.1,373.1 117.6,373.9 118.1,374.3 118.6,374.4 119.1,374.4 119.6,374.4 120.1,374.2 120.6,374.0 121.1,373.6 121.6,373.1 122.1,372.6 122.6,372.0 123.1,371.6 123.6,371.3 124.1,371.4 124.6,371.7 125.1,372.0 125.6,371.9 126.1,371.5 126.6,370.9 127.1,370.2 127.6,369.6 128.1,369.3 128.6,369.5 129.1,369.8 129.6,370.1 130.1,370.3 130.6,370.8 131.1,371.5 131.6,372.2 132.1,372.7 132.6,372.6 133.1,372.3 133.6,372.0 134.1,371.9 134.6,372.2 135.1,372.6 135.6,373.2 136.1,373.8 136.6,374.3 137.1,374.7 137.6,375.3 138.1,376.2 138.6,377.2 139.1,378.4 139.6,379.5 140.1,380.6 140.6,381.7 141.1,382.6 141.6,382.2 142.1,381.3 142.6,379.9 143.1,378.2 143.6,376.3 144.1,374.4 144.6,372.7 145.1,370.9 145.6,368.8 146.1,366.6 146.6,364.6 147.1,363.1 147.6,362.2 148.1,362.0 148.6,363.2 149.1,364.4 149.6,365.8 150.1,367.4 150.6,369.1 151.1,370.7 151.6,372.2 152.1,373.4 152.6,374.5 153.1,375.8 153.6,377.3 154.1,379.2 154.6,381.2 155.1,383.2 155.6,385.1 156.1,387.0 156.6,389.1 157.1,391.2 157.6,393.1 158.1,394.9 158.6,396.7 159.1,396.8 159.6,395.2 160.1,392.6 160.6,389.2 161.1,385.5 161.6,381.8 162.1,378.5 162.6,375.6 163.1,373.3 163.6,371.3 164.1,369.2 164.6,366.9 165.1,364.3 165.6,361.6 166.1,359.0 166.6,357.1 167.1,356.0 167.6,356.6 168.1,358.7 168.6,360.7 169.1,362.3 169.6,363.8 170.1,365.6 170.6,367.7 171.1,370.1 171.6,372.5 172.1,374.4 172.6,375.9 173.1,377.5 173.6,379.1 174.1,380.6 174.6,381.8 175.1,383.0 175.6,384.4 176.1,386.2 176.6,386.9 177.1,386.6 177.6,385.6 178.1,383.9 178.6,381.5 179.1,378.5 179.6,375.4 180.1,372.7 180.6,370.1 181.1,367.6 181.6,365.5 182.1,364.0 182.6,363.1 183.1,362.5 183.6,362.1 184.1,361.9 184.6,363.2 185.1,365.0 185.6,367.0 186.1,368.9 186.6,370.6 187.1,372.0 187.6,373.1 188.1,373.8 188.6,374.2 189.1,374.4 189.6,374.4 190.1,374.7 190.6,375.3 191.1,376.3 191.6,377.5 192.1,378.8 192.6,380.2 193.1,381.6 193.6,383.0 194.1,383.9 194.6,383.2 195.1,382.0 195.6,380.5 196.1,378.4 196.6,375.7 197.1,372.8 197.6,369.2 198.1,365.7 198.6,362.8 199.1,361.6 199.6,363.2 200.1,364.8 200.6,366.5 201.1,368.3 201.6,370.1 202.1,371.8 202.6,373.1 203.1,374.1 203.6,375.2 204.1,376.5 204.6,378.0 205.1,379.2 205.6,380.0 206.1,379.7 206.6,377.9 207.1,376.1 207.6,374.4 208.1,372.9 208.6,371.5 209.1,369.9 209.6,368.2 210.1,366.1 210.6,364.0 211.1,362.0 211.6,360.5 212.1,359.4 212.6,358.6 213.1,359.1 213.6,359.8 214.1,360.7 214.6,362.1 215.1,364.0 215.6,366.3 216.1,368.5 216.6,370.4 217.1,371.8 217.6,372.9 218.1,373.7 218.6,374.1 219.1,374.5 219.6,374.9 220.1,375.2 220.6,375.5 221.1,375.7 221.6,375.8 222.1,375.7 222.6,375.2 223.1,374.4 223.6,373.3 224.1,372.4 224.6,372.2 225.1,372.7 225.6,373.4 226.1,374.0 226.6,374.3 227.1,374.5 227.6,374.8 228.1,375.0 228.6,375.2 229.1,375.3 229.6,375.4 230.1,375.4 230.6,375.1 231.1,374.2 231.6,372.9 232.1,371.9 232.6,371.3 233.1,371.5 233.6,372.1 234.1,373.0 234.6,374.1 235.1,375.7 235.6,377.7 236.1,379.8 236.6,381.8 237.1,383.5 237.6,384.9 238.1,384.7 238.6,383.4 239.1,381.8 239.6,379.9 240.1,377.8 240.6,375.7 241.1,374.1 241.6,372.8 242.1,371.5 242.6,369.8 243.1,367.7 243.6,365.4 244.1,363.5 244.6,362.7 245.1,363.1 245.6,363.4 246.1,363.3 246.6,362.7 247.1,362.0 247.6,362.0 248.1,362.8 248.6,364.3 249.1,366.6 249.6,368.5 250.1,369.8 250.6,370.5 251.1,371.1 251.6,371.8 252.1,372.6 252.6,373.5 253.1,374.1 253.6,374.5 254.1,374.8 254.6,375.0 255.1,375.0 255.6,374.8 256.1,374.5 256.6,374.3 257.1,374.1 257.6,373.9 258.1,373.8 258.6,374.0 259.1,374.7 259.6,375.8 260.1,376.7 260.6,377.2 261.1,376.7 261.6,375.7 262.1,374.4 262.6,373.4 263.1,373.0 263.6,372.9 264.1,372.9 264.6,372.8 265.1,372.9 265.6,373.1 266.1,373.6 266.6,374.3 267.1,375.4 267.6,376.9 268.1,378.8 268.6,380.9 269.1,382.6 269.6,383.9 270.1,384.9 270.6,385.9 271.1,386.8 271.6,386.8 272.1,386.6 272.6,386.3 273.1,385.9 273.6,385.1 274.1,383.9 274.6,382.4 275.1,380.9 275.6,379.4 276.1,378.1 276.6,376.8 277.1,375.7 277.6,374.6 278.1,373.5 278.6,372.2 279.1,370.8 279.6,369.1 280.1,367.4 280.6,365.6 281.1,364.0 281.6,362.6 282.1,361.4 282.6,360.2 283.1,359.1 283.6,357.9 284.1,357.0 284.6,356.6 285.1,356.9 285.6,358.0 286.1,360.0 286.6,361.8 287.1,363.2 287.6,364.3 288.1,365.4 288.6,366.6 289.1,367.8 289.6,368.4 290.1,368.4 290.6,368.2 291.1,367.9 291.6,367.8 292.1,367.8 292.6,368.0 293.1,368.3 293.6,368.6 294.1,368.7 294.6,368.4 295.1,367.9 295.6,367.5 296.1,367.4 296.6,367.4 297.1,367.6 297.6,367.9 298.1,368.0 298.6,367.5 299.1,366.8 299.6,365.7 300.1,364.5 300.6,363.4 301.1,362.7 301.6,362.3 302.1,362.0 302.6,361.7 303.1,361.4 303.6,361.2 304.1,361.7 304.6,362.4 305.1,363.5 305.6,365.0 306.1,366.7 306.6,368.6 307.1,370.2 307.6,371.6 308.1,372.5 308.6,373.0 309.1,373.0 309.6,372.8 310.1,372.6 310.6,372.6 311.1,372.4 311.6,372.2 312.1,371.5 312.6,370.1 313.1,367.9 313.6,365.2 314.1,362.6 314.6,360.2 315.1,358.0 315.6,355.9 316.1,353.9 316.6,352.1 317.1,350.8 317.6,350.5 318.1,351.1 318.6,351.6 319.1,351.6 319.6,351.1 320.1,350.6 320.6,350.6 321.1,351.5 321.6,353.0 322.1,354.5 322.6,356.1 323.1,358.0 323.6,359.8 324.1,361.3 324.6,362.9 325.1,364.8 325.6,367.0 326.1,369.5 326.6,372.0 327.1,374.1 327.6,375.5 328.1,376.4 328.6,377.0 329.1,377.6 329.6,378.4 330.1,379.3 330.6,380.4 331.1,381.2 331.6,381.8 332.1,382.2 332.6,382.5 333.1,382.8 333.6,383.0 334.1,383.4 334.6,384.1 335.1,384.8 335.6,385.1 336.1,385.1 336.6,384.7 337.1,384.3 337.6,383.8 338.1,383.0 338.6,382.2 339.1,381.5 339.6,380.9 340.1,380.5 340.6,380.5 341.1,381.0 341.6,383.1 342.1,385.7 342.6,388.5 343.1,391.6 343.6,394.5 344.1,397.0 344.6,398.7 345.1,400.1 345.6,401.4 346.1,403.2 346.6,405.6 347.1,408.5 347.6,411.5 348.1,414.6 348.6,416.8 349.1,417.8 349.6,418.0 350.1,417.2 350.6,417.2 351.1,417.4 351.6,417.1 352.1,416.7 352.6,416.3 353.1,416.2 353.6,416.8 354.1,417.1 354.6,417.6 355.1,418.8 355.6,420.4 356.1,421.8 356.6,422.7 357.1,423.7 357.6,426.0 358.1,428.8 358.6,431.4 359.1,433.5 359.6,434.7 360.1,435.7 360.6,436.8 361.1,437.6 361.6,438.2 362.1,438.7 362.6,439.1 363.1,439.9 363.6,441.9 364.1,444.5 364.6,447.7 365.1,451.5 365.6,455.6 366.1,459.7 366.6,463.4 367.1,467.0 367.6,469.9 368.1,472.3 368.6,474.3 369.1,476.3 369.6,478.5 370.1,480.8 370.6,482.5 371.1,484.8 371.6,487.3 372.1,489.6 372.6,491.5 373.1,493.4 373.6,495.9 374.1,498.8 374.6,501.6 375.1,503.6 375.6,505.0 376.1,506.1 376.6,506.4 377.1,503.6 377.6,501.2 378.1,499.2 378.6,497.5 379.1,495.7 379.6,493.4 380.1,490.6 380.6,487.5 381.1,484.1 381.6,480.0 382.1,475.7 382.6,471.3 383.1,466.9 383.6,462.8 384.1,459.2 384.6,456.3 385.1,454.2 385.6,452.1 386.1,449.6 386.6,447.0 387.1,444.6 387.6,442.5 388.1,440.1 388.6,437.3 389.1,433.9 389.6,430.8 390.1,427.5 390.6,424.6 391.1,422.1 391.6,420.1 392.1,418.4 392.6,417.3 393.1,416.8 393.6,417.0 394.1,417.1 394.6,416.6 395.1,415.8 395.6,415.3 396.1,415.8 396.6,417.2 397.1,418.3 397.6,418.5 398.1,418.0 398.6,417.5 399.1,417.4 399.6,417.7 400.1,418.1 400.6,418.8 401.1,419.6 401.6,420.5 402.1,421.6 402.6,422.5 403.1,422.8 403.6,422.2 404.1,420.8 404.6,419.2 405.1,417.8 405.6,417.0 406.1,416.7 406.6,417.1 407.1,418.2 407.6,419.5 408.1,420.4 408.6,420.6 409.1,420.3 409.6,419.9 410.1,420.0 410.6,420.6 411.1,421.3 411.6,421.7 412.1,421.6 412.6,421.0 413.1,420.3 413.6,419.4 414.1,418.4 414.6,417.3 415.1,416.3 415.6,415.7 416.1,415.7 416.6,415.8 417.1,415.5 417.6,415.0 418.1,414.8 418.6,415.7 419.1,418.0 419.6,421.3 420.1,424.5 420.6,426.4 421.1,426.4 421.6,424.7 422.1,422.3 422.6,419.9 423.1,417.9 423.6,416.3 424.1,415.2 424.6,414.5 425.1,414.1 425.6,413.6 426.1,411.5 426.6,408.9 427.1,406.5 427.6,404.5 428.1,403.0 428.6,401.3 429.1,399.6 429.6,398.3 430.1,397.7 430.6,397.8 431.1,398.5 431.6,398.9 432.1,399.1 432.6,399.2 433.1,399.6 433.6,400.4 434.1,401.2 434.6,401.8 435.1,402.3 435.6,402.6 436.1,402.7 436.6,402.6 437.1,402.6 437.6,402.8 438.1,403.3 438.6,404.2 439.1,405.5 439.6,407.1 440.1,408.4 440.6,408.7 441.1,407.9 441.6,406.1 442.1,404.4 442.6,403.2 443.1,402.6 443.6,402.3 444.1,402.3 444.6,402.4 445.1,402.6 445.6,402.9 446.1,403.3 446.6,403.7 447.1,403.8 447.6,403.6 448.1,403.1 448.6,402.5 449.1,401.8 449.6,401.0 450.1,400.4 450.6,399.8 451.1,399.5 451.6,399.4 452.1,399.5 452.6,399.7 453.1,400.2 453.6,400.9 454.1,401.5 454.6,401.9 455.1,401.8 455.6,401.4 456.1,400.9 456.6,400.4 457.1,400.0 457.6,399.7 458.1,399.6 458.6,399.5 459.1,399.3 459.6,399.2 460.1,399.3 460.6,399.4 461.1,399.6 461.6,399.7 462.1,399.7 462.6,399.9 463.1,400.5 463.6,401.3 464.1,402.0 464.6,402.5 465.1,402.4 465.6,401.8 466.1,400.8 466.6,399.8 467.1,399.2 467.6,399.3 468.1,400.1 468.6,401.1 469.1,402.0 469.6,402.5 470.1,402.6 470.6,402.6 471.1,402.6 471.6,402.0 472.1,401.0 472.6,400.1 473.1,399.8 473.6,400.5 474.1,401.7 474.6,402.5 475.1,402.6 475.6,402.1 476.1,402.9 476.6,404.5 477.1,406.7 477.6,409.2 478.1,411.1 478.6,412.7 479.1,413.6 479.6,413.7 480.1,413.2 480.6,412.4 481.1,412.0 481.6,411.8 482.1,411.8 482.6,412.0 483.1,412.3 483.6,412.8 484.1,413.3 484.6,413.6 485.1,413.6 485.6,413.4 486.1,413.1 486.6,412.4 487.1,411.3 487.6,409.5 488.1,407.3 488.6,405.5 489.1,404.4 489.6,403.4 490.1,401.0 490.6,397.7 491.1,394.2 491.6,391.5 492.1,390.5 492.6,389.8 493.1,389.5 493.6,389.4 494.1,389.2 494.6,388.8 495.1,388.3 495.6,387.6 496.1,387.3 496.6,387.3 497.1,387.8 497.6,388.4 498.1,388.7 498.6,388.9 499.1,388.8 499.6,388.6 500.1,388.7 500.6,389.0 501.1,389.3 501.6,389.8 502.1,390.4 502.6,391.1 503.1,391.6 503.6,392.0 504.1,392.1 504.6,392.1 505.1,391.6 505.6,390.8 506.1,389.7 506.6,388.5 507.1,387.4 507.6,386.6 508.1,386.1 508.6,385.5 509.1,384.8 509.6,384.0 510.1,383.5 510.6,383.1 511.1,382.8 511.6,382.3 512.1,381.9 512.6,381.7 513.1,382.0 513.6,382.6 514.1,383.3 514.6,383.6 515.1,383.2 515.6,382.5 516.1,382.0 516.6,381.9 517.1,382.4 517.6,383.0 518.1,383.3 518.6,383.1 519.1,382.6 519.6,382.3 520.1,382.2 520.6,382.4 521.1,382.5 521.6,382.4 522.1,382.0 522.6,381.4 523.1,380.7 523.6,379.8 524.1,379.2 524.6,378.8 525.1,378.7 525.6,378.7 526.1,378.6 526.6,378.4 527.1,377.9 527.6,377.2 528.1,376.7 528.6,376.4 529.1,376.4 529.6,376.4 530.1,376.1 530.6,375.4 531.1,374.8 531.6,374.6 532.1,374.8 532.6,375.1 533.1,375.5 533.6,375.7 534.1,375.7 534.6,375.4 535.1,375.0 535.6,374.6 536.1,374.5 536.6,374.6 537.1,374.7 537.6,374.6 538.1,374.4 538.6,374.0 539.1,373.5 539.6,372.8 540.1,371.9 540.6,371.0 541.1,370.1 541.6,369.4 542.1,368.7 542.6,368.0 543.1,367.2 543.6,366.2 544.1,365.2 544.6,364.5 545.1,364.8 545.6,365.9 546.1,367.3 546.6,368.8 547.1,369.9 547.6,370.6 548.1,371.1 548.6,371.7 549.1,372.4 549.6,373.1 550.1,373.6 550.6,373.9 551.1,374.0 551.6,374.2 552.1,374.5 552.6,375.0 553.1,375.7 553.6,376.5 554.1,377.1 554.6,377.2 555.1,376.9 555.6,376.5 556.1,375.9 556.6,375.3 557.1,374.4 557.6,373.5 558.1,372.7 558.6,372.1 559.1,371.7 559.6,371.4 560.1,371.2 560.6,371.1 561.1,371.1 561.6,371.2 562.1,371.3 562.6,371.3 563.1,371.2 563.6,371.3 564.1,371.2 564.6,371.2 565.1,371.3 565.6,371.6 566.1,371.9 566.6,372.1 567.1,372.1 567.6,372.0 568.1,371.8 568.6,371.7 569.1,371.7 569.6,371.8 570.1,372.0 570.6,372.3 571.1,372.9 571.6,373.8 572.1,374.6 572.6,375.3 573.1,375.9 573.6,376.4 574.1,376.9 574.6,377.4 575.1,377.6 575.6,377.4 576.1,376.8 576.6,375.9 577.1,375.0 577.6,374.5 578.1,374.3 578.6,374.1 579.1,373.8 579.6,373.6 580.1,373.6 580.6,374.1 581.1,374.9 581.6,375.8 582.1,376.7 582.6,377.1 583.1,377.1 583.6,376.7 584.1,376.1 584.6,375.5 585.1,375.1 585.6,374.9 586.1,374.8 586.6,374.6 587.1,374.2 587.6,373.6 588.1,373.0 588.6,372.3 589.1,371.5 589.6,370.6 590.1,369.4 590.6,368.1 591.1,366.9 591.6,366.0 592.1,365.5 592.6,365.4 593.1,365.7 593.6,366.5 594.1,366.8 594.6,366.7 595.1,366.5 595.6,366.6 596.1,367.0 596.6,367.3 597.1,367.4 597.6,367.4 598.1,367.4 598.6,367.5 599.1,367.7 599.6,367.8 600.1,367.6 600.6,367.4 601.1,367.2 601.6,367.0 602.1,367.0 602.6,367.1 603.1,367.4 603.6,368.0 604.1,368.8 604.6,369.8 605.1,370.7 605.6,371.3 606.1,371.5 606.6,371.3 607.1,370.9 607.6,370.8 608.1,371.1 608.6,371.9 609.1,372.7 609.6,373.2 610.1,373.3 610.6,372.9 611.1,372.2 611.6,371.7 612.1,371.3 612.6,371.2 613.1,371.2 613.6,371.2 614.1,371.1 614.6,371.1 615.1,371.0 615.6,371.1 616.1,371.5 616.6,372.2 617.1,373.0 617.6,374.0 618.1,375.1 618.6,376.0 619.1,376.8 619.6,377.8 620.1,378.9 620.6,380.3 621.1,381.7 621.6,383.0 622.1,383.8 622.6,384.3 623.1,384.8 623.6,385.4 624.1,386.0 624.6,386.6 625.1,387.4 625.6,388.3 626.1,389.2 626.6,389.9 627.1,390.5 627.6,390.7 628.1,390.7 628.6,390.2 629.1,389.2 629.6,388.1 630.1,387.0 630.6,386.3 631.1,385.7 631.6,385.2 632.1,384.8 632.6,384.8 633.1,385.1 633.6,385.3 634.1,385.5 634.6,385.8 635.1,386.3 635.6,387.0 636.1,387.8 636.6,388.6 637.1,389.4 637.6,390.0 638.1,390.2 638.6,389.4 639.1,388.0 639.6,386.1 640.1,384.2 640.6,382.7 641.1,381.9 641.6,381.4 642.1,381.0 642.6,380.4 643.1,379.6 643.6,378.7 644.1,377.8 644.6,377.0 645.1,376.4 645.6,375.9 646.1,375.2 646.6,374.4 647.1,373.5 647.6,372.6 648.1,371.6 648.6,370.8 649.1,370.0 649.6,369.1 650.1,368.1 650.6,367.0 651.1,366.7 651.6,366.5 652.1,366.4 652.6,366.4 653.1,366.1 653.6,365.7 654.1,365.2 654.6,365.0 655.1,365.2 655.6,365.8 656.1,366.4 656.6,366.8 657.1,367.0 657.6,367.2 658.1,367.5 658.6,367.9 659.1,368.0 659.6,367.7 660.1,366.9 660.6,365.9 661.1,365.0 661.6,364.5 662.1,365.3 662.6,366.6 663.1,368.2 663.6,370.0 664.1,371.8 664.6,373.4 665.1,375.1 665.6,377.0 666.1,379.0 666.6,381.2 667.1,383.1 667.6,384.7 668.1,385.9 668.6,386.7 669.1,387.4 669.6,388.1 670.1,388.4 670.6,388.8 671.1,389.3 671.6,389.4 672.1,389.2 672.6,388.7 673.1,388.2 673.6,388.0 674.1,388.2 674.6,388.4 675.1,388.7 675.6,388.9 676.1,389.2 676.6,389.3 677.1,389.0 677.6,388.0 678.1,386.4 678.6,384.8 679.1,383.6 679.6,383.2 680.1,383.7 680.6,384.7 681.1,386.4 681.6,387.9 682.1,389.0 682.6,390.0 683.1,391.2 683.6,392.5 684.1,394.2 684.6,396.2 685.1,398.2 685.6,399.6 686.1,400.0 686.6,399.5 687.1,398.4 687.6,397.6 688.1,397.4 688.6,398.0 689.1,398.8 689.6,399.3 690.1,399.5 690.6,399.4 691.1,399.5 691.6,399.7 692.1,400.1 692.6,400.4 693.1,400.3 693.6,399.8 694.1,398.9 694.6,397.9 695.1,397.2 695.6,397.1 696.1,397.2 696.6,397.6 697.1,397.8 697.6,397.4 698.1,396.3 698.6,394.4 699.1,392.2 699.6,390.0 700.1,388.4 700.6,387.5 701.1,387.0 701.6,386.5 702.1,385.9 702.6,385.1 703.1,384.9 703.6,385.2 704.1,385.6 704.6,386.1 705.1,386.7 705.6,387.7 706.1,389.1 706.6,390.7 707.1,392.2 707.6,393.3 708.1,393.9 708.6,394.1 709.1,394.0 709.6,393.6 710.1,393.0 710.6,392.6 711.1,392.8 711.6,393.3 712.1,393.9 712.6,394.2 713.1,394.0 713.6,393.3 714.1,392.3 714.6,391.4 715.1,391.1 715.6,391.6 716.1,392.6 716.6,393.5 717.1,393.8 717.6,393.4 718.1,392.7 718.6,392.0 719.1,391.3 719.6,390.8 720.1,390.3 720.6,389.8 721.1,388.9 721.6,387.5 722.1,385.8 722.6,384.0 723.1,382.3 723.6,381.0 724.1,380.1 724.6,379.4 725.1,378.7 725.6,377.5 726.1,375.8 726.6,373.8 727.1,371.5 727.6,369.3 728.1,367.2 728.6,365.3 729.1,363.6 729.6,362.1 730.1,360.9 730.6,360.0 731.1,359.5 731.6,359.3 732.1,359.1 732.6,358.5 733.1,356.9 733.6,355.4 734.1,354.2 734.6,353.2 735.1,352.4 735.6,352.0 736.1,351.9 736.6,352.2 737.1,352.2 737.6,352.0 738.1,351.8 738.6,351.9 739.1,351.7 739.6,351.4 740.1,351.2 740.6,351.5 741.1,352.3 741.6,353.1 742.1,353.8 742.6,354.2 743.1,354.6 743.6,355.4 744.1,357.0 744.6,359.2 745.1,361.3 745.6,362.7" stroke="#e377c2"/></g><path d="M96.6,194.4 V545.7" fill="none" stroke="#7a7a7a" stroke-width="1.3"/><path d="M96.6,545.7 H746.0 V194.4" fill="none" stroke="#a0a0a0" stroke-width="1.8" stroke-linejoin="round"/><path d="M96.0,545.7 H98.6" stroke="#888" stroke-width="1.6"/><path d="M95.89999999999999,194.4 H97.8" stroke="#777" stroke-width="1.3"/><path d="M735,194.4 H746.0" stroke="#a0a0a0" stroke-width="1.4"/><g font-family="Liberation Sans, sans-serif" font-size="6.8" fill="#111"><path d="M92.8,232.50 H96.6" stroke="#8c8c8c" stroke-width="0.85"/><text x="92.0" y="235.40" text-anchor="end">0.06</text><path d="M92.8,279.50 H96.6" stroke="#8c8c8c" stroke-width="0.85"/><text x="92.0" y="282.40" text-anchor="end">0.04</text><path d="M92.8,326.50 H96.6" stroke="#8c8c8c" stroke-width="0.85"/><text x="92.0" y="329.40" text-anchor="end">0.02</text><path d="M92.8,373.50 H96.6" stroke="#8c8c8c" stroke-width="0.85"/><text x="92.0" y="376.40" text-anchor="end">0.00</text><path d="M92.8,420.50 H96.6" stroke="#8c8c8c" stroke-width="0.85"/><text x="92.0" y="423.40" text-anchor="end">−0.02</text><path d="M92.8,467.50 H96.6" stroke="#8c8c8c" stroke-width="0.85"/><text x="92.0" y="470.40" text-anchor="end">−0.04</text><path d="M92.8,514.50 H96.6" stroke="#8c8c8c" stroke-width="0.85"/><text x="92.0" y="517.40" text-anchor="end">−0.06</text><path d="M141.30,545.7 V549.5" stroke="#8c8c8c" stroke-width="0.85"/><text x="141.30" y="555.30" text-anchor="middle">16050</text><path d="M225.25,545.7 V549.5" stroke="#8c8c8c" stroke-width="0.85"/><text x="225.25" y="555.30" text-anchor="middle">16075</text><path d="M309.20,545.7 V549.5" stroke="#8c8c8c" stroke-width="0.85"/><text x="309.20" y="555.30" text-anchor="middle">16100</text><path d="M393.15,545.7 V549.5" stroke="#8c8c8c" stroke-width="0.85"/><text x="393.15" y="555.30" text-anchor="middle">16125</text><path d="M477.10,545.7 V549.5" stroke="#8c8c8c" stroke-width="0.85"/><text x="477.10" y="555.30" text-anchor="middle">16150</text><path d="M561.05,545.7 V549.5" stroke="#8c8c8c" stroke-width="0.85"/><text x="561.05" y="555.30" text-anchor="middle">16175</text><path d="M645.00,545.7 V549.5" stroke="#8c8c8c" stroke-width="0.85"/><text x="645.00" y="555.30" text-anchor="middle">16200</text><path d="M728.95,545.7 V549.5" stroke="#8c8c8c" stroke-width="0.85"/><text x="728.95" y="555.30" text-anchor="middle">16225</text></g><text font-family="Liberation Sans, sans-serif" fill="#000" stroke="#fff" stroke-width="0.45" font-size="37.52" transform="translate(144.5,47.8) scale(1,1.068)" xml:space="preserve">Operando Modulation Excitation</text><text font-family="Liberation Sans, sans-serif" fill="#000" stroke="#fff" stroke-width="0.45" font-size="37.8" transform="translate(148.3,92.5) scale(1,1.06)" xml:space="preserve">X-Ray Absorption Spectroscopy</text><text font-family="Liberation Sans, sans-serif" fill="#000" stroke="#fff" stroke-width="0.45" font-size="29.1" transform="translate(119.5,153.6) scale(1,1.045)" xml:space="preserve">Phase-resolved (PSD) demodulated spectrum</text><text font-family="Liberation Sans, sans-serif" fill="#000" stroke="#fff" stroke-width="0.45" font-size="29.1" transform="translate(202.7,188.7) scale(1,1.045)" xml:space="preserve">for  phase angles 0-360 degrees.</text><text font-family="Liberation Sans, sans-serif" fill="#000" stroke="#fff" stroke-width="0.45" font-size="33.7" transform="translate(117.6,529.9) scale(1,1.05)" xml:space="preserve">Energy (eV)</text><text font-family="Liberation Sans, sans-serif" fill="#000" stroke="#fff" stroke-width="0.45" font-size="33.3" transform="translate(42.1,521.7) rotate(-90) scale(1,1.03)" xml:space="preserve">Norm. Absorption (a.u.)</text></svg></body></html>
